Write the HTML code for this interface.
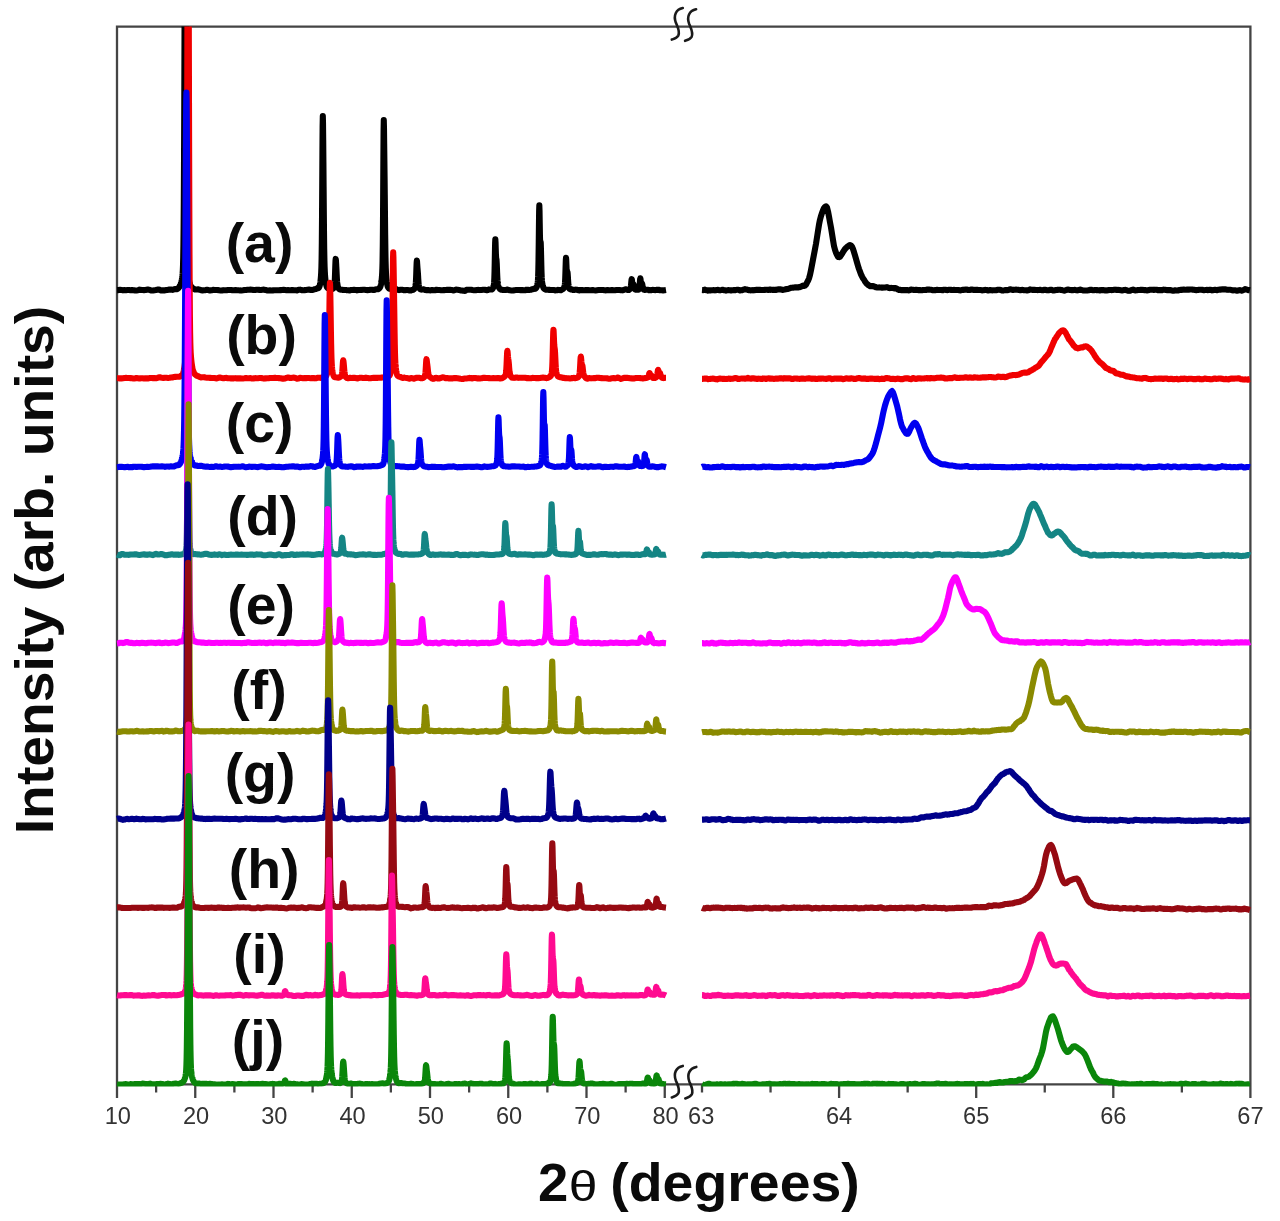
<!DOCTYPE html>
<html lang="en"><head><meta charset="utf-8"><title>XRD patterns</title>
<style>html,body{margin:0;padding:0;background:#fff}svg{display:block}</style></head>
<body>
<svg width="1280" height="1221" viewBox="0 0 1280 1221">
<defs><clipPath id="cp"><rect x="116" y="26.6" width="1136" height="1059.8"/></clipPath></defs>
<rect width="1280" height="1221" fill="#ffffff"/>
<g stroke="#444444" stroke-width="2.3" fill="none" stroke-linecap="butt">
<path d="M117,1098 V26.6 H1250.4 V1098"/>
<path d="M117,1084.4 H1250.4"/>
<path d="M156.12,1084 V1092.5"/>
<path d="M195.25,1084 V1098"/>
<path d="M234.38,1084 V1092.5"/>
<path d="M273.50,1084 V1098"/>
<path d="M312.62,1084 V1092.5"/>
<path d="M351.75,1084 V1098"/>
<path d="M390.88,1084 V1092.5"/>
<path d="M430.00,1084 V1098"/>
<path d="M469.12,1084 V1092.5"/>
<path d="M508.25,1084 V1098"/>
<path d="M547.38,1084 V1092.5"/>
<path d="M586.50,1084 V1098"/>
<path d="M625.62,1084 V1092.5"/>
<path d="M664.75,1084 V1098"/>
<path d="M702.00,1084 V1092.5"/>
<path d="M770.55,1084 V1092.5"/>
<path d="M839.10,1084 V1098"/>
<path d="M907.65,1084 V1092.5"/>
<path d="M976.20,1084 V1098"/>
<path d="M1044.75,1084 V1092.5"/>
<path d="M1113.30,1084 V1098"/>
<path d="M1181.85,1084 V1092.5"/>
</g>
<g clip-path="url(#cp)" fill="none" stroke-linejoin="round" stroke-linecap="butt">
<path d="M117.00,290.12 L118.50,290.08 L120.00,289.89 L121.50,290.10 L123.00,290.33 L124.50,290.13 L126.00,290.18 L127.50,290.01 L129.00,289.98 L130.50,290.18 L132.00,289.98 L133.50,290.22 L135.00,290.39 L136.50,290.43 L138.00,290.24 L139.50,289.66 L141.00,289.88 L142.50,290.00 L144.00,290.13 L145.50,290.03 L147.00,289.62 L148.50,289.63 L150.00,290.05 L151.50,290.51 L153.00,290.47 L154.50,290.22 L156.00,290.03 L157.50,289.57 L159.00,289.55 L160.50,290.34 L162.00,290.34 L163.50,290.26 L165.00,290.33 L166.50,290.00 L168.00,289.85 L169.50,289.57 L171.00,289.58 L172.50,289.83 L174.00,289.32 L175.50,289.06 L176.41,289.14 L176.61,289.14 L176.81,289.13 L177.00,289.12 L177.01,289.11 L177.21,289.02 L177.41,288.92 L177.61,288.81 L177.81,288.69 L178.01,288.56 L178.21,288.34 L178.41,288.12 L178.50,288.01 L178.61,287.87 L178.81,287.61 L179.01,287.32 L179.21,287.08 L179.41,286.81 L179.61,286.50 L179.81,286.16 L180.00,285.79 L180.01,285.78 L180.21,285.39 L180.41,284.94 L180.61,284.45 L180.81,283.89 L181.01,283.26 L181.21,282.55 L181.41,281.75 L181.50,281.37 L181.61,280.87 L181.81,279.87 L182.01,278.74 L182.21,277.48 L182.41,275.89 L182.61,273.70 L182.81,270.48 L183.00,265.81 L183.01,265.50 L183.21,257.58 L183.41,245.31 L183.61,226.88 L183.81,200.44 L184.01,164.59 L184.21,119.04 L184.41,65.15 L184.50,39.05 L184.61,6.47 L184.81,-51.31 L185.01,-100.90 L185.21,-134.70 L185.41,-146.75 L185.61,-134.89 L185.81,-101.49 L186.00,-55.10 L186.01,-52.39 L186.21,5.02 L186.41,63.46 L186.61,117.27 L186.81,162.90 L187.01,198.93 L187.21,225.58 L187.41,244.26 L187.50,250.54 L187.61,256.77 L187.81,264.89 L188.01,270.11 L188.21,273.50 L188.41,275.82 L188.61,277.53 L188.81,278.89 L189.00,279.98 L189.01,280.03 L189.21,281.04 L189.41,281.94 L189.61,282.74 L189.81,283.47 L190.01,284.12 L190.21,284.74 L190.41,285.28 L190.50,285.51 L190.61,285.77 L190.81,286.21 L191.01,286.60 L191.21,286.87 L191.41,287.11 L191.61,287.31 L191.81,287.48 L192.00,287.61 L192.01,287.62 L192.21,287.80 L192.41,287.96 L192.61,288.10 L192.81,288.23 L193.01,288.34 L193.21,288.48 L193.41,288.60 L193.50,288.65 L193.61,288.71 L193.81,288.82 L194.01,288.92 L194.21,289.05 L194.41,289.18 L194.61,289.30 L194.81,289.42 L195.00,289.52 L195.01,289.52 L195.21,289.51 L195.41,289.50 L195.61,289.48 L195.81,289.46 L196.01,289.44 L196.21,289.43 L196.41,289.43 L196.50,289.42 L198.00,289.33 L199.50,289.67 L201.00,290.21 L202.50,290.37 L204.00,290.22 L205.50,290.10 L207.00,289.86 L208.50,290.07 L210.00,290.53 L211.50,290.28 L213.00,289.79 L214.50,289.99 L216.00,289.98 L217.50,289.93 L219.00,290.32 L220.50,290.46 L222.00,290.35 L223.50,290.17 L225.00,290.30 L226.50,290.32 L228.00,290.06 L229.50,290.04 L231.00,289.97 L232.50,290.26 L234.00,290.23 L235.50,290.09 L237.00,290.26 L238.50,290.32 L240.00,290.42 L241.50,290.43 L243.00,290.26 L244.50,289.98 L246.00,290.05 L247.50,289.83 L249.00,289.70 L250.50,289.65 L252.00,289.69 L253.50,289.99 L255.00,290.04 L256.50,289.83 L258.00,289.70 L259.50,289.87 L261.00,289.94 L262.50,289.80 L264.00,289.63 L265.50,289.90 L267.00,290.42 L268.50,290.54 L270.00,290.31 L271.50,290.43 L273.00,290.36 L274.50,290.30 L276.00,290.28 L277.50,290.23 L279.00,290.30 L280.50,290.13 L282.00,289.94 L283.50,289.81 L285.00,290.03 L286.50,290.22 L288.00,290.12 L289.50,290.23 L291.00,290.16 L292.50,290.02 L294.00,290.21 L295.50,290.28 L297.00,290.36 L298.50,289.79 L300.00,289.67 L301.50,290.12 L303.00,290.23 L304.50,290.12 L306.00,289.91 L307.50,289.74 L309.00,289.60 L310.50,289.88 L312.00,290.03 L313.50,289.53 L313.81,289.50 L314.01,289.47 L314.21,289.39 L314.41,289.32 L314.61,289.24 L314.81,289.15 L315.00,289.07 L315.01,289.07 L315.21,289.05 L315.41,289.02 L315.61,288.99 L315.81,288.96 L316.01,288.92 L316.21,288.83 L316.41,288.73 L316.50,288.68 L316.61,288.63 L316.81,288.52 L317.01,288.41 L317.21,288.41 L317.41,288.39 L317.61,288.37 L317.81,288.33 L318.00,288.28 L318.01,288.27 L318.21,288.18 L318.41,288.06 L318.61,287.90 L318.81,287.69 L319.01,287.42 L319.21,287.06 L319.41,286.61 L319.50,286.37 L319.61,286.04 L319.81,285.32 L320.01,284.42 L320.21,283.25 L320.41,281.84 L320.61,280.16 L320.81,278.13 L321.00,275.76 L321.01,275.62 L321.21,272.23 L321.41,267.02 L321.61,258.18 L321.81,243.15 L322.01,219.75 L322.21,188.32 L322.41,153.84 L322.50,139.85 L322.61,126.27 L322.81,115.95 L323.01,123.29 L323.21,140.53 L323.41,162.41 L323.61,187.21 L323.81,211.91 L324.00,232.12 L324.01,233.07 L324.21,249.10 L324.41,260.08 L324.61,267.16 L324.81,271.75 L325.01,274.95 L325.21,277.41 L325.41,279.44 L325.50,280.24 L325.61,281.14 L325.81,282.59 L326.01,283.80 L326.21,284.80 L326.41,285.63 L326.61,286.30 L326.71,286.59 L326.81,286.85 L326.91,287.08 L327.00,287.27 L327.01,287.29 L327.11,287.45 L327.21,287.59 L327.31,287.71 L327.41,287.82 L327.51,287.92 L327.61,288.00 L327.71,288.07 L327.81,288.14 L327.91,288.20 L328.01,288.25 L328.11,288.31 L328.21,288.36 L328.31,288.41 L328.41,288.46 L328.50,288.50 L328.51,288.50 L328.61,288.54 L328.71,288.57 L328.81,288.61 L328.91,288.64 L329.01,288.66 L329.11,288.69 L329.21,288.71 L329.31,288.73 L329.41,288.75 L329.51,288.76 L329.61,288.78 L329.71,288.79 L329.81,288.81 L329.91,288.82 L330.00,288.83 L330.01,288.83 L330.11,288.85 L330.21,288.87 L330.31,288.89 L330.41,288.91 L330.51,288.93 L330.61,288.94 L330.71,288.96 L330.81,288.97 L330.91,288.98 L331.01,288.99 L331.11,289.01 L331.21,289.03 L331.31,289.05 L331.41,289.07 L331.50,289.08 L331.51,289.08 L331.61,289.09 L331.71,289.10 L331.81,289.10 L331.91,289.11 L332.01,289.10 L332.11,289.08 L332.21,289.05 L332.31,289.02 L332.41,288.98 L332.51,288.94 L332.61,288.88 L332.71,288.83 L332.81,288.76 L332.91,288.68 L333.00,288.61 L333.01,288.60 L333.11,288.54 L333.21,288.46 L333.31,288.37 L333.41,288.27 L333.51,288.15 L333.61,288.02 L333.71,287.88 L333.81,287.71 L333.91,287.51 L334.11,286.93 L334.31,285.98 L334.50,284.47 L334.51,284.37 L334.71,281.64 L334.91,277.40 L335.11,271.74 L335.31,265.57 L335.51,260.69 L335.71,258.93 L335.91,260.31 L336.00,261.55 L336.11,263.29 L336.31,266.89 L336.51,270.98 L336.71,275.20 L336.91,278.96 L337.11,281.93 L337.31,284.05 L337.50,285.38 L337.51,285.44 L337.71,286.34 L337.91,286.95 L338.11,287.44 L338.31,287.84 L338.51,288.19 L338.71,288.48 L338.91,288.74 L339.00,288.84 L339.11,288.94 L339.31,289.10 L339.51,289.24 L339.71,289.35 L339.91,289.44 L340.11,289.51 L340.31,289.56 L340.50,289.60 L340.51,289.60 L340.71,289.64 L340.91,289.67 L341.11,289.70 L341.31,289.72 L341.51,289.74 L341.71,289.76 L341.91,289.78 L342.00,289.79 L342.11,289.81 L342.31,289.84 L342.51,289.87 L342.71,289.90 L342.91,289.94 L343.11,289.95 L343.31,289.94 L343.50,289.94 L343.51,289.93 L343.71,289.93 L343.91,289.92 L344.11,289.93 L344.31,289.94 L344.51,289.96 L344.71,289.97 L344.91,289.99 L345.00,289.99 L345.11,290.00 L345.31,290.01 L345.51,290.03 L345.71,290.04 L345.91,290.05 L346.11,290.07 L346.31,290.11 L346.50,290.14 L346.51,290.14 L346.71,290.17 L348.00,290.27 L349.50,290.40 L351.00,290.08 L352.50,289.96 L354.00,289.76 L355.50,289.94 L357.00,290.38 L358.50,290.08 L360.00,289.96 L361.50,289.91 L363.00,289.75 L364.50,289.81 L366.00,289.99 L367.50,290.10 L369.00,290.01 L370.50,289.71 L372.00,289.74 L373.50,290.06 L374.78,289.71 L374.98,289.61 L375.00,289.60 L375.18,289.55 L375.38,289.49 L375.58,289.44 L375.78,289.38 L375.98,289.32 L376.18,289.30 L376.38,289.28 L376.50,289.27 L376.58,289.26 L376.78,289.24 L376.98,289.22 L377.18,289.22 L377.38,289.23 L377.58,289.23 L377.78,289.23 L377.98,289.22 L378.00,289.22 L378.18,289.12 L378.38,289.01 L378.58,288.89 L378.78,288.75 L378.98,288.60 L379.18,288.42 L379.38,288.22 L379.50,288.08 L379.58,287.99 L379.78,287.71 L379.98,287.37 L380.18,286.99 L380.38,286.51 L380.58,285.93 L380.78,285.21 L380.98,284.33 L381.00,284.23 L381.18,283.30 L381.38,282.04 L381.58,280.52 L381.78,278.65 L381.98,276.32 L382.18,273.10 L382.38,268.19 L382.50,263.75 L382.58,259.86 L382.78,245.58 L382.98,223.05 L383.18,192.41 L383.38,158.27 L383.58,130.50 L383.78,119.98 L383.98,127.69 L384.00,129.11 L384.18,143.82 L384.38,160.44 L384.58,176.81 L384.78,195.54 L384.98,215.99 L385.18,234.99 L385.38,250.22 L385.50,257.21 L385.58,261.01 L385.78,268.06 L385.98,272.62 L386.18,275.76 L386.38,278.15 L386.58,280.08 L386.78,281.69 L386.98,283.04 L387.00,283.16 L387.18,284.19 L387.38,285.14 L387.58,285.92 L387.78,286.55 L387.98,287.06 L388.18,287.47 L388.38,287.79 L388.50,287.96 L388.58,288.06 L388.78,288.28 L388.98,288.46 L389.18,288.57 L389.38,288.66 L389.58,288.74 L389.78,288.80 L389.98,288.85 L390.00,288.86 L390.18,288.83 L390.38,288.79 L390.58,288.75 L390.78,288.70 L390.98,288.65 L391.18,288.73 L391.38,288.82 L391.50,288.88 L391.58,288.91 L391.78,289.00 L391.98,289.08 L392.18,289.12 L392.38,289.14 L392.58,289.17 L392.78,289.19 L392.98,289.21 L393.00,289.21 L393.18,289.24 L393.38,289.27 L393.58,289.30 L393.78,289.33 L393.98,289.35 L394.18,289.29 L394.38,289.22 L394.50,289.18 L394.58,289.15 L394.78,289.08 L396.00,289.13 L397.50,289.80 L399.00,290.10 L400.50,289.73 L402.00,289.72 L403.50,290.10 L405.00,290.28 L406.50,290.01 L407.87,289.93 L408.00,289.93 L408.07,289.96 L408.27,290.04 L408.47,290.13 L408.67,290.22 L408.87,290.30 L409.07,290.36 L409.27,290.37 L409.47,290.38 L409.50,290.38 L409.67,290.39 L409.87,290.40 L410.07,290.41 L410.27,290.42 L410.47,290.43 L410.67,290.45 L410.87,290.46 L411.00,290.46 L411.07,290.43 L411.27,290.34 L411.47,290.25 L411.67,290.16 L411.87,290.06 L412.07,289.99 L412.27,289.98 L412.47,289.96 L412.50,289.96 L412.67,289.94 L412.87,289.91 L413.07,289.85 L413.27,289.73 L413.47,289.59 L413.67,289.44 L413.87,289.26 L414.00,289.13 L414.07,289.07 L414.27,288.86 L414.47,288.61 L414.67,288.31 L414.87,287.96 L415.07,287.53 L415.27,286.98 L415.47,286.14 L415.50,285.97 L415.67,284.72 L415.87,282.26 L416.07,278.38 L416.27,273.08 L416.47,267.16 L416.67,262.34 L416.87,260.60 L417.00,261.34 L417.07,262.17 L417.27,265.21 L417.47,268.03 L417.67,270.28 L417.87,272.70 L418.07,275.76 L418.27,279.06 L418.47,282.02 L418.50,282.41 L418.67,284.29 L418.87,285.84 L419.07,286.84 L419.27,287.52 L419.47,288.01 L419.67,288.40 L419.87,288.72 L420.00,288.91 L420.07,288.98 L420.27,289.16 L420.47,289.30 L420.67,289.41 L420.87,289.49 L421.07,289.54 L421.27,289.57 L421.47,289.59 L421.50,289.59 L421.67,289.59 L421.87,289.59 L422.07,289.57 L422.27,289.53 L422.47,289.48 L422.67,289.44 L422.87,289.39 L423.00,289.36 L423.07,289.36 L423.27,289.38 L423.47,289.39 L423.67,289.41 L423.87,289.42 L424.07,289.46 L424.27,289.56 L424.47,289.66 L424.50,289.68 L424.67,289.76 L424.87,289.86 L425.07,289.94 L425.27,289.98 L425.47,290.02 L425.67,290.05 L425.87,290.09 L426.00,290.11 L426.07,290.12 L426.27,290.13 L426.47,290.15 L426.67,290.16 L426.87,290.18 L427.07,290.17 L427.27,290.11 L427.47,290.05 L427.50,290.04 L427.67,289.99 L427.87,289.93 L429.00,290.31 L430.50,290.36 L432.00,289.94 L433.50,290.23 L435.00,290.12 L436.50,289.87 L438.00,290.04 L439.50,290.02 L441.00,290.20 L442.50,290.31 L444.00,290.11 L445.50,289.95 L447.00,289.88 L448.50,289.90 L450.00,289.76 L451.50,289.93 L453.00,290.41 L454.50,290.15 L456.00,289.66 L457.50,289.71 L459.00,289.95 L460.50,290.44 L462.00,290.43 L463.50,290.76 L465.00,290.87 L466.50,289.91 L468.00,289.78 L469.50,289.79 L471.00,289.76 L472.50,290.04 L474.00,290.28 L475.50,290.29 L477.00,289.98 L478.50,289.91 L480.00,290.08 L481.50,289.91 L483.00,289.72 L484.50,289.71 L486.00,290.06 L486.33,290.13 L486.53,290.17 L486.73,290.22 L486.93,290.26 L487.13,290.24 L487.33,290.19 L487.50,290.14 L487.53,290.14 L487.73,290.08 L487.93,290.03 L488.13,289.94 L488.33,289.82 L488.53,289.70 L488.73,289.58 L488.93,289.46 L489.00,289.42 L489.13,289.43 L489.33,289.45 L489.53,289.47 L489.73,289.48 L489.93,289.50 L490.13,289.51 L490.33,289.52 L490.50,289.52 L490.53,289.52 L490.73,289.52 L490.93,289.51 L491.13,289.51 L491.33,289.51 L491.53,289.50 L491.73,289.47 L491.93,289.42 L492.00,289.39 L492.13,289.29 L492.33,289.10 L492.53,288.86 L492.73,288.58 L492.93,288.23 L493.13,287.80 L493.33,287.28 L493.50,286.74 L493.53,286.63 L493.73,285.75 L493.93,284.42 L494.13,282.15 L494.33,278.18 L494.53,271.75 L494.73,262.65 L494.93,252.09 L495.00,248.54 L495.13,242.99 L495.33,239.21 L495.53,242.13 L495.73,248.59 L495.93,254.51 L496.13,257.76 L496.33,258.83 L496.50,259.68 L496.53,259.95 L496.73,263.08 L496.93,267.98 L497.13,273.25 L497.33,277.72 L497.53,280.93 L497.73,283.01 L497.93,284.33 L498.00,284.68 L498.13,285.26 L498.33,285.98 L498.53,286.55 L498.73,287.03 L498.93,287.44 L499.13,287.82 L499.33,288.16 L499.50,288.41 L499.53,288.46 L499.73,288.71 L499.93,288.94 L500.13,289.12 L500.33,289.26 L500.53,289.39 L500.73,289.51 L500.93,289.62 L501.00,289.66 L501.13,289.68 L501.33,289.72 L501.53,289.74 L501.73,289.77 L501.93,289.79 L502.13,289.82 L502.33,289.85 L502.50,289.87 L502.53,289.88 L502.73,289.91 L502.93,289.93 L503.13,289.96 L503.33,289.98 L503.53,290.01 L503.73,290.03 L503.93,290.06 L504.00,290.06 L504.13,290.05 L504.33,290.04 L504.53,290.02 L504.73,290.01 L504.93,289.99 L505.13,289.98 L505.33,289.97 L505.50,289.96 L505.53,289.96 L505.73,289.96 L505.93,289.95 L506.13,289.90 L506.33,289.82 L507.00,289.58 L508.50,289.93 L510.00,290.31 L511.50,290.50 L513.00,290.50 L514.50,290.18 L516.00,290.06 L517.50,289.94 L519.00,290.06 L520.50,290.11 L522.00,290.00 L523.50,290.31 L525.00,290.27 L526.50,289.72 L528.00,289.84 L529.50,289.93 L530.33,289.83 L530.53,289.80 L530.73,289.78 L530.93,289.76 L531.00,289.75 L531.13,289.69 L531.33,289.59 L531.53,289.50 L531.73,289.41 L531.93,289.31 L532.13,289.26 L532.33,289.24 L532.50,289.22 L532.53,289.22 L532.73,289.19 L532.93,289.16 L533.13,289.09 L533.33,289.00 L533.53,288.91 L533.73,288.81 L533.93,288.71 L534.00,288.67 L534.13,288.71 L534.33,288.76 L534.53,288.80 L534.73,288.84 L534.93,288.86 L535.13,288.81 L535.33,288.71 L535.50,288.60 L535.53,288.58 L535.73,288.43 L535.93,288.24 L536.13,288.02 L536.33,287.74 L536.53,287.39 L536.73,286.96 L536.93,286.42 L537.00,286.21 L537.13,285.74 L537.33,284.89 L537.53,283.82 L537.73,282.37 L537.93,280.15 L538.13,276.38 L538.33,269.78 L538.50,260.94 L538.53,259.03 L538.73,243.80 L538.93,226.14 L539.13,211.11 L539.33,205.30 L539.53,211.12 L539.73,223.35 L539.93,234.82 L540.00,237.74 L540.13,241.25 L540.33,242.42 L540.53,241.42 L540.73,242.66 L540.93,248.31 L541.13,256.82 L541.33,265.46 L541.50,271.56 L541.53,272.48 L541.73,277.38 L541.93,280.53 L542.13,282.52 L542.33,283.87 L542.53,284.89 L542.73,285.69 L542.93,286.35 L543.00,286.55 L543.13,286.94 L543.33,287.44 L543.53,287.87 L543.73,288.22 L543.93,288.51 L544.13,288.72 L544.33,288.88 L544.50,289.00 L544.53,289.02 L544.73,289.13 L544.93,289.22 L545.13,289.32 L545.33,289.43 L545.53,289.52 L545.73,289.61 L545.93,289.69 L546.00,289.72 L546.13,289.73 L546.33,289.75 L546.53,289.77 L546.73,289.78 L546.93,289.79 L547.13,289.80 L547.33,289.80 L547.50,289.80 L547.53,289.80 L547.73,289.79 L547.93,289.79 L548.13,289.80 L548.33,289.82 L548.53,289.83 L548.73,289.85 L548.93,289.86 L549.00,289.87 L549.13,289.87 L549.33,289.88 L549.53,289.89 L549.73,289.89 L549.93,289.90 L550.13,289.93 L550.33,289.97 L550.50,290.01 L552.00,289.99 L553.50,289.93 L555.00,290.39 L556.50,290.31 L557.02,290.27 L557.22,290.19 L557.42,290.10 L557.62,290.02 L557.82,289.93 L558.00,289.86 L558.02,289.86 L558.22,289.91 L558.42,289.96 L558.62,290.00 L558.82,290.05 L559.02,290.09 L559.22,290.08 L559.42,290.07 L559.50,290.06 L559.62,290.06 L559.82,290.04 L560.02,290.04 L560.22,290.07 L560.42,290.11 L560.62,290.14 L560.82,290.17 L561.00,290.19 L561.02,290.18 L561.22,290.05 L561.42,289.91 L561.62,289.77 L561.82,289.62 L562.02,289.48 L562.22,289.40 L562.42,289.31 L562.50,289.27 L562.62,289.21 L562.82,289.09 L563.02,288.95 L563.22,288.76 L563.42,288.53 L563.62,288.27 L563.82,287.96 L564.00,287.63 L564.02,287.60 L564.22,287.30 L564.42,286.86 L564.62,286.14 L564.82,284.84 L565.02,282.48 L565.22,278.46 L565.42,272.72 L565.50,270.06 L565.62,265.97 L565.82,260.12 L566.02,257.70 L566.22,259.86 L566.42,264.72 L566.62,269.51 L566.82,272.41 L567.00,273.07 L567.02,273.05 L567.22,272.33 L567.42,271.85 L567.62,273.00 L567.82,275.79 L568.02,279.18 L568.22,282.30 L568.42,284.66 L568.50,285.38 L568.62,286.25 L568.82,287.28 L569.02,287.97 L569.22,288.34 L569.42,288.62 L569.62,288.83 L569.82,288.98 L570.00,289.09 L570.02,289.10 L570.22,289.22 L570.42,289.31 L570.62,289.38 L570.82,289.43 L571.02,289.46 L571.22,289.46 L571.42,289.45 L571.50,289.44 L571.62,289.43 L571.82,289.41 L572.02,289.40 L572.22,289.51 L572.42,289.62 L572.62,289.73 L572.82,289.84 L573.00,289.93 L573.02,289.93 L573.22,289.94 L573.42,289.95 L573.62,289.96 L573.82,289.97 L574.02,289.98 L574.22,289.93 L574.42,289.88 L574.50,289.87 L574.62,289.84 L574.82,289.79 L575.02,289.75 L575.22,289.72 L575.42,289.70 L575.62,289.67 L575.82,289.65 L576.00,289.62 L576.02,289.63 L576.22,289.67 L576.42,289.71 L576.62,289.75 L576.82,289.78 L577.02,289.83 L577.50,290.02 L579.00,290.41 L580.50,290.09 L582.00,289.97 L583.50,290.20 L585.00,290.15 L586.50,289.99 L588.00,290.13 L589.50,290.29 L591.00,290.23 L592.50,290.06 L594.00,290.32 L595.50,290.44 L597.00,290.22 L598.50,290.03 L600.00,289.95 L601.50,290.06 L603.00,290.05 L604.50,290.29 L606.00,290.38 L607.50,290.00 L609.00,290.24 L610.50,290.28 L612.00,289.98 L613.50,290.20 L615.00,290.19 L616.50,289.97 L618.00,290.05 L619.50,289.98 L621.00,290.20 L622.50,290.33 L622.72,290.29 L622.92,290.25 L623.12,290.17 L623.32,290.07 L623.52,289.97 L623.72,289.87 L623.92,289.77 L624.00,289.72 L624.12,289.70 L624.32,289.65 L624.52,289.60 L624.72,289.55 L624.92,289.50 L625.12,289.45 L625.32,289.42 L625.50,289.39 L625.52,289.38 L625.72,289.35 L625.92,289.31 L626.12,289.36 L626.32,289.47 L626.52,289.57 L626.72,289.67 L626.92,289.77 L627.00,289.81 L627.12,289.83 L627.32,289.85 L627.52,289.88 L627.72,289.90 L627.92,289.92 L628.12,289.93 L628.32,289.93 L628.50,289.93 L628.52,289.93 L628.72,289.93 L628.92,289.91 L629.12,289.82 L629.32,289.66 L629.52,289.49 L629.72,289.31 L629.92,289.09 L630.00,288.99 L630.12,288.87 L630.32,288.58 L630.52,288.10 L630.72,287.27 L630.92,285.92 L631.12,284.02 L631.32,281.80 L631.50,280.04 L631.52,279.89 L631.72,279.13 L631.92,279.91 L632.12,281.65 L632.32,283.45 L632.52,284.70 L632.72,285.16 L632.92,284.94 L633.00,284.73 L633.12,284.42 L633.32,284.07 L633.52,284.29 L633.72,285.16 L633.92,286.33 L634.12,287.40 L634.32,288.20 L634.50,288.68 L634.52,288.72 L634.72,289.05 L634.92,289.24 L635.12,289.39 L635.32,289.51 L635.52,289.61 L635.72,289.69 L635.92,289.75 L636.00,289.77 L636.12,289.77 L636.32,289.75 L636.52,289.72 L636.72,289.68 L636.92,289.63 L637.12,289.64 L637.32,289.69 L637.50,289.73 L637.52,289.73 L637.72,289.76 L637.92,289.77 L638.12,289.76 L638.32,289.73 L638.52,289.66 L638.72,289.54 L638.92,289.32 L639.00,289.17 L639.12,288.81 L639.32,287.87 L639.52,286.31 L639.72,284.10 L639.92,281.50 L640.12,279.23 L640.32,278.30 L640.50,278.99 L640.52,279.15 L640.72,281.11 L640.92,283.18 L641.12,284.62 L641.32,285.17 L641.52,284.92 L641.72,284.22 L641.92,283.59 L642.00,283.49 L642.12,283.61 L642.32,284.43 L642.52,285.69 L642.72,286.96 L642.92,287.98 L643.12,288.68 L643.32,289.11 L643.50,289.35 L643.52,289.37 L643.72,289.55 L643.92,289.69 L644.12,289.77 L644.32,289.82 L644.52,289.86 L644.72,289.88 L644.92,289.89 L645.00,289.89 L645.12,289.87 L645.32,289.84 L645.52,289.81 L645.72,289.77 L645.92,289.73 L646.12,289.72 L646.32,289.73 L646.50,289.73 L646.52,289.73 L646.72,289.74 L646.92,289.74 L647.12,289.74 L647.32,289.74 L647.52,289.74 L647.72,289.74 L647.92,289.74 L648.00,289.73 L648.12,289.79 L648.32,289.88 L648.52,289.96 L648.72,290.05 L648.92,290.14 L649.12,290.18 L649.32,290.17 L649.50,290.17 L649.52,290.17 L649.72,290.17 L649.92,290.17 L650.12,290.17 L650.32,290.18 L650.52,290.19 L650.72,290.19 L650.92,290.20 L651.00,290.20 L651.12,290.17 L651.32,290.12 L652.50,289.90 L654.00,290.01 L655.50,290.14 L657.00,289.79 L658.50,289.80 L660.00,290.23 L661.50,290.25 L663.00,290.35 L664.50,290.16 L666.00,289.92" stroke="#000000" stroke-width="6.1"/>
<path d="M702.00,290.04 L703.00,290.11 L704.00,290.04 L705.00,289.63 L706.00,290.15 L707.00,290.25 L708.00,290.63 L709.00,290.33 L710.00,290.40 L711.00,290.35 L712.00,290.19 L713.00,290.16 L714.00,290.08 L715.00,290.34 L716.00,290.10 L717.00,290.00 L718.00,289.89 L719.00,290.22 L720.00,290.33 L721.00,290.11 L722.00,289.88 L723.00,289.77 L724.00,290.19 L725.00,290.36 L726.00,290.64 L727.00,290.38 L728.00,290.14 L729.00,290.13 L730.00,290.34 L731.00,290.53 L732.00,290.33 L733.00,290.23 L734.00,290.08 L735.00,290.20 L736.00,289.91 L737.00,289.81 L738.00,289.78 L739.00,289.94 L740.00,290.40 L741.00,290.26 L742.00,290.21 L743.00,289.71 L744.00,289.45 L745.00,289.16 L746.00,289.41 L747.00,289.52 L748.00,289.98 L749.00,290.13 L750.00,290.27 L751.00,290.35 L752.00,290.16 L753.00,290.38 L754.00,290.07 L755.00,290.18 L756.00,289.84 L757.00,289.97 L758.00,289.74 L759.00,289.86 L760.00,289.85 L761.00,289.95 L762.00,289.95 L763.00,289.96 L764.00,290.05 L765.00,289.83 L766.00,289.80 L767.00,289.77 L768.00,289.86 L769.00,289.83 L770.00,289.49 L771.00,289.84 L772.00,289.73 L773.00,289.92 L774.00,289.87 L775.00,289.88 L776.00,289.97 L777.00,289.60 L778.00,289.52 L779.00,289.19 L780.00,289.31 L781.00,289.56 L782.00,289.81 L783.00,289.97 L784.00,289.63 L785.00,289.43 L786.00,289.10 L787.00,289.08 L788.00,288.91 L789.00,288.58 L790.00,288.23 L791.00,287.87 L792.00,287.69 L793.00,287.66 L794.00,287.47 L795.00,287.41 L796.00,287.37 L797.00,287.40 L798.00,287.40 L799.00,286.94 L800.00,287.13 L801.00,286.51 L802.00,286.25 L803.00,285.55 L804.00,285.91 L805.00,285.55 L806.00,284.56 L807.00,282.58 L808.00,280.81 L809.00,278.37 L810.00,274.87 L811.00,270.11 L812.00,264.85 L813.00,259.57 L814.00,254.34 L815.00,249.15 L816.00,243.80 L817.00,237.39 L818.00,230.97 L819.00,224.68 L820.00,219.68 L821.00,215.92 L822.00,213.07 L823.00,210.20 L824.00,208.05 L825.00,206.73 L826.00,206.33 L827.00,207.49 L828.00,211.41 L829.00,216.65 L830.00,222.28 L831.00,227.53 L832.00,233.72 L833.00,239.98 L834.00,245.95 L835.00,249.87 L836.00,252.76 L837.00,254.97 L838.00,256.90 L839.00,257.12 L840.00,256.70 L841.00,255.27 L842.00,253.77 L843.00,251.95 L844.00,250.51 L845.00,249.00 L846.00,248.05 L847.00,246.93 L848.00,246.21 L849.00,245.55 L850.00,245.07 L851.00,245.48 L852.00,246.68 L853.00,249.05 L854.00,252.04 L855.00,255.41 L856.00,258.77 L857.00,262.38 L858.00,265.76 L859.00,268.98 L860.00,271.67 L861.00,274.33 L862.00,276.43 L863.00,278.39 L864.00,279.61 L865.00,281.43 L866.00,282.85 L867.00,283.96 L868.00,284.75 L869.00,285.52 L870.00,286.13 L871.00,286.26 L872.00,286.06 L873.00,285.95 L874.00,286.46 L875.00,286.70 L876.00,287.33 L877.00,287.45 L878.00,287.56 L879.00,287.38 L880.00,287.43 L881.00,287.62 L882.00,287.79 L883.00,287.43 L884.00,287.58 L885.00,287.42 L886.00,287.34 L887.00,287.12 L888.00,287.35 L889.00,288.08 L890.00,288.15 L891.00,287.90 L892.00,287.95 L893.00,288.09 L894.00,288.33 L895.00,288.01 L896.00,288.20 L897.00,288.96 L898.00,289.55 L899.00,289.97 L900.00,289.79 L901.00,290.08 L902.00,290.08 L903.00,290.26 L904.00,290.05 L905.00,290.18 L906.00,289.94 L907.00,290.00 L908.00,290.22 L909.00,290.36 L910.00,290.10 L911.00,289.63 L912.00,289.67 L913.00,289.78 L914.00,289.97 L915.00,289.94 L916.00,289.75 L917.00,289.89 L918.00,289.93 L919.00,290.15 L920.00,290.06 L921.00,290.18 L922.00,290.20 L923.00,290.02 L924.00,290.06 L925.00,289.98 L926.00,290.00 L927.00,289.56 L928.00,289.63 L929.00,289.58 L930.00,289.75 L931.00,289.82 L932.00,289.99 L933.00,290.24 L934.00,290.22 L935.00,290.15 L936.00,289.93 L937.00,289.80 L938.00,289.97 L939.00,290.03 L940.00,290.04 L941.00,290.07 L942.00,290.09 L943.00,290.08 L944.00,289.70 L945.00,289.75 L946.00,289.86 L947.00,290.12 L948.00,289.98 L949.00,289.80 L950.00,289.76 L951.00,289.87 L952.00,289.98 L953.00,289.99 L954.00,289.88 L955.00,289.96 L956.00,290.02 L957.00,289.97 L958.00,290.04 L959.00,290.13 L960.00,290.38 L961.00,290.24 L962.00,290.08 L963.00,289.76 L964.00,289.90 L965.00,289.59 L966.00,289.71 L967.00,289.54 L968.00,290.02 L969.00,290.08 L970.00,289.98 L971.00,289.61 L972.00,289.50 L973.00,289.67 L974.00,289.91 L975.00,289.99 L976.00,289.87 L977.00,289.82 L978.00,290.02 L979.00,289.95 L980.00,289.99 L981.00,290.09 L982.00,290.36 L983.00,290.28 L984.00,290.12 L985.00,289.91 L986.00,289.99 L987.00,290.13 L988.00,290.56 L989.00,290.28 L990.00,290.14 L991.00,290.15 L992.00,290.34 L993.00,290.27 L994.00,290.20 L995.00,290.21 L996.00,290.24 L997.00,289.98 L998.00,289.75 L999.00,289.74 L1000.00,289.71 L1001.00,290.18 L1002.00,290.46 L1003.00,290.60 L1004.00,290.39 L1005.00,290.12 L1006.00,290.05 L1007.00,290.27 L1008.00,289.97 L1009.00,289.74 L1010.00,289.25 L1011.00,289.58 L1012.00,289.76 L1013.00,289.99 L1014.00,289.78 L1015.00,289.69 L1016.00,289.64 L1017.00,289.71 L1018.00,289.72 L1019.00,290.09 L1020.00,290.20 L1021.00,290.14 L1022.00,289.83 L1023.00,289.97 L1024.00,290.17 L1025.00,290.31 L1026.00,290.24 L1027.00,290.42 L1028.00,290.18 L1029.00,289.94 L1030.00,289.40 L1031.00,289.68 L1032.00,289.74 L1033.00,289.91 L1034.00,289.71 L1035.00,289.88 L1036.00,289.97 L1037.00,290.00 L1038.00,290.09 L1039.00,289.95 L1040.00,289.83 L1041.00,290.05 L1042.00,290.16 L1043.00,290.27 L1044.00,289.74 L1045.00,289.77 L1046.00,289.99 L1047.00,290.23 L1048.00,290.34 L1049.00,290.16 L1050.00,289.80 L1051.00,289.76 L1052.00,290.05 L1053.00,290.46 L1054.00,290.39 L1055.00,290.28 L1056.00,290.04 L1057.00,290.06 L1058.00,289.73 L1059.00,289.74 L1060.00,289.77 L1061.00,289.94 L1062.00,290.12 L1063.00,290.40 L1064.00,290.64 L1065.00,290.47 L1066.00,290.05 L1067.00,289.73 L1068.00,289.62 L1069.00,289.74 L1070.00,289.92 L1071.00,290.10 L1072.00,290.13 L1073.00,290.09 L1074.00,290.04 L1075.00,289.88 L1076.00,290.14 L1077.00,290.33 L1078.00,290.30 L1079.00,289.88 L1080.00,289.61 L1081.00,289.76 L1082.00,290.11 L1083.00,290.37 L1084.00,290.54 L1085.00,290.51 L1086.00,290.53 L1087.00,290.47 L1088.00,290.37 L1089.00,290.17 L1090.00,289.77 L1091.00,289.68 L1092.00,289.99 L1093.00,290.18 L1094.00,290.10 L1095.00,289.98 L1096.00,290.08 L1097.00,290.10 L1098.00,290.19 L1099.00,290.28 L1100.00,290.48 L1101.00,290.13 L1102.00,290.11 L1103.00,290.05 L1104.00,290.27 L1105.00,290.37 L1106.00,290.49 L1107.00,290.40 L1108.00,290.32 L1109.00,289.95 L1110.00,290.03 L1111.00,290.03 L1112.00,290.15 L1113.00,289.92 L1114.00,289.80 L1115.00,289.67 L1116.00,289.85 L1117.00,289.91 L1118.00,289.95 L1119.00,289.90 L1120.00,290.03 L1121.00,290.35 L1122.00,290.51 L1123.00,290.31 L1124.00,290.08 L1125.00,289.86 L1126.00,289.98 L1127.00,290.41 L1128.00,290.70 L1129.00,290.86 L1130.00,290.70 L1131.00,290.21 L1132.00,289.93 L1133.00,289.64 L1134.00,290.10 L1135.00,290.41 L1136.00,290.37 L1137.00,290.17 L1138.00,289.99 L1139.00,290.02 L1140.00,289.91 L1141.00,289.71 L1142.00,289.93 L1143.00,289.89 L1144.00,290.18 L1145.00,290.05 L1146.00,290.32 L1147.00,290.39 L1148.00,290.26 L1149.00,290.01 L1150.00,289.83 L1151.00,289.77 L1152.00,289.78 L1153.00,289.70 L1154.00,289.89 L1155.00,289.81 L1156.00,289.76 L1157.00,289.83 L1158.00,290.25 L1159.00,289.99 L1160.00,290.11 L1161.00,290.04 L1162.00,290.18 L1163.00,289.73 L1164.00,289.66 L1165.00,289.76 L1166.00,290.02 L1167.00,290.09 L1168.00,290.10 L1169.00,290.10 L1170.00,290.04 L1171.00,290.25 L1172.00,290.50 L1173.00,290.70 L1174.00,290.60 L1175.00,290.27 L1176.00,290.38 L1177.00,290.45 L1178.00,290.55 L1179.00,289.99 L1180.00,290.02 L1181.00,289.82 L1182.00,289.93 L1183.00,289.59 L1184.00,289.63 L1185.00,289.71 L1186.00,289.69 L1187.00,289.62 L1188.00,289.60 L1189.00,289.64 L1190.00,289.58 L1191.00,289.46 L1192.00,289.44 L1193.00,289.74 L1194.00,289.71 L1195.00,290.06 L1196.00,290.11 L1197.00,290.08 L1198.00,289.96 L1199.00,289.74 L1200.00,289.75 L1201.00,289.69 L1202.00,289.72 L1203.00,290.02 L1204.00,290.24 L1205.00,290.10 L1206.00,289.92 L1207.00,289.84 L1208.00,290.21 L1209.00,289.88 L1210.00,290.00 L1211.00,289.79 L1212.00,290.43 L1213.00,290.15 L1214.00,290.04 L1215.00,289.81 L1216.00,290.06 L1217.00,290.20 L1218.00,289.81 L1219.00,289.74 L1220.00,289.47 L1221.00,289.69 L1222.00,289.40 L1223.00,289.36 L1224.00,289.31 L1225.00,289.34 L1226.00,289.54 L1227.00,289.73 L1228.00,289.84 L1229.00,289.70 L1230.00,289.68 L1231.00,289.89 L1232.00,290.28 L1233.00,290.33 L1234.00,290.28 L1235.00,290.27 L1236.00,290.46 L1237.00,290.64 L1238.00,290.44 L1239.00,290.18 L1240.00,290.14 L1241.00,290.45 L1242.00,290.74 L1243.00,290.12 L1244.00,289.83 L1245.00,289.06 L1246.00,289.56 L1247.00,289.60 L1248.00,290.14 L1249.00,290.00 L1250.00,290.20" stroke="#000000" stroke-width="6.1"/>
<path d="M117.00,378.08 L118.50,378.17 L120.00,378.37 L121.50,378.39 L123.00,378.22 L124.50,377.97 L126.00,377.92 L127.50,377.96 L129.00,378.00 L130.50,378.08 L132.00,378.30 L133.50,378.55 L135.00,378.46 L136.50,377.98 L138.00,378.21 L139.50,378.50 L141.00,378.18 L142.50,378.22 L144.00,378.46 L145.50,378.21 L147.00,378.34 L148.50,378.39 L150.00,378.01 L151.50,378.04 L153.00,378.12 L154.50,378.05 L156.00,378.27 L157.50,377.84 L159.00,377.22 L160.50,377.39 L162.00,377.67 L163.50,377.90 L165.00,377.78 L166.50,377.79 L168.00,377.94 L169.50,377.78 L171.00,377.45 L172.50,377.38 L174.00,377.10 L175.50,376.85 L177.00,376.78 L178.50,376.74 L179.11,376.43 L179.31,376.47 L179.51,376.51 L179.71,376.54 L179.91,376.57 L180.00,376.58 L180.11,376.50 L180.31,376.36 L180.51,376.20 L180.71,376.03 L180.91,375.85 L181.11,375.71 L181.31,375.59 L181.50,375.47 L181.51,375.46 L181.71,375.30 L181.91,375.11 L182.11,374.83 L182.31,374.48 L182.51,374.07 L182.71,373.62 L182.91,373.11 L183.00,372.86 L183.11,372.60 L183.31,372.06 L183.51,371.44 L183.71,370.72 L183.91,369.89 L184.11,368.94 L184.31,367.83 L184.50,366.65 L184.51,366.58 L184.71,365.15 L184.91,363.53 L185.11,361.57 L185.31,359.17 L185.51,356.12 L185.71,351.95 L185.91,345.74 L186.00,341.91 L186.11,336.04 L186.31,320.64 L186.51,296.65 L186.71,261.05 L186.91,211.55 L187.11,147.89 L187.31,73.05 L187.50,-1.94 L187.51,-5.82 L187.71,-77.55 L187.91,-128.51 L188.11,-147.07 L188.31,-129.03 L188.51,-79.29 L188.71,-9.01 L188.91,68.80 L189.00,103.19 L189.11,143.06 L189.31,206.57 L189.51,256.24 L189.71,292.21 L189.91,316.64 L190.11,332.42 L190.31,342.35 L190.50,348.39 L190.51,348.65 L190.71,352.83 L190.91,355.82 L191.11,358.19 L191.31,360.22 L191.51,361.98 L191.71,363.54 L191.91,364.94 L192.00,365.53 L192.11,366.16 L192.31,367.22 L192.51,368.17 L192.71,369.02 L192.91,369.77 L193.11,370.46 L193.31,371.09 L193.50,371.63 L193.51,371.65 L193.71,372.16 L193.91,372.61 L194.11,373.02 L194.31,373.38 L194.51,373.70 L194.71,374.00 L194.91,374.27 L195.00,374.38 L195.11,374.48 L195.31,374.65 L195.51,374.80 L195.71,374.93 L195.91,375.05 L196.11,375.19 L196.31,375.36 L196.50,375.51 L196.51,375.51 L196.71,375.66 L196.91,375.80 L197.11,375.89 L197.31,375.95 L197.51,376.00 L197.71,376.05 L197.91,376.09 L198.00,376.11 L198.11,376.16 L198.31,376.26 L198.51,376.35 L198.71,376.45 L198.91,376.53 L199.11,376.63 L199.50,376.85 L201.00,377.41 L202.50,377.32 L204.00,377.17 L205.50,377.49 L207.00,377.75 L208.50,377.77 L210.00,377.83 L211.50,378.03 L213.00,377.98 L214.50,378.00 L216.00,378.36 L217.50,378.16 L219.00,377.67 L220.50,377.64 L222.00,377.99 L223.50,378.29 L225.00,377.96 L226.50,377.89 L228.00,378.19 L229.50,378.23 L231.00,378.35 L232.50,378.37 L234.00,378.34 L235.50,378.17 L237.00,378.36 L238.50,378.40 L240.00,378.24 L241.50,378.53 L243.00,378.51 L244.50,378.30 L246.00,378.05 L247.50,378.23 L249.00,378.26 L250.50,378.12 L252.00,378.52 L253.50,378.38 L255.00,378.17 L256.50,378.24 L258.00,378.18 L259.50,378.08 L261.00,377.95 L262.50,378.31 L264.00,378.59 L265.50,378.35 L267.00,378.20 L268.50,378.19 L270.00,377.97 L271.50,377.94 L273.00,377.94 L274.50,377.92 L276.00,377.92 L277.50,378.04 L279.00,378.11 L280.50,378.23 L282.00,378.58 L283.50,378.59 L285.00,378.48 L286.50,377.87 L288.00,377.49 L289.50,377.90 L291.00,377.96 L292.50,377.78 L294.00,377.63 L295.50,378.04 L297.00,378.66 L298.50,378.53 L300.00,377.88 L301.50,378.06 L303.00,378.21 L304.50,378.03 L306.00,378.14 L307.50,377.97 L309.00,378.08 L310.50,378.20 L312.00,378.08 L313.50,378.09 L315.00,378.35 L316.50,378.15 L318.00,377.70 L319.50,377.82 L320.93,377.83 L321.00,377.84 L321.13,377.78 L321.33,377.69 L321.53,377.59 L321.73,377.50 L321.93,377.40 L322.13,377.39 L322.33,377.42 L322.50,377.45 L322.53,377.46 L322.73,377.49 L322.93,377.52 L323.13,377.52 L323.33,377.50 L323.53,377.49 L323.73,377.47 L323.93,377.44 L324.00,377.43 L324.13,377.39 L324.33,377.31 L324.53,377.23 L324.73,377.14 L324.93,377.03 L325.13,376.92 L325.33,376.79 L325.50,376.67 L325.53,376.64 L325.73,376.47 L325.93,376.25 L326.13,375.96 L326.33,375.59 L326.53,375.16 L326.73,374.66 L326.93,374.07 L327.00,373.84 L327.13,373.50 L327.33,372.89 L327.53,372.14 L327.73,371.24 L327.93,370.12 L328.13,368.55 L328.33,366.21 L328.50,363.18 L328.53,362.49 L328.73,356.40 L328.93,346.88 L329.13,333.44 L329.33,316.94 L329.53,300.10 L329.73,287.42 L329.93,282.89 L330.00,283.35 L330.13,286.40 L330.33,294.92 L330.53,306.25 L330.73,319.23 L330.93,332.22 L331.13,343.66 L331.33,352.69 L331.50,358.37 L331.53,359.20 L331.73,363.62 L331.93,366.57 L332.13,368.63 L332.33,370.19 L332.53,371.46 L332.73,372.54 L332.93,373.48 L333.00,373.78 L333.13,374.28 L333.33,374.95 L333.53,375.54 L333.73,376.03 L333.93,376.46 L334.13,376.73 L334.23,376.82 L334.33,376.91 L334.43,376.98 L334.50,377.02 L334.53,377.04 L334.63,377.09 L334.73,377.13 L334.83,377.17 L334.93,377.20 L335.03,377.22 L335.13,377.25 L335.23,377.27 L335.33,377.28 L335.43,377.30 L335.53,377.31 L335.63,377.31 L335.73,377.32 L335.83,377.32 L335.93,377.32 L336.00,377.32 L336.03,377.32 L336.13,377.35 L336.23,377.38 L336.33,377.40 L336.43,377.43 L336.53,377.45 L336.63,377.47 L336.73,377.49 L336.83,377.51 L336.93,377.53 L337.03,377.55 L337.13,377.56 L337.23,377.57 L337.33,377.58 L337.43,377.59 L337.50,377.60 L337.53,377.60 L337.63,377.61 L337.73,377.62 L337.83,377.62 L337.93,377.63 L338.03,377.63 L338.13,377.63 L338.23,377.63 L338.33,377.63 L338.43,377.63 L338.53,377.63 L338.63,377.62 L338.73,377.62 L338.83,377.61 L338.93,377.60 L339.00,377.59 L339.03,377.58 L339.13,377.53 L339.23,377.47 L339.33,377.42 L339.43,377.36 L339.53,377.30 L339.63,377.23 L339.73,377.17 L339.83,377.10 L339.93,377.02 L340.03,376.96 L340.13,376.91 L340.23,376.86 L340.33,376.80 L340.43,376.74 L340.50,376.70 L340.53,376.68 L340.63,376.61 L340.73,376.53 L340.83,376.44 L340.93,376.35 L341.03,376.26 L341.23,376.09 L341.43,375.84 L341.63,375.46 L341.83,374.82 L342.00,373.92 L342.03,373.72 L342.23,371.98 L342.43,369.50 L342.63,366.45 L342.83,363.35 L343.03,361.06 L343.23,360.30 L343.43,361.04 L343.50,361.54 L343.63,362.66 L343.83,364.74 L344.03,367.11 L344.23,369.48 L344.43,371.62 L344.63,373.34 L344.83,374.61 L345.00,375.37 L345.03,375.48 L345.23,376.09 L345.43,376.50 L345.63,376.80 L345.83,377.05 L346.03,377.26 L346.23,377.46 L346.43,377.63 L346.50,377.69 L346.63,377.79 L346.83,377.93 L347.03,378.04 L347.23,378.09 L347.43,378.13 L347.63,378.17 L347.83,378.19 L348.00,378.20 L348.03,378.20 L348.23,378.18 L348.43,378.16 L348.63,378.14 L348.83,378.11 L349.03,378.08 L349.23,378.01 L349.43,377.94 L349.50,377.91 L349.63,377.87 L349.83,377.79 L350.03,377.74 L350.23,377.78 L350.43,377.82 L350.63,377.87 L350.83,377.91 L351.00,377.94 L351.03,377.94 L351.23,377.94 L351.43,377.94 L351.63,377.94 L351.83,377.94 L352.03,377.94 L352.23,377.93 L352.43,377.91 L352.50,377.91 L352.63,377.90 L352.83,377.89 L353.03,377.88 L353.23,377.83 L353.43,377.79 L353.63,377.75 L353.83,377.71 L354.00,377.68 L354.03,377.68 L354.23,377.70 L355.50,377.97 L357.00,378.37 L358.50,378.13 L360.00,377.79 L361.50,377.77 L363.00,377.95 L364.50,378.03 L366.00,377.64 L367.50,377.89 L369.00,378.24 L370.50,378.18 L372.00,377.95 L373.50,377.82 L375.00,377.89 L376.50,377.86 L378.00,377.84 L379.50,377.69 L381.00,377.60 L382.50,377.42 L384.00,377.23 L384.20,377.23 L384.40,377.22 L384.60,377.21 L384.80,377.19 L385.00,377.18 L385.20,377.20 L385.40,377.21 L385.50,377.21 L385.60,377.22 L385.80,377.23 L386.00,377.23 L386.20,377.14 L386.40,377.04 L386.60,376.95 L386.80,376.85 L387.00,376.74 L387.20,376.72 L387.40,376.69 L387.60,376.66 L387.80,376.62 L388.00,376.56 L388.20,376.51 L388.40,376.43 L388.50,376.38 L388.60,376.33 L388.80,376.21 L389.00,376.05 L389.20,375.89 L389.40,375.69 L389.60,375.41 L389.80,375.06 L390.00,374.62 L390.20,373.96 L390.40,373.17 L390.60,372.24 L390.80,371.14 L391.00,369.82 L391.20,368.17 L391.40,366.04 L391.50,364.67 L391.60,362.99 L391.80,358.17 L392.00,350.30 L392.20,337.96 L392.40,320.35 L392.60,298.49 L392.80,275.95 L393.00,258.71 L393.20,252.35 L393.40,256.89 L393.60,267.16 L393.80,278.87 L394.00,291.15 L394.20,304.96 L394.40,319.58 L394.50,326.65 L394.60,333.28 L394.80,344.71 L395.00,353.34 L395.20,359.24 L395.40,363.18 L395.60,365.86 L395.80,367.83 L396.00,369.38 L396.20,370.74 L396.40,371.91 L396.60,372.91 L396.80,373.77 L397.00,374.50 L397.20,374.95 L397.40,375.29 L397.50,375.44 L397.60,375.56 L397.80,375.76 L398.00,375.89 L398.20,376.09 L398.40,376.24 L398.60,376.37 L398.80,376.47 L399.00,376.55 L399.20,376.60 L399.40,376.64 L399.60,376.67 L399.80,376.69 L400.00,376.70 L400.20,376.82 L400.40,376.94 L400.50,377.00 L400.60,377.06 L400.80,377.17 L401.00,377.28 L401.20,377.37 L401.40,377.45 L401.60,377.54 L401.80,377.62 L402.00,377.70 L402.20,377.75 L402.40,377.80 L402.60,377.85 L402.80,377.89 L403.00,377.94 L403.20,377.87 L403.40,377.81 L403.50,377.77 L403.60,377.74 L403.80,377.67 L404.00,377.60 L404.20,377.64 L405.00,377.76 L406.50,377.91 L408.00,378.36 L409.50,378.62 L411.00,378.09 L412.50,378.33 L414.00,378.64 L415.50,378.07 L417.00,377.69 L417.49,377.73 L417.69,377.75 L417.89,377.77 L418.09,377.78 L418.29,377.78 L418.49,377.78 L418.50,377.78 L418.69,377.78 L418.89,377.78 L419.09,377.80 L419.29,377.84 L419.49,377.88 L419.69,377.92 L419.89,377.96 L420.00,377.99 L420.09,378.01 L420.29,378.05 L420.49,378.10 L420.69,378.14 L420.89,378.19 L421.09,378.21 L421.29,378.21 L421.49,378.21 L421.50,378.21 L421.69,378.21 L421.89,378.21 L422.09,378.19 L422.29,378.16 L422.49,378.13 L422.69,378.08 L422.89,378.03 L423.00,377.99 L423.09,377.94 L423.29,377.82 L423.49,377.68 L423.69,377.52 L423.89,377.34 L424.09,377.17 L424.29,377.02 L424.49,376.83 L424.50,376.82 L424.69,376.56 L424.89,376.16 L425.09,375.44 L425.29,374.22 L425.49,372.29 L425.69,369.55 L425.89,366.13 L426.00,364.16 L426.09,362.64 L426.29,360.01 L426.49,359.12 L426.69,359.97 L426.89,361.67 L427.09,363.35 L427.29,364.78 L427.49,366.30 L427.50,366.39 L427.69,368.11 L427.89,370.04 L428.09,371.86 L428.29,373.39 L428.49,374.51 L428.69,375.27 L428.89,375.77 L429.00,375.98 L429.09,376.12 L429.29,376.36 L429.49,376.56 L429.69,376.72 L429.89,376.86 L430.09,377.00 L430.29,377.17 L430.49,377.33 L430.50,377.33 L430.69,377.46 L430.89,377.59 L431.09,377.73 L431.29,377.90 L431.49,378.06 L431.69,378.22 L431.89,378.37 L432.00,378.45 L432.09,378.49 L432.29,378.58 L432.49,378.66 L432.69,378.74 L432.89,378.83 L433.09,378.85 L433.29,378.82 L433.49,378.78 L433.50,378.78 L433.69,378.75 L433.89,378.71 L434.09,378.63 L434.29,378.51 L434.49,378.38 L434.69,378.26 L434.89,378.13 L435.00,378.06 L435.09,378.02 L435.29,377.94 L435.49,377.85 L435.69,377.77 L435.89,377.68 L436.09,377.69 L436.29,377.80 L436.49,377.90 L436.50,377.91 L436.69,378.01 L436.89,378.12 L437.09,378.21 L437.29,378.29 L437.49,378.36 L438.00,378.55 L439.50,378.38 L441.00,377.82 L442.50,377.33 L444.00,377.53 L445.50,378.12 L447.00,378.09 L448.50,378.35 L450.00,378.40 L451.50,378.27 L453.00,378.36 L454.50,378.10 L456.00,378.03 L457.50,378.17 L459.00,378.44 L460.50,378.76 L462.00,378.93 L463.50,378.85 L465.00,378.43 L466.50,378.49 L468.00,378.33 L469.50,377.89 L471.00,378.13 L472.50,378.40 L474.00,378.02 L475.50,378.00 L477.00,378.38 L478.50,378.28 L480.00,378.47 L481.50,378.32 L483.00,377.83 L484.50,377.78 L486.00,377.96 L487.50,378.05 L489.00,378.14 L490.50,378.29 L492.00,378.25 L493.50,378.08 L495.00,378.18 L496.50,378.17 L498.00,378.01 L498.37,378.04 L498.57,378.05 L498.77,378.07 L498.97,378.08 L499.17,378.16 L499.37,378.25 L499.50,378.31 L499.57,378.35 L499.77,378.44 L499.97,378.53 L500.17,378.51 L500.37,378.47 L500.57,378.43 L500.77,378.39 L500.97,378.35 L501.00,378.34 L501.17,378.32 L501.37,378.29 L501.57,378.27 L501.77,378.24 L501.97,378.20 L502.17,378.11 L502.37,377.99 L502.50,377.92 L502.57,377.88 L502.77,377.75 L502.97,377.63 L503.17,377.53 L503.37,377.42 L503.57,377.31 L503.77,377.18 L503.97,377.03 L504.00,377.00 L504.17,376.89 L504.37,376.73 L504.57,376.55 L504.77,376.33 L504.97,376.08 L505.17,375.82 L505.37,375.48 L505.50,375.19 L505.57,375.00 L505.77,374.27 L505.97,373.08 L506.17,371.16 L506.37,368.30 L506.57,364.45 L506.77,359.90 L506.97,355.39 L507.00,354.78 L507.17,351.98 L507.37,350.77 L507.57,351.84 L507.77,354.18 L507.97,356.61 L508.17,358.45 L508.37,359.75 L508.50,360.55 L508.57,361.04 L508.77,362.82 L508.97,365.10 L509.17,367.64 L509.37,370.00 L509.57,371.94 L509.77,373.40 L509.97,374.45 L510.00,374.58 L510.17,375.13 L510.37,375.62 L510.57,375.98 L510.77,376.28 L510.97,376.53 L511.17,376.79 L511.37,377.03 L511.50,377.18 L511.57,377.25 L511.77,377.44 L511.97,377.61 L512.17,377.65 L512.37,377.66 L512.57,377.65 L512.77,377.64 L512.97,377.61 L513.00,377.61 L513.17,377.66 L513.37,377.71 L513.57,377.76 L513.77,377.81 L513.97,377.85 L514.17,377.84 L514.37,377.82 L514.50,377.80 L514.57,377.79 L514.77,377.76 L514.97,377.74 L515.17,377.70 L515.37,377.66 L515.57,377.62 L515.77,377.58 L515.97,377.54 L516.00,377.54 L516.17,377.54 L516.37,377.55 L516.57,377.55 L516.77,377.56 L516.97,377.57 L517.17,377.60 L517.37,377.64 L517.50,377.67 L517.57,377.69 L517.77,377.73 L517.97,377.77 L518.17,377.79 L518.37,377.80 L519.00,377.83 L520.50,377.73 L522.00,377.83 L523.50,377.71 L525.00,377.80 L526.50,378.09 L528.00,378.10 L529.50,378.25 L531.00,378.29 L532.50,377.91 L534.00,377.97 L535.50,378.08 L537.00,378.12 L538.50,378.12 L540.00,377.98 L541.50,377.71 L543.00,377.54 L544.45,377.72 L544.50,377.73 L544.65,377.75 L544.85,377.78 L545.05,377.82 L545.25,377.87 L545.45,377.93 L545.65,377.98 L545.85,378.03 L546.00,378.07 L546.05,378.07 L546.25,378.08 L546.45,378.08 L546.65,378.08 L546.85,378.08 L547.05,378.07 L547.25,378.00 L547.45,377.94 L547.50,377.93 L547.65,377.88 L547.85,377.81 L548.05,377.73 L548.25,377.64 L548.45,377.55 L548.65,377.45 L548.85,377.33 L549.00,377.24 L549.05,377.23 L549.25,377.15 L549.45,377.06 L549.65,376.95 L549.85,376.81 L550.05,376.65 L550.25,376.49 L550.45,376.29 L550.50,376.23 L550.65,376.04 L550.85,375.74 L551.05,375.35 L551.25,374.84 L551.45,374.19 L551.65,373.30 L551.85,371.97 L552.00,370.49 L552.05,369.86 L552.25,366.50 L552.45,361.47 L552.65,354.66 L552.85,346.51 L553.05,338.30 L553.25,332.01 L553.45,329.70 L553.50,329.84 L553.65,331.77 L553.85,336.45 L554.05,341.40 L554.25,345.11 L554.45,347.14 L554.65,348.23 L554.85,349.70 L555.00,351.65 L555.05,352.48 L555.25,356.43 L555.45,360.76 L555.65,364.77 L555.85,368.03 L556.05,370.42 L556.25,372.00 L556.45,373.08 L556.50,373.29 L556.65,373.82 L556.85,374.37 L557.05,374.83 L557.25,375.25 L557.45,375.61 L557.65,375.92 L557.85,376.19 L558.00,376.36 L558.05,376.40 L558.25,376.54 L558.45,376.64 L558.65,376.73 L558.85,376.78 L559.05,376.84 L559.25,376.94 L559.45,377.02 L559.50,377.04 L559.65,377.09 L559.85,377.16 L560.05,377.21 L560.25,377.24 L560.45,377.28 L560.65,377.30 L560.85,377.33 L561.00,377.35 L561.05,377.35 L561.25,377.39 L561.45,377.42 L561.65,377.45 L561.85,377.48 L562.05,377.53 L562.25,377.63 L562.45,377.73 L562.50,377.75 L562.65,377.83 L562.85,377.92 L563.05,377.99 L563.25,377.94 L563.45,377.89 L563.65,377.85 L563.85,377.80 L564.00,377.77 L564.05,377.79 L564.25,377.86 L564.45,377.94 L565.50,378.15 L567.00,378.32 L568.50,378.27 L570.00,378.51 L571.50,378.22 L571.84,378.07 L572.04,378.00 L572.24,378.03 L572.44,378.05 L572.64,378.08 L572.84,378.10 L573.00,378.12 L573.04,378.11 L573.24,378.05 L573.44,378.00 L573.64,377.94 L573.84,377.89 L574.04,377.86 L574.24,377.93 L574.44,378.00 L574.50,378.02 L574.64,378.06 L574.84,378.13 L575.04,378.18 L575.24,378.14 L575.44,378.10 L575.64,378.06 L575.84,378.02 L576.00,377.98 L576.04,377.97 L576.24,377.93 L576.44,377.89 L576.64,377.84 L576.84,377.79 L577.04,377.72 L577.24,377.66 L577.44,377.58 L577.50,377.56 L577.64,377.49 L577.84,377.38 L578.04,377.25 L578.24,377.09 L578.44,376.90 L578.64,376.66 L578.84,376.37 L579.00,376.06 L579.04,375.98 L579.24,375.41 L579.44,374.50 L579.64,373.04 L579.84,370.83 L580.04,367.80 L580.24,364.14 L580.44,360.42 L580.50,359.42 L580.64,357.56 L580.84,356.50 L581.04,357.48 L581.24,359.69 L581.44,362.07 L581.64,363.83 L581.84,364.70 L582.00,364.89 L582.04,364.91 L582.24,365.07 L582.44,365.76 L582.64,367.15 L582.84,368.97 L583.04,370.83 L583.24,372.43 L583.44,373.66 L583.50,373.96 L583.64,374.52 L583.84,375.10 L584.04,375.51 L584.24,375.89 L584.44,376.20 L584.64,376.47 L584.84,376.71 L585.00,376.88 L585.04,376.94 L585.24,377.23 L585.44,377.50 L585.64,377.75 L585.84,377.98 L586.04,378.18 L586.24,378.28 L586.44,378.37 L586.50,378.39 L586.64,378.45 L586.84,378.53 L587.04,378.59 L587.24,378.59 L587.44,378.59 L587.64,378.59 L587.84,378.59 L588.00,378.59 L588.04,378.57 L588.24,378.45 L588.44,378.34 L588.64,378.23 L588.84,378.11 L589.04,378.03 L589.24,378.06 L589.44,378.09 L589.50,378.10 L589.64,378.12 L589.84,378.15 L590.04,378.18 L590.24,378.21 L590.44,378.24 L590.64,378.28 L590.84,378.31 L591.00,378.33 L591.04,378.33 L591.24,378.30 L591.44,378.27 L591.64,378.23 L591.84,378.20 L592.50,378.19 L594.00,378.09 L595.50,378.18 L597.00,377.70 L598.50,377.68 L600.00,378.02 L601.50,378.14 L603.00,378.30 L604.50,378.31 L606.00,378.22 L607.50,378.37 L609.00,378.82 L610.50,378.72 L612.00,378.22 L613.50,378.11 L615.00,378.33 L616.50,377.97 L618.00,377.56 L619.50,378.21 L621.00,378.85 L622.50,378.37 L624.00,377.83 L625.50,377.90 L627.00,377.74 L628.50,377.93 L630.00,378.25 L631.50,378.38 L633.00,378.58 L634.50,378.37 L636.00,377.98 L637.50,378.03 L639.00,378.03 L640.50,378.11 L640.53,378.13 L640.73,378.20 L640.93,378.28 L641.13,378.31 L641.33,378.31 L641.53,378.31 L641.73,378.31 L641.93,378.31 L642.00,378.31 L642.13,378.33 L642.33,378.36 L642.53,378.38 L642.73,378.41 L642.93,378.43 L643.13,378.41 L643.33,378.37 L643.50,378.33 L643.53,378.32 L643.73,378.28 L643.93,378.23 L644.13,378.20 L644.33,378.18 L644.53,378.15 L644.73,378.13 L644.93,378.10 L645.00,378.09 L645.13,378.09 L645.33,378.08 L645.53,378.07 L645.73,378.05 L645.93,378.04 L646.13,378.00 L646.33,377.94 L646.50,377.89 L646.53,377.88 L646.73,377.81 L646.93,377.74 L647.13,377.69 L647.33,377.64 L647.53,377.58 L647.73,377.49 L647.93,377.37 L648.00,377.31 L648.13,377.13 L648.33,376.77 L648.53,376.24 L648.73,375.53 L648.93,374.69 L649.13,373.86 L649.33,373.24 L649.50,373.01 L649.53,373.01 L649.73,373.25 L649.93,373.80 L650.13,374.47 L650.33,375.04 L650.53,375.38 L650.73,375.50 L650.93,375.47 L651.00,375.45 L651.13,375.39 L651.33,375.41 L651.53,375.62 L651.73,375.97 L651.93,376.38 L652.13,376.80 L652.33,377.17 L652.50,377.43 L652.53,377.46 L652.73,377.68 L652.93,377.86 L653.13,377.94 L653.33,377.98 L653.53,378.00 L653.73,378.01 L653.93,378.02 L654.00,378.02 L654.13,378.03 L654.33,378.03 L654.53,378.03 L654.73,378.02 L654.93,378.00 L655.13,377.93 L655.33,377.82 L655.50,377.72 L655.53,377.70 L655.73,377.57 L655.93,377.42 L656.13,377.30 L656.33,377.17 L656.53,376.97 L656.73,376.64 L656.93,376.12 L657.00,375.88 L657.13,375.30 L657.33,374.16 L657.53,372.79 L657.73,371.39 L657.93,370.29 L658.13,369.86 L658.33,370.22 L658.50,370.96 L658.53,371.12 L658.73,372.15 L658.93,372.98 L659.13,373.43 L659.33,373.50 L659.53,373.30 L659.73,373.05 L659.93,372.99 L660.00,373.04 L660.13,373.33 L660.33,373.98 L660.53,374.75 L660.73,375.50 L660.93,376.12 L661.13,376.61 L661.33,376.96 L661.50,377.19 L661.53,377.23 L661.73,377.43 L661.93,377.61 L662.13,377.73 L662.33,377.83 L662.53,377.91 L662.73,377.98 L662.93,378.05 L663.00,378.07 L663.13,378.08 L663.33,378.08 L663.53,378.07 L663.73,378.06 L663.93,378.05 L664.13,378.01 L664.33,377.94 L664.50,377.89 L664.53,377.88 L664.73,377.81 L664.93,377.74 L665.13,377.71 L665.33,377.70 L665.53,377.70 L665.73,377.69 L665.93,377.68 L666.00,377.68" stroke="#f00000" stroke-width="6.1"/>
<path d="M702.00,378.85 L703.00,378.85 L704.00,378.70 L705.00,378.45 L706.00,378.44 L707.00,378.77 L708.00,379.15 L709.00,379.06 L710.00,378.93 L711.00,378.69 L712.00,378.79 L713.00,378.59 L714.00,378.69 L715.00,378.95 L716.00,379.17 L717.00,379.39 L718.00,378.94 L719.00,378.71 L720.00,378.46 L721.00,378.67 L722.00,378.75 L723.00,378.92 L724.00,378.74 L725.00,378.99 L726.00,378.99 L727.00,378.90 L728.00,378.77 L729.00,378.58 L730.00,378.92 L731.00,378.74 L732.00,378.83 L733.00,378.75 L734.00,378.39 L735.00,378.04 L736.00,377.97 L737.00,378.40 L738.00,378.86 L739.00,378.88 L740.00,378.70 L741.00,378.58 L742.00,378.43 L743.00,378.59 L744.00,378.46 L745.00,378.64 L746.00,378.44 L747.00,378.35 L748.00,377.93 L749.00,378.51 L750.00,378.53 L751.00,378.75 L752.00,378.21 L753.00,378.27 L754.00,378.34 L755.00,378.62 L756.00,378.76 L757.00,378.88 L758.00,378.69 L759.00,378.65 L760.00,378.79 L761.00,378.88 L762.00,378.94 L763.00,378.42 L764.00,378.50 L765.00,378.50 L766.00,379.03 L767.00,378.50 L768.00,378.47 L769.00,378.24 L770.00,378.70 L771.00,378.59 L772.00,378.64 L773.00,378.74 L774.00,378.85 L775.00,378.77 L776.00,378.62 L777.00,378.55 L778.00,378.60 L779.00,378.52 L780.00,378.26 L781.00,378.47 L782.00,378.30 L783.00,378.61 L784.00,378.17 L785.00,378.41 L786.00,378.27 L787.00,378.48 L788.00,378.39 L789.00,378.33 L790.00,378.39 L791.00,378.74 L792.00,379.01 L793.00,378.97 L794.00,378.59 L795.00,378.52 L796.00,378.57 L797.00,378.64 L798.00,378.79 L799.00,378.72 L800.00,378.88 L801.00,378.65 L802.00,378.58 L803.00,378.56 L804.00,378.70 L805.00,378.83 L806.00,378.63 L807.00,378.45 L808.00,378.39 L809.00,378.26 L810.00,378.54 L811.00,378.60 L812.00,378.90 L813.00,378.62 L814.00,378.70 L815.00,378.65 L816.00,379.07 L817.00,379.00 L818.00,378.81 L819.00,378.62 L820.00,378.47 L821.00,378.62 L822.00,378.47 L823.00,378.53 L824.00,378.66 L825.00,378.82 L826.00,378.91 L827.00,378.75 L828.00,378.41 L829.00,378.21 L830.00,378.38 L831.00,378.74 L832.00,379.16 L833.00,378.89 L834.00,378.76 L835.00,378.43 L836.00,378.58 L837.00,378.59 L838.00,378.59 L839.00,378.61 L840.00,378.48 L841.00,378.59 L842.00,378.80 L843.00,379.17 L844.00,379.02 L845.00,378.68 L846.00,378.37 L847.00,378.32 L848.00,378.66 L849.00,378.57 L850.00,378.72 L851.00,378.33 L852.00,378.41 L853.00,378.43 L854.00,378.89 L855.00,378.84 L856.00,378.87 L857.00,378.28 L858.00,378.20 L859.00,378.01 L860.00,378.26 L861.00,378.53 L862.00,378.76 L863.00,378.58 L864.00,378.60 L865.00,378.32 L866.00,378.87 L867.00,378.84 L868.00,379.04 L869.00,378.72 L870.00,378.66 L871.00,378.64 L872.00,378.55 L873.00,378.68 L874.00,378.72 L875.00,378.95 L876.00,378.82 L877.00,378.89 L878.00,378.65 L879.00,379.23 L880.00,379.01 L881.00,379.06 L882.00,378.64 L883.00,378.95 L884.00,378.90 L885.00,378.47 L886.00,378.05 L887.00,378.01 L888.00,378.16 L889.00,378.35 L890.00,378.68 L891.00,378.98 L892.00,378.91 L893.00,378.83 L894.00,378.80 L895.00,379.12 L896.00,379.01 L897.00,378.75 L898.00,378.64 L899.00,378.90 L900.00,378.94 L901.00,379.13 L902.00,379.15 L903.00,379.19 L904.00,378.62 L905.00,378.23 L906.00,378.21 L907.00,378.54 L908.00,378.36 L909.00,378.80 L910.00,379.09 L911.00,379.23 L912.00,378.52 L913.00,378.11 L914.00,378.28 L915.00,378.79 L916.00,378.92 L917.00,378.80 L918.00,378.25 L919.00,378.21 L920.00,378.36 L921.00,378.62 L922.00,378.57 L923.00,378.45 L924.00,378.44 L925.00,378.20 L926.00,378.20 L927.00,378.00 L928.00,378.39 L929.00,378.18 L930.00,378.47 L931.00,378.11 L932.00,378.30 L933.00,378.17 L934.00,378.36 L935.00,378.15 L936.00,377.90 L937.00,377.75 L938.00,377.81 L939.00,377.81 L940.00,377.73 L941.00,377.49 L942.00,377.74 L943.00,377.77 L944.00,378.03 L945.00,378.41 L946.00,378.48 L947.00,378.52 L948.00,378.19 L949.00,378.12 L950.00,377.95 L951.00,377.97 L952.00,378.14 L953.00,377.75 L954.00,377.57 L955.00,377.33 L956.00,377.69 L957.00,377.91 L958.00,377.86 L959.00,378.07 L960.00,377.77 L961.00,377.78 L962.00,377.74 L963.00,377.69 L964.00,377.72 L965.00,377.40 L966.00,377.36 L967.00,377.49 L968.00,377.75 L969.00,377.69 L970.00,377.36 L971.00,377.66 L972.00,377.73 L973.00,377.76 L974.00,377.41 L975.00,377.37 L976.00,377.43 L977.00,377.47 L978.00,377.74 L979.00,377.75 L980.00,377.80 L981.00,377.59 L982.00,377.56 L983.00,377.32 L984.00,377.26 L985.00,377.36 L986.00,377.38 L987.00,377.28 L988.00,377.19 L989.00,377.03 L990.00,377.03 L991.00,376.95 L992.00,377.17 L993.00,377.27 L994.00,377.46 L995.00,377.51 L996.00,377.42 L997.00,377.08 L998.00,376.66 L999.00,376.67 L1000.00,376.86 L1001.00,377.20 L1002.00,376.90 L1003.00,376.86 L1004.00,376.73 L1005.00,377.28 L1006.00,377.11 L1007.00,376.88 L1008.00,376.17 L1009.00,375.91 L1010.00,375.60 L1011.00,375.53 L1012.00,375.33 L1013.00,375.06 L1014.00,374.99 L1015.00,374.97 L1016.00,375.11 L1017.00,374.86 L1018.00,374.73 L1019.00,374.53 L1020.00,374.06 L1021.00,373.61 L1022.00,372.99 L1023.00,372.83 L1024.00,372.64 L1025.00,372.55 L1026.00,372.65 L1027.00,372.63 L1028.00,372.38 L1029.00,371.74 L1030.00,370.98 L1031.00,370.46 L1032.00,370.06 L1033.00,369.38 L1034.00,368.84 L1035.00,368.01 L1036.00,367.56 L1037.00,366.90 L1038.00,366.39 L1039.00,365.34 L1040.00,364.01 L1041.00,362.51 L1042.00,361.45 L1043.00,360.32 L1044.00,359.13 L1045.00,357.85 L1046.00,356.57 L1047.00,355.52 L1048.00,354.40 L1049.00,352.95 L1050.00,351.02 L1051.00,348.30 L1052.00,346.05 L1053.00,343.55 L1054.00,341.38 L1055.00,339.04 L1056.00,337.76 L1057.00,336.19 L1058.00,334.79 L1059.00,333.09 L1060.00,332.11 L1061.00,331.31 L1062.00,330.64 L1063.00,330.20 L1064.00,330.72 L1065.00,331.91 L1066.00,333.48 L1067.00,335.51 L1068.00,337.32 L1069.00,339.34 L1070.00,340.33 L1071.00,341.75 L1072.00,343.01 L1073.00,344.49 L1074.00,345.94 L1075.00,346.74 L1076.00,347.77 L1077.00,348.00 L1078.00,348.38 L1079.00,348.10 L1080.00,347.74 L1081.00,347.58 L1082.00,347.25 L1083.00,347.34 L1084.00,346.61 L1085.00,346.48 L1086.00,346.27 L1087.00,346.66 L1088.00,347.28 L1089.00,348.15 L1090.00,348.85 L1091.00,350.08 L1092.00,351.24 L1093.00,352.85 L1094.00,354.34 L1095.00,356.17 L1096.00,357.66 L1097.00,359.03 L1098.00,360.07 L1099.00,361.31 L1100.00,362.30 L1101.00,363.13 L1102.00,363.90 L1103.00,364.77 L1104.00,365.98 L1105.00,367.00 L1106.00,368.00 L1107.00,368.25 L1108.00,368.86 L1109.00,369.31 L1110.00,370.18 L1111.00,370.46 L1112.00,370.62 L1113.00,370.70 L1114.00,371.33 L1115.00,372.47 L1116.00,373.28 L1117.00,373.56 L1118.00,373.61 L1119.00,373.89 L1120.00,374.45 L1121.00,374.62 L1122.00,374.74 L1123.00,374.89 L1124.00,375.33 L1125.00,375.82 L1126.00,376.33 L1127.00,376.26 L1128.00,376.59 L1129.00,376.60 L1130.00,376.98 L1131.00,377.19 L1132.00,377.32 L1133.00,377.47 L1134.00,377.51 L1135.00,377.76 L1136.00,377.96 L1137.00,378.18 L1138.00,378.28 L1139.00,378.18 L1140.00,378.48 L1141.00,378.49 L1142.00,378.72 L1143.00,378.29 L1144.00,378.03 L1145.00,377.91 L1146.00,378.11 L1147.00,378.60 L1148.00,378.77 L1149.00,378.92 L1150.00,379.01 L1151.00,379.17 L1152.00,379.05 L1153.00,378.91 L1154.00,378.73 L1155.00,378.59 L1156.00,378.82 L1157.00,378.66 L1158.00,378.79 L1159.00,378.61 L1160.00,378.47 L1161.00,378.61 L1162.00,378.52 L1163.00,378.91 L1164.00,378.74 L1165.00,378.55 L1166.00,378.56 L1167.00,378.63 L1168.00,379.05 L1169.00,379.10 L1170.00,378.81 L1171.00,378.84 L1172.00,378.89 L1173.00,379.29 L1174.00,379.20 L1175.00,378.96 L1176.00,378.93 L1177.00,378.80 L1178.00,379.38 L1179.00,379.26 L1180.00,379.14 L1181.00,378.63 L1182.00,378.90 L1183.00,378.99 L1184.00,378.66 L1185.00,378.67 L1186.00,378.82 L1187.00,379.13 L1188.00,379.02 L1189.00,378.82 L1190.00,378.71 L1191.00,378.75 L1192.00,378.82 L1193.00,379.10 L1194.00,378.95 L1195.00,379.17 L1196.00,379.11 L1197.00,378.78 L1198.00,378.76 L1199.00,378.66 L1200.00,379.14 L1201.00,379.05 L1202.00,379.36 L1203.00,379.17 L1204.00,378.82 L1205.00,378.54 L1206.00,378.68 L1207.00,378.96 L1208.00,378.94 L1209.00,379.09 L1210.00,379.12 L1211.00,379.37 L1212.00,379.16 L1213.00,378.95 L1214.00,378.63 L1215.00,378.56 L1216.00,378.84 L1217.00,378.87 L1218.00,378.69 L1219.00,378.48 L1220.00,378.52 L1221.00,378.61 L1222.00,378.68 L1223.00,379.07 L1224.00,379.26 L1225.00,379.22 L1226.00,378.92 L1227.00,379.13 L1228.00,379.37 L1229.00,379.35 L1230.00,378.88 L1231.00,378.50 L1232.00,378.46 L1233.00,378.67 L1234.00,378.68 L1235.00,378.52 L1236.00,378.53 L1237.00,378.43 L1238.00,378.37 L1239.00,378.37 L1240.00,378.82 L1241.00,379.15 L1242.00,379.32 L1243.00,379.48 L1244.00,379.58 L1245.00,379.37 L1246.00,379.46 L1247.00,379.59 L1248.00,379.79 L1249.00,379.31 L1250.00,379.10" stroke="#f00000" stroke-width="6.1"/>
<path d="M117.00,467.23 L118.50,467.07 L120.00,466.76 L121.50,466.84 L123.00,467.07 L124.50,467.27 L126.00,466.93 L127.50,466.84 L129.00,467.20 L130.50,467.13 L132.00,467.20 L133.50,466.77 L135.00,466.73 L136.50,467.06 L138.00,466.80 L139.50,466.74 L141.00,466.75 L142.50,466.90 L144.00,467.12 L145.50,466.96 L147.00,466.84 L148.50,466.92 L150.00,466.74 L151.50,466.41 L153.00,466.20 L154.50,466.34 L156.00,466.37 L157.50,466.32 L159.00,466.51 L160.50,466.53 L162.00,466.27 L163.50,466.43 L165.00,466.87 L166.50,466.51 L168.00,466.45 L169.50,466.64 L171.00,466.27 L172.50,466.43 L174.00,466.38 L175.50,465.69 L177.00,465.22 L177.41,465.20 L177.61,465.19 L177.81,465.16 L178.01,465.13 L178.21,465.11 L178.41,465.08 L178.50,465.06 L178.61,465.03 L178.81,464.97 L179.01,464.89 L179.21,464.71 L179.41,464.50 L179.61,464.28 L179.81,464.03 L180.00,463.77 L180.01,463.75 L180.21,463.42 L180.41,463.05 L180.61,462.65 L180.81,462.21 L181.01,461.74 L181.21,461.21 L181.41,460.63 L181.50,460.35 L181.61,460.00 L181.81,459.33 L182.01,458.59 L182.21,457.82 L182.41,456.95 L182.61,455.96 L182.81,454.78 L183.00,453.39 L183.01,453.31 L183.21,451.43 L183.41,448.78 L183.61,444.94 L183.81,439.28 L184.01,431.03 L184.21,419.28 L184.41,402.97 L184.50,393.89 L184.61,381.20 L184.81,353.38 L185.01,319.52 L185.21,280.48 L185.41,238.03 L185.61,194.98 L185.81,154.99 L186.00,123.59 L186.01,122.18 L186.21,100.37 L186.41,92.60 L186.61,99.92 L186.81,121.25 L187.01,153.72 L187.21,193.47 L187.41,236.39 L187.50,255.75 L187.61,278.84 L187.81,317.99 L188.01,352.01 L188.21,380.04 L188.41,402.07 L188.61,418.64 L188.81,430.66 L189.00,438.75 L189.01,439.10 L189.21,444.94 L189.41,448.93 L189.61,451.70 L189.81,453.68 L190.01,455.16 L190.21,456.29 L190.41,457.23 L190.50,457.61 L190.61,458.04 L190.81,458.76 L191.01,459.41 L191.21,460.00 L191.41,460.53 L191.61,461.02 L191.81,461.46 L192.00,461.84 L192.01,461.86 L192.21,462.29 L192.41,462.67 L192.61,463.03 L192.81,463.35 L193.01,463.65 L193.21,463.96 L193.41,464.24 L193.50,464.36 L193.61,464.50 L193.81,464.74 L194.01,464.96 L194.21,465.09 L194.41,465.20 L194.61,465.30 L194.81,465.39 L195.00,465.46 L195.01,465.47 L195.21,465.51 L195.41,465.54 L195.61,465.56 L195.81,465.58 L196.01,465.59 L196.21,465.62 L196.41,465.64 L196.50,465.64 L196.61,465.65 L196.81,465.66 L197.01,465.67 L197.21,465.74 L197.41,465.81 L198.00,465.99 L199.50,465.89 L201.00,465.71 L202.50,466.11 L204.00,466.58 L205.50,466.70 L207.00,466.44 L208.50,466.76 L210.00,466.97 L211.50,466.76 L213.00,467.03 L214.50,466.72 L216.00,466.23 L217.50,466.68 L219.00,466.79 L220.50,466.62 L222.00,466.99 L223.50,466.80 L225.00,466.47 L226.50,466.51 L228.00,466.60 L229.50,466.89 L231.00,467.16 L232.50,467.06 L234.00,466.74 L235.50,466.77 L237.00,466.80 L238.50,466.67 L240.00,466.81 L241.50,466.58 L243.00,466.25 L244.50,466.80 L246.00,467.25 L247.50,467.05 L249.00,466.59 L250.50,466.70 L252.00,466.88 L253.50,466.76 L255.00,466.82 L256.50,466.99 L258.00,467.09 L259.50,466.68 L261.00,466.37 L262.50,466.57 L264.00,466.79 L265.50,467.02 L267.00,467.23 L268.50,467.03 L270.00,466.92 L271.50,466.81 L273.00,466.46 L274.50,466.68 L276.00,467.04 L277.50,466.98 L279.00,466.80 L280.50,466.92 L282.00,467.25 L283.50,467.28 L285.00,466.98 L286.50,466.70 L288.00,466.70 L289.50,466.53 L291.00,466.53 L292.50,466.30 L294.00,466.34 L295.50,466.82 L297.00,466.51 L298.50,466.83 L300.00,467.28 L301.50,466.80 L303.00,466.82 L304.50,466.86 L306.00,466.52 L307.50,466.64 L309.00,466.64 L310.50,466.15 L312.00,466.19 L313.50,466.81 L315.00,466.99 L315.81,466.64 L316.01,466.55 L316.21,466.50 L316.41,466.45 L316.50,466.42 L316.61,466.39 L316.81,466.34 L317.01,466.28 L317.21,466.22 L317.41,466.15 L317.61,466.08 L317.81,466.01 L318.00,465.94 L318.01,465.94 L318.21,465.90 L318.41,465.87 L318.61,465.83 L318.81,465.79 L319.01,465.74 L319.21,465.73 L319.41,465.71 L319.50,465.70 L319.61,465.68 L319.81,465.64 L320.01,465.58 L320.21,465.39 L320.41,465.18 L320.61,464.94 L320.81,464.66 L321.00,464.35 L321.01,464.33 L321.21,463.97 L321.41,463.53 L321.61,462.98 L321.81,462.31 L322.01,461.49 L322.21,460.43 L322.41,459.17 L322.50,458.53 L322.61,457.67 L322.81,455.87 L323.01,453.65 L323.21,450.73 L323.41,446.21 L323.61,438.52 L323.81,425.42 L324.00,406.22 L324.01,405.02 L324.21,377.67 L324.41,347.69 L324.61,323.77 L324.81,314.93 L325.01,321.47 L325.21,336.39 L325.41,355.25 L325.50,364.65 L325.61,376.63 L325.81,398.04 L326.01,416.49 L326.21,430.62 L326.41,440.34 L326.61,446.64 L326.81,450.72 L327.00,453.45 L327.01,453.57 L327.21,455.72 L327.41,457.47 L327.61,458.94 L327.81,460.19 L328.01,461.23 L328.21,462.16 L328.41,462.94 L328.50,463.24 L328.61,463.58 L328.81,464.11 L329.01,464.55 L329.21,464.85 L329.41,465.10 L329.61,465.29 L329.81,465.46 L330.00,465.59 L330.01,465.60 L330.21,465.75 L330.41,465.89 L330.61,466.01 L330.81,466.12 L331.01,466.23 L331.21,466.27 L331.41,466.31 L331.50,466.33 L331.61,466.35 L331.81,466.38 L332.01,466.40 L332.21,466.41 L332.41,466.41 L332.61,466.40 L332.81,466.39 L333.00,466.38 L333.01,466.38 L333.21,466.31 L333.41,466.25 L333.61,466.17 L333.81,466.08 L334.01,465.99 L334.21,465.95 L334.41,465.89 L334.50,465.86 L334.61,465.81 L334.81,465.70 L335.01,465.56 L335.21,465.33 L335.41,465.06 L335.61,464.73 L335.81,464.35 L336.00,463.90 L336.01,463.87 L336.21,463.23 L336.41,462.26 L336.61,460.62 L336.81,457.85 L337.01,453.55 L337.21,447.86 L337.41,441.64 L337.50,439.14 L337.61,436.73 L337.81,434.99 L338.01,436.41 L338.21,439.46 L338.41,443.15 L338.61,447.32 L338.81,451.65 L339.00,455.36 L339.01,455.54 L339.21,458.65 L339.41,460.86 L339.61,462.32 L339.81,463.29 L340.01,463.96 L340.21,464.43 L340.41,464.82 L340.50,464.97 L340.61,465.15 L340.81,465.42 L341.01,465.65 L341.21,465.84 L341.41,466.00 L341.61,466.13 L341.81,466.24 L342.00,466.32 L342.01,466.32 L342.21,466.37 L342.41,466.40 L342.61,466.43 L342.81,466.45 L343.01,466.46 L343.21,466.47 L343.41,466.47 L343.50,466.47 L343.61,466.46 L343.81,466.46 L344.01,466.45 L344.21,466.48 L344.41,466.50 L344.61,466.53 L344.81,466.55 L345.00,466.57 L345.01,466.57 L345.21,466.61 L345.41,466.64 L345.61,466.67 L345.81,466.71 L346.01,466.74 L346.21,466.75 L346.41,466.75 L346.50,466.75 L346.61,466.76 L346.81,466.76 L347.01,466.77 L347.21,466.78 L347.41,466.80 L347.61,466.82 L347.81,466.84 L348.00,466.85 L348.01,466.85 L348.21,466.75 L348.41,466.66 L348.61,466.56 L348.81,466.47 L349.50,466.43 L351.00,466.22 L352.50,466.57 L354.00,467.18 L355.50,466.96 L357.00,466.51 L358.50,466.64 L360.00,466.48 L361.50,466.82 L363.00,466.90 L364.50,466.40 L366.00,466.56 L367.50,466.42 L369.00,466.32 L370.50,466.52 L372.00,466.25 L373.50,465.98 L375.00,466.22 L376.50,466.28 L377.68,466.14 L377.88,466.11 L378.00,466.09 L378.08,466.08 L378.28,466.05 L378.48,466.02 L378.68,465.98 L378.88,465.95 L379.08,465.91 L379.28,465.88 L379.48,465.85 L379.50,465.85 L379.68,465.82 L379.88,465.78 L380.08,465.72 L380.28,465.65 L380.48,465.56 L380.68,465.48 L380.88,465.38 L381.00,465.33 L381.08,465.31 L381.28,465.25 L381.48,465.19 L381.68,465.11 L381.88,465.02 L382.08,464.94 L382.28,464.88 L382.48,464.80 L382.50,464.79 L382.68,464.67 L382.88,464.49 L383.08,464.19 L383.28,463.72 L383.48,463.14 L383.68,462.43 L383.88,461.56 L384.00,460.95 L384.08,460.51 L384.28,459.25 L384.48,457.72 L384.68,455.86 L384.88,453.54 L385.08,450.36 L385.28,445.47 L385.48,437.23 L385.50,436.13 L385.68,423.18 L385.88,401.04 L386.08,370.95 L386.28,337.54 L386.48,310.41 L386.68,300.21 L386.88,307.87 L387.00,317.07 L387.08,323.75 L387.28,339.92 L387.48,355.61 L387.68,373.58 L387.88,393.44 L388.08,412.11 L388.28,427.22 L388.48,438.00 L388.50,438.85 L388.68,445.08 L388.88,449.66 L389.08,452.83 L389.28,455.24 L389.48,457.20 L389.68,458.84 L389.88,460.22 L390.00,460.93 L390.08,461.33 L390.28,462.19 L390.48,462.88 L390.68,463.42 L390.88,463.85 L391.08,464.18 L391.28,464.45 L391.48,464.65 L391.50,464.67 L391.68,464.81 L391.88,464.93 L392.08,465.03 L392.28,465.14 L392.48,465.24 L392.68,465.32 L392.88,465.39 L393.00,465.43 L393.08,465.46 L393.28,465.53 L393.48,465.60 L393.68,465.66 L393.88,465.72 L394.08,465.77 L394.28,465.82 L394.48,465.87 L394.50,465.88 L394.68,465.92 L394.88,465.96 L395.08,466.01 L395.28,466.05 L395.48,466.09 L395.68,466.13 L395.88,466.17 L396.00,466.19 L396.08,466.19 L396.28,466.18 L396.48,466.18 L396.68,466.17 L396.88,466.16 L397.08,466.15 L397.28,466.17 L397.48,466.18 L397.50,466.18 L397.68,466.19 L399.00,466.28 L400.50,466.65 L402.00,466.54 L403.50,466.59 L405.00,466.86 L406.50,466.99 L408.00,467.12 L409.50,466.96 L410.46,466.86 L410.66,466.86 L410.86,466.86 L411.00,466.86 L411.06,466.86 L411.26,466.86 L411.46,466.85 L411.66,466.85 L411.86,466.84 L412.06,466.86 L412.26,466.91 L412.46,466.97 L412.50,466.98 L412.66,467.02 L412.86,467.07 L413.06,467.10 L413.26,467.04 L413.46,466.99 L413.66,466.93 L413.86,466.88 L414.00,466.84 L414.06,466.84 L414.26,466.86 L414.46,466.87 L414.66,466.88 L414.86,466.88 L415.06,466.86 L415.26,466.76 L415.46,466.66 L415.50,466.63 L415.66,466.55 L415.86,466.42 L416.06,466.30 L416.26,466.17 L416.46,466.02 L416.66,465.84 L416.86,465.64 L417.00,465.47 L417.06,465.38 L417.26,465.06 L417.46,464.69 L417.66,464.24 L417.86,463.67 L418.06,462.89 L418.26,461.68 L418.46,459.56 L418.50,458.99 L418.66,456.15 L418.86,451.40 L419.06,446.01 L419.26,441.48 L419.46,439.70 L419.66,440.97 L419.86,443.67 L420.00,445.51 L420.06,446.20 L420.26,448.17 L420.46,450.22 L420.66,452.89 L420.86,455.87 L421.06,458.58 L421.26,460.65 L421.46,462.05 L421.50,462.26 L421.66,462.93 L421.86,463.48 L422.06,463.90 L422.26,464.32 L422.46,464.67 L422.66,464.98 L422.86,465.25 L423.00,465.42 L423.06,465.48 L423.26,465.69 L423.46,465.87 L423.66,466.03 L423.86,466.17 L424.06,466.28 L424.26,466.35 L424.46,466.40 L424.50,466.41 L424.66,466.45 L424.86,466.50 L425.06,466.54 L425.26,466.58 L425.46,466.61 L425.66,466.64 L425.86,466.67 L426.00,466.70 L426.06,466.70 L426.26,466.71 L426.46,466.71 L426.66,466.72 L426.86,466.72 L427.06,466.75 L427.26,466.82 L427.46,466.89 L427.50,466.91 L427.66,466.96 L427.86,467.03 L428.06,467.09 L428.26,467.10 L428.46,467.11 L428.66,467.12 L428.86,467.13 L429.00,467.13 L429.06,467.12 L429.26,467.10 L429.46,467.07 L429.66,467.04 L429.86,467.01 L430.06,466.98 L430.26,466.95 L430.46,466.92 L430.50,466.91 L432.00,466.67 L433.50,466.87 L435.00,466.91 L436.50,466.95 L438.00,467.06 L439.50,466.94 L441.00,466.95 L442.50,467.22 L444.00,467.29 L445.50,467.02 L447.00,466.86 L448.50,466.50 L450.00,466.62 L451.50,466.76 L453.00,466.35 L454.50,466.52 L456.00,467.04 L457.50,467.36 L459.00,467.12 L460.50,467.02 L462.00,467.13 L463.50,466.89 L465.00,466.78 L466.50,466.84 L468.00,466.76 L469.50,466.81 L471.00,466.90 L472.50,466.72 L474.00,466.85 L475.50,466.79 L477.00,466.45 L478.50,466.67 L480.00,466.97 L481.50,467.28 L483.00,466.93 L484.50,466.41 L486.00,466.65 L487.50,466.88 L489.00,466.81 L489.43,466.72 L489.63,466.68 L489.83,466.64 L490.03,466.59 L490.23,466.57 L490.43,466.54 L490.50,466.53 L490.63,466.51 L490.83,466.48 L491.03,466.45 L491.23,466.41 L491.43,466.37 L491.63,466.32 L491.83,466.28 L492.00,466.24 L492.03,466.24 L492.23,466.23 L492.43,466.22 L492.63,466.22 L492.83,466.20 L493.03,466.19 L493.23,466.18 L493.43,466.16 L493.50,466.16 L493.63,466.14 L493.83,466.12 L494.03,466.09 L494.23,466.02 L494.43,465.94 L494.63,465.86 L494.83,465.75 L495.00,465.64 L495.03,465.63 L495.23,465.56 L495.43,465.45 L495.63,465.30 L495.83,465.10 L496.03,464.82 L496.23,464.37 L496.43,463.82 L496.50,463.60 L496.63,463.14 L496.83,462.24 L497.03,460.92 L497.23,458.79 L497.43,455.03 L497.63,448.86 L497.83,440.09 L498.00,431.43 L498.03,429.88 L498.23,421.01 L498.43,417.34 L498.63,420.20 L498.83,426.53 L499.03,432.33 L499.23,435.60 L499.43,436.66 L499.50,436.90 L499.63,437.70 L499.83,440.67 L500.03,445.46 L500.23,450.64 L500.43,455.07 L500.63,458.28 L500.83,460.37 L501.00,461.54 L501.03,461.71 L501.23,462.65 L501.43,463.35 L501.63,463.92 L501.83,464.39 L502.03,464.78 L502.23,465.11 L502.43,465.39 L502.50,465.48 L502.63,465.62 L502.83,465.81 L503.03,465.97 L503.23,466.05 L503.43,466.12 L503.63,466.17 L503.83,466.22 L504.00,466.24 L504.03,466.25 L504.23,466.26 L504.43,466.27 L504.63,466.27 L504.83,466.27 L505.03,466.28 L505.23,466.32 L505.43,466.36 L505.50,466.37 L505.63,466.40 L505.83,466.43 L506.03,466.46 L506.23,466.46 L506.43,466.46 L506.63,466.46 L506.83,466.46 L507.00,466.45 L507.03,466.46 L507.23,466.49 L507.43,466.52 L507.63,466.55 L507.83,466.58 L508.03,466.60 L508.23,466.63 L508.43,466.66 L508.50,466.67 L508.63,466.69 L508.83,466.72 L509.03,466.74 L509.23,466.71 L509.43,466.69 L510.00,466.63 L511.50,466.41 L513.00,466.37 L514.50,466.28 L516.00,466.47 L517.50,466.57 L519.00,466.55 L520.50,466.81 L522.00,466.67 L523.50,466.57 L525.00,467.15 L526.50,467.12 L528.00,466.80 L529.50,466.94 L531.00,466.83 L532.50,466.68 L534.00,466.69 L534.33,466.61 L534.53,466.57 L534.73,466.52 L534.93,466.47 L535.13,466.47 L535.33,466.49 L535.50,466.51 L535.53,466.52 L535.73,466.54 L535.93,466.56 L536.13,466.53 L536.33,466.47 L536.53,466.42 L536.73,466.36 L536.93,466.30 L537.00,466.28 L537.13,466.26 L537.33,466.22 L537.53,466.18 L537.73,466.14 L537.93,466.10 L538.13,466.05 L538.33,465.99 L538.50,465.94 L538.53,465.93 L538.73,465.87 L538.93,465.79 L539.13,465.72 L539.33,465.66 L539.53,465.57 L539.73,465.45 L539.93,465.31 L540.00,465.25 L540.13,465.09 L540.33,464.80 L540.53,464.45 L540.73,464.02 L540.93,463.50 L541.13,462.89 L541.33,462.14 L541.50,461.35 L541.53,461.19 L541.73,459.91 L541.93,457.96 L542.13,454.64 L542.33,448.83 L542.53,439.34 L542.73,425.91 L542.93,410.32 L543.00,405.11 L543.13,397.08 L543.33,392.01 L543.53,397.25 L543.73,408.18 L543.93,418.48 L544.13,424.32 L544.33,425.43 L544.50,424.58 L544.53,424.46 L544.73,425.28 L544.93,430.06 L545.13,437.46 L545.33,445.09 L545.53,451.36 L545.73,455.75 L545.93,458.57 L546.00,459.29 L546.13,460.37 L546.33,461.60 L546.53,462.52 L546.73,463.25 L546.93,463.85 L547.13,464.27 L547.33,464.55 L547.50,464.74 L547.53,464.76 L547.73,464.91 L547.93,465.00 L548.13,465.11 L548.33,465.22 L548.53,465.31 L548.73,465.37 L548.93,465.42 L549.00,465.44 L549.13,465.47 L549.33,465.50 L549.53,465.53 L549.73,465.55 L549.93,465.57 L550.13,465.63 L550.33,465.71 L550.50,465.78 L550.53,465.79 L550.73,465.87 L550.93,465.94 L551.13,466.01 L551.33,466.07 L551.53,466.13 L551.73,466.18 L551.93,466.24 L552.00,466.26 L552.13,466.30 L552.33,466.35 L552.53,466.40 L552.73,466.45 L552.93,466.50 L553.13,466.54 L553.33,466.58 L553.50,466.61 L553.53,466.62 L553.73,466.65 L553.93,466.69 L554.13,466.73 L554.33,466.78 L555.00,466.93 L556.50,466.81 L558.00,466.53 L559.50,466.62 L560.82,466.64 L561.00,466.65 L561.02,466.64 L561.22,466.52 L561.42,466.40 L561.62,466.28 L561.82,466.16 L562.02,466.05 L562.22,466.01 L562.42,465.97 L562.50,465.95 L562.62,465.93 L562.82,465.88 L563.02,465.85 L563.22,465.95 L563.42,466.04 L563.62,466.13 L563.82,466.22 L564.00,466.30 L564.02,466.31 L564.22,466.40 L564.42,466.48 L564.62,466.57 L564.82,466.65 L565.02,466.73 L565.22,466.71 L565.42,466.68 L565.50,466.67 L565.62,466.65 L565.82,466.62 L566.02,466.57 L566.22,466.44 L566.42,466.30 L566.62,466.15 L566.82,465.97 L567.00,465.79 L567.02,465.78 L567.22,465.68 L567.42,465.53 L567.62,465.34 L567.82,465.10 L568.02,464.78 L568.22,464.32 L568.42,463.60 L568.50,463.18 L568.62,462.34 L568.82,460.09 L569.02,456.38 L569.22,451.02 L569.42,444.73 L569.62,439.26 L569.82,437.01 L570.00,438.65 L570.02,439.01 L570.22,443.48 L570.42,447.89 L570.62,450.56 L570.82,451.09 L571.02,450.30 L571.22,449.70 L571.42,450.59 L571.50,451.43 L571.62,453.06 L571.82,456.16 L572.02,459.01 L572.22,461.15 L572.42,462.56 L572.62,463.44 L572.82,464.00 L573.00,464.35 L573.02,464.39 L573.22,464.77 L573.42,465.08 L573.62,465.35 L573.82,465.58 L574.02,465.78 L574.22,465.95 L574.42,466.10 L574.50,466.15 L574.62,466.23 L574.82,466.35 L575.02,466.46 L575.22,466.57 L575.42,466.68 L575.62,466.78 L575.82,466.87 L576.00,466.95 L576.02,466.95 L576.22,466.94 L576.42,466.93 L576.62,466.91 L576.82,466.89 L577.02,466.87 L577.22,466.80 L577.42,466.73 L577.50,466.70 L577.62,466.66 L577.82,466.59 L578.02,466.51 L578.22,466.44 L578.42,466.37 L578.62,466.30 L578.82,466.23 L579.00,466.16 L579.02,466.16 L579.22,466.20 L579.42,466.24 L579.62,466.28 L579.82,466.32 L580.02,466.36 L580.22,466.41 L580.42,466.47 L580.50,466.49 L580.62,466.52 L580.82,466.57 L582.00,466.99 L583.50,466.84 L585.00,466.27 L586.50,466.44 L588.00,467.09 L589.50,466.55 L591.00,466.08 L592.50,466.61 L594.00,466.82 L595.50,466.71 L597.00,466.56 L598.50,466.33 L600.00,466.37 L601.50,466.94 L603.00,467.15 L604.50,466.84 L606.00,466.85 L607.50,466.98 L609.00,466.95 L610.50,466.75 L612.00,466.80 L613.50,466.85 L615.00,466.41 L616.50,466.29 L618.00,466.65 L619.50,466.79 L621.00,466.76 L622.50,466.73 L624.00,466.61 L625.50,466.87 L627.00,467.09 L627.32,466.99 L627.52,466.92 L627.72,466.86 L627.92,466.80 L628.12,466.80 L628.32,466.85 L628.50,466.90 L628.52,466.90 L628.72,466.95 L628.92,467.00 L629.12,466.99 L629.32,466.95 L629.52,466.90 L629.72,466.85 L629.92,466.80 L630.00,466.78 L630.12,466.76 L630.32,466.73 L630.52,466.70 L630.72,466.67 L630.92,466.64 L631.12,466.60 L631.32,466.55 L631.50,466.51 L631.52,466.51 L631.72,466.46 L631.92,466.41 L632.12,466.38 L632.32,466.37 L632.52,466.36 L632.72,466.34 L632.92,466.32 L633.00,466.32 L633.12,466.31 L633.32,466.28 L633.52,466.25 L633.72,466.21 L633.92,466.16 L634.12,466.09 L634.32,465.98 L634.50,465.87 L634.52,465.86 L634.72,465.69 L634.92,465.43 L635.12,465.04 L635.32,464.34 L635.52,463.16 L635.72,461.45 L635.82,460.45 L635.92,459.43 L636.00,458.65 L636.02,458.46 L636.12,457.65 L636.22,457.11 L636.32,456.93 L636.42,457.12 L636.52,457.63 L636.62,458.38 L636.72,459.24 L636.82,460.11 L636.92,460.91 L637.02,461.58 L637.12,462.07 L637.22,462.38 L637.32,462.51 L637.42,462.48 L637.50,462.35 L637.52,462.31 L637.62,462.06 L637.72,461.77 L637.82,461.50 L637.92,461.31 L638.02,461.25 L638.12,461.33 L638.22,461.57 L638.32,461.93 L638.42,462.38 L638.52,462.86 L638.62,463.33 L638.72,463.77 L638.82,464.15 L638.92,464.47 L639.00,464.68 L639.02,464.74 L639.12,464.99 L639.22,465.19 L639.32,465.35 L639.42,465.48 L639.52,465.58 L639.62,465.67 L639.72,465.75 L639.82,465.82 L639.92,465.88 L640.02,465.93 L640.12,465.95 L640.22,465.96 L640.32,465.97 L640.42,465.98 L640.50,465.98 L640.52,465.99 L640.62,465.99 L640.72,465.98 L640.82,465.98 L640.92,465.97 L641.02,465.97 L641.12,466.00 L641.22,466.02 L641.32,466.04 L641.42,466.06 L641.52,466.08 L641.62,466.10 L641.72,466.11 L641.82,466.12 L641.92,466.13 L642.00,466.13 L642.02,466.13 L642.12,466.11 L642.22,466.09 L642.32,466.06 L642.42,466.03 L642.52,466.00 L642.62,465.96 L642.72,465.91 L642.82,465.86 L642.92,465.80 L643.02,465.74 L643.12,465.71 L643.22,465.66 L643.32,465.58 L643.42,465.46 L643.50,465.33 L643.52,465.29 L643.62,465.03 L643.72,464.67 L643.82,464.18 L643.92,463.52 L644.02,462.67 L644.12,461.59 L644.22,460.34 L644.32,458.99 L644.42,457.61 L644.52,456.31 L644.62,455.24 L644.72,454.52 L644.82,454.26 L644.92,454.50 L645.00,455.00 L645.02,455.16 L645.12,456.12 L645.22,457.23 L645.32,458.36 L645.42,459.40 L645.52,460.27 L645.62,460.93 L645.72,461.34 L645.82,461.52 L645.92,461.48 L646.02,461.27 L646.12,460.93 L646.22,460.53 L646.32,460.14 L646.42,459.84 L646.50,459.70 L646.52,459.69 L646.62,459.74 L646.72,460.01 L646.82,460.47 L646.92,461.05 L647.02,461.70 L647.12,462.38 L647.22,463.03 L647.32,463.62 L647.42,464.12 L647.62,464.88 L647.82,465.37 L648.00,465.65 L648.02,465.68 L648.22,465.95 L648.42,466.16 L648.62,466.34 L648.82,466.50 L649.02,466.63 L649.22,466.69 L649.42,466.73 L649.50,466.75 L649.62,466.77 L649.82,466.79 L650.02,466.81 L650.22,466.82 L650.42,466.81 L650.62,466.81 L650.82,466.80 L651.00,466.80 L651.02,466.79 L651.22,466.71 L651.42,466.63 L651.62,466.56 L651.82,466.48 L652.02,466.41 L652.22,466.40 L652.42,466.40 L652.50,466.40 L652.62,466.39 L652.82,466.39 L653.02,466.39 L653.22,466.41 L653.42,466.43 L653.62,466.45 L653.82,466.47 L654.00,466.48 L654.02,466.49 L654.22,466.58 L654.42,466.66 L654.62,466.74 L654.82,466.83 L655.02,466.90 L655.22,466.91 L655.42,466.93 L655.50,466.93 L655.62,466.94 L655.82,466.95 L657.00,467.17 L658.50,467.12 L660.00,466.66 L661.50,466.40 L663.00,466.50 L664.50,466.79 L666.00,467.19" stroke="#0000f0" stroke-width="6.1"/>
<path d="M702.00,467.09 L703.00,466.63 L704.00,466.89 L705.00,466.85 L706.00,467.27 L707.00,467.19 L708.00,467.08 L709.00,467.30 L710.00,467.51 L711.00,467.48 L712.00,467.53 L713.00,467.16 L714.00,467.23 L715.00,467.03 L716.00,466.93 L717.00,466.92 L718.00,466.74 L719.00,467.07 L720.00,466.88 L721.00,466.70 L722.00,466.36 L723.00,466.51 L724.00,466.84 L725.00,467.11 L726.00,466.98 L727.00,467.06 L728.00,466.92 L729.00,467.00 L730.00,467.03 L731.00,467.10 L732.00,466.83 L733.00,466.79 L734.00,466.81 L735.00,467.05 L736.00,467.15 L737.00,467.04 L738.00,467.21 L739.00,467.03 L740.00,467.55 L741.00,467.15 L742.00,467.16 L743.00,466.80 L744.00,467.26 L745.00,467.16 L746.00,467.01 L747.00,467.05 L748.00,467.05 L749.00,467.20 L750.00,466.97 L751.00,467.10 L752.00,466.83 L753.00,466.76 L754.00,466.68 L755.00,466.92 L756.00,467.18 L757.00,467.28 L758.00,467.35 L759.00,467.16 L760.00,467.29 L761.00,467.09 L762.00,467.09 L763.00,466.64 L764.00,466.57 L765.00,466.73 L766.00,466.96 L767.00,466.83 L768.00,466.68 L769.00,466.65 L770.00,466.77 L771.00,466.83 L772.00,466.82 L773.00,467.01 L774.00,467.11 L775.00,467.05 L776.00,467.22 L777.00,467.03 L778.00,467.09 L779.00,467.12 L780.00,467.22 L781.00,467.20 L782.00,466.97 L783.00,466.95 L784.00,466.78 L785.00,466.90 L786.00,466.87 L787.00,466.89 L788.00,466.63 L789.00,466.77 L790.00,466.78 L791.00,467.28 L792.00,466.97 L793.00,467.20 L794.00,466.44 L795.00,466.60 L796.00,466.49 L797.00,466.98 L798.00,467.02 L799.00,467.05 L800.00,467.32 L801.00,467.41 L802.00,467.34 L803.00,467.05 L804.00,466.46 L805.00,466.48 L806.00,466.63 L807.00,467.00 L808.00,467.12 L809.00,466.73 L810.00,466.95 L811.00,466.94 L812.00,467.13 L813.00,467.15 L814.00,467.40 L815.00,467.53 L816.00,467.09 L817.00,466.89 L818.00,466.81 L819.00,466.90 L820.00,466.57 L821.00,466.45 L822.00,466.55 L823.00,466.75 L824.00,466.62 L825.00,466.60 L826.00,466.56 L827.00,466.52 L828.00,466.43 L829.00,466.16 L830.00,465.82 L831.00,465.62 L832.00,465.73 L833.00,466.29 L834.00,465.82 L835.00,465.48 L836.00,464.79 L837.00,465.07 L838.00,464.90 L839.00,464.96 L840.00,464.97 L841.00,464.88 L842.00,464.74 L843.00,464.72 L844.00,464.88 L845.00,464.51 L846.00,464.46 L847.00,464.09 L848.00,464.27 L849.00,463.74 L850.00,463.64 L851.00,463.34 L852.00,463.36 L853.00,463.16 L854.00,462.91 L855.00,462.55 L856.00,462.52 L857.00,462.24 L858.00,462.30 L859.00,462.02 L860.00,462.29 L861.00,462.20 L862.00,462.15 L863.00,461.89 L864.00,461.32 L865.00,460.85 L866.00,460.11 L867.00,459.75 L868.00,459.26 L869.00,458.25 L870.00,457.00 L871.00,455.71 L872.00,454.31 L873.00,452.48 L874.00,449.85 L875.00,446.72 L876.00,443.19 L877.00,439.50 L878.00,435.61 L879.00,431.81 L880.00,427.99 L881.00,423.83 L882.00,418.92 L883.00,413.92 L884.00,409.40 L885.00,405.49 L886.00,402.24 L887.00,399.35 L888.00,396.80 L889.00,395.05 L890.00,393.37 L891.00,391.89 L892.00,391.10 L893.00,392.55 L894.00,395.33 L895.00,398.72 L896.00,402.09 L897.00,405.53 L898.00,409.87 L899.00,414.26 L900.00,419.19 L901.00,423.38 L902.00,426.59 L903.00,428.29 L904.00,430.28 L905.00,431.80 L906.00,433.31 L907.00,433.90 L908.00,433.66 L909.00,432.03 L910.00,429.55 L911.00,427.62 L912.00,425.97 L913.00,424.32 L914.00,423.08 L915.00,422.77 L916.00,423.60 L917.00,425.24 L918.00,427.26 L919.00,429.73 L920.00,432.63 L921.00,435.70 L922.00,438.80 L923.00,441.44 L924.00,444.38 L925.00,446.94 L926.00,449.21 L927.00,451.15 L928.00,452.77 L929.00,454.59 L930.00,456.22 L931.00,457.64 L932.00,458.77 L933.00,459.60 L934.00,460.31 L935.00,460.77 L936.00,461.22 L937.00,461.82 L938.00,462.38 L939.00,463.00 L940.00,463.46 L941.00,464.02 L942.00,464.27 L943.00,464.37 L944.00,464.38 L945.00,464.21 L946.00,464.71 L947.00,464.79 L948.00,465.17 L949.00,465.36 L950.00,465.45 L951.00,465.57 L952.00,465.41 L953.00,465.63 L954.00,465.87 L955.00,466.04 L956.00,466.34 L957.00,466.40 L958.00,466.56 L959.00,466.48 L960.00,466.65 L961.00,466.78 L962.00,466.61 L963.00,466.52 L964.00,466.41 L965.00,466.43 L966.00,466.02 L967.00,466.08 L968.00,466.32 L969.00,466.97 L970.00,466.95 L971.00,467.07 L972.00,466.91 L973.00,466.94 L974.00,466.81 L975.00,466.78 L976.00,466.89 L977.00,467.00 L978.00,467.16 L979.00,467.03 L980.00,467.02 L981.00,466.78 L982.00,466.92 L983.00,466.84 L984.00,467.06 L985.00,466.67 L986.00,466.85 L987.00,466.85 L988.00,467.00 L989.00,466.69 L990.00,466.61 L991.00,466.73 L992.00,466.90 L993.00,466.82 L994.00,466.95 L995.00,467.01 L996.00,467.06 L997.00,467.05 L998.00,467.06 L999.00,467.02 L1000.00,467.02 L1001.00,466.96 L1002.00,467.23 L1003.00,466.98 L1004.00,467.09 L1005.00,467.14 L1006.00,467.32 L1007.00,467.35 L1008.00,467.22 L1009.00,467.28 L1010.00,467.22 L1011.00,467.22 L1012.00,467.04 L1013.00,467.34 L1014.00,467.13 L1015.00,467.30 L1016.00,466.83 L1017.00,467.06 L1018.00,467.14 L1019.00,467.12 L1020.00,467.31 L1021.00,466.95 L1022.00,466.99 L1023.00,466.76 L1024.00,466.74 L1025.00,467.03 L1026.00,467.05 L1027.00,466.80 L1028.00,466.41 L1029.00,466.22 L1030.00,466.72 L1031.00,466.77 L1032.00,466.77 L1033.00,466.81 L1034.00,466.82 L1035.00,466.98 L1036.00,466.66 L1037.00,466.98 L1038.00,467.16 L1039.00,467.20 L1040.00,466.66 L1041.00,466.16 L1042.00,466.50 L1043.00,466.78 L1044.00,467.22 L1045.00,466.85 L1046.00,466.79 L1047.00,466.61 L1048.00,466.99 L1049.00,467.10 L1050.00,466.96 L1051.00,466.84 L1052.00,466.88 L1053.00,467.13 L1054.00,467.05 L1055.00,466.94 L1056.00,466.86 L1057.00,466.50 L1058.00,466.64 L1059.00,466.83 L1060.00,467.31 L1061.00,467.12 L1062.00,466.68 L1063.00,466.80 L1064.00,466.87 L1065.00,467.08 L1066.00,466.91 L1067.00,466.89 L1068.00,466.93 L1069.00,467.14 L1070.00,467.15 L1071.00,467.45 L1072.00,467.27 L1073.00,467.40 L1074.00,467.25 L1075.00,467.34 L1076.00,467.45 L1077.00,467.39 L1078.00,467.15 L1079.00,467.24 L1080.00,467.13 L1081.00,467.09 L1082.00,466.97 L1083.00,467.10 L1084.00,467.23 L1085.00,467.10 L1086.00,467.09 L1087.00,467.40 L1088.00,467.38 L1089.00,467.08 L1090.00,466.68 L1091.00,466.78 L1092.00,466.95 L1093.00,466.93 L1094.00,466.97 L1095.00,467.12 L1096.00,467.19 L1097.00,467.12 L1098.00,466.90 L1099.00,466.83 L1100.00,466.73 L1101.00,466.62 L1102.00,466.77 L1103.00,466.81 L1104.00,466.95 L1105.00,466.91 L1106.00,466.94 L1107.00,466.90 L1108.00,466.79 L1109.00,466.64 L1110.00,466.97 L1111.00,466.80 L1112.00,466.91 L1113.00,466.83 L1114.00,466.92 L1115.00,466.78 L1116.00,466.49 L1117.00,466.37 L1118.00,466.71 L1119.00,466.83 L1120.00,466.93 L1121.00,466.64 L1122.00,466.70 L1123.00,466.82 L1124.00,466.77 L1125.00,466.82 L1126.00,466.73 L1127.00,466.81 L1128.00,466.75 L1129.00,466.78 L1130.00,466.85 L1131.00,466.72 L1132.00,467.26 L1133.00,467.18 L1134.00,467.40 L1135.00,466.83 L1136.00,466.72 L1137.00,466.59 L1138.00,466.67 L1139.00,466.79 L1140.00,466.80 L1141.00,467.00 L1142.00,467.36 L1143.00,467.69 L1144.00,467.55 L1145.00,467.54 L1146.00,467.49 L1147.00,467.38 L1148.00,467.01 L1149.00,466.72 L1150.00,467.13 L1151.00,467.18 L1152.00,467.16 L1153.00,467.06 L1154.00,467.06 L1155.00,467.07 L1156.00,466.94 L1157.00,467.00 L1158.00,466.63 L1159.00,466.34 L1160.00,466.42 L1161.00,466.58 L1162.00,466.97 L1163.00,466.85 L1164.00,467.12 L1165.00,466.96 L1166.00,466.69 L1167.00,466.53 L1168.00,466.32 L1169.00,466.65 L1170.00,467.00 L1171.00,467.14 L1172.00,467.11 L1173.00,466.55 L1174.00,466.53 L1175.00,466.48 L1176.00,466.76 L1177.00,466.92 L1178.00,467.18 L1179.00,467.21 L1180.00,467.18 L1181.00,466.70 L1182.00,466.80 L1183.00,466.75 L1184.00,466.72 L1185.00,466.67 L1186.00,466.56 L1187.00,467.00 L1188.00,467.02 L1189.00,467.14 L1190.00,467.26 L1191.00,467.16 L1192.00,467.09 L1193.00,466.83 L1194.00,466.87 L1195.00,466.79 L1196.00,466.87 L1197.00,466.92 L1198.00,466.98 L1199.00,466.64 L1200.00,466.76 L1201.00,467.06 L1202.00,467.46 L1203.00,467.42 L1204.00,467.51 L1205.00,467.42 L1206.00,467.53 L1207.00,467.22 L1208.00,467.03 L1209.00,466.78 L1210.00,466.76 L1211.00,466.98 L1212.00,467.27 L1213.00,467.39 L1214.00,467.48 L1215.00,467.53 L1216.00,467.75 L1217.00,467.60 L1218.00,467.16 L1219.00,467.21 L1220.00,467.02 L1221.00,466.84 L1222.00,466.18 L1223.00,466.54 L1224.00,466.60 L1225.00,466.88 L1226.00,466.67 L1227.00,467.11 L1228.00,466.93 L1229.00,466.96 L1230.00,466.80 L1231.00,467.25 L1232.00,467.20 L1233.00,467.20 L1234.00,466.93 L1235.00,467.14 L1236.00,467.25 L1237.00,467.23 L1238.00,467.15 L1239.00,466.76 L1240.00,466.83 L1241.00,466.60 L1242.00,466.77 L1243.00,466.93 L1244.00,467.42 L1245.00,467.52 L1246.00,467.33 L1247.00,466.93 L1248.00,467.02 L1249.00,467.02 L1250.00,467.23" stroke="#0000f0" stroke-width="6.1"/>
<path d="M117.00,554.46 L118.50,555.13 L120.00,555.14 L121.50,554.12 L123.00,554.11 L124.50,554.76 L126.00,554.70 L127.50,554.75 L129.00,554.83 L130.50,554.49 L132.00,554.47 L133.50,554.53 L135.00,554.31 L136.50,554.35 L138.00,554.72 L139.50,554.93 L141.00,554.74 L142.50,554.53 L144.00,554.39 L145.50,554.61 L147.00,554.83 L148.50,554.48 L150.00,554.39 L151.50,554.71 L153.00,555.11 L154.50,554.39 L156.00,553.79 L157.50,554.38 L159.00,554.44 L160.50,554.11 L162.00,554.02 L163.50,554.56 L165.00,555.19 L166.50,555.15 L168.00,554.88 L169.50,554.79 L171.00,554.31 L172.50,554.39 L174.00,554.80 L175.50,554.59 L177.00,554.47 L178.50,554.64 L179.10,554.85 L179.30,554.81 L179.50,554.78 L179.70,554.75 L179.90,554.72 L180.00,554.70 L180.10,554.69 L180.30,554.68 L180.50,554.66 L180.70,554.64 L180.90,554.62 L181.10,554.59 L181.30,554.54 L181.50,554.49 L181.70,554.44 L181.90,554.38 L182.10,554.34 L182.30,554.30 L182.50,554.26 L182.70,554.21 L182.90,554.16 L183.00,554.14 L183.10,554.13 L183.30,554.11 L183.50,554.08 L183.70,554.03 L183.90,553.97 L184.10,553.87 L184.30,553.73 L184.50,553.56 L184.70,553.34 L184.90,553.07 L185.10,552.74 L185.30,552.36 L185.50,551.88 L185.70,551.29 L185.90,550.57 L186.00,550.14 L186.10,549.61 L186.30,548.23 L186.50,545.96 L186.70,541.49 L186.90,532.16 L187.10,514.02 L187.30,483.31 L187.50,439.84 L187.70,390.51 L187.90,349.75 L188.10,333.47 L188.30,347.88 L188.50,385.99 L188.70,433.50 L188.90,476.71 L189.00,494.16 L189.10,508.43 L189.30,528.08 L189.50,538.71 L189.70,544.00 L189.90,546.66 L190.10,548.20 L190.30,549.29 L190.50,550.14 L190.70,550.86 L190.90,551.45 L191.10,551.96 L191.30,552.40 L191.50,552.76 L191.70,553.06 L191.90,553.31 L192.00,553.42 L192.10,553.51 L192.30,553.66 L192.50,553.79 L192.70,553.89 L192.90,553.97 L193.10,554.03 L193.30,554.06 L193.50,554.08 L193.70,554.09 L193.90,554.10 L194.10,554.10 L194.30,554.08 L194.50,554.06 L194.70,554.04 L194.90,554.02 L195.00,554.01 L195.10,554.03 L195.30,554.06 L195.50,554.10 L195.70,554.13 L195.90,554.17 L196.10,554.19 L196.30,554.22 L196.50,554.24 L196.70,554.26 L196.90,554.28 L197.10,554.32 L197.30,554.37 L197.50,554.42 L197.70,554.47 L197.90,554.51 L198.00,554.54 L198.10,554.52 L198.30,554.49 L198.50,554.45 L198.70,554.41 L198.90,554.38 L199.10,554.38 L199.50,554.47 L201.00,554.73 L202.50,554.57 L204.00,554.07 L205.50,553.85 L207.00,553.88 L208.50,554.46 L210.00,554.79 L211.50,554.88 L213.00,554.70 L214.50,554.38 L216.00,554.66 L217.50,554.84 L219.00,554.28 L220.50,554.52 L222.00,555.09 L223.50,554.68 L225.00,554.66 L226.50,554.96 L228.00,555.07 L229.50,554.71 L231.00,554.65 L232.50,554.72 L234.00,554.77 L235.50,554.64 L237.00,554.43 L238.50,554.81 L240.00,554.69 L241.50,554.58 L243.00,554.73 L244.50,554.73 L246.00,554.83 L247.50,554.88 L249.00,554.73 L250.50,554.60 L252.00,554.61 L253.50,554.84 L255.00,554.79 L256.50,554.39 L258.00,554.44 L259.50,554.48 L261.00,554.55 L262.50,554.93 L264.00,555.18 L265.50,555.21 L267.00,555.08 L268.50,554.82 L270.00,554.59 L271.50,554.65 L273.00,554.97 L274.50,555.32 L276.00,555.27 L277.50,554.63 L279.00,554.25 L280.50,554.67 L282.00,555.35 L283.50,555.35 L285.00,555.13 L286.50,555.08 L288.00,554.93 L289.50,554.99 L291.00,554.40 L292.50,554.33 L294.00,555.04 L295.50,554.89 L297.00,554.58 L298.50,554.68 L300.00,554.50 L301.50,554.50 L303.00,554.39 L304.50,554.47 L306.00,554.43 L307.50,554.38 L309.00,554.57 L310.50,554.60 L312.00,554.92 L313.50,554.89 L315.00,554.77 L316.50,554.37 L318.00,554.15 L318.91,554.16 L319.11,554.16 L319.31,554.15 L319.50,554.15 L319.51,554.15 L319.71,554.15 L319.91,554.14 L320.11,554.16 L320.31,554.19 L320.51,554.23 L320.71,554.26 L320.91,554.29 L321.00,554.31 L321.11,554.32 L321.31,554.35 L321.51,554.37 L321.71,554.39 L321.91,554.40 L322.11,554.38 L322.31,554.32 L322.50,554.26 L322.51,554.26 L322.71,554.19 L322.91,554.12 L323.11,554.04 L323.31,553.96 L323.51,553.86 L323.71,553.75 L323.91,553.61 L324.00,553.54 L324.11,553.42 L324.31,553.17 L324.51,552.88 L324.71,552.53 L324.91,552.11 L325.11,551.64 L325.31,551.10 L325.50,550.48 L325.51,550.45 L325.71,549.66 L325.91,548.70 L326.11,547.48 L326.31,545.81 L326.51,543.24 L326.71,538.87 L326.91,531.44 L327.00,526.78 L327.11,519.91 L327.31,504.46 L327.51,487.54 L327.71,474.08 L327.91,469.15 L328.11,472.86 L328.31,481.25 L328.50,491.18 L328.51,491.74 L328.71,503.65 L328.91,515.67 L329.11,526.13 L329.31,534.15 L329.51,539.69 L329.71,543.27 L329.91,545.57 L330.00,546.35 L330.11,547.16 L330.31,548.36 L330.51,549.34 L330.71,550.17 L330.91,550.86 L331.11,551.44 L331.31,551.93 L331.50,552.31 L331.51,552.33 L331.71,552.65 L331.91,552.91 L332.11,553.13 L332.31,553.32 L332.51,553.48 L332.71,553.61 L332.91,553.72 L333.00,553.76 L333.11,553.77 L333.31,553.79 L333.51,553.80 L333.71,553.80 L333.91,553.80 L334.11,553.84 L334.31,553.92 L334.50,553.99 L334.51,553.99 L334.71,554.06 L334.91,554.13 L335.11,554.17 L335.31,554.18 L335.51,554.19 L335.71,554.19 L335.91,554.19 L336.00,554.20 L336.11,554.24 L336.31,554.32 L336.51,554.39 L336.71,554.47 L336.91,554.54 L337.11,554.53 L337.31,554.46 L337.50,554.39 L337.51,554.38 L337.71,554.30 L337.91,554.22 L338.11,554.15 L338.31,554.10 L338.51,554.05 L338.71,553.98 L338.91,553.90 L339.00,553.86 L339.11,553.80 L339.31,553.70 L339.51,553.57 L339.71,553.41 L339.91,553.23 L340.11,553.06 L340.31,552.88 L340.50,552.62 L340.51,552.61 L340.71,552.15 L340.91,551.34 L341.11,549.90 L341.31,547.63 L341.51,544.58 L341.71,541.26 L341.91,538.66 L342.00,538.01 L342.11,537.78 L342.31,538.61 L342.51,540.30 L342.71,542.31 L342.91,544.56 L343.11,546.88 L343.31,548.96 L343.50,550.54 L343.51,550.61 L343.71,551.78 L343.91,552.54 L344.11,552.99 L344.31,553.24 L344.51,553.41 L344.71,553.53 L344.91,553.62 L345.00,553.65 L345.11,553.69 L345.31,553.75 L345.51,553.78 L345.71,553.79 L345.91,553.79 L346.11,553.81 L346.31,553.84 L346.50,553.86 L346.51,553.86 L346.71,553.88 L346.91,553.89 L347.11,553.94 L347.31,554.04 L347.51,554.13 L347.71,554.22 L347.91,554.30 L348.00,554.34 L348.11,554.34 L348.31,554.33 L348.51,554.32 L348.71,554.31 L348.91,554.30 L349.11,554.30 L349.31,554.31 L349.50,554.32 L349.51,554.32 L349.71,554.33 L349.91,554.34 L350.11,554.34 L350.31,554.34 L350.51,554.33 L350.71,554.33 L350.91,554.32 L351.00,554.32 L351.11,554.34 L351.31,554.37 L351.51,554.40 L351.71,554.43 L351.91,554.46 L352.11,554.48 L352.31,554.48 L352.50,554.48 L352.51,554.48 L352.71,554.49 L352.91,554.49 L353.11,554.53 L354.00,554.85 L355.50,555.13 L357.00,554.98 L358.50,554.76 L360.00,554.54 L361.50,554.42 L363.00,554.31 L364.50,554.50 L366.00,554.73 L367.50,554.58 L369.00,554.38 L370.50,554.40 L372.00,554.70 L373.50,554.86 L375.00,554.91 L376.50,554.95 L378.00,554.74 L379.50,554.78 L381.00,554.71 L382.38,554.43 L382.50,554.40 L382.58,554.38 L382.78,554.33 L382.98,554.27 L383.18,554.22 L383.38,554.17 L383.58,554.12 L383.78,554.07 L383.98,554.02 L384.00,554.01 L384.18,553.96 L384.38,553.91 L384.58,553.86 L384.78,553.80 L384.98,553.74 L385.18,553.72 L385.38,553.70 L385.50,553.68 L385.58,553.67 L385.78,553.65 L385.98,553.61 L386.18,553.60 L386.38,553.59 L386.58,553.56 L386.78,553.53 L386.98,553.47 L387.00,553.47 L387.18,553.34 L387.38,553.17 L387.58,552.97 L387.78,552.72 L387.98,552.41 L388.18,552.01 L388.38,551.53 L388.50,551.19 L388.58,550.94 L388.78,550.21 L388.98,549.34 L389.18,548.24 L389.38,546.92 L389.58,545.28 L389.78,543.09 L389.98,539.77 L390.00,539.34 L390.18,534.29 L390.38,524.87 L390.58,510.00 L390.78,489.73 L390.98,467.20 L391.18,448.98 L391.38,442.27 L391.50,444.40 L391.58,447.64 L391.78,458.47 L391.98,469.29 L392.18,479.49 L392.38,491.16 L392.58,504.34 L392.78,516.98 L392.98,527.34 L393.00,528.21 L393.18,534.79 L393.38,539.71 L393.58,542.88 L393.78,545.06 L393.98,546.70 L394.18,547.92 L394.38,548.91 L394.50,549.41 L394.58,549.72 L394.78,550.37 L394.98,550.90 L395.18,551.40 L395.38,551.82 L395.58,552.16 L395.78,552.44 L395.98,552.66 L396.00,552.68 L396.18,552.84 L396.38,552.99 L396.58,553.11 L396.78,553.21 L396.98,553.30 L397.18,553.42 L397.38,553.54 L397.50,553.61 L397.58,553.65 L397.78,553.76 L397.98,553.86 L398.18,553.86 L398.38,553.85 L398.58,553.84 L398.78,553.82 L398.98,553.81 L399.00,553.80 L399.18,553.83 L399.38,553.85 L399.58,553.88 L399.78,553.90 L399.98,553.92 L400.18,553.95 L400.38,553.99 L400.50,554.01 L400.58,554.02 L400.78,554.05 L400.98,554.09 L401.18,554.20 L401.38,554.32 L401.58,554.45 L401.78,554.57 L401.98,554.69 L402.00,554.70 L402.18,554.68 L402.38,554.66 L403.50,554.60 L405.00,554.30 L406.50,554.31 L408.00,554.48 L409.50,554.71 L411.00,554.57 L412.50,554.60 L414.00,554.64 L415.50,554.52 L415.76,554.52 L415.96,554.52 L416.16,554.51 L416.36,554.51 L416.56,554.51 L416.76,554.50 L416.96,554.50 L417.00,554.50 L417.16,554.49 L417.36,554.49 L417.56,554.48 L417.76,554.47 L417.96,554.46 L418.16,554.43 L418.36,554.40 L418.50,554.38 L418.56,554.37 L418.76,554.34 L418.96,554.31 L419.16,554.29 L419.36,554.29 L419.56,554.28 L419.76,554.27 L419.96,554.26 L420.00,554.25 L420.16,554.21 L420.36,554.16 L420.56,554.11 L420.76,554.05 L420.96,553.99 L421.16,553.93 L421.36,553.86 L421.50,553.80 L421.56,553.77 L421.76,553.68 L421.96,553.56 L422.16,553.45 L422.36,553.32 L422.56,553.16 L422.76,552.96 L422.96,552.70 L423.00,552.64 L423.16,552.38 L423.36,551.86 L423.56,550.94 L423.76,549.31 L423.96,546.67 L424.16,542.96 L424.36,538.75 L424.50,536.15 L424.56,535.27 L424.76,533.95 L424.96,535.03 L425.16,537.10 L425.36,538.96 L425.56,540.32 L425.76,541.71 L425.96,543.59 L426.00,544.02 L426.16,545.82 L426.36,547.90 L426.56,549.54 L426.76,550.65 L426.96,551.35 L427.16,551.85 L427.36,552.22 L427.50,552.43 L427.56,552.51 L427.76,552.75 L427.96,552.95 L428.16,553.24 L428.36,553.54 L428.56,553.81 L428.76,554.06 L428.96,554.30 L429.00,554.35 L429.16,554.46 L429.36,554.59 L429.56,554.71 L429.76,554.83 L429.96,554.94 L430.16,554.96 L430.36,554.95 L430.50,554.95 L430.56,554.95 L430.76,554.94 L430.96,554.93 L431.16,554.89 L431.36,554.83 L431.56,554.78 L431.76,554.72 L431.96,554.66 L432.00,554.65 L432.16,554.61 L432.36,554.57 L432.56,554.52 L432.76,554.47 L432.96,554.42 L433.16,554.47 L433.36,554.53 L433.50,554.58 L433.56,554.60 L433.76,554.67 L433.96,554.73 L434.16,554.76 L434.36,554.79 L434.56,554.81 L434.76,554.83 L434.96,554.85 L435.00,554.85 L435.16,554.84 L435.36,554.83 L435.56,554.82 L435.76,554.80 L436.50,554.73 L438.00,554.77 L439.50,554.48 L441.00,554.39 L442.50,554.81 L444.00,554.61 L445.50,554.73 L447.00,554.70 L448.50,554.56 L450.00,554.83 L451.50,554.84 L453.00,554.93 L454.50,554.64 L456.00,553.95 L457.50,554.11 L459.00,554.95 L460.50,555.13 L462.00,554.90 L463.50,554.82 L465.00,554.84 L466.50,555.06 L468.00,555.18 L469.50,554.79 L471.00,554.41 L472.50,554.57 L474.00,554.67 L475.50,554.69 L477.00,555.01 L478.50,554.95 L480.00,554.43 L481.50,554.32 L483.00,554.27 L484.50,554.52 L486.00,554.83 L487.50,554.64 L489.00,554.89 L490.50,555.01 L492.00,555.06 L493.50,555.04 L495.00,554.71 L496.33,554.54 L496.50,554.54 L496.53,554.54 L496.73,554.55 L496.93,554.55 L497.13,554.55 L497.33,554.55 L497.53,554.55 L497.73,554.54 L497.93,554.54 L498.00,554.54 L498.13,554.54 L498.33,554.53 L498.53,554.53 L498.73,554.52 L498.93,554.51 L499.13,554.48 L499.33,554.43 L499.50,554.39 L499.53,554.39 L499.73,554.34 L499.93,554.29 L500.13,554.25 L500.33,554.22 L500.53,554.19 L500.73,554.16 L500.93,554.12 L501.00,554.11 L501.13,554.11 L501.33,554.12 L501.53,554.12 L501.73,554.11 L501.93,554.08 L502.13,554.01 L502.33,553.90 L502.50,553.79 L502.53,553.76 L502.73,553.60 L502.93,553.39 L503.13,553.11 L503.33,552.75 L503.53,552.32 L503.73,551.74 L503.93,550.88 L504.00,550.47 L504.13,549.47 L504.33,547.03 L504.53,543.05 L504.73,537.41 L504.93,530.85 L505.13,525.27 L505.33,523.04 L505.50,524.51 L505.53,525.02 L505.73,529.25 L505.93,533.14 L506.13,535.30 L506.33,535.95 L506.53,536.45 L506.73,538.16 L506.93,541.15 L507.00,542.33 L507.13,544.47 L507.33,547.35 L507.53,549.46 L507.73,550.84 L507.93,551.71 L508.13,552.28 L508.33,552.70 L508.50,552.97 L508.53,553.02 L508.73,553.28 L508.93,553.49 L509.13,553.64 L509.33,553.76 L509.53,553.84 L509.73,553.90 L509.93,553.94 L510.00,553.95 L510.13,553.99 L510.33,554.04 L510.53,554.08 L510.73,554.11 L510.93,554.13 L511.13,554.17 L511.33,554.22 L511.50,554.26 L511.53,554.26 L511.73,554.31 L511.93,554.35 L512.13,554.32 L512.33,554.27 L512.53,554.21 L512.73,554.16 L512.93,554.10 L513.00,554.08 L513.13,554.05 L513.33,554.01 L513.53,553.97 L513.73,553.92 L513.93,553.88 L514.13,553.86 L514.33,553.86 L514.50,553.86 L514.53,553.86 L514.73,553.86 L514.93,553.86 L515.13,553.94 L515.33,554.05 L515.53,554.16 L515.73,554.27 L515.93,554.38 L516.00,554.42 L516.13,554.44 L516.33,554.49 L517.50,554.64 L519.00,554.38 L520.50,554.28 L522.00,554.46 L523.50,554.49 L525.00,554.40 L526.50,554.55 L528.00,554.60 L529.50,554.62 L531.00,554.75 L532.50,555.16 L534.00,555.15 L535.50,554.60 L537.00,554.44 L538.50,554.69 L540.00,554.53 L541.50,554.62 L542.62,554.81 L542.82,554.84 L543.00,554.87 L543.02,554.86 L543.22,554.83 L543.42,554.79 L543.62,554.76 L543.82,554.72 L544.02,554.68 L544.22,554.65 L544.42,554.63 L544.50,554.62 L544.62,554.60 L544.82,554.57 L545.02,554.54 L545.22,554.53 L545.42,554.52 L545.62,554.50 L545.82,554.49 L546.00,554.47 L546.02,554.46 L546.22,554.39 L546.42,554.32 L546.62,554.24 L546.82,554.16 L547.02,554.08 L547.22,554.04 L547.42,553.99 L547.50,553.97 L547.62,553.94 L547.82,553.87 L548.02,553.79 L548.22,553.73 L548.42,553.63 L548.62,553.51 L548.82,553.34 L549.00,553.15 L549.02,553.12 L549.22,552.83 L549.42,552.46 L549.62,552.00 L549.82,551.40 L550.02,550.59 L550.22,549.34 L550.42,547.19 L550.50,545.92 L550.62,543.39 L550.82,537.14 L551.02,528.18 L551.22,517.56 L551.42,508.30 L551.62,504.40 L551.82,507.55 L552.00,514.05 L552.02,514.85 L552.22,522.07 L552.42,526.36 L552.62,527.27 L552.82,526.42 L553.02,526.40 L553.22,528.96 L553.42,533.68 L553.50,535.79 L553.62,538.88 L553.82,543.32 L554.02,546.52 L554.22,548.62 L554.42,549.96 L554.62,550.86 L554.82,551.52 L555.00,552.00 L555.02,552.04 L555.22,552.40 L555.42,552.69 L555.62,552.91 L555.82,553.08 L556.02,553.21 L556.22,553.35 L556.42,553.47 L556.50,553.51 L556.62,553.56 L556.82,553.64 L557.02,553.70 L557.22,553.73 L557.42,553.75 L557.62,553.77 L557.82,553.78 L558.00,553.79 L558.02,553.79 L558.22,553.83 L558.42,553.86 L558.62,553.89 L558.82,553.92 L559.02,553.95 L559.22,553.98 L559.42,554.00 L559.50,554.02 L559.62,554.03 L559.82,554.06 L560.02,554.09 L560.22,554.14 L560.42,554.19 L560.62,554.24 L560.82,554.29 L561.00,554.34 L561.02,554.34 L561.22,554.32 L561.42,554.31 L561.62,554.29 L561.82,554.28 L562.02,554.26 L562.22,554.25 L562.42,554.25 L562.50,554.24 L562.62,554.24 L564.00,554.20 L565.50,554.37 L567.00,554.42 L568.50,554.53 L569.42,554.73 L569.62,554.75 L569.82,554.76 L570.00,554.78 L570.02,554.78 L570.22,554.80 L570.42,554.82 L570.62,554.84 L570.82,554.86 L571.02,554.88 L571.22,554.87 L571.42,554.87 L571.50,554.86 L571.62,554.86 L571.82,554.85 L572.02,554.84 L572.22,554.79 L572.42,554.75 L572.62,554.70 L572.82,554.65 L573.00,554.60 L573.02,554.61 L573.22,554.62 L573.42,554.63 L573.62,554.65 L573.82,554.66 L574.02,554.66 L574.22,554.61 L574.42,554.56 L574.50,554.53 L574.62,554.50 L574.82,554.43 L575.02,554.36 L575.22,554.31 L575.42,554.24 L575.62,554.15 L575.82,554.03 L576.00,553.91 L576.02,553.89 L576.22,553.68 L576.42,553.43 L576.62,553.11 L576.82,552.69 L577.02,552.07 L577.22,551.00 L577.42,549.15 L577.50,548.09 L577.62,546.12 L577.82,541.82 L578.02,536.78 L578.22,532.50 L578.42,530.79 L578.62,532.49 L578.82,536.24 L579.00,539.64 L579.02,539.96 L579.22,542.23 L579.42,542.76 L579.62,542.14 L579.82,541.50 L580.02,541.96 L580.22,543.76 L580.42,546.21 L580.50,547.19 L580.62,548.55 L580.82,550.36 L581.02,551.57 L581.22,552.26 L581.42,552.66 L581.62,552.92 L581.82,553.10 L582.00,553.21 L582.02,553.22 L582.22,553.38 L582.42,553.49 L582.62,553.59 L582.82,553.65 L583.02,553.71 L583.22,553.80 L583.42,553.88 L583.50,553.91 L583.62,553.95 L583.82,554.01 L584.02,554.07 L584.22,554.14 L584.42,554.21 L584.62,554.27 L584.82,554.34 L585.00,554.39 L585.02,554.40 L585.22,554.45 L585.42,554.51 L585.62,554.56 L585.82,554.61 L586.02,554.66 L586.22,554.72 L586.42,554.78 L586.50,554.80 L586.62,554.83 L586.82,554.89 L587.02,554.94 L587.22,554.95 L587.42,554.96 L587.62,554.96 L587.82,554.97 L588.00,554.98 L588.02,554.97 L588.22,554.92 L588.42,554.86 L588.62,554.81 L588.82,554.76 L589.02,554.71 L589.22,554.72 L589.42,554.72 L589.50,554.72 L591.00,554.86 L592.50,554.58 L594.00,554.21 L595.50,554.52 L597.00,554.78 L598.50,554.74 L600.00,554.17 L601.50,554.05 L603.00,554.26 L604.50,554.02 L606.00,554.04 L607.50,554.50 L609.00,554.61 L610.50,554.58 L612.00,554.84 L613.50,554.75 L615.00,554.38 L616.50,554.73 L618.00,555.13 L619.50,554.90 L621.00,554.48 L622.50,554.63 L624.00,554.51 L625.50,554.56 L627.00,554.90 L628.50,554.55 L630.00,554.66 L631.50,554.91 L633.00,554.94 L634.50,554.88 L636.00,554.60 L637.50,554.52 L637.92,554.59 L638.12,554.65 L638.32,554.71 L638.52,554.78 L638.72,554.85 L638.92,554.92 L639.00,554.94 L639.12,554.95 L639.32,554.96 L639.52,554.97 L639.72,554.99 L639.92,555.00 L640.12,554.97 L640.32,554.91 L640.50,554.86 L640.52,554.85 L640.72,554.80 L640.92,554.74 L641.12,554.67 L641.32,554.60 L641.52,554.52 L641.72,554.45 L641.92,554.37 L642.00,554.34 L642.12,554.31 L642.32,554.27 L642.52,554.22 L642.72,554.17 L642.92,554.12 L643.12,554.13 L643.32,554.18 L643.50,554.22 L643.52,554.22 L643.72,554.26 L643.92,554.31 L644.12,554.32 L644.32,554.32 L644.52,554.31 L644.72,554.30 L644.92,554.27 L645.00,554.26 L645.12,554.23 L645.32,554.16 L645.52,554.04 L645.72,553.84 L645.92,553.46 L646.12,552.81 L646.32,551.87 L646.50,550.88 L646.52,550.77 L646.72,549.82 L646.92,549.41 L647.12,549.79 L647.27,550.42 L647.32,550.65 L647.47,551.35 L647.52,551.56 L647.67,552.09 L647.72,552.22 L647.87,552.47 L647.92,552.51 L648.00,552.52 L648.07,552.50 L648.12,552.47 L648.27,552.30 L648.32,552.24 L648.47,552.06 L648.52,552.02 L648.67,551.99 L648.72,552.02 L648.87,552.25 L648.92,552.36 L649.07,552.74 L649.12,552.87 L649.27,553.26 L649.32,553.38 L649.47,553.71 L649.50,553.77 L649.52,553.80 L649.67,554.03 L649.72,554.09 L649.87,554.24 L649.92,554.27 L650.07,554.36 L650.12,554.38 L650.27,554.44 L650.32,554.45 L650.47,554.49 L650.52,554.50 L650.67,554.53 L650.72,554.54 L650.87,554.56 L650.92,554.56 L651.00,554.57 L651.07,554.58 L651.12,554.59 L651.27,554.60 L651.32,554.60 L651.47,554.61 L651.52,554.62 L651.67,554.62 L651.72,554.63 L651.87,554.63 L651.92,554.63 L652.07,554.63 L652.12,554.63 L652.27,554.64 L652.32,554.64 L652.47,554.64 L652.50,554.64 L652.52,554.64 L652.67,554.63 L652.72,554.63 L652.87,554.63 L652.92,554.63 L653.07,554.61 L653.12,554.61 L653.27,554.58 L653.32,554.57 L653.47,554.55 L653.52,554.54 L653.67,554.51 L653.72,554.49 L653.87,554.46 L653.92,554.45 L654.00,554.42 L654.07,554.43 L654.12,554.43 L654.27,554.42 L654.32,554.42 L654.47,554.41 L654.52,554.40 L654.67,554.36 L654.72,554.35 L654.87,554.27 L654.92,554.23 L655.07,554.05 L655.12,553.95 L655.27,553.58 L655.32,553.43 L655.47,552.83 L655.50,552.69 L655.52,552.59 L655.67,551.76 L655.72,551.45 L655.87,550.50 L655.92,550.19 L656.07,549.42 L656.12,549.24 L656.27,549.01 L656.32,549.05 L656.47,549.47 L656.52,549.69 L656.67,550.47 L656.72,550.75 L656.87,551.53 L656.92,551.76 L657.00,552.08 L657.07,552.27 L657.12,552.38 L657.27,552.53 L657.32,552.53 L657.47,552.40 L657.52,552.33 L657.67,552.03 L657.72,551.92 L657.87,551.62 L657.92,551.54 L658.07,551.48 L658.27,551.80 L658.47,552.40 L658.50,552.50 L658.67,553.07 L658.87,553.64 L659.07,554.05 L659.27,554.27 L659.47,554.40 L659.67,554.47 L659.87,554.52 L660.00,554.55 L660.07,554.57 L660.27,554.62 L660.47,554.67 L660.67,554.71 L660.87,554.75 L661.07,554.77 L661.27,554.76 L661.47,554.74 L661.50,554.74 L661.67,554.73 L661.87,554.71 L662.07,554.70 L662.27,554.69 L662.47,554.68 L662.67,554.67 L662.87,554.67 L663.00,554.66 L663.07,554.67 L663.27,554.68 L663.47,554.70 L663.67,554.71 L663.87,554.73 L664.07,554.74 L664.27,554.76 L664.47,554.78 L664.50,554.79 L664.67,554.81 L664.87,554.83 L665.07,554.82 L665.27,554.78 L665.47,554.74 L665.67,554.69 L665.87,554.65 L666.00,554.62" stroke="#148584" stroke-width="6.1"/>
<path d="M702.00,554.91 L703.00,555.43 L704.00,555.18 L705.00,555.04 L706.00,554.73 L707.00,554.84 L708.00,554.60 L709.00,554.61 L710.00,554.58 L711.00,554.80 L712.00,555.12 L713.00,555.09 L714.00,555.08 L715.00,555.00 L716.00,555.01 L717.00,555.27 L718.00,555.17 L719.00,555.16 L720.00,554.86 L721.00,554.81 L722.00,554.87 L723.00,555.00 L724.00,554.89 L725.00,555.01 L726.00,554.89 L727.00,554.91 L728.00,554.78 L729.00,554.69 L730.00,554.72 L731.00,554.71 L732.00,554.68 L733.00,554.45 L734.00,554.68 L735.00,554.86 L736.00,555.12 L737.00,554.83 L738.00,555.12 L739.00,555.11 L740.00,554.93 L741.00,554.75 L742.00,554.63 L743.00,554.98 L744.00,554.88 L745.00,555.24 L746.00,555.25 L747.00,555.21 L748.00,555.23 L749.00,555.59 L750.00,555.57 L751.00,555.51 L752.00,555.14 L753.00,555.30 L754.00,554.93 L755.00,554.72 L756.00,554.87 L757.00,555.09 L758.00,555.16 L759.00,555.22 L760.00,555.39 L761.00,555.60 L762.00,555.16 L763.00,554.96 L764.00,555.08 L765.00,554.91 L766.00,554.66 L767.00,554.30 L768.00,554.78 L769.00,555.07 L770.00,555.27 L771.00,555.14 L772.00,555.12 L773.00,555.24 L774.00,555.79 L775.00,555.84 L776.00,555.86 L777.00,555.22 L778.00,555.40 L779.00,555.20 L780.00,555.30 L781.00,554.98 L782.00,554.84 L783.00,554.72 L784.00,554.64 L785.00,554.56 L786.00,554.94 L787.00,555.17 L788.00,555.53 L789.00,555.32 L790.00,555.02 L791.00,554.87 L792.00,554.64 L793.00,554.74 L794.00,554.72 L795.00,554.89 L796.00,555.03 L797.00,555.07 L798.00,555.00 L799.00,554.99 L800.00,555.17 L801.00,555.56 L802.00,555.74 L803.00,555.50 L804.00,555.21 L805.00,555.19 L806.00,555.39 L807.00,555.52 L808.00,555.56 L809.00,555.47 L810.00,555.23 L811.00,554.78 L812.00,554.89 L813.00,555.03 L814.00,555.14 L815.00,554.97 L816.00,554.81 L817.00,554.87 L818.00,555.15 L819.00,555.16 L820.00,555.62 L821.00,555.31 L822.00,555.26 L823.00,554.89 L824.00,555.30 L825.00,555.39 L826.00,555.45 L827.00,554.70 L828.00,554.81 L829.00,554.51 L830.00,554.86 L831.00,554.98 L832.00,555.16 L833.00,555.29 L834.00,555.04 L835.00,555.03 L836.00,554.95 L837.00,555.17 L838.00,555.24 L839.00,555.19 L840.00,554.86 L841.00,554.57 L842.00,554.59 L843.00,554.72 L844.00,555.03 L845.00,555.18 L846.00,555.34 L847.00,555.16 L848.00,555.03 L849.00,554.94 L850.00,555.04 L851.00,554.64 L852.00,554.47 L853.00,554.49 L854.00,554.97 L855.00,555.05 L856.00,554.84 L857.00,554.94 L858.00,554.98 L859.00,555.13 L860.00,555.00 L861.00,555.12 L862.00,555.18 L863.00,555.00 L864.00,554.79 L865.00,554.93 L866.00,555.01 L867.00,555.18 L868.00,554.74 L869.00,554.68 L870.00,554.54 L871.00,554.77 L872.00,554.54 L873.00,554.53 L874.00,554.86 L875.00,555.22 L876.00,555.20 L877.00,554.83 L878.00,554.57 L879.00,554.69 L880.00,554.68 L881.00,554.83 L882.00,554.94 L883.00,555.22 L884.00,555.38 L885.00,554.97 L886.00,554.72 L887.00,554.82 L888.00,554.89 L889.00,555.18 L890.00,554.99 L891.00,555.33 L892.00,555.06 L893.00,554.88 L894.00,554.56 L895.00,554.86 L896.00,555.00 L897.00,554.97 L898.00,554.86 L899.00,554.67 L900.00,554.84 L901.00,554.76 L902.00,555.06 L903.00,555.15 L904.00,555.08 L905.00,554.64 L906.00,554.61 L907.00,554.61 L908.00,554.98 L909.00,555.02 L910.00,555.15 L911.00,555.22 L912.00,555.38 L913.00,555.61 L914.00,555.62 L915.00,555.32 L916.00,554.76 L917.00,554.81 L918.00,554.58 L919.00,555.06 L920.00,555.12 L921.00,555.32 L922.00,555.16 L923.00,554.86 L924.00,554.77 L925.00,554.78 L926.00,554.76 L927.00,554.98 L928.00,554.83 L929.00,555.25 L930.00,555.26 L931.00,555.54 L932.00,555.42 L933.00,555.25 L934.00,554.80 L935.00,554.32 L936.00,554.45 L937.00,554.19 L938.00,554.40 L939.00,554.00 L940.00,554.35 L941.00,554.60 L942.00,554.85 L943.00,554.86 L944.00,554.67 L945.00,554.85 L946.00,554.70 L947.00,554.80 L948.00,554.74 L949.00,554.81 L950.00,554.63 L951.00,554.84 L952.00,555.13 L953.00,555.35 L954.00,555.02 L955.00,554.85 L956.00,554.57 L957.00,554.42 L958.00,554.40 L959.00,554.51 L960.00,554.59 L961.00,554.47 L962.00,554.63 L963.00,554.75 L964.00,554.70 L965.00,554.97 L966.00,554.76 L967.00,555.05 L968.00,554.56 L969.00,554.95 L970.00,554.92 L971.00,555.25 L972.00,555.13 L973.00,555.00 L974.00,555.07 L975.00,555.07 L976.00,555.16 L977.00,554.90 L978.00,554.79 L979.00,554.88 L980.00,555.18 L981.00,555.53 L982.00,555.53 L983.00,555.36 L984.00,555.24 L985.00,555.09 L986.00,555.21 L987.00,555.10 L988.00,554.85 L989.00,554.64 L990.00,554.36 L991.00,554.60 L992.00,554.50 L993.00,554.48 L994.00,554.35 L995.00,554.32 L996.00,554.02 L997.00,553.53 L998.00,553.16 L999.00,553.22 L1000.00,553.74 L1001.00,553.81 L1002.00,553.83 L1003.00,553.38 L1004.00,552.79 L1005.00,552.36 L1006.00,552.17 L1007.00,552.33 L1008.00,552.23 L1009.00,551.88 L1010.00,551.39 L1011.00,550.63 L1012.00,549.72 L1013.00,548.55 L1014.00,547.91 L1015.00,546.67 L1016.00,545.87 L1017.00,544.58 L1018.00,543.20 L1019.00,541.45 L1020.00,539.72 L1021.00,537.69 L1022.00,534.93 L1023.00,531.64 L1024.00,528.67 L1025.00,525.50 L1026.00,522.15 L1027.00,518.28 L1028.00,514.25 L1029.00,511.04 L1030.00,508.41 L1031.00,506.67 L1032.00,505.03 L1033.00,504.05 L1034.00,503.83 L1035.00,504.48 L1036.00,506.29 L1037.00,507.98 L1038.00,509.86 L1039.00,511.67 L1040.00,514.18 L1041.00,516.39 L1042.00,519.02 L1043.00,521.35 L1044.00,523.87 L1045.00,525.85 L1046.00,528.48 L1047.00,530.50 L1048.00,532.61 L1049.00,533.65 L1050.00,534.90 L1051.00,535.50 L1052.00,535.38 L1053.00,534.79 L1054.00,533.85 L1055.00,533.14 L1056.00,532.43 L1057.00,531.70 L1058.00,531.56 L1059.00,531.67 L1060.00,532.53 L1061.00,533.49 L1062.00,534.73 L1063.00,535.65 L1064.00,536.87 L1065.00,538.19 L1066.00,539.75 L1067.00,541.04 L1068.00,542.37 L1069.00,543.57 L1070.00,544.94 L1071.00,545.96 L1072.00,546.87 L1073.00,547.80 L1074.00,548.96 L1075.00,549.83 L1076.00,550.40 L1077.00,550.58 L1078.00,550.98 L1079.00,551.51 L1080.00,552.41 L1081.00,553.28 L1082.00,553.73 L1083.00,553.72 L1084.00,553.78 L1085.00,553.67 L1086.00,553.97 L1087.00,553.91 L1088.00,554.33 L1089.00,554.73 L1090.00,555.39 L1091.00,555.51 L1092.00,555.39 L1093.00,554.79 L1094.00,554.66 L1095.00,554.85 L1096.00,555.31 L1097.00,555.56 L1098.00,555.39 L1099.00,555.48 L1100.00,555.31 L1101.00,555.22 L1102.00,555.41 L1103.00,555.32 L1104.00,555.43 L1105.00,554.93 L1106.00,555.31 L1107.00,555.21 L1108.00,555.22 L1109.00,554.93 L1110.00,555.11 L1111.00,555.01 L1112.00,554.83 L1113.00,554.69 L1114.00,554.80 L1115.00,555.13 L1116.00,555.10 L1117.00,555.07 L1118.00,555.04 L1119.00,555.17 L1120.00,555.44 L1121.00,555.41 L1122.00,555.05 L1123.00,554.88 L1124.00,554.88 L1125.00,555.16 L1126.00,555.26 L1127.00,555.22 L1128.00,555.42 L1129.00,555.30 L1130.00,555.57 L1131.00,555.22 L1132.00,554.89 L1133.00,554.51 L1134.00,555.16 L1135.00,555.50 L1136.00,555.65 L1137.00,555.23 L1138.00,555.21 L1139.00,555.28 L1140.00,555.26 L1141.00,555.67 L1142.00,555.82 L1143.00,555.85 L1144.00,555.64 L1145.00,555.55 L1146.00,555.33 L1147.00,555.41 L1148.00,555.21 L1149.00,555.52 L1150.00,555.36 L1151.00,555.62 L1152.00,555.72 L1153.00,555.80 L1154.00,555.58 L1155.00,555.30 L1156.00,555.30 L1157.00,555.32 L1158.00,555.31 L1159.00,555.20 L1160.00,555.21 L1161.00,555.37 L1162.00,555.31 L1163.00,555.39 L1164.00,555.19 L1165.00,554.99 L1166.00,555.10 L1167.00,555.38 L1168.00,555.59 L1169.00,555.59 L1170.00,555.48 L1171.00,555.38 L1172.00,555.44 L1173.00,555.07 L1174.00,555.26 L1175.00,555.18 L1176.00,555.33 L1177.00,555.60 L1178.00,555.39 L1179.00,555.78 L1180.00,555.49 L1181.00,555.70 L1182.00,555.49 L1183.00,555.91 L1184.00,555.87 L1185.00,556.04 L1186.00,555.78 L1187.00,555.75 L1188.00,555.54 L1189.00,555.50 L1190.00,555.63 L1191.00,555.82 L1192.00,555.84 L1193.00,555.67 L1194.00,555.64 L1195.00,555.39 L1196.00,555.41 L1197.00,554.97 L1198.00,555.02 L1199.00,555.00 L1200.00,555.10 L1201.00,555.03 L1202.00,555.21 L1203.00,555.52 L1204.00,555.89 L1205.00,555.93 L1206.00,555.95 L1207.00,555.91 L1208.00,555.77 L1209.00,555.87 L1210.00,555.50 L1211.00,555.43 L1212.00,555.39 L1213.00,555.77 L1214.00,555.81 L1215.00,555.59 L1216.00,555.59 L1217.00,555.56 L1218.00,555.43 L1219.00,555.48 L1220.00,555.45 L1221.00,555.66 L1222.00,555.21 L1223.00,554.86 L1224.00,554.90 L1225.00,555.43 L1226.00,555.48 L1227.00,555.32 L1228.00,555.14 L1229.00,555.54 L1230.00,555.64 L1231.00,555.54 L1232.00,555.36 L1233.00,555.52 L1234.00,555.68 L1235.00,555.90 L1236.00,555.35 L1237.00,555.47 L1238.00,555.40 L1239.00,555.86 L1240.00,555.90 L1241.00,556.12 L1242.00,556.02 L1243.00,555.88 L1244.00,555.77 L1245.00,555.69 L1246.00,555.53 L1247.00,555.15 L1248.00,554.99 L1249.00,555.00 L1250.00,555.52" stroke="#148584" stroke-width="6.1"/>
<path d="M117.00,643.49 L118.50,643.29 L120.00,642.70 L121.50,642.75 L123.00,643.08 L124.50,642.77 L126.00,642.07 L127.50,642.14 L129.00,642.82 L130.50,642.88 L132.00,642.85 L133.50,643.25 L135.00,643.27 L136.50,642.88 L138.00,642.98 L139.50,643.15 L141.00,642.89 L142.50,642.85 L144.00,642.94 L145.50,643.19 L147.00,643.16 L148.50,642.75 L150.00,642.68 L151.50,642.67 L153.00,642.82 L154.50,643.02 L156.00,643.13 L157.50,642.71 L159.00,642.50 L160.50,643.01 L162.00,643.16 L163.50,643.06 L165.00,642.59 L166.50,642.83 L168.00,643.11 L169.50,643.02 L171.00,642.84 L172.50,642.47 L174.00,642.57 L175.50,642.89 L177.00,642.94 L178.50,642.21 L179.11,641.93 L179.31,641.85 L179.51,641.76 L179.71,641.66 L179.91,641.57 L180.00,641.52 L180.11,641.53 L180.31,641.54 L180.51,641.55 L180.71,641.55 L180.91,641.55 L181.11,641.55 L181.31,641.57 L181.50,641.57 L181.51,641.57 L181.71,641.56 L181.91,641.53 L182.11,641.43 L182.31,641.26 L182.51,641.07 L182.71,640.85 L182.91,640.60 L183.00,640.47 L183.11,640.28 L183.31,639.90 L183.51,639.47 L183.71,638.98 L183.91,638.42 L184.11,637.73 L184.31,636.92 L184.50,636.06 L184.51,636.01 L184.71,634.99 L184.91,633.84 L185.11,632.65 L185.31,631.36 L185.51,629.76 L185.71,627.63 L185.91,624.53 L186.00,622.61 L186.11,619.56 L186.31,611.36 L186.51,597.93 L186.71,576.82 L186.91,545.73 L187.11,503.69 L187.31,452.07 L187.50,398.43 L187.51,395.61 L187.71,342.80 L187.91,304.61 L188.11,290.70 L188.31,304.57 L188.51,342.07 L188.71,393.98 L188.91,449.84 L189.00,473.90 L189.11,501.26 L189.31,543.39 L189.51,574.74 L189.71,596.25 L189.91,610.10 L190.11,618.62 L190.31,623.82 L190.50,626.98 L190.51,627.12 L190.71,629.38 L190.91,631.07 L191.11,632.46 L191.31,633.66 L191.51,634.70 L191.71,635.61 L191.91,636.40 L192.00,636.73 L192.11,637.16 L192.31,637.87 L192.51,638.50 L192.71,639.06 L192.91,639.56 L193.11,639.97 L193.31,640.29 L193.50,640.55 L193.51,640.56 L193.71,640.81 L193.91,641.02 L194.11,641.16 L194.31,641.26 L194.51,641.33 L194.71,641.39 L194.91,641.44 L195.00,641.46 L195.11,641.49 L195.31,641.54 L195.51,641.58 L195.71,641.61 L195.91,641.64 L196.11,641.72 L196.31,641.83 L196.50,641.93 L196.51,641.93 L196.71,642.03 L196.91,642.13 L197.11,642.20 L197.31,642.23 L197.51,642.26 L197.71,642.29 L197.91,642.32 L198.00,642.33 L198.11,642.33 L198.31,642.32 L198.51,642.31 L198.71,642.30 L198.91,642.28 L199.11,642.28 L199.50,642.32 L201.00,642.64 L202.50,642.63 L204.00,642.64 L205.50,643.01 L207.00,642.99 L208.50,642.60 L210.00,642.73 L211.50,643.01 L213.00,642.92 L214.50,643.03 L216.00,642.79 L217.50,642.79 L219.00,642.95 L220.50,642.89 L222.00,642.94 L223.50,642.82 L225.00,642.75 L226.50,642.94 L228.00,642.83 L229.50,642.73 L231.00,643.05 L232.50,642.88 L234.00,642.83 L235.50,643.05 L237.00,643.00 L238.50,642.93 L240.00,643.03 L241.50,643.26 L243.00,642.95 L244.50,642.88 L246.00,643.06 L247.50,642.36 L249.00,642.35 L250.50,642.84 L252.00,643.00 L253.50,643.00 L255.00,642.88 L256.50,643.00 L258.00,642.68 L259.50,642.50 L261.00,642.85 L262.50,642.68 L264.00,642.65 L265.50,643.09 L267.00,643.20 L268.50,642.80 L270.00,642.46 L271.50,642.82 L273.00,643.08 L274.50,642.63 L276.00,642.52 L277.50,642.71 L279.00,642.59 L280.50,642.83 L282.00,642.87 L283.50,642.89 L285.00,643.22 L286.50,642.80 L288.00,642.52 L289.50,642.74 L291.00,642.65 L292.50,642.52 L294.00,642.69 L295.50,642.98 L297.00,643.11 L298.50,643.12 L300.00,642.89 L301.50,642.79 L303.00,642.92 L304.50,643.01 L306.00,643.06 L307.50,642.99 L309.00,642.83 L310.50,642.73 L312.00,642.96 L313.50,643.10 L315.00,642.77 L316.50,643.01 L318.00,642.82 L318.63,642.59 L318.83,642.51 L319.03,642.43 L319.23,642.39 L319.43,642.34 L319.50,642.32 L319.63,642.29 L319.83,642.23 L320.03,642.19 L320.23,642.19 L320.43,642.19 L320.63,642.19 L320.83,642.18 L321.00,642.18 L321.03,642.17 L321.23,642.08 L321.43,642.00 L321.63,641.91 L321.83,641.81 L322.03,641.70 L322.23,641.58 L322.43,641.45 L322.50,641.40 L322.63,641.30 L322.83,641.13 L323.03,640.95 L323.23,640.76 L323.43,640.53 L323.63,640.25 L323.83,639.91 L324.00,639.57 L324.03,639.50 L324.23,638.99 L324.43,638.39 L324.63,637.66 L324.83,636.80 L325.03,635.78 L325.23,634.59 L325.43,633.18 L325.50,632.62 L325.63,631.46 L325.83,629.21 L326.03,625.95 L326.23,620.76 L326.43,612.24 L326.63,598.93 L326.83,580.13 L327.00,560.63 L327.03,557.00 L327.23,533.39 L327.43,515.57 L327.63,509.17 L327.83,514.12 L328.03,526.23 L328.23,542.43 L328.43,560.92 L328.50,567.52 L328.63,579.36 L328.83,595.41 L329.03,607.96 L329.23,616.96 L329.43,623.05 L329.63,627.09 L329.83,629.87 L330.00,631.67 L330.03,631.94 L330.23,633.59 L330.43,634.99 L330.63,636.18 L330.83,637.21 L331.03,638.08 L331.13,638.44 L331.23,638.77 L331.33,639.07 L331.43,639.34 L331.50,639.51 L331.53,639.59 L331.63,639.81 L331.73,640.01 L331.83,640.18 L331.93,640.35 L332.03,640.49 L332.13,640.63 L332.23,640.76 L332.33,640.87 L332.43,640.97 L332.53,641.06 L332.63,641.14 L332.73,641.21 L332.83,641.28 L332.93,641.34 L333.00,641.37 L333.03,641.39 L333.13,641.44 L333.23,641.49 L333.33,641.54 L333.43,641.58 L333.53,641.62 L333.63,641.66 L333.73,641.69 L333.83,641.72 L333.93,641.75 L334.03,641.79 L334.13,641.85 L334.23,641.91 L334.33,641.97 L334.43,642.02 L334.50,642.06 L334.53,642.08 L334.63,642.13 L334.73,642.18 L334.83,642.24 L334.93,642.28 L335.03,642.31 L335.13,642.26 L335.23,642.22 L335.33,642.17 L335.43,642.12 L335.53,642.07 L335.63,642.02 L335.73,641.96 L335.83,641.90 L335.93,641.84 L336.00,641.80 L336.03,641.79 L336.13,641.74 L336.23,641.69 L336.33,641.63 L336.43,641.58 L336.53,641.51 L336.63,641.45 L336.73,641.38 L336.83,641.30 L336.93,641.22 L337.03,641.13 L337.13,641.03 L337.23,640.91 L337.33,640.79 L337.43,640.67 L337.50,640.57 L337.53,640.53 L337.63,640.39 L337.73,640.24 L337.83,640.08 L337.93,639.91 L338.03,639.75 L338.13,639.65 L338.23,639.52 L338.33,639.36 L338.43,639.16 L338.53,638.89 L338.63,638.54 L338.73,638.07 L338.93,636.66 L339.00,635.97 L339.13,634.39 L339.33,631.14 L339.53,627.12 L339.73,623.05 L339.93,620.02 L340.13,618.99 L340.33,619.91 L340.50,621.67 L340.53,622.04 L340.73,624.79 L340.93,627.93 L341.13,631.13 L341.33,633.98 L341.53,636.27 L341.73,637.94 L341.93,639.09 L342.00,639.39 L342.13,639.83 L342.33,640.32 L342.53,640.67 L342.73,640.94 L342.93,641.16 L343.13,641.39 L343.33,641.61 L343.50,641.77 L343.53,641.80 L343.73,641.97 L343.93,642.11 L344.13,642.26 L344.33,642.41 L344.53,642.54 L344.73,642.66 L344.93,642.77 L345.00,642.81 L345.13,642.79 L345.33,642.76 L345.53,642.72 L345.73,642.68 L345.93,642.64 L346.13,642.67 L346.33,642.74 L346.50,642.80 L346.53,642.81 L346.73,642.88 L346.93,642.95 L347.13,642.96 L347.33,642.93 L347.53,642.91 L347.73,642.89 L347.93,642.87 L348.00,642.86 L348.13,642.91 L348.33,642.98 L348.53,643.05 L348.73,643.12 L348.93,643.19 L349.13,643.18 L349.33,643.13 L349.50,643.08 L349.53,643.08 L349.73,643.03 L349.93,642.98 L350.13,642.94 L350.33,642.91 L350.53,642.88 L350.73,642.85 L350.93,642.81 L351.00,642.80 L351.13,642.82 L352.50,642.95 L354.00,643.10 L355.50,642.88 L357.00,642.67 L358.50,642.80 L360.00,642.85 L361.50,642.91 L363.00,642.96 L364.50,642.72 L366.00,642.74 L367.50,643.17 L369.00,643.17 L370.50,642.78 L372.00,642.92 L373.50,643.03 L375.00,642.81 L376.50,642.55 L378.00,642.29 L379.50,642.44 L379.86,642.52 L380.06,642.56 L380.26,642.56 L380.46,642.56 L380.66,642.56 L380.86,642.56 L381.00,642.56 L381.06,642.54 L381.26,642.46 L381.46,642.37 L381.66,642.28 L381.86,642.19 L382.06,642.11 L382.26,642.06 L382.46,642.01 L382.50,642.00 L382.66,641.95 L382.86,641.89 L383.06,641.82 L383.26,641.74 L383.46,641.65 L383.66,641.54 L383.86,641.42 L384.00,641.33 L384.06,641.31 L384.26,641.23 L384.46,641.12 L384.66,640.98 L384.86,640.78 L385.06,640.49 L385.26,640.06 L385.46,639.53 L385.50,639.42 L385.66,638.90 L385.86,638.14 L386.06,637.22 L386.26,636.11 L386.46,634.81 L386.66,633.25 L386.86,631.36 L387.00,629.72 L387.06,628.90 L387.26,625.37 L387.46,619.74 L387.66,610.50 L387.86,595.99 L388.06,575.40 L388.26,549.99 L388.46,524.05 L388.50,519.39 L388.66,504.54 L388.86,497.75 L389.06,503.35 L389.26,515.40 L389.46,529.18 L389.66,543.87 L389.86,560.18 L390.00,572.10 L390.06,577.12 L390.26,592.66 L390.46,605.39 L390.66,614.85 L390.86,621.36 L391.06,625.71 L391.26,628.72 L391.46,630.96 L391.50,631.34 L391.66,632.74 L391.86,634.23 L392.06,635.52 L392.26,636.65 L392.46,637.61 L392.66,638.43 L392.86,639.13 L393.00,639.54 L393.06,639.70 L393.26,640.17 L393.46,640.57 L393.66,640.90 L393.86,641.17 L394.06,641.40 L394.26,641.57 L394.46,641.72 L394.50,641.74 L394.66,641.84 L394.86,641.95 L395.06,642.04 L395.26,642.12 L395.46,642.19 L395.66,642.25 L395.86,642.31 L396.00,642.35 L396.06,642.33 L396.26,642.28 L396.46,642.22 L396.66,642.16 L396.86,642.10 L397.06,642.06 L397.26,642.09 L397.46,642.11 L397.50,642.12 L397.66,642.13 L397.86,642.15 L398.06,642.16 L398.26,642.16 L398.46,642.15 L398.66,642.15 L398.86,642.14 L399.00,642.14 L399.06,642.17 L399.26,642.27 L399.46,642.37 L399.66,642.47 L399.86,642.58 L400.50,642.79 L402.00,642.95 L403.50,643.05 L405.00,643.05 L406.50,642.87 L408.00,642.85 L409.50,642.89 L411.00,642.91 L412.50,642.85 L413.09,642.87 L413.29,642.75 L413.49,642.63 L413.69,642.51 L413.89,642.39 L414.00,642.32 L414.09,642.33 L414.29,642.33 L414.49,642.33 L414.69,642.34 L414.89,642.34 L415.09,642.31 L415.29,642.24 L415.49,642.17 L415.50,642.16 L415.69,642.09 L415.89,642.02 L416.09,642.03 L416.29,642.13 L416.49,642.23 L416.69,642.34 L416.89,642.43 L417.00,642.49 L417.09,642.47 L417.29,642.42 L417.49,642.37 L417.69,642.32 L417.89,642.26 L418.09,642.22 L418.29,642.22 L418.49,642.20 L418.50,642.20 L418.69,642.17 L418.89,642.12 L419.09,642.01 L419.29,641.83 L419.49,641.63 L419.69,641.40 L419.89,641.12 L420.00,640.95 L420.09,640.80 L420.29,640.39 L420.49,639.82 L420.69,638.91 L420.89,637.43 L421.09,635.11 L421.29,631.80 L421.49,627.67 L421.50,627.45 L421.69,623.41 L421.89,620.15 L422.09,618.99 L422.29,619.91 L422.49,621.90 L422.69,623.98 L422.89,625.90 L423.00,626.99 L423.09,627.99 L423.29,630.46 L423.49,633.03 L423.69,635.37 L423.89,637.26 L424.09,638.64 L424.29,639.58 L424.49,640.22 L424.50,640.25 L424.69,640.68 L424.89,641.04 L425.09,641.36 L425.29,641.67 L425.49,641.94 L425.69,642.18 L425.89,642.40 L426.00,642.51 L426.09,642.59 L426.29,642.74 L426.49,642.87 L426.69,642.99 L426.89,643.09 L427.09,643.15 L427.29,643.15 L427.49,643.15 L427.50,643.15 L427.69,643.14 L427.89,643.12 L428.09,643.09 L428.29,643.03 L428.49,642.97 L428.69,642.91 L428.89,642.85 L429.00,642.82 L429.09,642.81 L429.29,642.79 L429.49,642.76 L429.69,642.74 L429.89,642.72 L430.09,642.73 L430.29,642.80 L430.49,642.86 L430.50,642.87 L430.69,642.93 L430.89,642.99 L431.09,643.03 L431.29,643.03 L431.49,643.04 L431.69,643.05 L431.89,643.05 L432.00,643.06 L432.09,643.07 L432.29,643.10 L432.49,643.14 L432.69,643.17 L432.89,643.20 L433.09,643.19 L433.50,643.09 L435.00,642.68 L436.50,642.65 L438.00,643.36 L439.50,643.41 L441.00,642.91 L442.50,642.24 L444.00,642.33 L445.50,642.58 L447.00,642.79 L448.50,643.12 L450.00,642.75 L451.50,642.62 L453.00,642.53 L454.50,643.10 L456.00,643.61 L457.50,642.79 L459.00,642.51 L460.50,642.90 L462.00,643.10 L463.50,643.02 L465.00,642.97 L466.50,642.61 L468.00,642.66 L469.50,643.41 L471.00,643.01 L472.50,642.77 L474.00,642.90 L475.50,642.81 L477.00,643.47 L478.50,643.32 L480.00,642.95 L481.50,642.84 L483.00,642.72 L484.50,642.93 L486.00,642.76 L487.50,642.77 L489.00,643.24 L490.50,643.01 L492.00,642.70 L492.67,642.66 L492.87,642.65 L493.07,642.63 L493.27,642.62 L493.47,642.60 L493.50,642.60 L493.67,642.58 L493.87,642.57 L494.07,642.54 L494.27,642.51 L494.47,642.47 L494.67,642.43 L494.87,642.39 L495.00,642.36 L495.07,642.36 L495.27,642.34 L495.47,642.32 L495.67,642.29 L495.87,642.27 L496.07,642.23 L496.27,642.19 L496.47,642.14 L496.50,642.14 L496.67,642.09 L496.87,642.03 L497.07,641.97 L497.27,641.91 L497.47,641.83 L497.67,641.74 L497.87,641.64 L498.00,641.56 L498.07,641.51 L498.27,641.35 L498.47,641.16 L498.67,640.94 L498.87,640.67 L499.07,640.37 L499.27,640.02 L499.47,639.59 L499.50,639.52 L499.67,639.05 L499.87,638.31 L500.07,637.18 L500.27,635.38 L500.47,632.57 L500.67,628.41 L500.87,622.82 L501.00,618.60 L501.07,616.25 L501.27,609.78 L501.47,604.94 L501.67,603.24 L501.87,604.82 L502.07,608.22 L502.27,611.75 L502.47,614.53 L502.50,614.87 L502.67,616.62 L502.87,618.76 L503.07,621.61 L503.27,625.11 L503.47,628.75 L503.67,632.04 L503.87,634.71 L504.00,636.07 L504.07,636.65 L504.27,637.93 L504.47,638.80 L504.67,639.41 L504.87,639.86 L505.07,640.24 L505.27,640.60 L505.47,640.92 L505.50,640.96 L505.67,641.19 L505.87,641.43 L506.07,641.62 L506.27,641.78 L506.47,641.91 L506.67,642.01 L506.87,642.10 L507.00,642.15 L507.07,642.18 L507.27,642.28 L507.47,642.37 L507.67,642.45 L507.87,642.52 L508.07,642.56 L508.27,642.57 L508.47,642.58 L508.50,642.58 L508.67,642.59 L508.87,642.59 L509.07,642.59 L509.27,642.61 L509.47,642.63 L509.67,642.65 L509.87,642.67 L510.00,642.68 L510.07,642.69 L510.27,642.74 L510.47,642.79 L510.67,642.83 L510.87,642.87 L511.07,642.90 L511.27,642.88 L511.47,642.85 L511.50,642.85 L511.67,642.83 L511.87,642.81 L512.07,642.79 L512.27,642.78 L512.47,642.77 L512.67,642.75 L513.00,642.73 L514.50,642.67 L516.00,642.94 L517.50,643.20 L519.00,643.41 L520.50,643.09 L522.00,642.76 L523.50,642.98 L525.00,642.90 L526.50,642.62 L528.00,642.69 L529.50,642.41 L531.00,642.59 L532.50,643.15 L534.00,643.17 L535.50,643.00 L537.00,642.66 L538.25,642.11 L538.45,642.03 L538.50,642.01 L538.65,641.96 L538.85,641.88 L539.05,641.82 L539.25,641.84 L539.45,641.87 L539.65,641.89 L539.85,641.90 L540.00,641.92 L540.05,641.94 L540.25,642.01 L540.45,642.08 L540.65,642.15 L540.85,642.22 L541.05,642.27 L541.25,642.30 L541.45,642.33 L541.50,642.34 L541.65,642.36 L541.85,642.37 L542.05,642.36 L542.25,642.26 L542.45,642.15 L542.65,642.03 L542.85,641.90 L543.00,641.78 L543.05,641.75 L543.25,641.60 L543.45,641.43 L543.65,641.22 L543.85,640.97 L544.05,640.67 L544.25,640.33 L544.45,639.91 L544.50,639.80 L544.65,639.43 L544.85,638.85 L545.05,638.16 L545.25,637.30 L545.45,636.13 L545.65,634.36 L545.85,631.54 L546.00,628.38 L546.05,627.06 L546.25,620.31 L546.45,611.14 L546.65,600.19 L546.85,589.16 L547.05,580.73 L547.25,577.61 L547.45,580.35 L547.50,581.71 L547.65,586.58 L547.85,593.15 L548.05,598.02 L548.25,600.73 L548.45,602.34 L548.65,604.58 L548.85,608.56 L549.00,612.53 L549.05,613.96 L549.25,619.78 L549.45,625.05 L549.65,629.29 L549.85,632.41 L550.05,634.59 L550.25,636.16 L550.45,637.31 L550.50,637.56 L550.65,638.22 L550.85,638.98 L551.05,639.63 L551.25,640.20 L551.45,640.70 L551.65,641.14 L551.85,641.53 L552.00,641.78 L552.05,641.84 L552.25,642.03 L552.45,642.18 L552.65,642.31 L552.85,642.41 L553.05,642.49 L553.25,642.53 L553.45,642.57 L553.50,642.57 L553.65,642.59 L553.85,642.60 L554.05,642.60 L554.25,642.58 L554.45,642.56 L554.65,642.53 L554.85,642.50 L555.00,642.47 L555.05,642.48 L555.25,642.52 L555.45,642.55 L555.65,642.58 L555.85,642.61 L556.05,642.63 L556.25,642.65 L556.45,642.66 L556.50,642.67 L556.65,642.68 L556.85,642.69 L557.05,642.71 L557.25,642.75 L557.45,642.79 L557.65,642.84 L557.85,642.88 L558.00,642.91 L558.05,642.90 L558.25,642.87 L559.50,642.86 L561.00,642.84 L562.50,642.92 L564.00,642.84 L564.44,642.90 L564.64,642.93 L564.84,642.96 L565.04,642.96 L565.24,642.86 L565.44,642.76 L565.50,642.73 L565.64,642.66 L565.84,642.55 L566.04,642.48 L566.24,642.54 L566.44,642.60 L566.64,642.66 L566.84,642.72 L567.00,642.77 L567.04,642.75 L567.24,642.66 L567.44,642.56 L567.64,642.46 L567.84,642.36 L568.04,642.29 L568.24,642.30 L568.44,642.32 L568.50,642.32 L568.64,642.33 L568.84,642.33 L569.04,642.31 L569.24,642.18 L569.44,642.04 L569.64,641.89 L569.84,641.72 L570.00,641.58 L570.04,641.59 L570.24,641.62 L570.44,641.63 L570.64,641.62 L570.84,641.58 L571.04,641.49 L571.24,641.29 L571.44,641.02 L571.50,640.92 L571.64,640.64 L571.84,640.03 L572.04,639.04 L572.24,637.45 L572.44,635.02 L572.64,631.66 L572.84,627.61 L573.00,624.28 L573.04,623.46 L573.24,620.15 L573.44,618.86 L573.64,619.88 L573.84,622.32 L574.04,624.97 L574.24,626.97 L574.44,627.99 L574.50,628.14 L574.64,628.33 L574.84,628.65 L575.04,629.61 L575.24,631.38 L575.44,633.55 L575.64,635.72 L575.84,637.57 L576.00,638.75 L576.04,639.00 L576.24,640.02 L576.44,640.73 L576.64,641.23 L576.84,641.61 L577.04,641.91 L577.24,642.08 L577.44,642.23 L577.50,642.27 L577.64,642.34 L577.84,642.43 L578.04,642.51 L578.24,642.59 L578.44,642.65 L578.64,642.69 L578.84,642.73 L579.00,642.75 L579.04,642.75 L579.24,642.74 L579.44,642.72 L579.64,642.70 L579.84,642.67 L580.04,642.65 L580.24,642.67 L580.44,642.69 L580.50,642.70 L580.64,642.71 L580.84,642.72 L581.04,642.73 L581.24,642.69 L581.44,642.65 L581.64,642.61 L581.84,642.57 L582.00,642.54 L582.04,642.55 L582.24,642.60 L582.44,642.66 L582.64,642.71 L582.84,642.76 L583.04,642.81 L583.24,642.86 L583.44,642.91 L583.50,642.93 L583.64,642.96 L583.84,643.01 L584.04,643.05 L584.24,643.06 L584.44,643.06 L585.00,643.06 L586.50,642.68 L588.00,642.49 L589.50,642.95 L591.00,643.27 L592.50,642.95 L594.00,642.71 L595.50,643.08 L597.00,643.08 L598.50,642.88 L600.00,643.02 L601.50,643.57 L603.00,643.42 L604.50,642.96 L606.00,643.27 L607.50,643.31 L609.00,642.87 L610.50,642.58 L612.00,642.77 L613.50,643.00 L615.00,642.79 L616.50,642.47 L618.00,642.67 L619.50,642.97 L621.00,643.07 L622.50,643.04 L624.00,642.74 L625.50,643.03 L627.00,643.23 L628.50,643.02 L630.00,642.89 L631.50,642.55 L631.93,642.60 L632.13,642.60 L632.33,642.60 L632.53,642.60 L632.73,642.60 L632.93,642.59 L633.00,642.59 L633.13,642.62 L633.33,642.67 L633.53,642.71 L633.73,642.76 L633.93,642.81 L634.13,642.81 L634.33,642.80 L634.50,642.78 L634.53,642.78 L634.73,642.76 L634.93,642.74 L635.13,642.76 L635.33,642.79 L635.53,642.82 L635.73,642.84 L635.93,642.87 L636.00,642.88 L636.13,642.88 L636.33,642.88 L636.53,642.88 L636.73,642.87 L636.93,642.87 L637.13,642.88 L637.33,642.90 L637.50,642.91 L637.53,642.92 L637.73,642.93 L637.93,642.94 L638.13,642.92 L638.33,642.89 L638.53,642.85 L638.73,642.80 L638.93,642.74 L639.00,642.71 L639.13,642.64 L639.33,642.50 L639.53,642.27 L639.73,641.91 L639.93,641.38 L640.13,640.63 L640.33,639.72 L640.50,638.92 L640.53,638.78 L640.73,638.05 L640.93,637.75 L641.13,637.94 L641.33,638.46 L641.53,639.07 L641.73,639.53 L641.93,639.75 L642.00,639.76 L642.13,639.77 L642.33,639.69 L642.53,639.60 L642.73,639.68 L642.93,639.95 L643.13,640.35 L643.33,640.78 L643.50,641.11 L643.53,641.16 L643.73,641.46 L643.93,641.67 L644.13,641.87 L644.33,642.05 L644.53,642.19 L644.73,642.32 L644.93,642.43 L645.00,642.47 L645.13,642.48 L645.33,642.48 L645.53,642.48 L645.73,642.47 L645.93,642.45 L646.13,642.47 L646.33,642.49 L646.50,642.50 L646.53,642.50 L646.73,642.51 L646.93,642.50 L647.13,642.44 L647.33,642.35 L647.53,642.23 L647.73,642.07 L647.93,641.83 L648.00,641.71 L648.13,641.46 L648.33,640.89 L648.53,640.00 L648.73,638.77 L648.93,637.28 L649.13,635.72 L649.33,634.49 L649.50,634.03 L649.53,634.01 L649.73,634.44 L649.93,635.47 L650.13,636.67 L650.33,637.65 L650.53,638.20 L650.73,638.31 L650.93,638.15 L651.00,638.07 L651.13,637.96 L651.33,638.02 L651.53,638.44 L651.73,639.14 L651.93,639.94 L652.13,640.72 L652.33,641.36 L652.50,641.79 L652.53,641.85 L652.73,642.21 L652.93,642.47 L653.13,642.64 L653.33,642.78 L653.53,642.89 L653.73,642.99 L653.93,643.07 L654.00,643.10 L654.13,643.10 L654.33,643.10 L654.53,643.10 L654.73,643.08 L654.93,643.06 L655.13,643.05 L655.33,643.04 L655.50,643.03 L655.53,643.03 L655.73,643.01 L655.93,642.99 L656.13,643.01 L656.33,643.04 L656.53,643.07 L656.73,643.10 L656.93,643.13 L657.00,643.14 L657.13,643.16 L657.33,643.19 L657.53,643.22 L657.73,643.25 L657.93,643.28 L658.13,643.30 L658.33,643.31 L658.50,643.33 L658.53,643.33 L658.73,643.34 L658.93,643.35 L659.13,643.34 L659.33,643.32 L659.53,643.29 L659.73,643.26 L659.93,643.24 L660.00,643.23 L660.13,643.20 L660.33,643.16 L660.53,643.12 L661.50,642.99 L663.00,642.87 L664.50,643.14 L666.00,643.28" stroke="#ff00ff" stroke-width="6.1"/>
<path d="M702.00,643.16 L703.00,643.17 L704.00,643.43 L705.00,643.44 L706.00,643.24 L707.00,643.10 L708.00,643.33 L709.00,643.47 L710.00,643.43 L711.00,642.86 L712.00,642.91 L713.00,642.72 L714.00,643.41 L715.00,643.37 L716.00,643.69 L717.00,643.31 L718.00,643.23 L719.00,642.85 L720.00,642.69 L721.00,642.64 L722.00,642.90 L723.00,642.85 L724.00,642.95 L725.00,642.96 L726.00,643.24 L727.00,643.31 L728.00,643.19 L729.00,643.23 L730.00,642.84 L731.00,643.03 L732.00,643.00 L733.00,643.22 L734.00,642.93 L735.00,642.85 L736.00,643.05 L737.00,642.91 L738.00,642.73 L739.00,642.41 L740.00,642.74 L741.00,642.80 L742.00,643.03 L743.00,642.70 L744.00,642.84 L745.00,642.74 L746.00,642.81 L747.00,643.00 L748.00,643.09 L749.00,643.06 L750.00,643.26 L751.00,643.10 L752.00,643.06 L753.00,642.41 L754.00,642.82 L755.00,643.04 L756.00,643.36 L757.00,643.28 L758.00,643.27 L759.00,643.33 L760.00,643.42 L761.00,643.45 L762.00,643.46 L763.00,643.23 L764.00,643.21 L765.00,643.31 L766.00,643.37 L767.00,643.39 L768.00,642.86 L769.00,642.62 L770.00,642.47 L771.00,642.77 L772.00,642.97 L773.00,643.11 L774.00,643.08 L775.00,643.08 L776.00,643.11 L777.00,643.28 L778.00,642.94 L779.00,643.05 L780.00,643.22 L781.00,643.69 L782.00,643.45 L783.00,642.99 L784.00,642.80 L785.00,643.09 L786.00,643.27 L787.00,642.96 L788.00,642.21 L789.00,642.20 L790.00,642.91 L791.00,643.18 L792.00,643.04 L793.00,642.66 L794.00,642.97 L795.00,643.21 L796.00,642.95 L797.00,642.91 L798.00,642.66 L799.00,643.05 L800.00,643.10 L801.00,643.38 L802.00,643.05 L803.00,642.81 L804.00,642.51 L805.00,642.63 L806.00,642.69 L807.00,642.61 L808.00,642.59 L809.00,642.44 L810.00,642.80 L811.00,642.81 L812.00,642.87 L813.00,642.74 L814.00,642.56 L815.00,642.82 L816.00,642.73 L817.00,643.27 L818.00,643.30 L819.00,643.23 L820.00,643.10 L821.00,643.03 L822.00,643.26 L823.00,642.62 L824.00,642.53 L825.00,642.35 L826.00,643.05 L827.00,642.95 L828.00,643.08 L829.00,642.84 L830.00,642.79 L831.00,642.64 L832.00,642.76 L833.00,642.95 L834.00,643.01 L835.00,642.91 L836.00,642.96 L837.00,643.04 L838.00,643.04 L839.00,642.78 L840.00,642.70 L841.00,642.73 L842.00,643.23 L843.00,643.10 L844.00,643.34 L845.00,642.98 L846.00,643.40 L847.00,642.82 L848.00,642.86 L849.00,642.22 L850.00,642.32 L851.00,642.29 L852.00,642.75 L853.00,642.86 L854.00,642.97 L855.00,642.76 L856.00,643.14 L857.00,643.01 L858.00,643.46 L859.00,643.49 L860.00,643.44 L861.00,643.20 L862.00,642.84 L863.00,643.22 L864.00,643.19 L865.00,643.56 L866.00,643.29 L867.00,643.19 L868.00,642.77 L869.00,642.82 L870.00,642.94 L871.00,643.07 L872.00,643.10 L873.00,643.16 L874.00,643.13 L875.00,642.98 L876.00,642.70 L877.00,642.62 L878.00,642.67 L879.00,642.99 L880.00,643.23 L881.00,643.17 L882.00,643.09 L883.00,642.78 L884.00,643.00 L885.00,642.61 L886.00,642.88 L887.00,642.67 L888.00,642.92 L889.00,642.69 L890.00,642.49 L891.00,642.41 L892.00,642.36 L893.00,642.58 L894.00,642.59 L895.00,642.71 L896.00,642.60 L897.00,642.23 L898.00,642.08 L899.00,641.72 L900.00,641.70 L901.00,641.51 L902.00,641.48 L903.00,641.46 L904.00,641.53 L905.00,641.49 L906.00,641.33 L907.00,640.89 L908.00,641.38 L909.00,641.39 L910.00,641.53 L911.00,641.01 L912.00,641.19 L913.00,641.01 L914.00,640.76 L915.00,640.42 L916.00,640.27 L917.00,640.06 L918.00,639.67 L919.00,639.64 L920.00,639.63 L921.00,639.84 L922.00,639.22 L923.00,638.54 L924.00,637.69 L925.00,636.60 L926.00,635.85 L927.00,634.59 L928.00,633.80 L929.00,632.90 L930.00,632.23 L931.00,631.39 L932.00,630.50 L933.00,629.84 L934.00,629.21 L935.00,628.20 L936.00,626.80 L937.00,625.51 L938.00,624.34 L939.00,623.07 L940.00,621.71 L941.00,620.16 L942.00,618.10 L943.00,615.94 L944.00,613.14 L945.00,609.91 L946.00,605.92 L947.00,602.07 L948.00,598.00 L949.00,593.27 L950.00,588.27 L951.00,584.84 L952.00,582.45 L953.00,580.38 L954.00,578.52 L955.00,577.36 L956.00,577.40 L957.00,579.34 L958.00,582.14 L959.00,584.96 L960.00,587.46 L961.00,590.36 L962.00,593.04 L963.00,595.36 L964.00,597.74 L965.00,600.24 L966.00,602.88 L967.00,604.77 L968.00,605.82 L969.00,606.96 L970.00,607.83 L971.00,608.55 L972.00,609.01 L973.00,609.36 L974.00,609.48 L975.00,609.22 L976.00,608.78 L977.00,608.92 L978.00,608.95 L979.00,609.10 L980.00,609.09 L981.00,609.50 L982.00,610.32 L983.00,610.97 L984.00,611.59 L985.00,612.31 L986.00,613.59 L987.00,615.27 L988.00,617.31 L989.00,619.52 L990.00,621.85 L991.00,624.10 L992.00,626.60 L993.00,629.33 L994.00,631.61 L995.00,633.49 L996.00,634.65 L997.00,635.96 L998.00,636.96 L999.00,637.90 L1000.00,638.65 L1001.00,639.48 L1002.00,640.03 L1003.00,640.24 L1004.00,640.22 L1005.00,640.44 L1006.00,640.55 L1007.00,640.62 L1008.00,640.75 L1009.00,641.18 L1010.00,641.36 L1011.00,641.16 L1012.00,641.19 L1013.00,641.38 L1014.00,641.69 L1015.00,641.60 L1016.00,641.21 L1017.00,641.35 L1018.00,641.57 L1019.00,642.26 L1020.00,642.46 L1021.00,642.38 L1022.00,642.25 L1023.00,642.27 L1024.00,642.52 L1025.00,642.63 L1026.00,642.76 L1027.00,642.36 L1028.00,642.35 L1029.00,642.26 L1030.00,642.41 L1031.00,642.41 L1032.00,642.29 L1033.00,642.24 L1034.00,642.00 L1035.00,642.17 L1036.00,642.46 L1037.00,642.84 L1038.00,642.88 L1039.00,642.86 L1040.00,642.52 L1041.00,642.37 L1042.00,642.24 L1043.00,642.74 L1044.00,642.63 L1045.00,642.47 L1046.00,641.99 L1047.00,642.29 L1048.00,642.39 L1049.00,642.67 L1050.00,642.43 L1051.00,642.70 L1052.00,642.33 L1053.00,642.34 L1054.00,642.27 L1055.00,642.48 L1056.00,642.41 L1057.00,642.54 L1058.00,642.36 L1059.00,642.36 L1060.00,642.32 L1061.00,642.81 L1062.00,642.95 L1063.00,642.57 L1064.00,642.09 L1065.00,641.95 L1066.00,642.14 L1067.00,642.56 L1068.00,642.84 L1069.00,643.01 L1070.00,642.72 L1071.00,642.69 L1072.00,642.66 L1073.00,642.88 L1074.00,642.76 L1075.00,642.57 L1076.00,642.61 L1077.00,642.86 L1078.00,642.89 L1079.00,642.77 L1080.00,642.70 L1081.00,642.98 L1082.00,643.20 L1083.00,643.03 L1084.00,642.99 L1085.00,642.52 L1086.00,642.16 L1087.00,641.89 L1088.00,642.14 L1089.00,642.25 L1090.00,642.29 L1091.00,642.27 L1092.00,642.50 L1093.00,642.57 L1094.00,642.72 L1095.00,642.68 L1096.00,642.57 L1097.00,642.47 L1098.00,642.69 L1099.00,642.69 L1100.00,642.82 L1101.00,642.77 L1102.00,642.78 L1103.00,642.55 L1104.00,642.31 L1105.00,642.48 L1106.00,642.50 L1107.00,642.94 L1108.00,642.42 L1109.00,642.21 L1110.00,641.81 L1111.00,642.31 L1112.00,642.45 L1113.00,642.41 L1114.00,642.40 L1115.00,642.39 L1116.00,642.54 L1117.00,642.61 L1118.00,642.84 L1119.00,642.55 L1120.00,642.29 L1121.00,642.21 L1122.00,642.43 L1123.00,642.42 L1124.00,642.45 L1125.00,642.49 L1126.00,642.68 L1127.00,642.73 L1128.00,642.66 L1129.00,642.75 L1130.00,642.64 L1131.00,642.74 L1132.00,642.74 L1133.00,642.45 L1134.00,642.15 L1135.00,641.80 L1136.00,642.20 L1137.00,642.48 L1138.00,642.57 L1139.00,642.27 L1140.00,641.98 L1141.00,642.12 L1142.00,642.28 L1143.00,642.61 L1144.00,642.70 L1145.00,642.75 L1146.00,642.91 L1147.00,642.70 L1148.00,642.89 L1149.00,642.74 L1150.00,642.72 L1151.00,642.51 L1152.00,642.79 L1153.00,642.68 L1154.00,642.55 L1155.00,642.14 L1156.00,642.37 L1157.00,642.47 L1158.00,642.83 L1159.00,642.77 L1160.00,642.87 L1161.00,642.49 L1162.00,642.35 L1163.00,642.22 L1164.00,642.26 L1165.00,642.54 L1166.00,642.78 L1167.00,642.74 L1168.00,642.81 L1169.00,642.44 L1170.00,642.79 L1171.00,642.38 L1172.00,642.46 L1173.00,642.22 L1174.00,642.40 L1175.00,642.30 L1176.00,642.37 L1177.00,642.27 L1178.00,642.60 L1179.00,642.26 L1180.00,642.58 L1181.00,642.56 L1182.00,642.87 L1183.00,642.87 L1184.00,642.71 L1185.00,642.62 L1186.00,642.63 L1187.00,642.50 L1188.00,642.47 L1189.00,642.25 L1190.00,642.38 L1191.00,642.38 L1192.00,642.03 L1193.00,642.06 L1194.00,642.14 L1195.00,642.72 L1196.00,642.85 L1197.00,642.71 L1198.00,642.47 L1199.00,642.20 L1200.00,642.24 L1201.00,642.18 L1202.00,642.50 L1203.00,642.62 L1204.00,642.81 L1205.00,642.58 L1206.00,642.49 L1207.00,642.48 L1208.00,642.41 L1209.00,642.52 L1210.00,642.58 L1211.00,642.61 L1212.00,642.53 L1213.00,642.26 L1214.00,642.61 L1215.00,642.68 L1216.00,642.99 L1217.00,642.69 L1218.00,642.49 L1219.00,642.30 L1220.00,642.55 L1221.00,642.95 L1222.00,643.09 L1223.00,642.87 L1224.00,642.68 L1225.00,642.73 L1226.00,642.57 L1227.00,642.65 L1228.00,642.35 L1229.00,642.55 L1230.00,642.53 L1231.00,642.70 L1232.00,642.68 L1233.00,642.77 L1234.00,642.66 L1235.00,642.59 L1236.00,642.24 L1237.00,642.33 L1238.00,642.51 L1239.00,642.64 L1240.00,642.31 L1241.00,642.26 L1242.00,642.38 L1243.00,642.54 L1244.00,642.44 L1245.00,642.34 L1246.00,642.35 L1247.00,642.43 L1248.00,642.44 L1249.00,642.38 L1250.00,641.91" stroke="#ff00ff" stroke-width="6.1"/>
<path d="M117.00,731.46 L118.50,731.86 L120.00,731.85 L121.50,731.46 L123.00,731.21 L124.50,731.19 L126.00,731.27 L127.50,731.56 L129.00,731.56 L130.50,731.28 L132.00,731.18 L133.50,731.48 L135.00,731.29 L136.50,730.85 L138.00,731.10 L139.50,731.54 L141.00,731.43 L142.50,731.20 L144.00,731.59 L145.50,731.44 L147.00,731.27 L148.50,731.36 L150.00,731.01 L151.50,731.02 L153.00,731.38 L154.50,731.34 L156.00,731.00 L157.50,731.06 L159.00,731.33 L160.50,730.94 L162.00,730.86 L163.50,731.60 L165.00,731.30 L166.50,730.70 L168.00,731.03 L169.50,731.45 L171.00,731.37 L172.50,731.39 L174.00,731.29 L175.50,730.64 L177.00,730.83 L178.50,731.28 L179.60,731.28 L179.80,731.24 L180.00,731.19 L180.20,731.17 L180.40,731.15 L180.60,731.12 L180.80,731.09 L181.00,731.07 L181.20,731.04 L181.40,731.02 L181.50,731.01 L181.60,731.00 L181.80,730.97 L182.00,730.94 L182.20,730.90 L182.40,730.85 L182.60,730.80 L182.80,730.75 L183.00,730.69 L183.20,730.64 L183.40,730.57 L183.60,730.49 L183.80,730.41 L184.00,730.30 L184.20,730.14 L184.40,729.95 L184.50,729.85 L184.60,729.73 L184.80,729.47 L185.00,729.14 L185.20,728.76 L185.40,728.29 L185.60,727.72 L185.80,727.04 L186.00,726.22 L186.20,725.28 L186.40,724.14 L186.60,722.73 L186.80,720.77 L187.00,717.50 L187.20,710.97 L187.40,697.27 L187.50,685.94 L187.60,670.55 L187.80,625.24 L188.00,561.11 L188.20,488.41 L188.40,428.32 L188.60,404.37 L188.80,425.73 L189.00,482.04 L189.20,552.19 L189.40,616.05 L189.60,662.96 L189.80,692.04 L190.00,707.79 L190.20,715.64 L190.40,719.60 L190.50,720.87 L190.60,721.89 L190.80,723.48 L191.00,724.73 L191.20,725.69 L191.40,726.49 L191.60,727.13 L191.80,727.65 L192.00,728.06 L192.20,728.50 L192.40,728.86 L192.60,729.16 L192.80,729.41 L193.00,729.62 L193.20,729.87 L193.40,730.10 L193.50,730.20 L193.60,730.30 L193.80,730.49 L194.00,730.67 L194.20,730.79 L194.40,730.90 L194.60,731.00 L194.80,731.10 L195.00,731.20 L195.20,731.14 L195.40,731.08 L195.60,731.01 L195.80,730.95 L196.00,730.88 L196.20,730.85 L196.40,730.82 L196.50,730.81 L196.60,730.79 L196.80,730.76 L197.00,730.73 L197.20,730.72 L197.40,730.72 L197.60,730.71 L197.80,730.71 L198.00,730.70 L198.20,730.80 L198.40,730.91 L198.60,731.01 L198.80,731.11 L199.00,731.21 L199.20,731.20 L199.40,731.19 L199.50,731.19 L199.60,731.18 L201.00,731.41 L202.50,731.30 L204.00,731.33 L205.50,731.40 L207.00,731.26 L208.50,731.19 L210.00,731.29 L211.50,731.16 L213.00,731.17 L214.50,731.39 L216.00,731.14 L217.50,731.12 L219.00,731.43 L220.50,731.33 L222.00,730.94 L223.50,730.95 L225.00,731.25 L226.50,731.43 L228.00,731.59 L229.50,731.35 L231.00,730.75 L232.50,730.98 L234.00,731.50 L235.50,731.33 L237.00,731.13 L238.50,731.32 L240.00,731.59 L241.50,731.25 L243.00,731.04 L244.50,731.35 L246.00,731.23 L247.50,731.24 L249.00,731.20 L250.50,731.09 L252.00,731.38 L253.50,731.41 L255.00,731.25 L256.50,731.42 L258.00,731.25 L259.50,730.78 L261.00,730.90 L262.50,731.08 L264.00,731.10 L265.50,731.34 L267.00,731.59 L268.50,731.32 L270.00,731.06 L271.50,731.53 L273.00,731.89 L274.50,731.37 L276.00,730.93 L277.50,731.17 L279.00,731.61 L280.50,731.53 L282.00,731.27 L283.50,731.23 L285.00,731.43 L286.50,731.76 L288.00,731.43 L289.50,731.09 L291.00,731.41 L292.50,731.57 L294.00,731.51 L295.50,731.22 L297.00,730.87 L298.50,731.23 L300.00,731.58 L301.50,731.14 L303.00,730.65 L304.50,730.92 L306.00,731.40 L307.50,731.49 L309.00,731.41 L310.50,731.03 L312.00,730.64 L313.50,730.74 L315.00,730.89 L316.50,731.19 L318.00,731.33 L319.50,730.96 L319.86,730.78 L320.06,730.68 L320.26,730.58 L320.46,730.48 L320.66,730.37 L320.86,730.27 L321.00,730.19 L321.06,730.17 L321.26,730.11 L321.46,730.05 L321.66,729.99 L321.86,729.92 L322.06,729.88 L322.26,729.90 L322.46,729.91 L322.50,729.91 L322.66,729.92 L322.86,729.93 L323.06,729.93 L323.26,729.93 L323.46,729.91 L323.66,729.90 L323.86,729.87 L324.00,729.84 L324.06,729.84 L324.26,729.83 L324.46,729.79 L324.66,729.73 L324.86,729.64 L325.06,729.50 L325.26,729.32 L325.46,729.08 L325.50,729.02 L325.66,728.75 L325.86,728.32 L326.06,727.75 L326.26,726.99 L326.46,726.07 L326.66,724.96 L326.86,723.61 L327.00,722.47 L327.06,721.87 L327.26,719.40 L327.46,715.65 L327.66,709.35 L327.86,698.72 L328.06,682.26 L328.26,660.27 L328.46,636.21 L328.50,631.72 L328.66,617.06 L328.86,610.02 L329.06,615.25 L329.26,627.13 L329.46,641.95 L329.66,658.76 L329.86,675.78 L330.00,686.50 L330.06,690.64 L330.26,702.07 L330.46,709.99 L330.66,715.13 L330.86,718.44 L331.06,720.74 L331.26,722.51 L331.46,723.97 L331.50,724.23 L331.66,725.19 L331.86,726.23 L332.06,727.07 L332.26,727.69 L332.46,728.18 L332.66,728.57 L332.86,728.86 L333.00,729.03 L333.06,729.13 L333.26,729.42 L333.41,729.61 L333.46,729.67 L333.61,729.83 L333.66,729.88 L333.81,730.02 L333.86,730.07 L334.01,730.18 L334.06,730.19 L334.21,730.21 L334.26,730.21 L334.41,730.22 L334.46,730.22 L334.50,730.22 L334.61,730.21 L334.66,730.21 L334.81,730.20 L334.86,730.20 L335.01,730.20 L335.06,730.23 L335.21,730.34 L335.26,730.38 L335.41,730.49 L335.46,730.52 L335.61,730.63 L335.66,730.66 L335.81,730.77 L335.86,730.80 L336.00,730.89 L336.01,730.89 L336.06,730.88 L336.21,730.86 L336.26,730.85 L336.41,730.83 L336.46,730.82 L336.61,730.79 L336.66,730.78 L336.81,730.75 L336.86,730.74 L337.01,730.71 L337.06,730.71 L337.21,730.71 L337.26,730.72 L337.41,730.72 L337.46,730.72 L337.50,730.72 L337.61,730.72 L337.66,730.72 L337.81,730.71 L337.86,730.71 L338.01,730.70 L338.06,730.68 L338.21,730.62 L338.26,730.60 L338.41,730.54 L338.46,730.52 L338.61,730.45 L338.66,730.43 L338.81,730.35 L338.86,730.32 L339.00,730.24 L339.01,730.24 L339.06,730.23 L339.21,730.19 L339.26,730.17 L339.41,730.12 L339.46,730.09 L339.61,730.02 L339.66,729.99 L339.81,729.90 L339.86,729.87 L340.01,729.75 L340.21,729.58 L340.41,729.36 L340.50,729.25 L340.61,729.08 L340.81,728.69 L341.01,728.06 L341.21,727.04 L341.41,725.22 L341.61,722.32 L341.81,718.40 L342.00,714.32 L342.01,714.11 L342.21,710.69 L342.41,709.52 L342.61,710.59 L342.81,712.78 L343.01,715.38 L343.21,718.24 L343.41,721.25 L343.50,722.54 L343.61,724.00 L343.81,726.18 L344.01,727.73 L344.21,728.61 L344.41,729.14 L344.61,729.45 L344.81,729.65 L345.00,729.78 L345.01,729.79 L345.21,729.96 L345.41,730.11 L345.61,730.22 L345.81,730.31 L346.01,730.37 L346.21,730.48 L346.41,730.58 L346.50,730.61 L346.61,730.66 L346.81,730.72 L347.01,730.78 L347.21,730.80 L347.41,730.81 L347.61,730.82 L347.81,730.82 L348.00,730.82 L348.01,730.82 L348.21,730.83 L348.41,730.84 L348.61,730.85 L348.81,730.86 L349.01,730.87 L349.21,730.90 L349.41,730.93 L349.50,730.95 L349.61,730.96 L349.81,730.99 L350.01,731.03 L350.21,731.07 L350.41,731.12 L350.61,731.17 L350.81,731.21 L351.00,731.26 L351.01,731.25 L351.21,731.20 L351.41,731.16 L351.61,731.11 L351.81,731.06 L352.01,731.01 L352.21,731.00 L352.41,730.98 L352.50,730.98 L352.61,730.97 L352.81,730.95 L353.01,730.94 L353.21,731.02 L353.41,731.09 L354.00,731.30 L355.50,731.49 L357.00,731.38 L358.50,731.44 L360.00,731.13 L361.50,731.09 L363.00,731.39 L364.50,731.27 L366.00,731.08 L367.50,730.93 L369.00,731.00 L370.50,730.91 L372.00,730.83 L373.50,731.46 L375.00,731.40 L376.50,731.15 L378.00,731.00 L379.50,730.95 L381.00,731.12 L382.50,731.12 L383.38,731.06 L383.58,730.94 L383.78,730.82 L383.98,730.69 L384.00,730.68 L384.18,730.69 L384.38,730.70 L384.58,730.70 L384.78,730.70 L384.98,730.71 L385.18,730.63 L385.38,730.55 L385.50,730.50 L385.58,730.46 L385.78,730.38 L385.98,730.28 L386.18,730.30 L386.38,730.33 L386.58,730.35 L386.78,730.37 L386.98,730.38 L387.00,730.38 L387.18,730.25 L387.38,730.09 L387.58,729.91 L387.78,729.72 L387.98,729.51 L388.18,729.30 L388.38,729.07 L388.50,728.90 L388.58,728.78 L388.78,728.44 L388.98,728.02 L389.18,727.55 L389.38,726.97 L389.58,726.24 L389.78,725.35 L389.98,724.26 L390.00,724.14 L390.18,722.96 L390.38,721.37 L390.58,719.38 L390.78,716.66 L390.98,712.47 L391.18,705.34 L391.38,693.08 L391.50,682.37 L391.58,673.69 L391.78,647.26 L391.98,617.90 L392.18,594.08 L392.38,585.28 L392.58,592.25 L392.78,606.32 L392.98,620.31 L393.00,621.62 L393.18,633.48 L393.38,648.56 L393.58,665.66 L393.78,682.12 L393.98,695.65 L394.18,705.35 L394.38,711.71 L394.50,714.37 L394.58,715.80 L394.78,718.56 L394.98,720.62 L395.18,722.30 L395.38,723.70 L395.58,724.87 L395.78,725.83 L395.98,726.62 L396.00,726.69 L396.18,727.26 L396.38,727.77 L396.58,728.18 L396.78,728.50 L396.98,728.75 L397.18,729.08 L397.38,729.38 L397.50,729.55 L397.58,729.65 L397.78,729.90 L397.98,730.13 L398.18,730.28 L398.38,730.42 L398.58,730.55 L398.78,730.67 L398.98,730.78 L399.00,730.79 L399.18,730.83 L399.38,730.86 L399.58,730.89 L399.78,730.91 L399.98,730.93 L400.18,730.86 L400.38,730.78 L400.50,730.73 L400.58,730.69 L400.78,730.61 L400.98,730.52 L401.18,730.52 L401.38,730.52 L401.58,730.52 L401.78,730.52 L401.98,730.52 L402.00,730.52 L402.18,730.58 L402.38,730.65 L402.58,730.71 L402.78,730.78 L402.98,730.84 L403.18,730.95 L403.38,731.06 L403.50,731.12 L405.00,731.13 L406.50,731.27 L408.00,731.62 L409.50,731.36 L411.00,730.99 L412.50,730.95 L414.00,731.03 L415.50,731.13 L416.26,731.31 L416.46,731.30 L416.66,731.29 L416.86,731.28 L417.00,731.27 L417.06,731.26 L417.26,731.23 L417.46,731.20 L417.66,731.17 L417.86,731.13 L418.06,731.10 L418.26,731.08 L418.46,731.05 L418.50,731.05 L418.66,731.03 L418.86,731.00 L419.06,730.97 L419.26,730.93 L419.46,730.88 L419.66,730.84 L419.86,730.79 L420.00,730.76 L420.06,730.76 L420.26,730.77 L420.46,730.78 L420.66,730.78 L420.86,730.78 L421.06,730.78 L421.26,730.80 L421.46,730.80 L421.50,730.80 L421.66,730.80 L421.86,730.78 L422.06,730.73 L422.26,730.62 L422.46,730.48 L422.66,730.32 L422.86,730.13 L423.00,729.97 L423.06,729.90 L423.26,729.64 L423.46,729.31 L423.66,728.86 L423.86,728.18 L424.06,727.04 L424.26,725.07 L424.46,721.90 L424.50,721.11 L424.66,717.52 L424.86,712.57 L425.06,708.48 L425.26,706.96 L425.46,708.27 L425.66,710.88 L425.86,713.28 L426.00,714.59 L426.06,715.07 L426.26,716.82 L426.46,719.15 L426.66,721.85 L426.86,724.37 L427.06,726.38 L427.26,727.80 L427.46,728.74 L427.50,728.88 L427.66,729.35 L427.86,729.80 L428.06,730.12 L428.26,730.32 L428.46,730.47 L428.66,730.59 L428.86,730.68 L429.00,730.72 L429.06,730.75 L429.26,730.83 L429.46,730.88 L429.66,730.93 L429.86,730.96 L430.06,730.96 L430.26,730.89 L430.46,730.82 L430.50,730.81 L430.66,730.75 L430.86,730.67 L431.06,730.63 L431.26,730.66 L431.46,730.70 L431.66,730.73 L431.86,730.76 L432.00,730.79 L432.06,730.79 L432.26,730.82 L432.46,730.84 L432.66,730.87 L432.86,730.89 L433.06,730.92 L433.26,730.97 L433.46,731.03 L433.50,731.04 L433.66,731.08 L433.86,731.13 L434.06,731.15 L434.26,731.12 L434.46,731.08 L434.66,731.05 L434.86,731.01 L435.00,730.98 L435.06,730.99 L435.26,731.03 L435.46,731.06 L435.66,731.10 L435.86,731.13 L436.06,731.14 L436.26,731.09 L436.50,731.02 L438.00,730.95 L439.50,730.53 L441.00,731.05 L442.50,731.46 L444.00,731.07 L445.50,730.81 L447.00,730.97 L448.50,731.18 L450.00,731.05 L451.50,730.91 L453.00,731.16 L454.50,731.37 L456.00,731.28 L457.50,730.91 L459.00,730.88 L460.50,730.97 L462.00,730.75 L463.50,731.25 L465.00,731.53 L466.50,731.46 L468.00,731.64 L469.50,731.72 L471.00,731.68 L472.50,731.31 L474.00,731.12 L475.50,731.66 L477.00,732.08 L478.50,731.87 L480.00,731.48 L481.50,731.30 L483.00,731.53 L484.50,731.22 L486.00,730.84 L487.50,731.15 L489.00,731.60 L490.50,731.64 L492.00,731.55 L493.50,731.34 L495.00,731.17 L496.50,731.61 L496.83,731.72 L497.03,731.77 L497.23,731.73 L497.43,731.69 L497.63,731.65 L497.83,731.61 L498.00,731.58 L498.03,731.57 L498.23,731.48 L498.43,731.40 L498.63,731.32 L498.83,731.23 L499.03,731.15 L499.23,731.05 L499.43,730.96 L499.50,730.93 L499.63,730.87 L499.83,730.77 L500.03,730.68 L500.23,730.62 L500.43,730.55 L500.63,730.49 L500.83,730.42 L501.00,730.35 L501.03,730.35 L501.23,730.28 L501.43,730.21 L501.63,730.13 L501.83,730.04 L502.03,729.95 L502.23,729.89 L502.43,729.81 L502.50,729.78 L502.63,729.71 L502.83,729.58 L503.03,729.41 L503.23,729.18 L503.43,728.90 L503.63,728.55 L503.83,728.12 L504.00,727.67 L504.03,727.59 L504.23,726.89 L504.43,725.82 L504.63,723.97 L504.83,720.73 L505.03,715.43 L505.23,707.95 L505.43,699.26 L505.50,696.34 L505.63,691.81 L505.83,688.84 L506.03,691.48 L506.23,697.14 L506.43,702.34 L506.63,705.25 L506.83,706.13 L507.00,706.62 L507.03,706.79 L507.23,709.01 L507.43,712.95 L507.63,717.40 L507.83,721.32 L508.03,724.21 L508.23,726.12 L508.43,727.34 L508.50,727.66 L508.63,728.16 L508.83,728.76 L509.03,729.23 L509.23,729.56 L509.43,729.82 L509.63,730.03 L509.83,730.18 L510.00,730.29 L510.03,730.31 L510.23,730.44 L510.43,730.55 L510.63,730.64 L510.83,730.71 L511.03,730.76 L511.23,730.79 L511.43,730.82 L511.50,730.82 L511.63,730.84 L511.83,730.85 L512.03,730.86 L512.23,730.87 L512.43,730.88 L512.63,730.89 L512.83,730.90 L513.00,730.90 L513.03,730.91 L513.23,730.94 L513.43,730.97 L513.63,731.00 L513.83,731.03 L514.03,731.05 L514.23,731.04 L514.43,731.02 L514.50,731.01 L514.63,731.00 L514.83,730.98 L515.03,730.96 L515.23,730.96 L515.43,730.96 L515.63,730.96 L515.83,730.95 L516.00,730.95 L516.03,730.95 L516.23,730.92 L516.43,730.90 L516.63,730.87 L516.83,730.84 L517.50,731.00 L519.00,731.37 L520.50,731.31 L522.00,731.04 L523.50,730.99 L525.00,730.80 L526.50,730.92 L528.00,731.30 L529.50,731.36 L531.00,731.22 L532.50,731.42 L534.00,731.57 L535.50,731.49 L537.00,731.33 L538.50,731.04 L540.00,730.92 L541.50,731.07 L543.00,731.27 L543.22,731.22 L543.42,731.18 L543.62,731.13 L543.82,731.09 L544.02,731.04 L544.22,731.01 L544.42,730.98 L544.50,730.97 L544.62,730.95 L544.82,730.92 L545.02,730.89 L545.22,730.84 L545.42,730.80 L545.62,730.76 L545.82,730.71 L546.00,730.67 L546.02,730.67 L546.22,730.64 L546.42,730.61 L546.62,730.58 L546.82,730.55 L547.02,730.52 L547.22,730.48 L547.42,730.44 L547.50,730.42 L547.62,730.39 L547.82,730.33 L548.02,730.26 L548.22,730.11 L548.42,729.94 L548.62,729.76 L548.82,729.54 L549.00,729.32 L549.02,729.30 L549.22,729.05 L549.42,728.75 L549.62,728.38 L549.82,727.93 L550.02,727.37 L550.22,726.69 L550.42,725.82 L550.50,725.40 L550.62,724.66 L550.82,722.89 L551.02,719.88 L551.22,714.66 L551.42,706.06 L551.62,693.73 L551.82,679.26 L552.00,667.70 L552.02,666.69 L552.22,661.50 L552.42,666.05 L552.62,676.31 L552.82,686.30 L553.02,692.21 L553.22,693.41 L553.42,692.15 L553.50,691.76 L553.62,692.03 L553.82,695.57 L554.02,702.12 L554.22,709.43 L554.42,715.69 L554.62,720.24 L554.82,723.21 L555.00,724.96 L555.02,725.11 L555.22,726.27 L555.42,727.10 L555.62,727.75 L555.82,728.26 L556.02,728.69 L556.22,729.15 L556.42,729.55 L556.50,729.69 L556.62,729.88 L556.82,730.16 L557.02,730.39 L557.22,730.44 L557.42,730.46 L557.62,730.46 L557.82,730.44 L558.00,730.42 L558.02,730.43 L558.22,730.49 L558.42,730.55 L558.62,730.60 L558.82,730.64 L559.02,730.67 L559.22,730.62 L559.42,730.56 L559.50,730.54 L559.62,730.50 L559.82,730.44 L560.02,730.38 L560.22,730.41 L560.42,730.44 L560.62,730.47 L560.82,730.49 L561.00,730.51 L561.02,730.52 L561.22,730.56 L561.42,730.60 L561.62,730.64 L561.82,730.68 L562.02,730.71 L562.22,730.73 L562.42,730.75 L562.50,730.75 L562.62,730.76 L562.82,730.78 L563.02,730.80 L563.22,730.84 L564.00,731.00 L565.50,731.15 L567.00,731.24 L568.50,731.24 L569.42,731.29 L569.62,731.28 L569.82,731.26 L570.00,731.25 L570.02,731.25 L570.22,731.23 L570.42,731.22 L570.62,731.20 L570.82,731.19 L571.02,731.17 L571.22,731.22 L571.42,731.26 L571.50,731.27 L571.62,731.30 L571.82,731.33 L572.02,731.36 L572.22,731.28 L572.42,731.21 L572.62,731.13 L572.82,731.05 L573.00,730.98 L573.02,730.98 L573.22,731.01 L573.42,731.03 L573.62,731.05 L573.82,731.07 L574.02,731.08 L574.22,730.99 L574.42,730.89 L574.50,730.85 L574.62,730.78 L574.82,730.66 L575.02,730.55 L575.22,730.53 L575.42,730.49 L575.62,730.42 L575.82,730.33 L576.00,730.20 L576.02,730.18 L576.22,729.88 L576.42,729.52 L576.62,729.07 L576.82,728.48 L577.02,727.62 L577.22,726.28 L577.42,723.86 L577.50,722.47 L577.62,719.83 L577.82,714.04 L578.02,707.23 L578.22,701.24 L578.42,698.79 L578.62,701.01 L578.82,706.04 L579.00,710.62 L579.02,711.06 L579.22,714.22 L579.42,715.01 L579.62,714.20 L579.82,713.36 L580.02,714.03 L580.22,716.43 L580.42,719.72 L580.50,721.04 L580.62,722.86 L580.82,725.28 L581.02,726.88 L581.22,727.89 L581.42,728.52 L581.62,728.93 L581.82,729.24 L582.00,729.45 L582.02,729.47 L582.22,729.70 L582.42,729.88 L582.62,730.02 L582.82,730.13 L583.02,730.23 L583.22,730.39 L583.42,730.54 L583.50,730.60 L583.62,730.68 L583.82,730.81 L584.02,730.93 L584.22,731.01 L584.42,731.09 L584.62,731.17 L584.82,731.24 L585.00,731.30 L585.02,731.30 L585.22,731.26 L585.42,731.22 L585.62,731.18 L585.82,731.13 L586.02,731.09 L586.22,731.11 L586.42,731.13 L586.50,731.13 L586.62,731.14 L586.82,731.16 L587.02,731.17 L587.22,731.15 L587.42,731.14 L587.62,731.12 L587.82,731.11 L588.00,731.09 L588.02,731.10 L588.22,731.18 L588.42,731.25 L588.62,731.33 L588.82,731.41 L589.02,731.47 L589.22,731.39 L589.42,731.31 L589.50,731.28 L591.00,731.07 L592.50,730.86 L594.00,730.68 L595.50,730.75 L597.00,730.84 L598.50,731.10 L600.00,731.35 L601.50,730.88 L603.00,731.02 L604.50,731.52 L606.00,731.46 L607.50,731.25 L609.00,731.34 L610.50,731.30 L612.00,731.23 L613.50,731.26 L615.00,731.26 L616.50,731.25 L618.00,731.44 L619.50,731.24 L621.00,730.86 L622.50,730.90 L624.00,731.01 L625.50,731.06 L627.00,731.27 L628.50,731.37 L630.00,731.01 L631.50,730.77 L633.00,731.03 L634.50,731.38 L636.00,731.24 L637.50,731.12 L638.22,731.06 L638.42,731.06 L638.62,731.06 L638.82,731.06 L639.00,731.07 L639.02,731.07 L639.22,731.09 L639.42,731.10 L639.62,731.12 L639.82,731.14 L640.02,731.15 L640.22,731.15 L640.42,731.15 L640.50,731.15 L640.62,731.14 L640.82,731.14 L641.02,731.14 L641.22,731.17 L641.42,731.19 L641.62,731.21 L641.82,731.24 L642.00,731.26 L642.02,731.26 L642.22,731.22 L642.42,731.18 L642.62,731.14 L642.82,731.10 L643.02,731.07 L643.22,731.09 L643.42,731.12 L643.50,731.12 L643.62,731.14 L643.82,731.16 L644.02,731.17 L644.22,731.12 L644.42,731.06 L644.62,731.00 L644.82,730.93 L645.00,730.86 L645.02,730.86 L645.22,730.82 L645.42,730.76 L645.62,730.67 L645.82,730.51 L646.02,730.21 L646.22,729.64 L646.42,728.68 L646.50,728.18 L646.62,727.30 L646.82,725.68 L647.02,724.27 L647.22,723.72 L647.27,723.76 L647.42,724.31 L647.47,724.59 L647.62,725.61 L647.67,725.97 L647.82,726.98 L647.87,727.28 L648.00,727.90 L648.02,727.96 L648.07,728.09 L648.22,728.28 L648.27,728.27 L648.42,728.08 L648.47,727.97 L648.62,727.57 L648.67,727.43 L648.82,727.07 L648.87,726.99 L649.02,726.94 L649.07,726.99 L649.22,727.35 L649.27,727.51 L649.42,728.08 L649.47,728.28 L649.50,728.40 L649.62,728.85 L649.67,729.03 L649.82,729.49 L649.87,729.61 L650.02,729.92 L650.07,730.01 L650.22,730.23 L650.27,730.29 L650.42,730.43 L650.47,730.46 L650.62,730.56 L650.67,730.59 L650.82,730.66 L650.87,730.68 L651.00,730.74 L651.02,730.74 L651.07,730.76 L651.22,730.81 L651.27,730.83 L651.42,730.87 L651.47,730.88 L651.62,730.92 L651.67,730.93 L651.82,730.96 L651.87,730.97 L652.02,730.98 L652.07,730.97 L652.22,730.94 L652.27,730.92 L652.42,730.88 L652.47,730.87 L652.50,730.86 L652.62,730.83 L652.67,730.81 L652.82,730.76 L652.87,730.75 L653.02,730.69 L653.07,730.68 L653.22,730.63 L653.27,730.61 L653.42,730.55 L653.47,730.53 L653.62,730.46 L653.67,730.44 L653.82,730.36 L653.87,730.33 L654.00,730.25 L654.02,730.25 L654.07,730.25 L654.22,730.22 L654.27,730.21 L654.42,730.16 L654.47,730.14 L654.62,730.06 L654.67,730.02 L654.82,729.87 L654.87,729.80 L655.02,729.49 L655.07,729.34 L655.22,728.73 L655.27,728.46 L655.42,727.43 L655.47,727.01 L655.50,726.73 L655.62,725.49 L655.67,724.91 L655.82,723.06 L655.87,722.44 L656.02,720.76 L656.07,720.31 L656.22,719.51 L656.27,719.46 L656.42,719.98 L656.47,720.34 L656.62,721.76 L656.67,722.30 L656.82,723.89 L656.87,724.37 L657.00,725.44 L657.02,725.57 L657.07,725.86 L657.22,726.40 L657.27,726.48 L657.42,726.41 L657.47,726.31 L657.62,725.84 L657.67,725.65 L657.82,725.08 L657.87,724.92 L658.02,724.66 L658.07,724.68 L658.22,725.04 L658.27,725.25 L658.47,726.38 L658.50,726.57 L658.67,727.63 L658.87,728.72 L659.07,729.49 L659.27,729.97 L659.47,730.27 L659.67,730.46 L659.87,730.60 L660.00,730.67 L660.07,730.71 L660.27,730.80 L660.47,730.87 L660.67,730.93 L660.87,730.98 L661.07,731.01 L661.27,731.02 L661.47,731.03 L661.50,731.03 L661.67,731.03 L661.87,731.03 L662.07,731.03 L662.27,731.03 L662.47,731.03 L662.67,731.03 L662.87,731.03 L663.00,731.03 L663.07,731.05 L663.27,731.11 L663.47,731.17 L663.67,731.23 L663.87,731.29 L664.07,731.35 L664.27,731.39 L664.47,731.43 L664.50,731.44 L664.67,731.47 L664.87,731.51 L665.07,731.54 L665.27,731.56 L665.47,731.58 L665.67,731.60 L665.87,731.62 L666.00,731.63" stroke="#8a8a00" stroke-width="6.1"/>
<path d="M702.00,732.30 L703.00,732.07 L704.00,731.95 L705.00,732.02 L706.00,732.02 L707.00,732.24 L708.00,732.31 L709.00,732.19 L710.00,731.89 L711.00,731.90 L712.00,732.24 L713.00,732.63 L714.00,732.63 L715.00,732.43 L716.00,732.50 L717.00,732.45 L718.00,732.67 L719.00,732.40 L720.00,732.12 L721.00,731.84 L722.00,731.56 L723.00,731.48 L724.00,731.48 L725.00,731.74 L726.00,731.76 L727.00,731.60 L728.00,731.60 L729.00,731.38 L730.00,731.61 L731.00,731.69 L732.00,731.77 L733.00,731.63 L734.00,731.51 L735.00,731.97 L736.00,732.14 L737.00,732.08 L738.00,731.91 L739.00,731.65 L740.00,731.48 L741.00,731.54 L742.00,731.95 L743.00,732.29 L744.00,732.20 L745.00,732.15 L746.00,731.77 L747.00,731.57 L748.00,731.44 L749.00,731.87 L750.00,732.08 L751.00,732.15 L752.00,731.81 L753.00,731.80 L754.00,731.86 L755.00,732.13 L756.00,732.09 L757.00,732.36 L758.00,732.08 L759.00,732.25 L760.00,731.71 L761.00,731.69 L762.00,731.67 L763.00,731.81 L764.00,731.89 L765.00,731.78 L766.00,732.26 L767.00,732.29 L768.00,732.23 L769.00,732.01 L770.00,732.02 L771.00,732.46 L772.00,732.06 L773.00,732.11 L774.00,731.89 L775.00,732.06 L776.00,732.01 L777.00,731.62 L778.00,731.64 L779.00,731.86 L780.00,732.04 L781.00,731.90 L782.00,731.98 L783.00,732.16 L784.00,732.41 L785.00,732.16 L786.00,731.88 L787.00,731.97 L788.00,732.02 L789.00,732.09 L790.00,731.88 L791.00,731.93 L792.00,732.12 L793.00,732.15 L794.00,732.02 L795.00,731.70 L796.00,731.66 L797.00,731.69 L798.00,731.92 L799.00,731.96 L800.00,731.91 L801.00,731.84 L802.00,731.94 L803.00,732.01 L804.00,732.00 L805.00,731.86 L806.00,731.82 L807.00,731.90 L808.00,732.04 L809.00,732.04 L810.00,731.96 L811.00,731.92 L812.00,732.09 L813.00,732.34 L814.00,732.06 L815.00,732.07 L816.00,731.77 L817.00,732.09 L818.00,732.10 L819.00,732.47 L820.00,732.29 L821.00,732.30 L822.00,731.62 L823.00,731.71 L824.00,731.19 L825.00,731.46 L826.00,731.27 L827.00,731.39 L828.00,731.50 L829.00,731.50 L830.00,731.55 L831.00,731.42 L832.00,731.51 L833.00,731.78 L834.00,731.83 L835.00,731.77 L836.00,731.41 L837.00,731.57 L838.00,731.76 L839.00,732.13 L840.00,731.93 L841.00,732.08 L842.00,732.06 L843.00,732.53 L844.00,732.28 L845.00,732.33 L846.00,732.22 L847.00,732.24 L848.00,732.10 L849.00,731.76 L850.00,731.75 L851.00,731.88 L852.00,732.00 L853.00,731.87 L854.00,732.13 L855.00,731.99 L856.00,732.34 L857.00,731.95 L858.00,732.17 L859.00,732.08 L860.00,732.20 L861.00,732.22 L862.00,732.40 L863.00,732.16 L864.00,731.82 L865.00,731.28 L866.00,731.06 L867.00,731.35 L868.00,731.33 L869.00,731.40 L870.00,731.35 L871.00,731.58 L872.00,731.85 L873.00,731.38 L874.00,731.22 L875.00,730.96 L876.00,731.38 L877.00,731.57 L878.00,731.88 L879.00,732.07 L880.00,732.63 L881.00,732.48 L882.00,732.40 L883.00,731.99 L884.00,732.05 L885.00,731.78 L886.00,731.77 L887.00,731.93 L888.00,732.17 L889.00,731.92 L890.00,731.42 L891.00,731.16 L892.00,731.46 L893.00,732.01 L894.00,732.01 L895.00,731.86 L896.00,731.87 L897.00,732.25 L898.00,732.05 L899.00,731.81 L900.00,731.59 L901.00,731.56 L902.00,731.86 L903.00,731.59 L904.00,731.83 L905.00,731.71 L906.00,732.07 L907.00,732.12 L908.00,731.59 L909.00,731.52 L910.00,731.45 L911.00,731.85 L912.00,731.63 L913.00,731.54 L914.00,731.36 L915.00,731.80 L916.00,731.73 L917.00,731.83 L918.00,731.58 L919.00,731.65 L920.00,731.94 L921.00,732.20 L922.00,732.29 L923.00,731.96 L924.00,731.65 L925.00,731.29 L926.00,731.35 L927.00,731.47 L928.00,731.74 L929.00,731.58 L930.00,731.71 L931.00,731.86 L932.00,732.03 L933.00,732.09 L934.00,732.01 L935.00,732.27 L936.00,731.99 L937.00,731.97 L938.00,731.58 L939.00,731.75 L940.00,731.64 L941.00,731.80 L942.00,731.67 L943.00,731.63 L944.00,731.91 L945.00,732.06 L946.00,732.14 L947.00,731.92 L948.00,731.80 L949.00,731.76 L950.00,731.92 L951.00,731.99 L952.00,732.16 L953.00,731.94 L954.00,731.91 L955.00,731.93 L956.00,731.89 L957.00,731.81 L958.00,731.70 L959.00,731.42 L960.00,731.35 L961.00,731.53 L962.00,732.01 L963.00,732.07 L964.00,731.74 L965.00,731.65 L966.00,731.49 L967.00,731.44 L968.00,731.05 L969.00,730.85 L970.00,731.31 L971.00,731.54 L972.00,731.40 L973.00,730.96 L974.00,730.67 L975.00,731.26 L976.00,731.28 L977.00,731.43 L978.00,731.39 L979.00,731.75 L980.00,731.74 L981.00,731.61 L982.00,731.17 L983.00,731.41 L984.00,731.41 L985.00,731.54 L986.00,731.20 L987.00,731.33 L988.00,731.19 L989.00,731.42 L990.00,731.30 L991.00,731.07 L992.00,730.76 L993.00,730.50 L994.00,730.42 L995.00,730.33 L996.00,730.24 L997.00,730.05 L998.00,729.92 L999.00,729.82 L1000.00,729.92 L1001.00,729.79 L1002.00,729.43 L1003.00,729.43 L1004.00,729.48 L1005.00,729.60 L1006.00,729.73 L1007.00,729.59 L1008.00,729.41 L1009.00,729.33 L1010.00,729.27 L1011.00,729.31 L1012.00,728.78 L1013.00,727.75 L1014.00,726.33 L1015.00,725.20 L1016.00,723.81 L1017.00,722.87 L1018.00,722.06 L1019.00,721.57 L1020.00,721.12 L1021.00,720.05 L1022.00,719.75 L1023.00,718.64 L1024.00,717.64 L1025.00,715.07 L1026.00,712.52 L1027.00,709.37 L1028.00,706.16 L1029.00,702.27 L1030.00,697.52 L1031.00,692.69 L1032.00,687.53 L1033.00,682.91 L1034.00,678.12 L1035.00,673.65 L1036.00,669.65 L1037.00,666.93 L1038.00,665.20 L1039.00,663.55 L1040.00,662.39 L1041.00,661.39 L1042.00,661.88 L1043.00,663.37 L1044.00,665.53 L1045.00,667.86 L1046.00,671.77 L1047.00,677.45 L1048.00,683.51 L1049.00,688.37 L1050.00,692.75 L1051.00,696.52 L1052.00,699.85 L1053.00,701.76 L1054.00,702.42 L1055.00,702.44 L1056.00,702.42 L1057.00,702.61 L1058.00,702.40 L1059.00,702.46 L1060.00,702.42 L1061.00,702.45 L1062.00,701.62 L1063.00,700.48 L1064.00,699.22 L1065.00,698.39 L1066.00,697.84 L1067.00,698.24 L1068.00,699.59 L1069.00,701.75 L1070.00,703.61 L1071.00,705.43 L1072.00,706.97 L1073.00,709.12 L1074.00,711.04 L1075.00,713.17 L1076.00,715.30 L1077.00,717.36 L1078.00,719.05 L1079.00,720.87 L1080.00,722.68 L1081.00,724.47 L1082.00,725.89 L1083.00,727.19 L1084.00,728.10 L1085.00,728.69 L1086.00,728.92 L1087.00,729.04 L1088.00,729.29 L1089.00,729.42 L1090.00,729.52 L1091.00,729.46 L1092.00,729.51 L1093.00,729.86 L1094.00,729.76 L1095.00,729.89 L1096.00,729.67 L1097.00,729.71 L1098.00,729.86 L1099.00,730.11 L1100.00,730.66 L1101.00,730.63 L1102.00,730.84 L1103.00,730.49 L1104.00,730.95 L1105.00,731.03 L1106.00,731.09 L1107.00,730.99 L1108.00,731.00 L1109.00,731.69 L1110.00,731.92 L1111.00,731.96 L1112.00,731.81 L1113.00,731.79 L1114.00,731.92 L1115.00,731.82 L1116.00,731.75 L1117.00,731.69 L1118.00,731.82 L1119.00,731.80 L1120.00,731.95 L1121.00,731.85 L1122.00,731.81 L1123.00,732.14 L1124.00,732.24 L1125.00,732.46 L1126.00,732.58 L1127.00,732.53 L1128.00,732.31 L1129.00,731.61 L1130.00,731.39 L1131.00,731.60 L1132.00,731.65 L1133.00,731.55 L1134.00,731.46 L1135.00,731.67 L1136.00,732.26 L1137.00,732.03 L1138.00,732.20 L1139.00,731.56 L1140.00,732.00 L1141.00,731.88 L1142.00,732.10 L1143.00,732.09 L1144.00,732.07 L1145.00,732.32 L1146.00,732.13 L1147.00,732.29 L1148.00,732.30 L1149.00,732.14 L1150.00,731.82 L1151.00,731.58 L1152.00,731.85 L1153.00,732.09 L1154.00,732.27 L1155.00,732.11 L1156.00,731.92 L1157.00,731.93 L1158.00,732.10 L1159.00,732.32 L1160.00,732.52 L1161.00,732.66 L1162.00,732.48 L1163.00,732.63 L1164.00,732.59 L1165.00,732.70 L1166.00,732.35 L1167.00,732.20 L1168.00,732.07 L1169.00,731.91 L1170.00,731.83 L1171.00,731.85 L1172.00,731.50 L1173.00,731.60 L1174.00,731.35 L1175.00,731.86 L1176.00,731.70 L1177.00,731.90 L1178.00,731.97 L1179.00,731.90 L1180.00,731.84 L1181.00,731.77 L1182.00,731.93 L1183.00,731.98 L1184.00,731.81 L1185.00,731.65 L1186.00,731.82 L1187.00,732.01 L1188.00,732.26 L1189.00,732.19 L1190.00,731.97 L1191.00,731.96 L1192.00,732.39 L1193.00,732.80 L1194.00,732.52 L1195.00,732.22 L1196.00,731.94 L1197.00,732.09 L1198.00,731.93 L1199.00,731.81 L1200.00,731.59 L1201.00,731.70 L1202.00,731.67 L1203.00,731.83 L1204.00,731.69 L1205.00,731.87 L1206.00,731.89 L1207.00,731.93 L1208.00,731.84 L1209.00,731.95 L1210.00,732.04 L1211.00,732.34 L1212.00,732.39 L1213.00,732.24 L1214.00,732.10 L1215.00,732.15 L1216.00,732.15 L1217.00,731.98 L1218.00,731.47 L1219.00,731.80 L1220.00,731.91 L1221.00,732.49 L1222.00,732.00 L1223.00,731.61 L1224.00,731.44 L1225.00,731.55 L1226.00,731.95 L1227.00,731.78 L1228.00,732.05 L1229.00,731.97 L1230.00,732.06 L1231.00,732.01 L1232.00,731.99 L1233.00,731.96 L1234.00,732.08 L1235.00,732.14 L1236.00,732.23 L1237.00,732.12 L1238.00,732.15 L1239.00,732.19 L1240.00,732.42 L1241.00,732.58 L1242.00,732.27 L1243.00,731.61 L1244.00,731.30 L1245.00,731.15 L1246.00,731.07 L1247.00,731.04 L1248.00,731.26 L1249.00,731.72 L1250.00,731.96" stroke="#8a8a00" stroke-width="6.1"/>
<path d="M117.00,818.99 L118.50,818.47 L120.00,818.66 L121.50,819.42 L123.00,819.84 L124.50,819.59 L126.00,818.99 L127.50,818.89 L129.00,819.17 L130.50,819.02 L132.00,818.73 L133.50,819.13 L135.00,819.13 L136.50,818.66 L138.00,818.90 L139.50,819.27 L141.00,819.24 L142.50,818.92 L144.00,818.98 L145.50,819.37 L147.00,819.27 L148.50,819.19 L150.00,819.21 L151.50,819.20 L153.00,819.19 L154.50,818.91 L156.00,818.98 L157.50,819.11 L159.00,819.04 L160.50,819.11 L162.00,819.55 L163.50,819.52 L165.00,819.14 L166.50,818.90 L168.00,818.78 L169.50,818.72 L171.00,818.48 L172.50,818.64 L174.00,818.61 L175.50,818.53 L177.00,818.52 L178.50,818.47 L178.61,818.45 L178.81,818.40 L179.01,818.35 L179.21,818.27 L179.41,818.19 L179.61,818.10 L179.81,818.01 L180.00,817.91 L180.01,817.91 L180.21,817.80 L180.41,817.68 L180.61,817.56 L180.81,817.42 L181.01,817.27 L181.21,817.13 L181.41,816.97 L181.50,816.89 L181.61,816.78 L181.81,816.58 L182.01,816.35 L182.21,816.18 L182.41,815.97 L182.61,815.73 L182.81,815.45 L183.00,815.14 L183.01,815.12 L183.21,814.68 L183.41,814.19 L183.61,813.64 L183.81,813.02 L184.01,812.32 L184.21,811.54 L184.41,810.64 L184.50,810.18 L184.61,809.56 L184.81,808.17 L185.01,806.22 L185.21,803.24 L185.41,798.51 L185.61,790.93 L185.81,779.00 L186.00,762.09 L186.01,761.02 L186.21,735.43 L186.41,701.44 L186.61,659.66 L186.81,612.66 L187.01,565.12 L187.21,523.47 L187.41,494.66 L187.50,487.48 L187.61,484.25 L187.81,494.27 L188.01,522.50 L188.21,563.46 L188.41,610.42 L188.61,657.05 L188.81,698.66 L189.00,731.17 L189.01,732.68 L189.21,758.45 L189.41,776.68 L189.61,788.87 L189.81,796.66 L190.01,801.54 L190.21,804.66 L190.41,806.73 L190.50,807.45 L190.61,808.21 L190.81,809.37 L191.01,810.34 L191.21,811.29 L191.41,812.15 L191.61,812.92 L191.81,813.64 L192.00,814.25 L192.01,814.28 L192.21,814.79 L192.41,815.24 L192.61,815.65 L192.81,816.01 L193.01,816.33 L193.21,816.60 L193.41,816.83 L193.50,816.93 L193.61,817.04 L193.81,817.23 L194.01,817.39 L194.21,817.44 L194.41,817.48 L194.61,817.51 L194.81,817.52 L195.00,817.52 L195.01,817.53 L195.21,817.65 L195.41,817.77 L195.61,817.88 L195.81,817.98 L196.01,818.08 L196.21,818.10 L196.41,818.11 L196.50,818.12 L196.61,818.12 L196.81,818.13 L197.01,818.14 L197.21,818.19 L197.41,818.23 L197.61,818.27 L197.81,818.31 L198.00,818.35 L198.01,818.35 L198.21,818.37 L198.41,818.38 L198.61,818.40 L199.50,818.49 L201.00,818.60 L202.50,818.65 L204.00,818.90 L205.50,819.08 L207.00,818.85 L208.50,818.70 L210.00,818.89 L211.50,818.96 L213.00,818.69 L214.50,818.55 L216.00,818.72 L217.50,818.73 L219.00,818.77 L220.50,818.75 L222.00,818.81 L223.50,819.07 L225.00,819.01 L226.50,818.84 L228.00,818.99 L229.50,819.12 L231.00,819.02 L232.50,819.05 L234.00,818.94 L235.50,818.70 L237.00,818.99 L238.50,819.35 L240.00,819.40 L241.50,819.11 L243.00,818.98 L244.50,818.77 L246.00,818.49 L247.50,818.99 L249.00,819.04 L250.50,818.69 L252.00,818.80 L253.50,818.96 L255.00,818.85 L256.50,819.07 L258.00,819.13 L259.50,818.94 L261.00,819.16 L262.50,819.14 L264.00,819.19 L265.50,819.05 L267.00,819.21 L268.50,819.30 L270.00,819.18 L271.50,819.11 L273.00,819.11 L274.50,819.09 L276.00,818.39 L277.50,818.20 L279.00,818.63 L280.50,819.07 L282.00,819.49 L283.50,819.66 L285.00,819.64 L286.50,819.45 L288.00,819.11 L289.50,819.19 L291.00,819.18 L292.50,818.86 L294.00,818.80 L295.50,818.82 L297.00,818.97 L298.50,819.21 L300.00,819.21 L301.50,819.18 L303.00,818.81 L304.50,818.81 L306.00,819.13 L307.50,819.09 L309.00,819.04 L310.50,818.97 L312.00,818.90 L313.50,818.82 L315.00,818.87 L316.50,818.76 L318.00,818.37 L319.13,818.18 L319.33,818.10 L319.50,818.03 L319.53,818.02 L319.73,817.94 L319.93,817.86 L320.13,817.83 L320.33,817.84 L320.53,817.84 L320.73,817.85 L320.93,817.85 L321.00,817.85 L321.13,817.85 L321.33,817.85 L321.53,817.85 L321.73,817.84 L321.93,817.83 L322.13,817.84 L322.33,817.86 L322.50,817.87 L322.53,817.87 L322.73,817.87 L322.93,817.86 L323.13,817.77 L323.33,817.62 L323.53,817.45 L323.73,817.25 L323.93,817.02 L324.00,816.93 L324.13,816.78 L324.33,816.50 L324.53,816.15 L324.73,815.73 L324.93,815.22 L325.13,814.56 L325.33,813.75 L325.50,812.96 L325.53,812.81 L325.73,811.71 L325.93,810.41 L326.13,808.89 L326.33,806.93 L326.53,804.07 L326.73,799.48 L326.93,791.95 L327.00,788.36 L327.13,780.10 L327.33,763.35 L327.53,742.76 L327.73,721.75 L327.93,705.89 L328.13,700.25 L328.33,704.74 L328.50,713.66 L328.53,715.56 L328.73,729.94 L328.93,746.37 L329.13,762.71 L329.33,776.94 L329.53,788.07 L329.73,796.06 L329.93,801.46 L330.00,802.88 L330.13,805.08 L330.33,807.60 L330.53,809.48 L330.73,811.01 L330.93,812.31 L331.13,813.37 L331.33,814.25 L331.50,814.89 L331.53,814.99 L331.73,815.61 L331.93,816.13 L332.13,816.57 L332.33,816.92 L332.38,817.00 L332.53,817.21 L332.58,817.27 L332.73,817.44 L332.78,817.49 L332.93,817.63 L332.98,817.67 L333.00,817.69 L333.13,817.76 L333.18,817.78 L333.33,817.84 L333.38,817.86 L333.53,817.90 L333.58,817.92 L333.73,817.95 L333.78,817.95 L333.93,817.97 L333.98,817.98 L334.13,818.03 L334.18,818.05 L334.33,818.10 L334.38,818.12 L334.50,818.15 L334.53,818.16 L334.58,818.18 L334.73,818.22 L334.78,818.23 L334.93,818.27 L334.98,818.28 L335.13,818.29 L335.18,818.30 L335.33,818.31 L335.38,818.31 L335.53,818.31 L335.58,818.32 L335.73,818.32 L335.78,818.32 L335.93,818.32 L335.98,818.32 L336.00,818.32 L336.13,818.31 L336.18,818.31 L336.33,818.29 L336.38,818.29 L336.53,818.28 L336.58,818.27 L336.73,818.25 L336.78,818.24 L336.93,818.22 L336.98,818.21 L337.13,818.18 L337.18,818.16 L337.33,818.12 L337.38,818.10 L337.50,818.06 L337.53,818.05 L337.58,818.03 L337.73,817.97 L337.78,817.95 L337.93,817.88 L337.98,817.85 L338.13,817.81 L338.18,817.80 L338.33,817.75 L338.38,817.73 L338.53,817.67 L338.58,817.64 L338.73,817.57 L338.78,817.54 L338.93,817.44 L338.98,817.40 L339.00,817.39 L339.13,817.27 L339.18,817.23 L339.38,817.01 L339.58,816.71 L339.78,816.27 L339.98,815.57 L340.18,814.43 L340.38,812.64 L340.50,811.19 L340.58,810.08 L340.78,806.93 L340.98,803.73 L341.18,801.32 L341.38,800.49 L341.58,801.21 L341.78,802.86 L341.98,804.99 L342.00,805.22 L342.18,807.41 L342.38,809.89 L342.58,812.12 L342.78,813.92 L342.98,815.24 L343.18,816.09 L343.38,816.63 L343.50,816.85 L343.58,816.98 L343.78,817.21 L343.98,817.39 L344.18,817.54 L344.38,817.66 L344.58,817.77 L344.78,817.84 L344.98,817.91 L345.00,817.91 L345.18,818.02 L345.38,818.13 L345.58,818.23 L345.78,818.31 L345.98,818.39 L346.18,818.42 L346.38,818.45 L346.50,818.46 L346.58,818.46 L346.78,818.48 L346.98,818.49 L347.18,818.64 L347.38,818.80 L347.58,818.97 L347.78,819.13 L347.98,819.29 L348.00,819.31 L348.18,819.30 L348.38,819.30 L348.58,819.30 L348.78,819.30 L348.98,819.29 L349.18,819.30 L349.38,819.31 L349.50,819.31 L349.58,819.31 L349.78,819.32 L349.98,819.33 L350.18,819.20 L350.38,819.06 L350.58,818.92 L350.78,818.77 L350.98,818.63 L351.00,818.62 L351.18,818.59 L351.38,818.57 L351.58,818.54 L351.78,818.52 L351.98,818.49 L352.18,818.52 L352.38,818.55 L352.50,818.57 L354.00,818.76 L355.50,818.96 L357.00,819.17 L358.50,819.11 L360.00,818.87 L361.50,818.48 L363.00,818.38 L364.50,818.80 L366.00,818.83 L367.50,818.78 L369.00,818.68 L370.50,818.40 L372.00,818.57 L373.50,818.44 L375.00,818.42 L376.50,818.77 L378.00,818.93 L379.50,818.93 L381.00,818.78 L381.11,818.77 L381.31,818.75 L381.51,818.72 L381.71,818.70 L381.91,818.67 L382.11,818.64 L382.31,818.60 L382.50,818.56 L382.51,818.56 L382.71,818.52 L382.91,818.48 L383.11,818.45 L383.31,818.43 L383.51,818.41 L383.71,818.39 L383.91,818.36 L384.00,818.35 L384.11,818.32 L384.31,818.26 L384.51,818.20 L384.71,818.13 L384.91,818.05 L385.11,817.94 L385.31,817.79 L385.50,817.63 L385.51,817.63 L385.71,817.44 L385.91,817.22 L386.11,816.95 L386.31,816.64 L386.51,816.27 L386.71,815.83 L386.91,815.30 L387.00,815.03 L387.11,814.72 L387.31,814.05 L387.51,813.26 L387.71,812.31 L387.91,811.17 L388.11,809.76 L388.31,807.89 L388.50,805.34 L388.51,805.18 L388.71,800.86 L388.91,793.76 L389.11,782.66 L389.31,766.90 L389.51,747.48 L389.71,727.65 L389.91,712.77 L390.00,709.14 L390.11,707.67 L390.31,712.05 L390.51,721.32 L390.71,731.87 L390.91,743.07 L391.11,755.52 L391.31,768.52 L391.50,779.95 L391.51,780.51 L391.71,790.37 L391.91,797.72 L392.11,802.78 L392.31,806.15 L392.51,808.47 L392.71,810.18 L392.91,811.54 L393.00,812.08 L393.11,812.67 L393.31,813.61 L393.51,814.42 L393.71,815.09 L393.91,815.66 L394.11,816.13 L394.31,816.52 L394.50,816.82 L394.51,816.84 L394.71,817.09 L394.91,817.30 L395.11,817.50 L395.31,817.70 L395.51,817.87 L395.71,818.02 L395.91,818.15 L396.00,818.21 L396.11,818.21 L396.31,818.21 L396.51,818.20 L396.71,818.18 L396.91,818.16 L397.11,818.16 L397.31,818.19 L397.50,818.20 L397.51,818.21 L397.71,818.22 L397.91,818.23 L398.11,818.21 L398.31,818.16 L398.51,818.11 L398.71,818.06 L398.91,818.01 L399.00,817.98 L399.11,818.03 L399.31,818.12 L399.51,818.21 L399.71,818.30 L399.91,818.39 L400.11,818.44 L400.31,818.46 L400.50,818.48 L400.51,818.48 L400.71,818.51 L400.91,818.53 L401.11,818.56 L402.00,818.73 L403.50,819.05 L405.00,819.24 L406.50,818.85 L408.00,818.51 L409.50,818.77 L411.00,818.83 L412.50,819.08 L414.00,819.27 L414.69,819.01 L414.89,818.93 L415.09,818.86 L415.29,818.81 L415.49,818.77 L415.50,818.76 L415.69,818.72 L415.89,818.67 L416.09,818.64 L416.29,818.65 L416.49,818.66 L416.69,818.67 L416.89,818.67 L417.00,818.68 L417.09,818.69 L417.29,818.72 L417.49,818.76 L417.69,818.79 L417.89,818.82 L418.09,818.84 L418.29,818.84 L418.49,818.84 L418.50,818.83 L418.69,818.83 L418.89,818.83 L419.09,818.80 L419.29,818.76 L419.49,818.71 L419.69,818.65 L419.89,818.59 L420.00,818.56 L420.09,818.54 L420.29,818.51 L420.49,818.47 L420.69,818.41 L420.89,818.34 L421.09,818.25 L421.29,818.13 L421.49,817.99 L421.50,817.98 L421.69,817.81 L421.89,817.58 L422.09,817.24 L422.29,816.71 L422.49,815.79 L422.69,814.33 L422.89,812.21 L423.00,810.80 L423.09,809.56 L423.29,806.80 L423.49,804.71 L423.69,803.98 L423.89,804.63 L424.09,805.95 L424.29,807.30 L424.49,808.54 L424.50,808.60 L424.69,809.86 L424.89,811.41 L425.09,813.03 L425.29,814.50 L425.49,815.68 L425.69,816.54 L425.89,817.11 L426.00,817.34 L426.09,817.45 L426.29,817.64 L426.49,817.76 L426.69,817.83 L426.89,817.88 L427.09,817.94 L427.29,818.00 L427.49,818.05 L427.50,818.05 L427.69,818.08 L427.89,818.10 L428.09,818.15 L428.29,818.23 L428.49,818.31 L428.69,818.38 L428.89,818.45 L429.00,818.48 L429.09,818.51 L429.29,818.57 L429.49,818.63 L429.69,818.69 L429.89,818.75 L430.09,818.81 L430.29,818.88 L430.49,818.94 L430.50,818.95 L430.69,819.01 L430.89,819.08 L431.09,819.10 L431.29,819.08 L431.49,819.06 L431.69,819.04 L431.89,819.02 L432.00,819.00 L432.09,818.99 L432.29,818.96 L432.49,818.92 L432.69,818.89 L432.89,818.86 L433.09,818.82 L433.29,818.79 L433.49,818.76 L433.50,818.76 L433.69,818.73 L433.89,818.69 L434.09,818.66 L434.29,818.63 L434.49,818.60 L434.69,818.57 L435.00,818.52 L436.50,818.54 L438.00,818.84 L439.50,818.82 L441.00,818.68 L442.50,819.10 L444.00,819.32 L445.50,818.85 L447.00,818.76 L448.50,818.98 L450.00,819.22 L451.50,818.95 L453.00,818.48 L454.50,818.88 L456.00,818.85 L457.50,818.86 L459.00,818.76 L460.50,818.69 L462.00,819.28 L463.50,819.24 L465.00,818.77 L466.50,818.99 L468.00,819.39 L469.50,818.92 L471.00,818.32 L472.50,818.85 L474.00,818.88 L475.50,818.59 L477.00,819.07 L478.50,819.08 L480.00,818.79 L481.50,818.40 L483.00,818.50 L484.50,819.03 L486.00,818.75 L487.50,818.45 L489.00,818.95 L490.50,818.91 L492.00,818.37 L493.50,818.39 L495.00,818.57 L495.29,818.69 L495.49,818.77 L495.69,818.85 L495.89,818.94 L496.09,818.98 L496.29,818.97 L496.49,818.96 L496.50,818.96 L496.69,818.95 L496.89,818.94 L497.09,818.90 L497.29,818.83 L497.49,818.76 L497.69,818.69 L497.89,818.62 L498.00,818.57 L498.09,818.55 L498.29,818.51 L498.49,818.45 L498.69,818.40 L498.89,818.34 L499.09,818.29 L499.29,818.25 L499.49,818.20 L499.50,818.20 L499.69,818.15 L499.89,818.08 L500.09,818.03 L500.29,817.99 L500.49,817.94 L500.69,817.87 L500.89,817.77 L501.00,817.72 L501.09,817.62 L501.29,817.39 L501.49,817.13 L501.69,816.84 L501.89,816.50 L502.09,816.13 L502.29,815.69 L502.49,815.05 L502.50,815.01 L502.69,814.06 L502.89,812.54 L503.09,810.28 L503.29,807.14 L503.49,803.21 L503.69,798.83 L503.89,794.71 L504.00,792.88 L504.09,791.76 L504.29,790.75 L504.49,791.65 L504.69,793.67 L504.89,795.93 L505.09,797.91 L505.29,799.59 L505.49,801.34 L505.50,801.44 L505.69,803.44 L505.89,805.84 L506.09,808.28 L506.29,810.52 L506.49,812.38 L506.69,813.82 L506.89,814.86 L507.00,815.30 L507.09,815.58 L507.29,816.07 L507.49,816.43 L507.69,816.70 L507.89,816.93 L508.09,817.12 L508.29,817.31 L508.49,817.46 L508.50,817.47 L508.69,817.59 L508.89,817.70 L509.09,817.79 L509.29,817.87 L509.49,817.93 L509.69,817.98 L509.89,818.02 L510.00,818.04 L510.09,818.07 L510.29,818.13 L510.49,818.18 L510.69,818.23 L510.89,818.28 L511.09,818.30 L511.29,818.30 L511.49,818.30 L511.50,818.30 L511.69,818.30 L511.89,818.29 L512.09,818.28 L512.29,818.27 L512.49,818.27 L512.69,818.26 L512.89,818.25 L513.00,818.24 L513.09,818.27 L513.29,818.33 L513.49,818.39 L513.69,818.45 L513.89,818.50 L514.09,818.58 L514.29,818.67 L514.49,818.77 L514.50,818.77 L514.69,818.86 L514.89,818.96 L515.09,819.05 L515.29,819.14 L516.00,819.47 L517.50,819.46 L519.00,819.47 L520.50,819.30 L522.00,818.90 L523.50,818.91 L525.00,819.00 L526.50,818.86 L528.00,818.72 L529.50,819.16 L531.00,819.01 L532.50,818.69 L534.00,818.85 L535.50,818.83 L537.00,818.98 L538.50,818.91 L540.00,819.16 L541.37,819.01 L541.50,818.99 L541.57,818.97 L541.77,818.94 L541.97,818.91 L542.17,818.79 L542.37,818.67 L542.57,818.54 L542.77,818.41 L542.97,818.28 L543.00,818.26 L543.17,818.25 L543.37,818.24 L543.57,818.22 L543.77,818.20 L543.97,818.18 L544.17,818.16 L544.37,818.15 L544.50,818.14 L544.57,818.13 L544.77,818.10 L544.97,818.08 L545.17,818.07 L545.37,818.06 L545.57,818.04 L545.77,818.00 L545.97,817.96 L546.00,817.95 L546.17,817.87 L546.37,817.75 L546.57,817.61 L546.77,817.44 L546.97,817.24 L547.17,816.97 L547.37,816.66 L547.50,816.43 L547.57,816.30 L547.77,815.88 L547.97,815.39 L548.17,814.80 L548.37,814.03 L548.57,812.94 L548.77,811.28 L548.97,808.75 L549.00,808.27 L549.17,804.95 L549.37,799.69 L549.57,793.05 L549.77,785.61 L549.97,778.53 L550.17,773.43 L550.37,771.67 L550.50,772.44 L550.57,773.35 L550.77,777.12 L550.97,781.25 L551.17,784.58 L551.37,786.87 L551.57,788.61 L551.77,790.68 L551.97,793.63 L552.00,794.15 L552.17,797.36 L552.37,801.30 L552.57,804.95 L552.77,808.00 L552.97,810.34 L553.17,812.04 L553.37,813.24 L553.50,813.83 L553.57,814.10 L553.77,814.75 L553.97,815.28 L554.17,815.72 L554.37,816.11 L554.57,816.44 L554.77,816.73 L554.97,816.98 L555.00,817.02 L555.17,817.19 L555.37,817.37 L555.57,817.52 L555.77,817.64 L555.97,817.75 L556.17,817.83 L556.37,817.89 L556.50,817.92 L556.57,817.93 L556.77,817.97 L556.97,818.00 L557.17,818.09 L557.37,818.19 L557.57,818.29 L557.77,818.38 L557.97,818.47 L558.00,818.48 L558.17,818.52 L558.37,818.57 L558.57,818.62 L558.77,818.67 L558.97,818.72 L559.17,818.76 L559.37,818.80 L559.50,818.83 L559.57,818.84 L559.77,818.88 L559.97,818.92 L560.17,818.91 L560.37,818.89 L560.57,818.86 L560.77,818.84 L560.97,818.82 L561.00,818.81 L561.17,818.78 L561.37,818.73 L562.50,818.65 L564.00,818.43 L565.50,818.58 L567.00,818.77 L567.95,818.88 L568.15,818.86 L568.35,818.83 L568.50,818.81 L568.55,818.80 L568.75,818.77 L568.95,818.74 L569.15,818.74 L569.35,818.75 L569.55,818.76 L569.75,818.77 L569.95,818.78 L570.00,818.79 L570.15,818.78 L570.35,818.77 L570.55,818.76 L570.75,818.74 L570.95,818.73 L571.15,818.75 L571.35,818.78 L571.50,818.80 L571.55,818.81 L571.75,818.83 L571.95,818.86 L572.15,818.84 L572.35,818.81 L572.55,818.78 L572.75,818.73 L572.95,818.69 L573.00,818.67 L573.15,818.66 L573.35,818.63 L573.55,818.60 L573.75,818.55 L573.95,818.48 L574.15,818.38 L574.35,818.26 L574.50,818.15 L574.55,818.10 L574.75,817.92 L574.95,817.66 L575.15,817.31 L575.35,816.77 L575.55,815.94 L575.75,814.67 L575.95,812.89 L576.00,812.36 L576.15,810.54 L576.35,807.85 L576.55,805.26 L576.75,803.31 L576.95,802.53 L577.15,803.07 L577.35,804.44 L577.50,805.62 L577.55,805.99 L577.75,807.25 L577.95,808.05 L578.15,808.48 L578.35,808.88 L578.55,809.57 L578.75,810.63 L578.95,811.92 L579.00,812.25 L579.15,813.32 L579.35,814.61 L579.55,815.66 L579.75,816.47 L579.95,817.07 L580.15,817.47 L580.35,817.74 L580.50,817.91 L580.55,817.96 L580.75,818.14 L580.95,818.29 L581.15,818.41 L581.35,818.51 L581.55,818.60 L581.75,818.67 L581.95,818.73 L582.00,818.74 L582.15,818.76 L582.35,818.77 L582.55,818.78 L582.75,818.77 L582.95,818.77 L583.15,818.80 L583.35,818.84 L583.50,818.88 L583.55,818.89 L583.75,818.92 L583.95,818.96 L584.15,818.98 L584.35,819.00 L584.55,819.01 L584.75,819.03 L584.95,819.04 L585.00,819.05 L585.15,819.03 L585.35,819.02 L585.55,819.00 L585.75,818.99 L585.95,818.97 L586.15,819.00 L586.35,819.05 L586.50,819.09 L586.55,819.10 L586.75,819.15 L586.95,819.19 L587.15,819.22 L587.35,819.25 L587.55,819.27 L587.75,819.29 L587.95,819.31 L588.00,819.32 L589.50,819.42 L591.00,819.47 L592.50,818.92 L594.00,818.64 L595.50,818.95 L597.00,818.62 L598.50,818.65 L600.00,818.94 L601.50,818.82 L603.00,818.98 L604.50,818.75 L606.00,818.54 L607.50,818.55 L609.00,818.84 L610.50,819.32 L612.00,819.42 L613.50,819.26 L615.00,818.79 L616.50,818.90 L618.00,819.23 L619.50,819.01 L621.00,818.77 L622.50,818.53 L624.00,818.62 L625.50,818.89 L627.00,818.93 L628.50,819.00 L630.00,819.03 L631.50,819.08 L633.00,819.06 L634.50,819.13 L636.00,819.24 L636.63,819.01 L636.83,818.94 L637.03,818.87 L637.23,818.84 L637.43,818.82 L637.50,818.81 L637.63,818.79 L637.83,818.77 L638.03,818.74 L638.23,818.73 L638.43,818.71 L638.63,818.70 L638.83,818.68 L639.00,818.67 L639.03,818.68 L639.23,818.79 L639.43,818.89 L639.63,818.99 L639.83,819.09 L640.03,819.18 L640.23,819.16 L640.43,819.15 L640.50,819.15 L640.63,819.14 L640.83,819.12 L641.03,819.10 L641.23,819.05 L641.43,819.00 L641.63,818.95 L641.83,818.90 L642.00,818.85 L642.03,818.83 L642.23,818.72 L642.43,818.61 L642.63,818.50 L642.83,818.38 L643.03,818.28 L643.23,818.27 L643.43,818.26 L643.50,818.25 L643.63,818.23 L643.83,818.19 L644.03,818.11 L644.23,817.98 L644.43,817.78 L644.63,817.46 L644.83,817.05 L645.00,816.65 L645.03,816.57 L645.23,816.12 L645.43,815.79 L645.63,815.70 L645.83,815.88 L646.03,816.25 L646.23,816.63 L646.43,816.95 L646.50,817.04 L646.63,817.16 L646.83,817.24 L647.03,817.23 L647.23,817.23 L647.43,817.29 L647.63,817.45 L647.83,817.70 L648.00,817.93 L648.03,817.96 L648.23,818.18 L648.43,818.35 L648.63,818.48 L648.83,818.55 L649.03,818.60 L649.23,818.63 L649.43,818.65 L649.50,818.65 L649.63,818.66 L649.83,818.65 L650.03,818.64 L650.23,818.60 L650.43,818.55 L650.63,818.50 L650.83,818.43 L651.00,818.37 L651.03,818.37 L651.23,818.33 L651.43,818.26 L651.63,818.16 L651.83,818.00 L652.03,817.74 L652.23,817.33 L652.43,816.75 L652.50,816.51 L652.63,815.99 L652.83,815.12 L653.03,814.27 L653.23,813.66 L653.43,813.47 L653.63,813.75 L653.83,814.36 L654.00,814.98 L654.03,815.07 L654.23,815.63 L654.43,815.98 L654.63,816.11 L654.83,816.07 L655.03,816.01 L655.23,816.05 L655.43,816.27 L655.50,816.38 L655.63,816.64 L655.83,817.09 L656.03,817.51 L656.23,817.81 L656.43,818.04 L656.63,818.18 L656.83,818.25 L657.00,818.28 L657.03,818.29 L657.23,818.34 L657.43,818.37 L657.63,818.39 L657.83,818.41 L658.03,818.42 L658.23,818.47 L658.43,818.51 L658.50,818.52 L658.63,818.55 L658.83,818.58 L659.03,818.62 L659.23,818.68 L659.43,818.74 L659.63,818.80 L659.83,818.85 L660.00,818.90 L660.03,818.91 L660.23,818.99 L660.43,819.07 L660.63,819.15 L660.83,819.23 L661.03,819.29 L661.23,819.27 L661.43,819.24 L661.50,819.23 L661.63,819.21 L661.83,819.18 L662.03,819.16 L662.23,819.17 L662.43,819.19 L662.63,819.20 L662.83,819.21 L663.00,819.22 L663.03,819.21 L663.23,819.16 L663.43,819.11 L663.63,819.06 L663.83,819.00 L664.03,818.95 L664.23,818.91 L664.43,818.87 L664.50,818.85 L666.00,818.46" stroke="#00008a" stroke-width="6.1"/>
<path d="M702.00,819.64 L703.00,819.61 L704.00,819.68 L705.00,819.41 L706.00,819.29 L707.00,819.37 L708.00,819.73 L709.00,820.05 L710.00,819.77 L711.00,819.52 L712.00,819.27 L713.00,819.25 L714.00,819.33 L715.00,819.41 L716.00,819.74 L717.00,819.48 L718.00,819.48 L719.00,819.11 L720.00,819.16 L721.00,819.54 L722.00,819.98 L723.00,820.25 L724.00,820.05 L725.00,819.90 L726.00,819.85 L727.00,819.29 L728.00,818.84 L729.00,818.93 L730.00,819.02 L731.00,819.60 L732.00,819.64 L733.00,820.10 L734.00,819.94 L735.00,819.93 L736.00,819.79 L737.00,820.02 L738.00,819.88 L739.00,819.83 L740.00,819.84 L741.00,819.91 L742.00,820.11 L743.00,820.01 L744.00,820.34 L745.00,820.29 L746.00,820.12 L747.00,819.56 L748.00,819.57 L749.00,819.82 L750.00,819.93 L751.00,819.78 L752.00,819.26 L753.00,819.18 L754.00,819.12 L755.00,819.39 L756.00,819.64 L757.00,819.54 L758.00,819.61 L759.00,819.77 L760.00,820.23 L761.00,820.04 L762.00,819.97 L763.00,819.76 L764.00,819.71 L765.00,819.36 L766.00,819.21 L767.00,819.33 L768.00,819.66 L769.00,819.61 L770.00,819.35 L771.00,819.44 L772.00,819.58 L773.00,820.25 L774.00,820.13 L775.00,820.06 L776.00,819.86 L777.00,819.96 L778.00,819.92 L779.00,819.73 L780.00,819.79 L781.00,819.82 L782.00,819.93 L783.00,819.77 L784.00,820.33 L785.00,820.47 L786.00,820.36 L787.00,819.82 L788.00,819.56 L789.00,819.64 L790.00,819.87 L791.00,819.85 L792.00,819.69 L793.00,819.90 L794.00,819.91 L795.00,819.94 L796.00,819.78 L797.00,819.86 L798.00,819.98 L799.00,820.14 L800.00,819.96 L801.00,820.00 L802.00,819.98 L803.00,820.07 L804.00,820.05 L805.00,820.00 L806.00,820.15 L807.00,820.14 L808.00,819.84 L809.00,819.61 L810.00,819.62 L811.00,819.77 L812.00,819.86 L813.00,819.78 L814.00,819.55 L815.00,819.70 L816.00,819.62 L817.00,820.14 L818.00,820.49 L819.00,820.79 L820.00,820.61 L821.00,820.07 L822.00,819.79 L823.00,819.65 L824.00,819.91 L825.00,820.08 L826.00,819.88 L827.00,819.85 L828.00,819.77 L829.00,820.16 L830.00,820.03 L831.00,819.99 L832.00,819.79 L833.00,819.90 L834.00,819.94 L835.00,820.22 L836.00,819.98 L837.00,820.30 L838.00,819.88 L839.00,819.83 L840.00,819.70 L841.00,820.15 L842.00,820.28 L843.00,820.31 L844.00,819.92 L845.00,819.81 L846.00,819.69 L847.00,820.18 L848.00,820.29 L849.00,820.03 L850.00,819.30 L851.00,819.33 L852.00,819.68 L853.00,820.01 L854.00,820.05 L855.00,819.83 L856.00,820.09 L857.00,820.14 L858.00,820.04 L859.00,819.74 L860.00,819.86 L861.00,820.07 L862.00,819.79 L863.00,819.54 L864.00,819.46 L865.00,819.40 L866.00,819.54 L867.00,819.84 L868.00,820.18 L869.00,819.96 L870.00,819.71 L871.00,819.72 L872.00,819.84 L873.00,819.96 L874.00,819.78 L875.00,819.74 L876.00,819.96 L877.00,820.19 L878.00,820.26 L879.00,820.01 L880.00,819.90 L881.00,819.66 L882.00,819.97 L883.00,820.10 L884.00,820.16 L885.00,819.94 L886.00,819.87 L887.00,819.88 L888.00,819.66 L889.00,819.51 L890.00,819.49 L891.00,819.72 L892.00,819.95 L893.00,820.07 L894.00,820.14 L895.00,820.23 L896.00,820.21 L897.00,819.77 L898.00,819.56 L899.00,819.82 L900.00,819.89 L901.00,820.29 L902.00,820.01 L903.00,819.90 L904.00,819.42 L905.00,819.62 L906.00,819.67 L907.00,819.74 L908.00,819.54 L909.00,819.46 L910.00,819.45 L911.00,819.46 L912.00,819.57 L913.00,819.00 L914.00,818.70 L915.00,818.57 L916.00,818.87 L917.00,818.99 L918.00,818.78 L919.00,818.51 L920.00,817.75 L921.00,817.38 L922.00,817.41 L923.00,817.41 L924.00,817.42 L925.00,816.83 L926.00,816.82 L927.00,816.52 L928.00,816.72 L929.00,816.62 L930.00,816.73 L931.00,816.27 L932.00,816.12 L933.00,816.07 L934.00,815.67 L935.00,815.48 L936.00,815.21 L937.00,815.73 L938.00,815.81 L939.00,815.81 L940.00,815.61 L941.00,815.53 L942.00,815.28 L943.00,815.09 L944.00,814.66 L945.00,814.53 L946.00,814.39 L947.00,814.70 L948.00,814.43 L949.00,814.38 L950.00,813.95 L951.00,814.00 L952.00,813.98 L953.00,813.87 L954.00,813.56 L955.00,813.24 L956.00,813.24 L957.00,813.26 L958.00,813.18 L959.00,812.61 L960.00,812.51 L961.00,812.12 L962.00,811.93 L963.00,811.62 L964.00,811.24 L965.00,811.24 L966.00,811.18 L967.00,811.04 L968.00,810.55 L969.00,810.15 L970.00,809.98 L971.00,809.87 L972.00,808.95 L973.00,808.24 L974.00,807.89 L975.00,807.51 L976.00,806.75 L977.00,805.27 L978.00,803.98 L979.00,802.45 L980.00,800.46 L981.00,799.11 L982.00,797.68 L983.00,796.99 L984.00,795.84 L985.00,794.59 L986.00,793.22 L987.00,792.04 L988.00,791.27 L989.00,790.19 L990.00,788.64 L991.00,787.25 L992.00,785.76 L993.00,784.92 L994.00,783.77 L995.00,783.01 L996.00,781.20 L997.00,779.83 L998.00,778.30 L999.00,777.44 L1000.00,776.20 L1001.00,775.34 L1002.00,774.39 L1003.00,774.22 L1004.00,773.51 L1005.00,773.01 L1006.00,772.09 L1007.00,771.83 L1008.00,771.66 L1009.00,771.48 L1010.00,771.03 L1011.00,771.47 L1012.00,772.33 L1013.00,773.82 L1014.00,774.77 L1015.00,775.89 L1016.00,776.54 L1017.00,777.56 L1018.00,778.32 L1019.00,779.51 L1020.00,780.30 L1021.00,781.32 L1022.00,782.02 L1023.00,782.93 L1024.00,783.67 L1025.00,784.50 L1026.00,785.58 L1027.00,786.75 L1028.00,788.34 L1029.00,789.65 L1030.00,791.34 L1031.00,792.84 L1032.00,794.26 L1033.00,795.20 L1034.00,796.17 L1035.00,797.45 L1036.00,798.67 L1037.00,799.92 L1038.00,800.70 L1039.00,801.70 L1040.00,802.63 L1041.00,803.71 L1042.00,804.64 L1043.00,805.40 L1044.00,806.23 L1045.00,806.97 L1046.00,807.88 L1047.00,808.44 L1048.00,809.68 L1049.00,810.26 L1050.00,810.89 L1051.00,810.81 L1052.00,811.28 L1053.00,812.13 L1054.00,812.94 L1055.00,813.87 L1056.00,814.32 L1057.00,814.75 L1058.00,814.98 L1059.00,815.35 L1060.00,815.83 L1061.00,815.99 L1062.00,816.34 L1063.00,816.34 L1064.00,816.81 L1065.00,817.06 L1066.00,817.58 L1067.00,817.65 L1068.00,817.87 L1069.00,818.11 L1070.00,818.14 L1071.00,818.46 L1072.00,818.55 L1073.00,819.03 L1074.00,819.21 L1075.00,819.12 L1076.00,818.95 L1077.00,818.62 L1078.00,818.89 L1079.00,818.95 L1080.00,819.03 L1081.00,819.36 L1082.00,819.54 L1083.00,819.80 L1084.00,819.73 L1085.00,820.05 L1086.00,819.80 L1087.00,819.75 L1088.00,819.67 L1089.00,820.13 L1090.00,819.99 L1091.00,819.83 L1092.00,819.71 L1093.00,819.85 L1094.00,819.90 L1095.00,819.79 L1096.00,819.78 L1097.00,819.80 L1098.00,819.96 L1099.00,819.89 L1100.00,819.78 L1101.00,819.67 L1102.00,819.75 L1103.00,820.09 L1104.00,820.11 L1105.00,819.81 L1106.00,820.00 L1107.00,820.27 L1108.00,820.71 L1109.00,820.44 L1110.00,820.26 L1111.00,820.46 L1112.00,820.19 L1113.00,820.31 L1114.00,820.16 L1115.00,820.75 L1116.00,820.62 L1117.00,820.75 L1118.00,820.44 L1119.00,820.30 L1120.00,819.88 L1121.00,820.01 L1122.00,819.99 L1123.00,820.13 L1124.00,820.21 L1125.00,820.26 L1126.00,820.40 L1127.00,820.45 L1128.00,820.87 L1129.00,820.91 L1130.00,820.48 L1131.00,820.53 L1132.00,820.49 L1133.00,820.62 L1134.00,820.15 L1135.00,819.72 L1136.00,819.78 L1137.00,819.89 L1138.00,819.97 L1139.00,820.06 L1140.00,820.18 L1141.00,820.36 L1142.00,820.15 L1143.00,820.21 L1144.00,820.40 L1145.00,820.32 L1146.00,820.39 L1147.00,820.28 L1148.00,820.26 L1149.00,820.10 L1150.00,820.14 L1151.00,820.50 L1152.00,820.63 L1153.00,820.27 L1154.00,819.88 L1155.00,819.90 L1156.00,820.32 L1157.00,820.37 L1158.00,820.16 L1159.00,820.38 L1160.00,820.15 L1161.00,820.44 L1162.00,820.36 L1163.00,820.65 L1164.00,820.41 L1165.00,820.30 L1166.00,820.41 L1167.00,820.53 L1168.00,820.67 L1169.00,820.55 L1170.00,820.49 L1171.00,820.37 L1172.00,820.41 L1173.00,820.40 L1174.00,820.57 L1175.00,820.31 L1176.00,820.37 L1177.00,820.05 L1178.00,820.20 L1179.00,820.11 L1180.00,820.27 L1181.00,820.59 L1182.00,820.50 L1183.00,820.55 L1184.00,820.66 L1185.00,820.81 L1186.00,820.83 L1187.00,820.67 L1188.00,820.75 L1189.00,820.48 L1190.00,820.61 L1191.00,820.58 L1192.00,821.03 L1193.00,820.97 L1194.00,820.75 L1195.00,820.65 L1196.00,820.74 L1197.00,821.06 L1198.00,820.82 L1199.00,820.54 L1200.00,820.59 L1201.00,820.51 L1202.00,820.72 L1203.00,820.53 L1204.00,820.55 L1205.00,820.35 L1206.00,820.24 L1207.00,820.43 L1208.00,820.39 L1209.00,820.46 L1210.00,820.34 L1211.00,820.51 L1212.00,820.69 L1213.00,820.49 L1214.00,820.50 L1215.00,820.22 L1216.00,820.43 L1217.00,820.34 L1218.00,820.71 L1219.00,820.99 L1220.00,820.97 L1221.00,820.68 L1222.00,820.67 L1223.00,820.79 L1224.00,821.14 L1225.00,820.79 L1226.00,820.89 L1227.00,820.51 L1228.00,820.15 L1229.00,820.09 L1230.00,820.02 L1231.00,820.61 L1232.00,820.44 L1233.00,820.79 L1234.00,820.46 L1235.00,820.25 L1236.00,820.29 L1237.00,820.69 L1238.00,820.96 L1239.00,820.45 L1240.00,820.42 L1241.00,820.80 L1242.00,821.00 L1243.00,820.80 L1244.00,820.26 L1245.00,820.40 L1246.00,820.45 L1247.00,820.33 L1248.00,820.14 L1249.00,820.31 L1250.00,820.37" stroke="#00008a" stroke-width="6.1"/>
<path d="M117.00,907.38 L118.50,907.29 L120.00,907.54 L121.50,907.86 L123.00,908.05 L124.50,907.96 L126.00,908.07 L127.50,908.02 L129.00,908.07 L130.50,907.95 L132.00,907.80 L133.50,907.73 L135.00,907.74 L136.50,907.76 L138.00,907.87 L139.50,907.81 L141.00,907.71 L142.50,907.87 L144.00,907.85 L145.50,907.73 L147.00,907.72 L148.50,907.84 L150.00,907.59 L151.50,907.41 L153.00,907.48 L154.50,907.87 L156.00,907.99 L157.50,907.52 L159.00,907.64 L160.50,907.66 L162.00,907.62 L163.50,907.85 L165.00,907.80 L166.50,907.76 L168.00,907.81 L169.50,907.85 L171.00,907.68 L172.50,907.65 L174.00,907.65 L175.50,907.74 L177.00,907.73 L178.50,907.06 L179.11,906.72 L179.31,906.71 L179.51,906.69 L179.71,906.67 L179.91,906.65 L180.00,906.64 L180.11,906.65 L180.31,906.65 L180.51,906.65 L180.71,906.65 L180.91,906.64 L181.11,906.58 L181.31,906.48 L181.50,906.37 L181.51,906.36 L181.71,906.24 L181.91,906.11 L182.11,905.95 L182.31,905.77 L182.51,905.57 L182.71,905.35 L182.91,905.10 L183.00,904.98 L183.11,904.87 L183.31,904.63 L183.51,904.35 L183.71,904.02 L183.91,903.63 L184.11,903.18 L184.31,902.66 L184.50,902.10 L184.51,902.07 L184.71,901.39 L184.91,900.61 L185.11,899.74 L185.31,898.74 L185.51,897.49 L185.71,895.76 L185.91,893.10 L186.00,891.40 L186.11,888.62 L186.31,880.88 L186.51,867.81 L186.71,846.86 L186.91,815.73 L187.11,773.41 L187.31,721.57 L187.50,668.21 L187.51,665.42 L187.71,613.55 L187.91,576.40 L188.11,562.85 L188.31,576.11 L188.51,612.49 L188.71,663.43 L188.91,718.86 L189.00,742.89 L189.11,770.28 L189.31,812.55 L189.51,843.94 L189.71,865.31 L189.91,878.82 L190.11,887.00 L190.31,891.90 L190.50,894.80 L190.51,894.92 L190.71,896.94 L190.91,898.45 L191.11,899.63 L191.31,900.60 L191.51,901.44 L191.71,902.19 L191.91,902.85 L192.00,903.12 L192.11,903.43 L192.31,903.94 L192.51,904.38 L192.71,904.77 L192.91,905.10 L193.11,905.40 L193.31,905.68 L193.50,905.91 L193.51,905.92 L193.71,906.13 L193.91,906.32 L194.11,906.49 L194.31,906.65 L194.51,906.80 L194.71,906.94 L194.91,907.06 L195.00,907.11 L195.11,907.15 L195.31,907.23 L195.51,907.29 L195.71,907.35 L195.91,907.41 L196.11,907.42 L196.31,907.40 L196.50,907.38 L196.51,907.38 L196.71,907.35 L196.91,907.32 L197.11,907.32 L197.31,907.33 L197.51,907.34 L197.71,907.35 L197.91,907.35 L198.00,907.36 L198.11,907.38 L198.31,907.43 L198.51,907.47 L198.71,907.51 L198.91,907.55 L199.11,907.63 L199.50,907.82 L201.00,907.96 L202.50,908.02 L204.00,908.04 L205.50,907.79 L207.00,907.73 L208.50,907.87 L210.00,907.71 L211.50,907.66 L213.00,907.69 L214.50,907.85 L216.00,908.04 L217.50,907.62 L219.00,907.41 L220.50,907.65 L222.00,907.84 L223.50,907.88 L225.00,908.06 L226.50,907.93 L228.00,907.80 L229.50,908.01 L231.00,907.92 L232.50,907.72 L234.00,907.82 L235.50,907.62 L237.00,907.39 L238.50,907.60 L240.00,907.62 L241.50,907.57 L243.00,907.42 L244.50,907.45 L246.00,907.68 L247.50,907.53 L249.00,907.51 L250.50,907.96 L252.00,908.27 L253.50,908.22 L255.00,908.27 L256.50,907.86 L258.00,907.41 L259.50,907.79 L261.00,908.22 L262.50,908.07 L264.00,907.75 L265.50,907.46 L267.00,907.34 L268.50,907.51 L270.00,907.46 L271.50,907.50 L273.00,907.67 L274.50,907.68 L276.00,907.44 L277.50,907.62 L279.00,907.95 L280.50,907.78 L282.00,907.90 L283.50,908.10 L285.00,908.33 L286.50,908.46 L288.00,908.14 L289.50,907.69 L291.00,907.57 L292.50,907.82 L294.00,907.65 L295.50,907.78 L297.00,908.11 L298.50,907.88 L300.00,907.66 L301.50,907.37 L303.00,907.58 L304.50,908.06 L306.00,908.18 L307.50,908.05 L309.00,907.32 L310.50,907.18 L312.00,907.44 L313.50,907.43 L315.00,907.74 L316.50,907.89 L318.00,907.69 L319.50,908.03 L319.86,908.04 L320.06,908.03 L320.26,907.98 L320.46,907.93 L320.66,907.88 L320.86,907.83 L321.00,907.79 L321.06,907.76 L321.26,907.65 L321.46,907.55 L321.66,907.44 L321.86,907.33 L322.06,907.22 L322.26,907.12 L322.46,907.01 L322.50,906.99 L322.66,906.90 L322.86,906.78 L323.06,906.69 L323.26,906.64 L323.46,906.60 L323.66,906.54 L323.86,906.47 L324.00,906.42 L324.06,906.38 L324.26,906.24 L324.46,906.09 L324.66,905.91 L324.86,905.69 L325.06,905.42 L325.26,905.10 L325.46,904.70 L325.50,904.61 L325.66,904.22 L325.86,903.62 L326.06,902.88 L326.26,901.96 L326.46,900.86 L326.66,899.55 L326.86,897.97 L327.00,896.66 L327.06,896.02 L327.26,893.40 L327.46,889.38 L327.66,882.56 L327.86,870.98 L328.06,853.03 L328.26,829.03 L328.46,802.76 L328.50,797.86 L328.66,781.87 L328.86,774.25 L329.06,780.06 L329.26,793.07 L329.46,809.30 L329.66,827.71 L329.86,846.35 L330.00,858.10 L330.06,862.64 L330.26,875.21 L330.46,883.94 L330.66,889.61 L330.86,893.28 L331.06,895.80 L331.26,897.61 L331.46,899.08 L331.50,899.34 L331.66,900.30 L331.86,901.31 L332.06,902.19 L332.26,903.01 L332.46,903.70 L332.66,904.27 L332.86,904.74 L333.00,905.02 L333.06,905.10 L333.26,905.32 L333.46,905.50 L333.66,905.63 L333.86,905.73 L334.06,905.85 L334.21,905.99 L334.26,906.04 L334.41,906.17 L334.46,906.21 L334.50,906.24 L334.61,906.33 L334.66,906.37 L334.81,906.49 L334.86,906.53 L335.01,906.63 L335.06,906.65 L335.21,906.71 L335.26,906.73 L335.41,906.78 L335.46,906.80 L335.61,906.85 L335.66,906.86 L335.81,906.91 L335.86,906.92 L336.00,906.96 L336.01,906.96 L336.06,906.97 L336.21,906.98 L336.26,906.98 L336.41,906.98 L336.46,906.99 L336.61,906.99 L336.66,906.99 L336.81,906.99 L336.86,906.99 L337.01,906.99 L337.06,906.98 L337.21,906.96 L337.26,906.96 L337.41,906.94 L337.46,906.93 L337.50,906.92 L337.61,906.90 L337.66,906.90 L337.81,906.87 L337.86,906.86 L338.01,906.83 L338.06,906.84 L338.21,906.85 L338.26,906.85 L338.41,906.85 L338.46,906.85 L338.61,906.86 L338.66,906.86 L338.81,906.85 L338.86,906.85 L339.00,906.85 L339.01,906.85 L339.06,906.86 L339.21,906.90 L339.26,906.91 L339.41,906.94 L339.46,906.94 L339.61,906.96 L339.66,906.97 L339.81,906.98 L339.86,906.98 L340.01,906.97 L340.21,906.90 L340.41,906.81 L340.50,906.76 L340.61,906.69 L340.81,906.53 L341.01,906.34 L341.21,906.05 L341.41,905.70 L341.61,905.22 L341.81,904.47 L342.00,903.29 L342.01,903.20 L342.21,901.02 L342.41,897.66 L342.61,893.17 L342.81,888.29 L343.01,884.44 L343.21,883.16 L343.41,884.33 L343.50,885.32 L343.61,886.72 L343.81,889.56 L344.01,892.75 L344.21,896.04 L344.41,899.05 L344.61,901.44 L344.81,903.15 L345.00,904.21 L345.01,904.26 L345.21,904.98 L345.41,905.47 L345.61,905.84 L345.81,906.13 L346.01,906.37 L346.21,906.55 L346.41,906.68 L346.50,906.74 L346.61,906.79 L346.81,906.88 L347.01,906.94 L347.21,907.09 L347.41,907.22 L347.61,907.34 L347.81,907.45 L348.00,907.55 L348.01,907.55 L348.21,907.54 L348.41,907.52 L348.61,907.50 L348.81,907.48 L349.01,907.46 L349.21,907.49 L349.41,907.52 L349.50,907.54 L349.61,907.55 L349.81,907.58 L350.01,907.61 L350.21,907.62 L350.41,907.62 L350.61,907.63 L350.81,907.63 L351.00,907.63 L351.01,907.64 L351.21,907.71 L351.41,907.78 L351.61,907.85 L351.81,907.91 L352.01,907.97 L352.21,907.89 L352.41,907.80 L352.50,907.76 L352.61,907.71 L352.81,907.62 L353.01,907.54 L353.21,907.48 L353.41,907.42 L353.61,907.37 L353.81,907.31 L354.00,907.26 L354.01,907.26 L354.21,907.25 L355.50,907.38 L357.00,907.49 L358.50,907.51 L360.00,907.67 L361.50,907.57 L363.00,907.33 L364.50,907.34 L366.00,907.71 L367.50,907.55 L369.00,907.25 L370.50,907.38 L372.00,907.51 L373.50,907.39 L375.00,907.45 L376.50,907.69 L378.00,907.82 L379.50,907.62 L381.00,907.42 L382.50,907.42 L383.38,907.26 L383.58,907.22 L383.78,907.18 L383.98,907.14 L384.00,907.14 L384.18,907.12 L384.38,907.10 L384.58,907.08 L384.78,907.06 L384.98,907.03 L385.18,907.01 L385.38,906.98 L385.50,906.96 L385.58,906.94 L385.78,906.91 L385.98,906.87 L386.18,906.85 L386.38,906.84 L386.58,906.82 L386.78,906.79 L386.98,906.76 L387.00,906.76 L387.18,906.73 L387.38,906.68 L387.58,906.62 L387.78,906.55 L387.98,906.45 L388.18,906.27 L388.38,906.04 L388.50,905.88 L388.58,905.76 L388.78,905.43 L388.98,905.03 L389.18,904.60 L389.38,904.08 L389.58,903.41 L389.78,902.59 L389.98,901.58 L390.00,901.46 L390.18,900.29 L390.38,898.73 L390.58,896.77 L390.78,894.14 L390.98,890.10 L391.18,883.26 L391.38,871.54 L391.50,861.31 L391.58,853.03 L391.78,827.83 L391.98,799.84 L392.18,777.12 L392.38,768.70 L392.58,775.28 L392.78,788.61 L392.98,801.87 L393.00,803.11 L393.18,814.36 L393.38,828.67 L393.58,844.90 L393.78,860.52 L393.98,873.36 L394.18,882.71 L394.38,888.91 L394.50,891.52 L394.58,892.94 L394.78,895.71 L394.98,897.81 L395.18,899.43 L395.38,900.77 L395.58,901.88 L395.78,902.80 L395.98,903.55 L396.00,903.62 L396.18,904.24 L396.38,904.81 L396.58,905.28 L396.78,905.67 L396.98,905.99 L397.18,906.15 L397.38,906.25 L397.50,906.30 L397.58,906.33 L397.78,906.38 L397.98,906.41 L398.18,906.51 L398.38,906.61 L398.58,906.69 L398.78,906.78 L398.98,906.85 L399.00,906.86 L399.18,906.84 L399.38,906.81 L399.58,906.78 L399.78,906.74 L399.98,906.71 L400.18,906.73 L400.38,906.76 L400.50,906.77 L400.58,906.78 L400.78,906.80 L400.98,906.83 L401.18,906.83 L401.38,906.83 L401.58,906.82 L401.78,906.82 L401.98,906.81 L402.00,906.81 L402.18,906.83 L402.38,906.85 L402.58,906.86 L402.78,906.88 L402.98,906.90 L403.18,906.94 L403.38,906.98 L403.50,907.01 L405.00,907.25 L406.50,907.06 L408.00,906.96 L409.50,907.78 L411.00,908.38 L412.50,907.93 L414.00,907.57 L415.50,907.53 L416.66,907.66 L416.86,907.71 L417.00,907.74 L417.06,907.74 L417.26,907.74 L417.46,907.73 L417.66,907.73 L417.86,907.73 L418.06,907.71 L418.26,907.68 L418.46,907.65 L418.50,907.65 L418.66,907.62 L418.86,907.59 L419.06,907.56 L419.26,907.52 L419.46,907.48 L419.66,907.44 L419.86,907.39 L420.00,907.36 L420.06,907.35 L420.26,907.31 L420.46,907.27 L420.66,907.22 L420.86,907.18 L421.06,907.15 L421.26,907.18 L421.46,907.21 L421.50,907.21 L421.66,907.22 L421.86,907.24 L422.06,907.24 L422.26,907.22 L422.46,907.18 L422.66,907.13 L422.86,907.06 L423.00,906.99 L423.06,906.98 L423.26,906.90 L423.46,906.79 L423.66,906.64 L423.86,906.43 L424.06,906.08 L424.26,905.47 L424.46,904.42 L424.50,904.13 L424.66,902.62 L424.86,899.75 L425.06,895.77 L425.26,891.24 L425.46,887.48 L425.66,886.00 L425.86,887.07 L426.00,888.61 L426.06,889.31 L426.26,891.37 L426.46,892.89 L426.66,894.43 L426.86,896.49 L427.06,898.88 L427.26,901.11 L427.46,902.87 L427.50,903.15 L427.66,904.08 L427.86,904.84 L428.06,905.34 L428.26,905.75 L428.46,906.07 L428.66,906.34 L428.86,906.56 L429.00,906.70 L429.06,906.77 L429.26,906.99 L429.46,907.18 L429.66,907.34 L429.86,907.49 L430.06,907.61 L430.26,907.65 L430.46,907.69 L430.50,907.70 L430.66,907.72 L430.86,907.74 L431.06,907.77 L431.26,907.80 L431.46,907.82 L431.66,907.85 L431.86,907.87 L432.00,907.89 L432.06,907.88 L432.26,907.87 L432.46,907.85 L432.66,907.83 L432.86,907.81 L433.06,907.80 L433.26,907.81 L433.46,907.81 L433.50,907.81 L433.66,907.81 L433.86,907.82 L434.06,907.83 L434.26,907.89 L434.46,907.94 L434.66,907.99 L434.86,908.04 L435.00,908.08 L435.06,908.06 L435.26,908.00 L435.46,907.93 L435.66,907.87 L435.86,907.81 L436.06,907.77 L436.26,907.81 L436.46,907.84 L436.50,907.85 L436.66,907.87 L438.00,907.66 L439.50,908.00 L441.00,907.98 L442.50,907.48 L444.00,907.19 L445.50,907.62 L447.00,907.93 L448.50,907.92 L450.00,907.82 L451.50,907.60 L453.00,907.39 L454.50,907.62 L456.00,907.72 L457.50,907.46 L459.00,907.69 L460.50,908.02 L462.00,908.26 L463.50,908.04 L465.00,907.95 L466.50,908.04 L468.00,907.74 L469.50,907.94 L471.00,908.15 L472.50,907.88 L474.00,907.68 L475.50,907.86 L477.00,908.45 L478.50,908.35 L480.00,908.08 L481.50,907.62 L483.00,907.21 L484.50,907.88 L486.00,908.14 L487.50,907.92 L489.00,907.45 L490.50,907.65 L492.00,907.77 L493.50,907.31 L495.00,907.51 L496.50,907.91 L497.28,907.97 L497.48,907.95 L497.68,907.93 L497.88,907.91 L498.00,907.89 L498.08,907.88 L498.28,907.86 L498.48,907.84 L498.68,907.82 L498.88,907.80 L499.08,907.76 L499.28,907.69 L499.48,907.62 L499.50,907.62 L499.68,907.55 L499.88,907.48 L500.08,907.44 L500.28,907.43 L500.48,907.42 L500.68,907.41 L500.88,907.40 L501.00,907.39 L501.08,907.38 L501.28,907.34 L501.48,907.30 L501.68,907.25 L501.88,907.20 L502.08,907.16 L502.28,907.15 L502.48,907.13 L502.50,907.12 L502.68,907.09 L502.88,907.03 L503.08,906.94 L503.28,906.78 L503.48,906.59 L503.68,906.36 L503.88,906.08 L504.00,905.88 L504.08,905.76 L504.28,905.40 L504.48,904.93 L504.68,904.28 L504.88,903.26 L505.08,901.48 L505.28,898.29 L505.48,893.11 L505.50,892.47 L505.68,885.78 L505.88,877.26 L506.08,869.98 L506.28,867.06 L506.48,869.59 L506.68,875.03 L506.88,880.04 L507.00,882.00 L507.08,882.79 L507.28,883.53 L507.48,884.06 L507.68,886.15 L507.88,889.91 L508.08,894.19 L508.28,897.96 L508.48,900.73 L508.50,900.96 L508.68,902.56 L508.88,903.71 L509.08,904.49 L509.28,905.07 L509.48,905.54 L509.68,905.92 L509.88,906.24 L510.00,906.40 L510.08,906.46 L510.28,906.56 L510.48,906.62 L510.68,906.65 L510.88,906.66 L511.08,906.67 L511.28,906.70 L511.48,906.72 L511.50,906.72 L511.68,906.73 L511.88,906.74 L512.08,906.74 L512.28,906.75 L512.48,906.75 L512.68,906.75 L512.88,906.75 L513.00,906.75 L513.08,906.78 L513.28,906.86 L513.48,906.94 L513.68,907.01 L513.88,907.09 L514.08,907.16 L514.28,907.21 L514.48,907.27 L514.50,907.27 L514.68,907.32 L514.88,907.37 L515.08,907.40 L515.28,907.40 L515.48,907.40 L515.68,907.40 L515.88,907.39 L516.00,907.39 L516.08,907.41 L516.28,907.45 L516.48,907.49 L516.68,907.52 L516.88,907.56 L517.08,907.61 L517.28,907.66 L517.50,907.72 L519.00,907.90 L520.50,907.92 L522.00,907.75 L523.50,907.35 L525.00,907.69 L526.50,907.59 L528.00,907.40 L529.50,907.89 L531.00,908.05 L532.50,908.14 L534.00,907.85 L535.50,907.60 L537.00,907.67 L538.50,907.68 L540.00,907.97 L541.50,907.99 L543.00,907.67 L543.32,907.57 L543.52,907.51 L543.72,907.45 L543.92,907.38 L544.12,907.39 L544.32,907.44 L544.50,907.48 L544.52,907.48 L544.72,907.53 L544.92,907.58 L545.12,907.59 L545.32,907.57 L545.52,907.56 L545.72,907.54 L545.92,907.52 L546.00,907.52 L546.12,907.53 L546.32,907.55 L546.52,907.56 L546.72,907.58 L546.92,907.59 L547.12,907.55 L547.32,907.48 L547.50,907.41 L547.52,907.40 L547.72,907.32 L547.92,907.23 L548.12,907.14 L548.32,907.05 L548.52,906.95 L548.72,906.83 L548.92,906.68 L549.00,906.61 L549.12,906.50 L549.32,906.27 L549.52,906.00 L549.72,905.66 L549.92,905.25 L550.12,904.74 L550.32,904.12 L550.50,903.42 L550.52,903.33 L550.72,902.27 L550.92,900.64 L551.12,897.86 L551.32,892.97 L551.52,884.95 L551.72,873.47 L551.92,860.00 L552.00,854.83 L552.12,848.26 L552.32,843.36 L552.52,847.48 L552.72,856.90 L552.92,866.06 L553.12,871.47 L553.32,872.55 L553.50,871.48 L553.52,871.35 L553.72,871.20 L553.92,874.45 L554.12,880.46 L554.32,887.11 L554.52,892.80 L554.72,896.89 L554.92,899.52 L555.00,900.27 L555.12,901.22 L555.32,902.39 L555.52,903.25 L555.72,903.94 L555.92,904.51 L556.12,905.00 L556.32,905.43 L556.50,905.75 L556.52,905.79 L556.72,906.09 L556.92,906.34 L557.12,906.56 L557.32,906.75 L557.52,906.92 L557.72,907.07 L557.92,907.21 L558.00,907.26 L558.12,907.26 L558.32,907.25 L558.52,907.23 L558.72,907.21 L558.92,907.18 L559.12,907.18 L559.32,907.19 L559.50,907.20 L559.52,907.20 L559.72,907.21 L559.92,907.21 L560.12,907.22 L560.32,907.23 L560.52,907.23 L560.72,907.23 L560.92,907.23 L561.00,907.23 L561.12,907.28 L561.32,907.35 L561.52,907.42 L561.72,907.49 L561.92,907.56 L562.12,907.58 L562.32,907.59 L562.50,907.59 L562.52,907.59 L562.72,907.59 L562.92,907.59 L563.12,907.61 L563.32,907.63 L564.00,907.71 L565.50,908.07 L567.00,908.38 L568.50,908.12 L570.00,907.87 L570.22,907.81 L570.42,907.75 L570.62,907.69 L570.82,907.63 L571.02,907.58 L571.22,907.63 L571.42,907.67 L571.50,907.69 L571.62,907.71 L571.82,907.75 L572.02,907.78 L572.22,907.70 L572.42,907.62 L572.62,907.54 L572.82,907.46 L573.00,907.39 L573.02,907.39 L573.22,907.40 L573.42,907.41 L573.62,907.43 L573.82,907.44 L574.02,907.44 L574.22,907.44 L574.42,907.44 L574.50,907.44 L574.62,907.44 L574.82,907.43 L575.02,907.42 L575.22,907.41 L575.42,907.39 L575.62,907.37 L575.82,907.33 L576.00,907.29 L576.02,907.29 L576.22,907.27 L576.42,907.24 L576.62,907.18 L576.82,907.09 L577.02,906.96 L577.22,906.73 L577.42,906.43 L577.50,906.29 L577.62,906.04 L577.82,905.44 L578.02,904.44 L578.22,902.70 L578.42,899.83 L578.62,895.72 L578.82,890.89 L579.00,887.04 L579.02,886.70 L579.22,884.97 L579.42,886.54 L579.62,890.08 L579.82,893.62 L580.02,895.81 L580.22,896.34 L580.42,895.74 L580.50,895.42 L580.62,895.11 L580.82,895.53 L581.02,897.27 L581.22,899.66 L581.42,901.95 L581.62,903.73 L581.82,904.93 L582.00,905.64 L582.02,905.69 L582.22,906.13 L582.42,906.43 L582.62,906.64 L582.82,906.80 L583.02,906.93 L583.22,907.08 L583.42,907.20 L583.50,907.24 L583.62,907.30 L583.82,907.38 L584.02,907.44 L584.22,907.47 L584.42,907.50 L584.62,907.51 L584.82,907.52 L585.00,907.53 L585.02,907.53 L585.22,907.57 L585.42,907.60 L585.62,907.64 L585.82,907.67 L586.02,907.69 L586.22,907.69 L586.42,907.69 L586.50,907.69 L586.62,907.68 L586.82,907.68 L587.02,907.68 L587.22,907.69 L587.42,907.70 L587.62,907.72 L587.82,907.73 L588.00,907.74 L588.02,907.74 L588.22,907.76 L588.42,907.77 L588.62,907.79 L588.82,907.80 L589.02,907.81 L589.22,907.81 L589.42,907.81 L589.50,907.81 L589.62,907.81 L589.82,907.81 L590.02,907.81 L590.22,907.82 L591.00,907.88 L592.50,907.96 L594.00,907.94 L595.50,907.64 L597.00,907.14 L598.50,907.46 L600.00,908.20 L601.50,907.77 L603.00,907.35 L604.50,908.03 L606.00,908.23 L607.50,907.87 L609.00,907.67 L610.50,907.62 L612.00,907.70 L613.50,907.86 L615.00,907.84 L616.50,907.73 L618.00,907.80 L619.50,907.55 L621.00,907.46 L622.50,907.66 L624.00,907.71 L625.50,907.75 L627.00,907.97 L628.50,908.11 L630.00,907.89 L631.50,907.66 L633.00,907.42 L634.50,907.58 L636.00,907.73 L637.50,907.49 L638.72,907.50 L638.92,907.48 L639.00,907.47 L639.12,907.51 L639.32,907.59 L639.52,907.66 L639.72,907.73 L639.92,907.80 L640.12,907.82 L640.32,907.82 L640.50,907.81 L640.52,907.81 L640.72,907.80 L640.92,907.79 L641.12,907.77 L641.32,907.75 L641.52,907.73 L641.72,907.71 L641.92,907.69 L642.00,907.68 L642.12,907.65 L642.32,907.59 L642.52,907.53 L642.72,907.47 L642.92,907.42 L643.12,907.37 L643.32,907.32 L643.50,907.28 L643.52,907.28 L643.72,907.23 L643.92,907.19 L644.12,907.21 L644.32,907.27 L644.52,907.32 L644.72,907.38 L644.92,907.43 L645.00,907.45 L645.12,907.45 L645.32,907.45 L645.52,907.44 L645.72,907.42 L645.92,907.39 L646.12,907.32 L646.32,907.19 L646.50,906.99 L646.52,906.96 L646.72,906.53 L646.92,905.81 L647.12,904.73 L647.32,903.45 L647.52,902.34 L647.62,901.99 L647.72,901.87 L647.82,901.96 L647.92,902.25 L648.00,902.59 L648.02,902.69 L648.12,903.21 L648.22,903.74 L648.32,904.22 L648.42,904.64 L648.52,904.95 L648.62,905.15 L648.72,905.25 L648.82,905.24 L648.92,905.15 L649.02,905.01 L649.12,904.83 L649.22,904.65 L649.32,904.51 L649.42,904.43 L649.50,904.44 L649.52,904.45 L649.62,904.57 L649.72,904.77 L649.82,905.04 L649.92,905.34 L650.02,905.65 L650.12,905.97 L650.22,906.27 L650.32,906.53 L650.42,906.75 L650.52,906.94 L650.62,907.09 L650.72,907.22 L650.82,907.32 L650.92,907.41 L651.00,907.48 L651.02,907.48 L651.12,907.50 L651.22,907.52 L651.32,907.53 L651.42,907.54 L651.52,907.54 L651.62,907.54 L651.72,907.54 L651.82,907.54 L651.92,907.54 L652.02,907.54 L652.12,907.56 L652.22,907.58 L652.32,907.61 L652.42,907.63 L652.50,907.64 L652.52,907.65 L652.62,907.66 L652.72,907.68 L652.82,907.70 L652.92,907.71 L653.02,907.71 L653.12,907.65 L653.22,907.60 L653.32,907.54 L653.42,907.48 L653.52,907.42 L653.62,907.35 L653.72,907.29 L653.82,907.22 L653.92,907.15 L654.00,907.10 L654.02,907.10 L654.12,907.09 L654.22,907.08 L654.32,907.07 L654.42,907.06 L654.52,907.04 L654.62,907.02 L654.72,906.99 L654.82,906.95 L654.92,906.91 L655.02,906.84 L655.12,906.73 L655.22,906.60 L655.32,906.42 L655.42,906.18 L655.50,905.95 L655.52,905.88 L655.62,905.47 L655.72,904.96 L655.82,904.32 L655.92,903.55 L656.02,902.68 L656.12,901.77 L656.22,900.85 L656.32,899.98 L656.42,899.27 L656.52,898.81 L656.62,898.68 L656.72,898.89 L656.82,899.41 L656.92,900.13 L657.00,900.80 L657.02,900.97 L657.12,901.80 L657.22,902.57 L657.32,903.23 L657.42,903.74 L657.52,904.08 L657.62,904.26 L657.72,904.29 L657.82,904.19 L657.92,903.99 L658.02,903.73 L658.12,903.45 L658.22,903.21 L658.32,903.06 L658.42,903.04 L658.50,903.14 L658.52,903.18 L658.62,903.46 L658.72,903.85 L658.82,904.30 L659.02,905.24 L659.22,905.96 L659.42,906.44 L659.62,906.73 L659.82,906.87 L660.00,906.92 L660.02,906.92 L660.22,906.93 L660.42,906.91 L660.62,906.88 L660.82,906.83 L661.02,906.78 L661.22,906.83 L661.42,906.86 L661.50,906.87 L661.62,906.89 L661.82,906.92 L662.02,906.95 L662.22,907.01 L662.42,907.07 L662.62,907.13 L662.82,907.19 L663.00,907.24 L663.02,907.24 L663.22,907.27 L663.42,907.31 L663.62,907.34 L663.82,907.37 L664.02,907.40 L664.22,907.44 L664.42,907.47 L664.50,907.48 L664.62,907.50 L664.82,907.53 L665.02,907.56 L665.22,907.59 L665.42,907.61 L665.62,907.63 L665.82,907.66 L666.00,907.68" stroke="#960a12" stroke-width="6.1"/>
<path d="M702.00,907.85 L703.00,908.28 L704.00,908.35 L705.00,908.33 L706.00,907.97 L707.00,907.80 L708.00,907.83 L709.00,908.06 L710.00,908.25 L711.00,908.06 L712.00,907.78 L713.00,907.67 L714.00,907.67 L715.00,907.81 L716.00,907.48 L717.00,907.62 L718.00,907.56 L719.00,907.79 L720.00,907.74 L721.00,907.89 L722.00,908.08 L723.00,908.30 L724.00,908.18 L725.00,907.99 L726.00,907.77 L727.00,907.70 L728.00,907.72 L729.00,907.80 L730.00,907.88 L731.00,907.94 L732.00,908.10 L733.00,908.03 L734.00,907.96 L735.00,907.91 L736.00,908.05 L737.00,907.96 L738.00,907.69 L739.00,907.76 L740.00,907.72 L741.00,907.97 L742.00,907.71 L743.00,908.15 L744.00,907.92 L745.00,908.37 L746.00,908.21 L747.00,908.59 L748.00,908.51 L749.00,908.47 L750.00,908.21 L751.00,908.40 L752.00,908.26 L753.00,908.34 L754.00,907.74 L755.00,907.81 L756.00,907.87 L757.00,907.97 L758.00,907.99 L759.00,907.86 L760.00,907.91 L761.00,907.99 L762.00,908.17 L763.00,908.11 L764.00,907.74 L765.00,907.68 L766.00,907.62 L767.00,907.82 L768.00,907.62 L769.00,907.95 L770.00,908.36 L771.00,908.40 L772.00,908.58 L773.00,908.27 L774.00,908.31 L775.00,908.14 L776.00,908.42 L777.00,908.43 L778.00,908.21 L779.00,908.20 L780.00,908.37 L781.00,907.98 L782.00,907.66 L783.00,907.40 L784.00,907.75 L785.00,907.79 L786.00,907.84 L787.00,907.87 L788.00,908.18 L789.00,907.99 L790.00,908.08 L791.00,907.85 L792.00,907.88 L793.00,907.67 L794.00,907.40 L795.00,907.76 L796.00,907.77 L797.00,908.03 L798.00,907.71 L799.00,907.68 L800.00,907.67 L801.00,907.99 L802.00,907.97 L803.00,907.74 L804.00,907.65 L805.00,907.71 L806.00,907.68 L807.00,907.47 L808.00,907.67 L809.00,907.44 L810.00,907.89 L811.00,908.09 L812.00,908.70 L813.00,908.39 L814.00,908.03 L815.00,907.92 L816.00,907.78 L817.00,908.22 L818.00,908.04 L819.00,908.41 L820.00,908.19 L821.00,908.22 L822.00,908.00 L823.00,907.74 L824.00,907.82 L825.00,907.95 L826.00,908.09 L827.00,908.02 L828.00,907.93 L829.00,908.12 L830.00,908.32 L831.00,908.39 L832.00,908.10 L833.00,907.88 L834.00,907.88 L835.00,907.92 L836.00,907.88 L837.00,908.02 L838.00,908.10 L839.00,908.25 L840.00,907.94 L841.00,907.96 L842.00,908.06 L843.00,908.19 L844.00,907.91 L845.00,907.71 L846.00,907.75 L847.00,908.02 L848.00,908.25 L849.00,908.12 L850.00,908.07 L851.00,908.06 L852.00,908.10 L853.00,908.24 L854.00,907.82 L855.00,907.67 L856.00,907.68 L857.00,908.09 L858.00,908.36 L859.00,908.36 L860.00,908.38 L861.00,908.08 L862.00,908.19 L863.00,908.18 L864.00,908.17 L865.00,907.71 L866.00,907.63 L867.00,907.71 L868.00,908.00 L869.00,907.89 L870.00,907.76 L871.00,907.54 L872.00,907.53 L873.00,907.76 L874.00,908.02 L875.00,907.98 L876.00,908.05 L877.00,907.89 L878.00,907.98 L879.00,907.54 L880.00,907.49 L881.00,907.28 L882.00,907.75 L883.00,908.01 L884.00,908.30 L885.00,908.53 L886.00,908.40 L887.00,908.46 L888.00,908.08 L889.00,908.09 L890.00,907.80 L891.00,907.80 L892.00,907.91 L893.00,908.07 L894.00,908.07 L895.00,907.88 L896.00,907.96 L897.00,908.23 L898.00,908.01 L899.00,907.93 L900.00,907.69 L901.00,907.89 L902.00,907.89 L903.00,908.00 L904.00,908.22 L905.00,907.95 L906.00,907.68 L907.00,907.51 L908.00,907.55 L909.00,907.81 L910.00,907.66 L911.00,907.87 L912.00,907.61 L913.00,907.60 L914.00,908.05 L915.00,908.18 L916.00,908.56 L917.00,908.12 L918.00,908.27 L919.00,907.91 L920.00,908.00 L921.00,907.81 L922.00,907.49 L923.00,906.99 L924.00,907.05 L925.00,907.61 L926.00,907.90 L927.00,907.75 L928.00,907.55 L929.00,907.94 L930.00,907.82 L931.00,908.01 L932.00,907.93 L933.00,908.01 L934.00,907.75 L935.00,907.51 L936.00,907.62 L937.00,907.92 L938.00,907.99 L939.00,908.02 L940.00,907.92 L941.00,908.10 L942.00,908.13 L943.00,907.94 L944.00,907.89 L945.00,908.23 L946.00,908.61 L947.00,908.60 L948.00,908.30 L949.00,908.18 L950.00,908.15 L951.00,908.28 L952.00,908.15 L953.00,908.22 L954.00,908.27 L955.00,908.07 L956.00,908.02 L957.00,907.73 L958.00,907.95 L959.00,907.81 L960.00,908.05 L961.00,907.95 L962.00,907.90 L963.00,907.73 L964.00,907.70 L965.00,907.50 L966.00,907.63 L967.00,907.57 L968.00,907.80 L969.00,907.66 L970.00,907.76 L971.00,907.74 L972.00,907.46 L973.00,907.31 L974.00,907.17 L975.00,907.19 L976.00,907.02 L977.00,906.97 L978.00,907.20 L979.00,907.31 L980.00,907.28 L981.00,907.04 L982.00,907.17 L983.00,906.98 L984.00,906.99 L985.00,907.14 L986.00,907.11 L987.00,906.88 L988.00,906.01 L989.00,905.61 L990.00,905.88 L991.00,906.05 L992.00,906.08 L993.00,905.58 L994.00,905.30 L995.00,905.35 L996.00,905.23 L997.00,905.40 L998.00,905.54 L999.00,905.62 L1000.00,905.43 L1001.00,905.08 L1002.00,905.11 L1003.00,904.77 L1004.00,904.48 L1005.00,904.04 L1006.00,903.93 L1007.00,904.02 L1008.00,903.90 L1009.00,903.79 L1010.00,903.64 L1011.00,903.52 L1012.00,903.56 L1013.00,903.28 L1014.00,903.01 L1015.00,902.56 L1016.00,902.40 L1017.00,902.10 L1018.00,902.17 L1019.00,901.85 L1020.00,901.70 L1021.00,901.05 L1022.00,900.85 L1023.00,900.31 L1024.00,899.97 L1025.00,899.00 L1026.00,898.57 L1027.00,897.87 L1028.00,897.42 L1029.00,896.62 L1030.00,895.72 L1031.00,894.54 L1032.00,893.44 L1033.00,892.29 L1034.00,891.18 L1035.00,890.12 L1036.00,888.85 L1037.00,887.20 L1038.00,885.01 L1039.00,882.74 L1040.00,880.21 L1041.00,877.32 L1042.00,874.18 L1043.00,870.68 L1044.00,865.87 L1045.00,859.94 L1046.00,854.94 L1047.00,851.34 L1048.00,849.12 L1049.00,846.68 L1050.00,845.43 L1051.00,844.82 L1052.00,846.35 L1053.00,848.89 L1054.00,851.90 L1055.00,854.78 L1056.00,858.70 L1057.00,862.76 L1058.00,866.88 L1059.00,870.40 L1060.00,873.74 L1061.00,876.42 L1062.00,878.99 L1063.00,881.11 L1064.00,882.78 L1065.00,883.38 L1066.00,883.15 L1067.00,882.43 L1068.00,881.75 L1069.00,880.83 L1070.00,880.51 L1071.00,880.12 L1072.00,879.71 L1073.00,879.30 L1074.00,878.98 L1075.00,878.89 L1076.00,878.67 L1077.00,878.63 L1078.00,879.55 L1079.00,881.25 L1080.00,883.35 L1081.00,885.19 L1082.00,887.41 L1083.00,889.60 L1084.00,892.23 L1085.00,894.64 L1086.00,896.73 L1087.00,898.83 L1088.00,900.59 L1089.00,901.73 L1090.00,902.55 L1091.00,902.95 L1092.00,903.81 L1093.00,904.42 L1094.00,904.95 L1095.00,905.33 L1096.00,905.33 L1097.00,905.60 L1098.00,906.08 L1099.00,906.27 L1100.00,906.25 L1101.00,906.13 L1102.00,906.41 L1103.00,906.63 L1104.00,906.77 L1105.00,907.16 L1106.00,907.21 L1107.00,907.28 L1108.00,907.55 L1109.00,907.90 L1110.00,907.98 L1111.00,907.60 L1112.00,907.52 L1113.00,907.79 L1114.00,908.04 L1115.00,907.92 L1116.00,907.72 L1117.00,907.72 L1118.00,908.01 L1119.00,908.31 L1120.00,908.65 L1121.00,908.58 L1122.00,908.43 L1123.00,908.00 L1124.00,907.97 L1125.00,908.08 L1126.00,908.31 L1127.00,908.45 L1128.00,908.53 L1129.00,908.52 L1130.00,908.33 L1131.00,908.34 L1132.00,908.46 L1133.00,908.57 L1134.00,909.08 L1135.00,908.63 L1136.00,908.52 L1137.00,907.90 L1138.00,908.22 L1139.00,908.32 L1140.00,908.46 L1141.00,908.74 L1142.00,908.99 L1143.00,908.99 L1144.00,909.07 L1145.00,908.75 L1146.00,908.69 L1147.00,908.45 L1148.00,908.65 L1149.00,908.67 L1150.00,908.63 L1151.00,908.58 L1152.00,908.42 L1153.00,908.28 L1154.00,908.34 L1155.00,908.60 L1156.00,908.87 L1157.00,909.04 L1158.00,908.59 L1159.00,908.36 L1160.00,908.06 L1161.00,908.45 L1162.00,908.61 L1163.00,908.73 L1164.00,908.90 L1165.00,908.82 L1166.00,908.92 L1167.00,908.85 L1168.00,909.00 L1169.00,908.94 L1170.00,909.08 L1171.00,909.12 L1172.00,909.33 L1173.00,909.15 L1174.00,909.08 L1175.00,908.80 L1176.00,908.46 L1177.00,908.25 L1178.00,908.12 L1179.00,908.43 L1180.00,908.38 L1181.00,908.56 L1182.00,908.41 L1183.00,908.65 L1184.00,908.71 L1185.00,909.09 L1186.00,909.23 L1187.00,909.52 L1188.00,909.32 L1189.00,908.89 L1190.00,908.80 L1191.00,909.10 L1192.00,909.33 L1193.00,909.40 L1194.00,909.07 L1195.00,909.15 L1196.00,908.91 L1197.00,908.84 L1198.00,908.75 L1199.00,908.49 L1200.00,908.62 L1201.00,908.72 L1202.00,909.11 L1203.00,909.08 L1204.00,909.13 L1205.00,909.38 L1206.00,909.55 L1207.00,909.46 L1208.00,909.14 L1209.00,908.99 L1210.00,909.22 L1211.00,909.10 L1212.00,909.27 L1213.00,909.13 L1214.00,908.79 L1215.00,908.69 L1216.00,908.54 L1217.00,908.82 L1218.00,908.74 L1219.00,908.88 L1220.00,909.43 L1221.00,909.44 L1222.00,909.25 L1223.00,908.84 L1224.00,908.91 L1225.00,908.90 L1226.00,908.88 L1227.00,908.54 L1228.00,908.50 L1229.00,908.47 L1230.00,908.85 L1231.00,908.90 L1232.00,908.83 L1233.00,908.70 L1234.00,908.68 L1235.00,908.73 L1236.00,908.60 L1237.00,909.04 L1238.00,909.05 L1239.00,909.42 L1240.00,909.17 L1241.00,909.53 L1242.00,909.15 L1243.00,909.16 L1244.00,908.48 L1245.00,908.85 L1246.00,908.92 L1247.00,909.25 L1248.00,909.37 L1249.00,909.73 L1250.00,910.04" stroke="#960a12" stroke-width="6.1"/>
<path d="M117.00,995.23 L118.50,995.52 L120.00,995.53 L121.50,995.18 L123.00,995.29 L124.50,995.14 L126.00,995.08 L127.50,995.25 L129.00,995.30 L130.50,995.05 L132.00,995.15 L133.50,995.58 L135.00,995.56 L136.50,995.55 L138.00,995.36 L139.50,995.24 L141.00,995.79 L142.50,995.85 L144.00,995.62 L145.50,995.73 L147.00,995.49 L148.50,995.31 L150.00,995.49 L151.50,995.27 L153.00,995.01 L154.50,995.14 L156.00,995.43 L157.50,995.65 L159.00,995.64 L160.50,995.26 L162.00,995.08 L163.50,994.95 L165.00,995.02 L166.50,995.49 L168.00,995.23 L169.50,994.99 L171.00,995.35 L172.50,995.26 L174.00,995.11 L175.50,995.21 L177.00,995.14 L178.50,995.03 L179.51,994.85 L179.71,994.78 L179.91,994.70 L180.00,994.67 L180.11,994.65 L180.31,994.60 L180.51,994.56 L180.71,994.51 L180.91,994.46 L181.11,994.38 L181.31,994.29 L181.50,994.19 L181.51,994.19 L181.71,994.08 L181.91,993.97 L182.11,993.91 L182.31,993.89 L182.51,993.86 L182.71,993.81 L182.91,993.75 L183.00,993.72 L183.11,993.65 L183.31,993.50 L183.51,993.33 L183.71,993.13 L183.91,992.90 L184.11,992.68 L184.31,992.47 L184.50,992.22 L184.51,992.21 L184.71,991.89 L184.91,991.51 L185.11,990.97 L185.31,990.27 L185.51,989.47 L185.71,988.56 L185.91,987.44 L186.00,986.83 L186.11,986.01 L186.31,983.92 L186.51,980.42 L186.71,974.38 L186.91,964.16 L187.11,947.69 L187.31,923.17 L187.50,891.74 L187.51,889.88 L187.71,849.13 L187.91,804.99 L188.11,764.25 L188.31,735.10 L188.51,724.48 L188.71,734.91 L188.91,763.52 L189.00,780.61 L189.11,803.56 L189.31,847.10 L189.51,887.52 L189.71,920.77 L189.91,945.47 L190.11,962.27 L190.31,972.89 L190.50,979.00 L190.51,979.25 L190.71,982.98 L190.91,985.23 L191.11,986.72 L191.31,987.80 L191.51,988.68 L191.71,989.41 L191.91,990.05 L192.00,990.32 L192.11,990.65 L192.31,991.19 L192.51,991.68 L192.71,992.10 L192.91,992.48 L193.11,992.78 L193.31,993.02 L193.50,993.21 L193.51,993.22 L193.71,993.39 L193.91,993.54 L194.11,993.70 L194.31,993.87 L194.51,994.02 L194.71,994.15 L194.91,994.28 L195.00,994.33 L195.11,994.37 L195.31,994.43 L195.51,994.49 L195.71,994.54 L195.91,994.59 L196.11,994.67 L196.31,994.77 L196.50,994.87 L196.51,994.87 L196.71,994.97 L196.91,995.06 L197.11,995.14 L197.31,995.21 L197.51,995.27 L197.71,995.34 L197.91,995.40 L198.00,995.43 L198.11,995.41 L198.31,995.37 L198.51,995.34 L198.71,995.30 L198.91,995.26 L199.11,995.24 L199.31,995.22 L199.50,995.21 L199.51,995.21 L201.00,995.19 L202.50,995.47 L204.00,995.59 L205.50,995.38 L207.00,995.20 L208.50,995.37 L210.00,995.40 L211.50,995.57 L213.00,995.89 L214.50,995.71 L216.00,995.22 L217.50,995.55 L219.00,995.69 L220.50,995.50 L222.00,995.54 L223.50,995.43 L225.00,995.38 L226.50,995.19 L228.00,995.24 L229.50,995.32 L231.00,995.11 L232.50,995.60 L234.00,995.55 L235.50,995.00 L237.00,995.08 L238.50,994.88 L240.00,994.81 L241.50,995.19 L243.00,995.66 L244.50,995.40 L246.00,994.97 L247.50,995.26 L249.00,995.40 L250.50,995.29 L252.00,995.24 L253.50,995.22 L255.00,995.56 L256.50,995.67 L258.00,995.61 L259.50,995.30 L261.00,994.79 L262.50,994.90 L264.00,995.48 L265.50,995.76 L267.00,995.41 L268.50,995.61 L270.00,995.81 L271.50,995.37 L273.00,995.32 L274.50,995.62 L276.00,995.58 L276.12,995.60 L276.32,995.62 L276.52,995.64 L276.72,995.66 L276.92,995.68 L277.12,995.65 L277.32,995.58 L277.50,995.52 L277.52,995.52 L277.72,995.45 L277.92,995.39 L278.12,995.38 L278.32,995.41 L278.52,995.45 L278.72,995.48 L278.92,995.52 L279.00,995.53 L279.12,995.53 L279.32,995.52 L279.52,995.52 L279.72,995.51 L279.92,995.51 L280.12,995.54 L280.32,995.61 L280.50,995.67 L280.52,995.67 L280.72,995.74 L280.92,995.80 L281.12,995.82 L281.32,995.81 L281.52,995.79 L281.72,995.77 L281.92,995.75 L282.00,995.74 L282.12,995.70 L282.32,995.62 L282.52,995.54 L282.72,995.45 L282.92,995.35 L283.12,995.26 L283.32,995.17 L283.50,995.06 L283.52,995.05 L283.72,994.89 L283.92,994.64 L284.12,994.26 L284.32,993.68 L284.52,992.91 L284.72,992.07 L284.92,991.39 L285.00,991.22 L285.12,991.13 L285.32,991.30 L285.52,991.75 L285.72,992.35 L285.92,993.00 L286.12,993.56 L286.32,993.98 L286.50,994.24 L286.52,994.27 L286.72,994.44 L286.92,994.53 L287.12,994.64 L287.32,994.76 L287.52,994.87 L287.72,994.98 L287.92,995.07 L288.00,995.11 L288.12,995.11 L288.32,995.12 L288.52,995.13 L288.72,995.13 L288.92,995.13 L289.12,995.14 L289.32,995.15 L289.50,995.17 L289.52,995.17 L289.72,995.19 L289.92,995.20 L290.12,995.21 L290.32,995.22 L290.52,995.23 L290.72,995.24 L290.92,995.25 L291.00,995.26 L291.12,995.29 L291.32,995.34 L291.52,995.39 L291.72,995.44 L291.92,995.50 L292.12,995.56 L292.32,995.64 L292.50,995.72 L292.52,995.72 L292.72,995.80 L292.92,995.88 L293.12,995.92 L293.32,995.93 L293.52,995.93 L293.72,995.94 L293.92,995.95 L294.00,995.95 L294.12,995.95 L294.32,995.96 L294.52,995.96 L294.72,995.96 L294.92,995.96 L295.12,995.95 L295.32,995.93 L295.50,995.91 L295.52,995.91 L295.72,995.89 L295.92,995.87 L296.12,995.81 L297.00,995.43 L298.50,995.45 L300.00,995.76 L301.50,995.84 L303.00,995.97 L304.50,995.56 L306.00,994.88 L307.50,995.13 L309.00,995.38 L310.50,995.09 L312.00,995.52 L313.50,995.41 L315.00,994.87 L316.50,995.14 L318.00,995.36 L319.50,995.22 L319.86,995.14 L320.06,995.10 L320.26,995.08 L320.46,995.05 L320.66,995.03 L320.86,995.01 L321.00,994.99 L321.06,994.98 L321.26,994.95 L321.46,994.92 L321.66,994.89 L321.86,994.86 L322.06,994.81 L322.26,994.74 L322.46,994.66 L322.50,994.64 L322.66,994.58 L322.86,994.50 L323.06,994.41 L323.26,994.34 L323.46,994.26 L323.66,994.17 L323.86,994.07 L324.00,993.99 L324.06,993.96 L324.26,993.84 L324.46,993.71 L324.66,993.54 L324.86,993.34 L325.06,993.09 L325.26,992.78 L325.46,992.40 L325.50,992.31 L325.66,991.92 L325.86,991.33 L326.06,990.60 L326.26,989.73 L326.46,988.66 L326.66,987.38 L326.86,985.84 L327.00,984.54 L327.06,983.92 L327.26,981.34 L327.46,977.32 L327.66,970.46 L327.86,958.76 L328.06,940.51 L328.26,915.99 L328.46,889.16 L328.50,884.15 L328.66,867.80 L328.86,859.96 L329.06,865.82 L329.26,879.11 L329.46,895.67 L329.66,914.46 L329.86,933.48 L330.00,945.47 L330.06,950.07 L330.26,962.80 L330.46,971.61 L330.66,977.30 L330.86,980.97 L331.06,983.51 L331.26,985.48 L331.46,987.10 L331.50,987.39 L331.66,988.47 L331.86,989.62 L332.06,990.58 L332.26,991.34 L332.46,991.96 L332.66,992.46 L332.86,992.86 L333.00,993.09 L333.06,993.18 L333.26,993.46 L333.41,993.64 L333.46,993.69 L333.61,993.83 L333.66,993.88 L333.81,994.00 L333.86,994.03 L334.01,994.13 L334.06,994.15 L334.21,994.22 L334.26,994.24 L334.41,994.30 L334.46,994.31 L334.50,994.33 L334.61,994.36 L334.66,994.38 L334.81,994.42 L334.86,994.43 L335.01,994.46 L335.06,994.48 L335.21,994.54 L335.26,994.55 L335.41,994.60 L335.46,994.62 L335.61,994.66 L335.66,994.68 L335.81,994.72 L335.86,994.73 L336.00,994.77 L336.01,994.77 L336.06,994.77 L336.21,994.78 L336.26,994.78 L336.41,994.79 L336.46,994.79 L336.61,994.79 L336.66,994.79 L336.81,994.79 L336.86,994.79 L337.01,994.79 L337.06,994.80 L337.21,994.82 L337.26,994.83 L337.41,994.85 L337.46,994.86 L337.50,994.86 L337.61,994.88 L337.66,994.88 L337.81,994.90 L337.86,994.91 L338.01,994.92 L338.06,994.91 L338.21,994.90 L338.26,994.89 L338.41,994.87 L338.46,994.86 L338.61,994.84 L338.66,994.83 L338.81,994.79 L338.86,994.78 L339.00,994.74 L339.01,994.73 L339.06,994.72 L339.21,994.68 L339.26,994.67 L339.41,994.61 L339.46,994.59 L339.61,994.52 L339.66,994.49 L339.81,994.40 L339.86,994.37 L340.01,994.26 L340.21,994.11 L340.41,993.91 L340.50,993.81 L340.61,993.66 L340.81,993.29 L341.01,992.69 L341.21,991.56 L341.41,989.66 L341.61,986.72 L341.81,982.80 L342.00,978.74 L342.01,978.53 L342.21,975.22 L342.41,974.06 L342.61,975.05 L342.81,977.12 L343.01,979.58 L343.21,982.27 L343.41,985.10 L343.50,986.32 L343.61,987.68 L343.81,989.72 L344.01,991.15 L344.21,992.15 L344.41,992.79 L344.61,993.23 L344.81,993.56 L345.00,993.81 L345.01,993.82 L345.21,994.01 L345.41,994.17 L345.61,994.30 L345.81,994.40 L346.01,994.48 L346.21,994.60 L346.41,994.70 L346.50,994.74 L346.61,994.78 L346.81,994.86 L347.01,994.92 L347.21,994.92 L347.41,994.92 L347.61,994.92 L347.81,994.91 L348.00,994.90 L348.01,994.90 L348.21,994.96 L348.41,995.02 L348.61,995.08 L348.81,995.14 L349.01,995.19 L349.21,995.18 L349.41,995.17 L349.50,995.16 L349.61,995.15 L349.81,995.14 L350.01,995.13 L350.21,995.22 L350.41,995.30 L350.61,995.38 L350.81,995.47 L351.00,995.55 L351.01,995.55 L351.21,995.51 L351.41,995.48 L351.61,995.44 L351.81,995.40 L352.01,995.37 L352.21,995.41 L352.41,995.45 L352.50,995.46 L352.61,995.48 L352.81,995.52 L353.01,995.56 L353.21,995.54 L353.41,995.52 L354.00,995.47 L355.50,995.43 L357.00,995.33 L358.50,995.48 L360.00,995.60 L361.50,995.27 L363.00,995.18 L364.50,995.21 L366.00,995.28 L367.50,995.30 L369.00,995.22 L370.50,995.44 L372.00,995.40 L373.50,995.06 L375.00,995.06 L376.50,995.21 L378.00,995.14 L379.50,995.05 L381.00,995.07 L382.50,994.94 L382.98,994.77 L383.18,994.72 L383.38,994.68 L383.58,994.63 L383.78,994.58 L383.98,994.53 L384.00,994.53 L384.18,994.49 L384.38,994.45 L384.58,994.41 L384.78,994.36 L384.98,994.31 L385.18,994.26 L385.38,994.19 L385.50,994.15 L385.58,994.13 L385.78,994.06 L385.98,993.99 L386.18,993.99 L386.38,994.00 L386.58,994.01 L386.78,994.00 L386.98,993.99 L387.00,993.99 L387.18,993.94 L387.38,993.88 L387.58,993.79 L387.78,993.69 L387.98,993.55 L388.18,993.45 L388.38,993.31 L388.50,993.19 L388.58,993.10 L388.78,992.82 L388.98,992.45 L389.18,991.83 L389.38,991.06 L389.58,990.13 L389.78,989.00 L389.98,987.64 L390.00,987.49 L390.18,985.95 L390.38,983.66 L390.58,980.17 L390.78,974.26 L390.98,964.15 L391.18,948.21 L391.38,926.50 L391.50,911.94 L391.58,902.38 L391.78,882.85 L391.98,875.62 L392.18,881.31 L392.38,892.82 L392.58,904.28 L392.78,915.08 L392.98,927.45 L393.00,928.81 L393.18,941.52 L393.38,955.04 L393.58,966.15 L393.78,974.18 L393.98,979.48 L394.18,982.84 L394.38,985.11 L394.50,986.17 L394.58,986.80 L394.78,988.16 L394.98,989.28 L395.18,990.22 L395.38,991.00 L395.58,991.63 L395.78,992.13 L395.98,992.53 L396.00,992.57 L396.18,992.85 L396.38,993.09 L396.58,993.28 L396.78,993.42 L396.98,993.53 L397.18,993.66 L397.38,993.77 L397.50,993.83 L397.58,993.86 L397.78,993.95 L397.98,994.02 L398.18,994.15 L398.38,994.28 L398.58,994.40 L398.78,994.52 L398.98,994.63 L399.00,994.64 L399.18,994.68 L399.38,994.71 L399.58,994.73 L399.78,994.76 L399.98,994.79 L400.18,994.83 L400.38,994.87 L400.50,994.89 L400.58,994.91 L400.78,994.95 L400.98,994.99 L401.18,995.00 L401.38,995.01 L401.58,995.01 L401.78,995.02 L401.98,995.03 L402.00,995.03 L402.18,995.03 L402.38,995.03 L402.58,995.03 L402.78,995.02 L402.98,995.02 L403.50,994.94 L405.00,994.73 L406.50,994.75 L408.00,995.09 L409.50,995.26 L411.00,994.93 L412.50,995.23 L414.00,995.21 L415.50,995.47 L416.26,995.57 L416.46,995.62 L416.66,995.67 L416.86,995.72 L417.00,995.75 L417.06,995.73 L417.26,995.67 L417.46,995.60 L417.66,995.53 L417.86,995.46 L418.06,995.40 L418.26,995.35 L418.46,995.30 L418.50,995.30 L418.66,995.26 L418.86,995.21 L419.06,995.18 L419.26,995.20 L419.46,995.23 L419.66,995.25 L419.86,995.27 L420.00,995.29 L420.06,995.28 L420.26,995.26 L420.46,995.23 L420.66,995.21 L420.86,995.18 L421.06,995.16 L421.26,995.14 L421.46,995.12 L421.50,995.12 L421.66,995.09 L421.86,995.06 L422.06,995.01 L422.26,994.95 L422.46,994.87 L422.66,994.78 L422.86,994.66 L423.00,994.56 L423.06,994.54 L423.26,994.43 L423.46,994.29 L423.66,994.05 L423.86,993.66 L424.06,992.89 L424.26,991.44 L424.46,989.14 L424.50,988.57 L424.66,985.97 L424.86,982.39 L425.06,979.42 L425.26,978.24 L425.46,979.09 L425.66,980.87 L425.86,982.50 L426.00,983.38 L426.06,983.71 L426.26,984.93 L426.46,986.57 L426.66,988.47 L426.86,990.24 L427.06,991.65 L427.26,992.65 L427.46,993.30 L427.50,993.40 L427.66,993.73 L427.86,994.03 L428.06,994.27 L428.26,994.48 L428.46,994.66 L428.66,994.82 L428.86,994.96 L429.00,995.04 L429.06,995.05 L429.26,995.10 L429.46,995.12 L429.66,995.14 L429.86,995.15 L430.06,995.16 L430.26,995.17 L430.46,995.18 L430.50,995.18 L430.66,995.19 L430.86,995.19 L431.06,995.19 L431.26,995.18 L431.46,995.17 L431.66,995.16 L431.86,995.15 L432.00,995.14 L432.06,995.14 L432.26,995.13 L432.46,995.12 L432.66,995.11 L432.86,995.09 L433.06,995.08 L433.26,995.07 L433.46,995.06 L433.50,995.06 L433.66,995.06 L433.86,995.05 L434.06,995.04 L434.26,995.05 L434.46,995.05 L434.66,995.05 L434.86,995.05 L435.00,995.06 L435.06,995.08 L435.26,995.15 L435.46,995.23 L435.66,995.31 L435.86,995.38 L436.06,995.44 L436.26,995.46 L436.50,995.49 L438.00,995.50 L439.50,995.16 L441.00,995.30 L442.50,995.25 L444.00,994.80 L445.50,994.82 L447.00,995.18 L448.50,995.35 L450.00,995.30 L451.50,995.10 L453.00,995.13 L454.50,995.17 L456.00,995.28 L457.50,995.48 L459.00,995.54 L460.50,995.34 L462.00,995.46 L463.50,995.53 L465.00,995.67 L466.50,995.38 L468.00,995.16 L469.50,995.84 L471.00,996.00 L472.50,995.59 L474.00,995.22 L475.50,995.20 L477.00,995.35 L478.50,995.09 L480.00,995.08 L481.50,995.31 L483.00,995.16 L484.50,995.29 L486.00,995.45 L487.50,995.09 L489.00,994.92 L490.50,995.27 L492.00,995.51 L493.50,995.55 L495.00,995.39 L496.50,995.24 L497.30,995.38 L497.50,995.39 L497.70,995.40 L497.90,995.42 L498.00,995.42 L498.10,995.43 L498.30,995.44 L498.50,995.45 L498.70,995.46 L498.90,995.47 L499.10,995.44 L499.30,995.37 L499.50,995.29 L499.70,995.21 L499.90,995.13 L500.10,995.07 L500.30,995.01 L500.50,994.96 L500.70,994.90 L500.90,994.84 L501.00,994.81 L501.10,994.79 L501.30,994.74 L501.50,994.69 L501.70,994.63 L501.90,994.57 L502.10,994.52 L502.30,994.48 L502.50,994.43 L502.70,994.36 L502.90,994.26 L503.10,994.12 L503.30,993.92 L503.50,993.68 L503.70,993.40 L503.90,993.07 L504.00,992.87 L504.10,992.67 L504.30,992.19 L504.50,991.57 L504.70,990.67 L504.90,989.25 L505.10,986.87 L505.30,983.05 L505.50,977.43 L505.70,970.24 L505.90,962.60 L506.10,956.55 L506.30,954.34 L506.50,956.43 L506.70,960.82 L506.90,965.10 L507.00,966.73 L507.10,967.92 L507.30,969.41 L507.50,970.80 L507.70,973.27 L507.90,976.87 L508.10,980.83 L508.30,984.41 L508.50,987.20 L508.70,989.17 L508.90,990.47 L509.10,991.33 L509.30,991.93 L509.50,992.39 L509.70,992.76 L509.90,993.06 L510.00,993.19 L510.10,993.33 L510.30,993.57 L510.50,993.78 L510.70,993.95 L510.90,994.09 L511.10,994.22 L511.30,994.35 L511.50,994.45 L511.70,994.55 L511.90,994.63 L512.10,994.71 L512.30,994.77 L512.50,994.83 L512.70,994.89 L512.90,994.94 L513.00,994.97 L513.10,994.99 L513.30,995.02 L513.50,995.06 L513.70,995.09 L513.90,995.12 L514.10,995.15 L514.30,995.18 L514.50,995.20 L514.70,995.23 L514.90,995.25 L515.10,995.26 L515.30,995.26 L515.50,995.26 L515.70,995.25 L515.90,995.25 L516.00,995.25 L516.10,995.26 L516.30,995.27 L516.50,995.28 L516.70,995.29 L516.90,995.30 L517.10,995.27 L517.30,995.20 L517.50,995.12 L519.00,995.18 L520.50,995.35 L522.00,995.51 L523.50,995.52 L525.00,995.17 L526.50,994.90 L528.00,995.09 L529.50,995.52 L531.00,995.84 L532.50,995.86 L534.00,995.29 L535.50,995.15 L537.00,995.63 L538.50,995.75 L540.00,995.62 L541.50,995.20 L542.93,995.04 L543.00,995.04 L543.13,995.03 L543.33,995.00 L543.53,994.97 L543.73,994.94 L543.93,994.91 L544.13,994.94 L544.33,995.01 L544.50,995.08 L544.53,995.09 L544.73,995.16 L544.93,995.22 L545.13,995.23 L545.33,995.20 L545.53,995.17 L545.73,995.13 L545.93,995.10 L546.00,995.08 L546.13,995.10 L546.33,995.12 L546.53,995.13 L546.73,995.14 L546.93,995.15 L547.13,995.08 L547.33,994.97 L547.50,994.87 L547.53,994.85 L547.73,994.72 L547.93,994.57 L548.13,994.39 L548.33,994.18 L548.53,993.93 L548.73,993.65 L548.93,993.32 L549.00,993.19 L549.13,992.94 L549.33,992.51 L549.53,992.01 L549.73,991.40 L549.93,990.67 L550.13,989.77 L550.33,988.52 L550.50,986.89 L550.53,986.52 L550.73,983.17 L550.93,977.71 L551.13,969.57 L551.33,959.00 L551.53,947.55 L551.73,938.23 L551.93,934.55 L552.00,934.94 L552.13,937.67 L552.33,944.87 L552.53,952.23 L552.73,957.14 L552.93,959.08 L553.13,959.37 L553.33,960.33 L553.50,962.94 L553.53,963.59 L553.73,968.81 L553.93,974.63 L554.13,979.84 L554.33,983.84 L554.53,986.63 L554.73,988.47 L554.93,989.70 L555.00,990.03 L555.13,990.61 L555.33,991.35 L555.53,991.96 L555.73,992.48 L555.93,992.92 L556.13,993.24 L556.33,993.49 L556.50,993.66 L556.53,993.68 L556.73,993.84 L556.93,993.96 L557.13,994.15 L557.33,994.39 L557.53,994.60 L557.73,994.80 L557.93,994.98 L558.00,995.05 L558.13,995.10 L558.33,995.18 L558.53,995.26 L558.73,995.33 L558.93,995.39 L559.13,995.43 L559.33,995.46 L559.50,995.48 L559.53,995.49 L559.73,995.51 L559.93,995.53 L560.13,995.47 L560.33,995.38 L560.53,995.27 L560.73,995.17 L560.93,995.07 L561.00,995.03 L561.13,995.01 L561.33,994.99 L561.53,994.95 L561.73,994.92 L561.93,994.89 L562.13,994.84 L562.33,994.78 L562.50,994.73 L562.53,994.72 L562.73,994.66 L562.93,994.60 L564.00,994.93 L565.50,995.00 L567.00,995.28 L568.50,995.38 L569.93,995.27 L570.00,995.27 L570.13,995.28 L570.33,995.30 L570.53,995.32 L570.73,995.34 L570.93,995.36 L571.13,995.35 L571.33,995.34 L571.50,995.33 L571.53,995.32 L571.73,995.31 L571.93,995.29 L572.13,995.30 L572.33,995.31 L572.53,995.32 L572.73,995.33 L572.93,995.34 L573.00,995.34 L573.13,995.34 L573.33,995.33 L573.53,995.32 L573.73,995.31 L573.93,995.30 L574.13,995.28 L574.33,995.25 L574.50,995.23 L574.53,995.22 L574.73,995.19 L574.93,995.16 L575.13,995.12 L575.33,995.07 L575.53,995.01 L575.73,994.95 L575.93,994.87 L576.00,994.84 L576.13,994.77 L576.33,994.65 L576.53,994.50 L576.73,994.34 L576.93,994.13 L577.13,993.92 L577.33,993.64 L577.50,993.24 L577.53,993.15 L577.73,992.30 L577.93,990.89 L578.13,988.73 L578.33,985.92 L578.53,982.88 L578.73,980.41 L578.93,979.48 L579.00,979.61 L579.13,980.36 L579.33,982.36 L579.53,984.43 L579.73,985.84 L579.93,986.35 L580.13,986.22 L580.33,986.06 L580.50,986.34 L580.53,986.45 L580.73,987.53 L580.93,988.98 L581.13,990.43 L581.33,991.64 L581.53,992.51 L581.73,993.08 L581.93,993.45 L582.00,993.55 L582.13,993.76 L582.33,994.03 L582.53,994.25 L582.73,994.45 L582.93,994.63 L583.13,994.76 L583.33,994.86 L583.50,994.94 L583.53,994.95 L583.73,995.03 L583.93,995.10 L584.13,995.17 L584.33,995.25 L584.53,995.32 L584.73,995.38 L584.93,995.45 L585.00,995.47 L585.13,995.51 L585.33,995.57 L585.53,995.63 L585.73,995.69 L585.93,995.74 L586.13,995.72 L586.33,995.65 L586.50,995.59 L586.53,995.58 L586.73,995.51 L586.93,995.44 L587.13,995.41 L587.33,995.40 L587.53,995.39 L587.73,995.38 L587.93,995.37 L588.00,995.37 L588.13,995.30 L588.33,995.20 L588.53,995.10 L588.73,995.00 L588.93,994.89 L589.13,994.92 L589.33,995.02 L589.50,995.10 L589.53,995.11 L589.73,995.21 L589.93,995.30 L591.00,995.28 L592.50,995.34 L594.00,995.08 L595.50,995.40 L597.00,995.41 L598.50,995.46 L600.00,995.61 L601.50,995.40 L603.00,995.47 L604.50,995.33 L606.00,995.33 L607.50,995.51 L609.00,995.80 L610.50,995.80 L612.00,995.47 L613.50,995.70 L615.00,995.72 L616.50,995.40 L618.00,995.22 L619.50,995.42 L621.00,995.79 L622.50,995.28 L624.00,995.17 L625.50,995.58 L627.00,995.27 L628.50,995.42 L630.00,995.46 L631.50,995.20 L633.00,995.40 L634.50,995.51 L636.00,995.33 L637.50,995.42 L638.72,995.35 L638.92,995.35 L639.00,995.35 L639.12,995.32 L639.32,995.28 L639.52,995.24 L639.72,995.20 L639.92,995.16 L640.12,995.13 L640.32,995.10 L640.50,995.07 L640.52,995.06 L640.72,995.03 L640.92,995.00 L641.12,994.99 L641.32,994.99 L641.52,995.00 L641.72,995.00 L641.92,995.00 L642.00,995.01 L642.12,995.05 L642.32,995.12 L642.52,995.20 L642.72,995.27 L642.92,995.34 L643.12,995.38 L643.32,995.39 L643.50,995.40 L643.52,995.40 L643.72,995.41 L643.92,995.41 L644.12,995.40 L644.32,995.37 L644.52,995.34 L644.72,995.31 L644.92,995.27 L645.00,995.26 L645.12,995.19 L645.32,995.08 L645.52,994.95 L645.72,994.82 L645.92,994.66 L646.12,994.54 L646.32,994.38 L646.50,994.12 L646.52,994.09 L646.72,993.59 L646.92,992.82 L647.12,991.81 L647.27,990.98 L647.32,990.71 L647.47,989.99 L647.52,989.80 L647.67,989.48 L647.72,989.47 L647.87,989.70 L647.92,989.86 L648.00,990.17 L648.07,990.47 L648.12,990.70 L648.27,991.41 L648.32,991.63 L648.47,992.19 L648.52,992.34 L648.67,992.64 L648.72,992.69 L648.87,992.72 L648.92,992.69 L649.07,992.52 L649.12,992.44 L649.27,992.21 L649.32,992.15 L649.47,992.06 L649.50,992.06 L649.52,992.07 L649.67,992.21 L649.72,992.30 L649.87,992.62 L649.92,992.74 L650.07,993.13 L650.12,993.26 L650.27,993.63 L650.32,993.73 L650.47,994.01 L650.52,994.08 L650.67,994.26 L650.72,994.31 L650.87,994.42 L650.92,994.45 L651.00,994.48 L651.07,994.49 L651.12,994.50 L651.27,994.50 L651.32,994.49 L651.47,994.48 L651.52,994.47 L651.67,994.45 L651.72,994.44 L651.87,994.40 L651.92,994.39 L652.07,994.41 L652.12,994.43 L652.27,994.50 L652.32,994.52 L652.47,994.58 L652.50,994.59 L652.52,994.60 L652.67,994.66 L652.72,994.68 L652.87,994.73 L652.92,994.75 L653.07,994.78 L653.12,994.78 L653.27,994.78 L653.32,994.78 L653.47,994.78 L653.52,994.78 L653.67,994.77 L653.72,994.77 L653.87,994.75 L653.92,994.74 L654.00,994.73 L654.07,994.74 L654.12,994.74 L654.27,994.75 L654.32,994.75 L654.47,994.74 L654.52,994.73 L654.67,994.67 L654.72,994.64 L654.87,994.50 L654.92,994.43 L655.07,994.08 L655.12,993.91 L655.27,993.27 L655.32,993.00 L655.47,992.07 L655.50,991.86 L655.52,991.72 L655.67,990.53 L655.72,990.11 L655.87,988.86 L655.92,988.46 L656.07,987.46 L656.12,987.22 L656.27,986.86 L656.32,986.87 L656.47,987.27 L656.52,987.51 L656.67,988.37 L656.72,988.69 L656.87,989.60 L656.92,989.88 L657.00,990.26 L657.07,990.56 L657.12,990.73 L657.27,991.05 L657.32,991.09 L657.47,991.05 L657.52,990.99 L657.67,990.72 L657.72,990.61 L657.87,990.34 L657.92,990.27 L658.07,990.23 L658.12,990.27 L658.27,990.58 L658.32,990.73 L658.47,991.28 L658.50,991.40 L658.52,991.48 L658.67,992.09 L658.72,992.29 L658.87,992.84 L659.07,993.42 L659.27,993.84 L659.47,994.13 L659.67,994.32 L659.87,994.47 L660.00,994.55 L660.07,994.57 L660.27,994.61 L660.47,994.64 L660.67,994.66 L660.87,994.67 L661.07,994.68 L661.27,994.69 L661.47,994.70 L661.50,994.70 L661.67,994.70 L661.87,994.70 L662.07,994.69 L662.27,994.68 L662.47,994.67 L662.67,994.66 L662.87,994.64 L663.00,994.63 L663.07,994.65 L663.27,994.69 L663.47,994.73 L663.67,994.77 L663.87,994.82 L664.07,994.86 L664.27,994.93 L664.47,994.99 L664.50,995.00 L664.67,995.05 L664.87,995.11 L665.07,995.18 L665.27,995.26 L665.47,995.34 L665.67,995.43 L665.87,995.51 L666.00,995.57" stroke="#ff0a90" stroke-width="6.1"/>
<path d="M702.00,995.13 L703.00,995.17 L704.00,995.46 L705.00,996.06 L706.00,995.97 L707.00,995.75 L708.00,995.55 L709.00,995.86 L710.00,996.07 L711.00,995.91 L712.00,995.52 L713.00,995.18 L714.00,995.21 L715.00,995.57 L716.00,995.34 L717.00,995.26 L718.00,994.79 L719.00,994.99 L720.00,995.26 L721.00,995.32 L722.00,995.55 L723.00,995.71 L724.00,995.91 L725.00,995.98 L726.00,995.68 L727.00,995.71 L728.00,995.48 L729.00,995.69 L730.00,995.68 L731.00,995.83 L732.00,995.80 L733.00,995.91 L734.00,995.65 L735.00,995.56 L736.00,995.28 L737.00,995.37 L738.00,995.32 L739.00,995.53 L740.00,995.59 L741.00,995.56 L742.00,995.67 L743.00,995.74 L744.00,995.45 L745.00,995.30 L746.00,995.16 L747.00,995.60 L748.00,995.66 L749.00,995.99 L750.00,995.83 L751.00,995.85 L752.00,995.56 L753.00,995.51 L754.00,995.12 L755.00,995.19 L756.00,995.53 L757.00,995.74 L758.00,995.87 L759.00,995.65 L760.00,995.82 L761.00,995.62 L762.00,995.70 L763.00,995.41 L764.00,995.55 L765.00,995.76 L766.00,996.09 L767.00,995.89 L768.00,995.30 L769.00,995.16 L770.00,995.06 L771.00,995.34 L772.00,995.47 L773.00,995.29 L774.00,995.27 L775.00,995.08 L776.00,995.56 L777.00,995.66 L778.00,995.96 L779.00,995.91 L780.00,995.96 L781.00,995.37 L782.00,995.30 L783.00,995.14 L784.00,995.45 L785.00,995.62 L786.00,995.47 L787.00,995.07 L788.00,995.20 L789.00,995.37 L790.00,995.71 L791.00,995.65 L792.00,995.80 L793.00,995.90 L794.00,995.72 L795.00,995.71 L796.00,995.54 L797.00,995.51 L798.00,995.72 L799.00,995.95 L800.00,995.99 L801.00,995.98 L802.00,995.93 L803.00,996.14 L804.00,995.88 L805.00,995.81 L806.00,995.61 L807.00,995.61 L808.00,995.42 L809.00,995.69 L810.00,995.72 L811.00,996.29 L812.00,995.85 L813.00,995.70 L814.00,995.16 L815.00,995.25 L816.00,995.41 L817.00,995.94 L818.00,995.90 L819.00,995.74 L820.00,995.57 L821.00,995.72 L822.00,995.67 L823.00,995.44 L824.00,995.25 L825.00,995.55 L826.00,995.53 L827.00,995.58 L828.00,995.57 L829.00,995.57 L830.00,995.79 L831.00,995.38 L832.00,995.37 L833.00,995.42 L834.00,995.74 L835.00,995.70 L836.00,995.29 L837.00,994.93 L838.00,995.13 L839.00,995.28 L840.00,995.59 L841.00,995.52 L842.00,996.00 L843.00,996.15 L844.00,995.92 L845.00,995.52 L846.00,995.12 L847.00,995.40 L848.00,995.31 L849.00,995.55 L850.00,995.46 L851.00,995.17 L852.00,995.23 L853.00,994.99 L854.00,995.17 L855.00,994.96 L856.00,995.28 L857.00,995.23 L858.00,995.32 L859.00,995.31 L860.00,995.81 L861.00,995.73 L862.00,995.76 L863.00,995.56 L864.00,995.64 L865.00,995.63 L866.00,995.68 L867.00,995.60 L868.00,995.11 L869.00,994.91 L870.00,995.06 L871.00,995.60 L872.00,995.73 L873.00,995.87 L874.00,995.80 L875.00,995.63 L876.00,995.26 L877.00,995.03 L878.00,995.28 L879.00,995.37 L880.00,995.44 L881.00,995.53 L882.00,995.41 L883.00,995.68 L884.00,995.28 L885.00,995.41 L886.00,995.18 L887.00,995.40 L888.00,995.43 L889.00,995.66 L890.00,995.50 L891.00,995.86 L892.00,995.65 L893.00,995.45 L894.00,994.99 L895.00,994.90 L896.00,995.24 L897.00,995.17 L898.00,995.52 L899.00,995.32 L900.00,995.46 L901.00,995.45 L902.00,995.25 L903.00,995.67 L904.00,995.36 L905.00,995.39 L906.00,995.29 L907.00,995.40 L908.00,995.42 L909.00,995.28 L910.00,995.58 L911.00,996.13 L912.00,996.13 L913.00,995.70 L914.00,995.35 L915.00,995.39 L916.00,995.62 L917.00,995.66 L918.00,995.77 L919.00,995.49 L920.00,995.80 L921.00,995.38 L922.00,995.51 L923.00,995.23 L924.00,995.54 L925.00,995.82 L926.00,995.58 L927.00,995.29 L928.00,994.98 L929.00,995.21 L930.00,995.23 L931.00,995.17 L932.00,995.44 L933.00,995.69 L934.00,995.88 L935.00,995.78 L936.00,995.63 L937.00,995.37 L938.00,994.91 L939.00,995.04 L940.00,995.29 L941.00,995.58 L942.00,995.31 L943.00,995.35 L944.00,995.40 L945.00,995.80 L946.00,995.99 L947.00,995.85 L948.00,995.92 L949.00,995.87 L950.00,996.22 L951.00,995.89 L952.00,995.91 L953.00,995.39 L954.00,995.61 L955.00,995.31 L956.00,995.63 L957.00,995.31 L958.00,995.42 L959.00,995.35 L960.00,995.23 L961.00,995.23 L962.00,995.36 L963.00,995.58 L964.00,995.72 L965.00,995.92 L966.00,995.90 L967.00,995.91 L968.00,995.54 L969.00,995.30 L970.00,995.17 L971.00,994.91 L972.00,995.07 L973.00,995.28 L974.00,995.33 L975.00,995.10 L976.00,994.61 L977.00,994.73 L978.00,994.96 L979.00,994.81 L980.00,994.50 L981.00,994.30 L982.00,994.22 L983.00,994.32 L984.00,993.89 L985.00,993.94 L986.00,993.61 L987.00,993.52 L988.00,992.80 L989.00,992.48 L990.00,992.25 L991.00,992.48 L992.00,992.35 L993.00,991.98 L994.00,991.35 L995.00,991.27 L996.00,991.05 L997.00,991.37 L998.00,991.07 L999.00,990.98 L1000.00,990.35 L1001.00,990.34 L1002.00,990.18 L1003.00,990.13 L1004.00,989.33 L1005.00,989.14 L1006.00,988.69 L1007.00,988.38 L1008.00,988.03 L1009.00,987.86 L1010.00,987.68 L1011.00,987.81 L1012.00,987.25 L1013.00,986.91 L1014.00,986.09 L1015.00,985.96 L1016.00,985.82 L1017.00,985.43 L1018.00,985.34 L1019.00,984.82 L1020.00,984.12 L1021.00,983.14 L1022.00,982.27 L1023.00,981.03 L1024.00,979.60 L1025.00,977.48 L1026.00,975.25 L1027.00,972.65 L1028.00,970.13 L1029.00,967.72 L1030.00,964.79 L1031.00,961.86 L1032.00,957.78 L1033.00,953.91 L1034.00,949.94 L1035.00,946.63 L1036.00,943.80 L1037.00,940.73 L1038.00,938.42 L1039.00,936.30 L1040.00,934.62 L1041.00,934.49 L1042.00,935.66 L1043.00,938.29 L1044.00,940.88 L1045.00,944.04 L1046.00,946.75 L1047.00,949.82 L1048.00,952.65 L1049.00,955.92 L1050.00,958.40 L1051.00,960.64 L1052.00,962.54 L1053.00,964.09 L1054.00,964.93 L1055.00,965.41 L1056.00,965.68 L1057.00,965.41 L1058.00,964.80 L1059.00,964.06 L1060.00,963.73 L1061.00,963.61 L1062.00,963.49 L1063.00,963.54 L1064.00,963.72 L1065.00,963.74 L1066.00,964.15 L1067.00,965.86 L1068.00,967.60 L1069.00,969.68 L1070.00,970.61 L1071.00,972.37 L1072.00,973.61 L1073.00,975.07 L1074.00,976.11 L1075.00,977.37 L1076.00,978.54 L1077.00,979.99 L1078.00,981.30 L1079.00,982.79 L1080.00,984.03 L1081.00,984.97 L1082.00,985.96 L1083.00,986.86 L1084.00,988.21 L1085.00,989.39 L1086.00,990.22 L1087.00,990.53 L1088.00,990.99 L1089.00,991.66 L1090.00,992.32 L1091.00,992.77 L1092.00,993.08 L1093.00,993.66 L1094.00,993.66 L1095.00,994.00 L1096.00,994.09 L1097.00,994.47 L1098.00,994.77 L1099.00,994.87 L1100.00,994.99 L1101.00,995.10 L1102.00,995.09 L1103.00,995.41 L1104.00,995.29 L1105.00,995.28 L1106.00,995.51 L1107.00,995.99 L1108.00,996.45 L1109.00,996.09 L1110.00,995.54 L1111.00,995.57 L1112.00,995.99 L1113.00,996.04 L1114.00,995.98 L1115.00,995.98 L1116.00,996.36 L1117.00,996.34 L1118.00,996.42 L1119.00,996.07 L1120.00,996.19 L1121.00,996.02 L1122.00,996.01 L1123.00,995.84 L1124.00,995.60 L1125.00,996.29 L1126.00,996.36 L1127.00,996.41 L1128.00,995.86 L1129.00,996.30 L1130.00,996.65 L1131.00,996.60 L1132.00,996.04 L1133.00,995.81 L1134.00,995.99 L1135.00,996.18 L1136.00,995.96 L1137.00,995.62 L1138.00,995.59 L1139.00,995.55 L1140.00,996.29 L1141.00,996.30 L1142.00,996.50 L1143.00,996.14 L1144.00,996.01 L1145.00,996.00 L1146.00,995.74 L1147.00,995.85 L1148.00,995.90 L1149.00,996.09 L1150.00,995.62 L1151.00,995.64 L1152.00,995.50 L1153.00,996.13 L1154.00,996.05 L1155.00,996.17 L1156.00,996.09 L1157.00,995.97 L1158.00,995.98 L1159.00,995.84 L1160.00,996.04 L1161.00,996.19 L1162.00,996.11 L1163.00,995.94 L1164.00,995.66 L1165.00,996.10 L1166.00,996.04 L1167.00,996.16 L1168.00,995.82 L1169.00,995.80 L1170.00,995.90 L1171.00,995.90 L1172.00,996.22 L1173.00,995.98 L1174.00,996.08 L1175.00,996.28 L1176.00,996.58 L1177.00,996.52 L1178.00,996.31 L1179.00,995.96 L1180.00,996.04 L1181.00,995.95 L1182.00,996.24 L1183.00,996.25 L1184.00,996.31 L1185.00,996.12 L1186.00,995.94 L1187.00,995.65 L1188.00,995.83 L1189.00,995.62 L1190.00,995.77 L1191.00,995.55 L1192.00,995.88 L1193.00,996.27 L1194.00,996.32 L1195.00,996.46 L1196.00,996.32 L1197.00,996.23 L1198.00,996.02 L1199.00,995.83 L1200.00,995.88 L1201.00,995.83 L1202.00,995.76 L1203.00,995.92 L1204.00,995.91 L1205.00,996.13 L1206.00,996.20 L1207.00,996.27 L1208.00,996.13 L1209.00,995.76 L1210.00,995.53 L1211.00,995.26 L1212.00,995.57 L1213.00,996.06 L1214.00,996.20 L1215.00,995.98 L1216.00,995.58 L1217.00,995.69 L1218.00,995.67 L1219.00,995.68 L1220.00,995.75 L1221.00,996.16 L1222.00,996.33 L1223.00,996.21 L1224.00,995.96 L1225.00,996.04 L1226.00,995.56 L1227.00,995.65 L1228.00,995.59 L1229.00,996.01 L1230.00,995.92 L1231.00,995.95 L1232.00,995.93 L1233.00,996.09 L1234.00,995.89 L1235.00,996.04 L1236.00,996.08 L1237.00,996.04 L1238.00,996.14 L1239.00,996.06 L1240.00,996.27 L1241.00,996.32 L1242.00,996.33 L1243.00,996.14 L1244.00,996.03 L1245.00,996.15 L1246.00,996.23 L1247.00,996.09 L1248.00,995.86 L1249.00,995.84 L1250.00,995.75" stroke="#ff0a90" stroke-width="6.1"/>
<path d="M117.00,1084.43 L118.50,1084.58 L120.00,1084.59 L121.50,1084.58 L123.00,1084.55 L124.50,1084.23 L126.00,1084.06 L127.50,1084.52 L129.00,1084.59 L130.50,1084.16 L132.00,1084.30 L133.50,1084.35 L135.00,1083.98 L136.50,1083.94 L138.00,1084.07 L139.50,1084.44 L141.00,1084.09 L142.50,1083.63 L144.00,1083.75 L145.50,1083.91 L147.00,1084.33 L148.50,1083.95 L150.00,1083.65 L151.50,1084.22 L153.00,1084.28 L154.50,1084.22 L156.00,1084.15 L157.50,1084.01 L159.00,1083.95 L160.50,1083.90 L162.00,1083.99 L163.50,1084.33 L165.00,1084.42 L166.50,1084.08 L168.00,1083.67 L169.50,1083.94 L171.00,1084.31 L172.50,1084.06 L174.00,1083.72 L175.50,1083.57 L177.00,1083.81 L178.50,1083.95 L179.61,1083.54 L179.81,1083.46 L180.00,1083.38 L180.01,1083.38 L180.21,1083.30 L180.41,1083.23 L180.61,1083.15 L180.81,1083.06 L181.01,1082.97 L181.21,1082.92 L181.41,1082.87 L181.50,1082.84 L181.61,1082.81 L181.81,1082.73 L182.01,1082.65 L182.21,1082.54 L182.41,1082.42 L182.61,1082.28 L182.81,1082.12 L183.00,1081.94 L183.01,1081.93 L183.21,1081.72 L183.41,1081.47 L183.61,1081.19 L183.81,1080.88 L184.01,1080.52 L184.21,1080.12 L184.41,1079.68 L184.50,1079.46 L184.61,1079.18 L184.81,1078.61 L185.01,1077.98 L185.21,1077.25 L185.41,1076.40 L185.61,1075.39 L185.81,1074.09 L186.00,1072.39 L186.01,1072.28 L186.21,1069.56 L186.41,1065.24 L186.61,1058.29 L186.81,1047.33 L187.01,1030.82 L187.21,1007.29 L187.41,976.05 L187.50,959.55 L187.61,937.63 L187.81,894.40 L188.01,850.65 L188.21,812.27 L188.41,785.69 L188.61,776.03 L188.81,785.16 L189.00,809.43 L189.01,811.05 L189.21,848.73 L189.41,891.96 L189.61,934.91 L189.81,973.27 L190.01,1004.65 L190.21,1028.47 L190.41,1045.35 L190.50,1051.03 L190.61,1056.65 L190.81,1063.90 L191.01,1068.46 L191.21,1071.36 L191.41,1073.30 L191.61,1074.69 L191.81,1075.78 L192.00,1076.65 L192.01,1076.69 L192.21,1077.50 L192.41,1078.23 L192.61,1078.88 L192.81,1079.47 L193.01,1080.00 L193.21,1080.45 L193.41,1080.85 L193.50,1081.02 L193.61,1081.21 L193.81,1081.53 L194.01,1081.81 L194.21,1082.09 L194.41,1082.35 L194.61,1082.57 L194.81,1082.78 L195.00,1082.95 L195.01,1082.96 L195.21,1083.08 L195.41,1083.18 L195.61,1083.27 L195.81,1083.35 L196.01,1083.42 L196.21,1083.46 L196.41,1083.51 L196.50,1083.52 L196.61,1083.54 L196.81,1083.57 L197.01,1083.59 L197.21,1083.60 L197.41,1083.61 L197.61,1083.61 L197.81,1083.61 L198.00,1083.61 L198.01,1083.61 L198.21,1083.62 L198.41,1083.61 L198.61,1083.61 L198.81,1083.61 L199.01,1083.61 L199.21,1083.62 L199.41,1083.64 L199.50,1083.64 L199.61,1083.65 L201.00,1084.01 L202.50,1083.86 L204.00,1083.70 L205.50,1083.84 L207.00,1083.90 L208.50,1084.12 L210.00,1083.88 L211.50,1084.03 L213.00,1084.48 L214.50,1084.33 L216.00,1084.50 L217.50,1084.66 L219.00,1084.57 L220.50,1084.49 L222.00,1084.32 L223.50,1084.43 L225.00,1084.51 L226.50,1084.26 L228.00,1083.89 L229.50,1084.13 L231.00,1084.24 L232.50,1084.08 L234.00,1084.24 L235.50,1084.54 L237.00,1084.42 L238.50,1084.05 L240.00,1084.11 L241.50,1084.11 L243.00,1084.23 L244.50,1084.25 L246.00,1084.38 L247.50,1084.41 L249.00,1083.85 L250.50,1083.94 L252.00,1084.12 L253.50,1084.13 L255.00,1084.35 L256.50,1084.07 L258.00,1083.95 L259.50,1084.24 L261.00,1084.13 L262.50,1083.81 L264.00,1083.94 L265.50,1084.02 L267.00,1084.24 L268.50,1084.46 L270.00,1084.37 L271.50,1083.97 L273.00,1083.91 L274.50,1084.09 L276.00,1084.23 L276.12,1084.25 L276.32,1084.28 L276.52,1084.32 L276.72,1084.35 L276.92,1084.39 L277.12,1084.38 L277.32,1084.35 L277.50,1084.32 L277.52,1084.32 L277.72,1084.29 L277.92,1084.26 L278.12,1084.20 L278.32,1084.12 L278.52,1084.04 L278.72,1083.95 L278.92,1083.87 L279.00,1083.84 L279.12,1083.84 L279.32,1083.85 L279.52,1083.85 L279.72,1083.85 L279.92,1083.86 L280.12,1083.89 L280.32,1083.94 L280.50,1083.98 L280.52,1083.99 L280.72,1084.04 L280.92,1084.08 L281.12,1084.10 L281.32,1084.10 L281.52,1084.09 L281.72,1084.08 L281.92,1084.07 L282.00,1084.06 L282.12,1084.04 L282.32,1083.99 L282.52,1083.94 L282.72,1083.88 L282.92,1083.81 L283.12,1083.75 L283.32,1083.68 L283.50,1083.60 L283.52,1083.59 L283.72,1083.46 L283.92,1083.24 L284.12,1082.95 L284.32,1082.50 L284.52,1081.88 L284.72,1081.18 L284.92,1080.64 L285.00,1080.53 L285.12,1080.46 L285.32,1080.67 L285.52,1081.13 L285.72,1081.75 L285.92,1082.40 L286.12,1083.02 L286.32,1083.52 L286.50,1083.85 L286.52,1083.89 L286.72,1084.15 L286.92,1084.34 L287.12,1084.42 L287.32,1084.42 L287.52,1084.42 L287.72,1084.41 L287.92,1084.39 L288.00,1084.38 L288.12,1084.35 L288.32,1084.29 L288.52,1084.22 L288.72,1084.16 L288.92,1084.09 L289.12,1084.02 L289.32,1083.95 L289.50,1083.88 L289.52,1083.88 L289.72,1083.81 L289.92,1083.73 L290.12,1083.74 L290.32,1083.79 L290.52,1083.85 L290.72,1083.90 L290.92,1083.96 L291.00,1083.98 L291.12,1084.00 L291.32,1084.02 L291.52,1084.04 L291.72,1084.06 L291.92,1084.08 L292.12,1084.07 L292.32,1084.04 L292.50,1084.02 L292.52,1084.01 L292.72,1083.98 L292.92,1083.95 L293.12,1083.93 L293.32,1083.90 L293.52,1083.88 L293.72,1083.85 L293.92,1083.83 L294.00,1083.82 L294.12,1083.84 L294.32,1083.88 L294.52,1083.92 L294.72,1083.95 L294.92,1083.99 L295.12,1084.05 L295.32,1084.12 L295.50,1084.19 L295.52,1084.20 L295.72,1084.27 L295.92,1084.35 L296.12,1084.36 L297.00,1084.26 L298.50,1084.64 L300.00,1084.82 L301.50,1084.16 L303.00,1084.27 L304.50,1084.53 L306.00,1084.46 L307.50,1084.58 L309.00,1084.49 L310.50,1083.95 L312.00,1083.64 L313.50,1083.88 L315.00,1083.69 L316.50,1083.74 L318.00,1083.92 L319.50,1083.83 L320.13,1083.74 L320.33,1083.74 L320.53,1083.75 L320.73,1083.76 L320.93,1083.76 L321.00,1083.76 L321.13,1083.74 L321.33,1083.70 L321.53,1083.67 L321.73,1083.63 L321.93,1083.58 L322.13,1083.53 L322.33,1083.47 L322.50,1083.42 L322.53,1083.41 L322.73,1083.34 L322.93,1083.27 L323.13,1083.20 L323.33,1083.13 L323.53,1083.05 L323.73,1082.96 L323.93,1082.86 L324.00,1082.82 L324.13,1082.72 L324.33,1082.56 L324.53,1082.36 L324.73,1082.14 L324.93,1081.87 L325.13,1081.60 L325.33,1081.29 L325.50,1080.97 L325.53,1080.91 L325.73,1080.44 L325.93,1079.86 L326.13,1079.11 L326.33,1078.19 L326.53,1077.11 L326.73,1075.83 L326.93,1074.33 L327.00,1073.74 L327.13,1072.57 L327.33,1070.28 L327.53,1066.93 L327.73,1061.56 L327.93,1052.71 L328.13,1038.83 L328.33,1019.19 L328.50,998.84 L328.53,995.05 L328.73,970.43 L328.93,951.86 L329.13,945.17 L329.33,950.28 L329.53,962.79 L329.73,979.45 L329.93,998.51 L330.00,1005.33 L330.13,1017.57 L330.33,1034.20 L330.53,1047.21 L330.73,1056.55 L330.93,1062.84 L331.13,1066.98 L331.33,1069.81 L331.50,1071.60 L331.53,1071.88 L331.73,1073.53 L331.93,1074.91 L332.13,1076.17 L332.33,1077.30 L332.53,1078.27 L332.73,1079.10 L332.93,1079.81 L333.00,1080.03 L333.13,1080.40 L333.33,1080.88 L333.53,1081.29 L333.73,1081.64 L333.93,1081.93 L334.13,1082.17 L334.23,1082.27 L334.33,1082.37 L334.43,1082.46 L334.50,1082.52 L334.53,1082.55 L334.63,1082.63 L334.73,1082.70 L334.83,1082.77 L334.93,1082.84 L335.03,1082.89 L335.13,1082.90 L335.23,1082.92 L335.33,1082.93 L335.43,1082.94 L335.53,1082.94 L335.63,1082.95 L335.73,1082.95 L335.83,1082.95 L335.93,1082.95 L336.00,1082.95 L336.03,1082.94 L336.13,1082.92 L336.23,1082.89 L336.33,1082.87 L336.43,1082.84 L336.53,1082.81 L336.63,1082.78 L336.73,1082.75 L336.83,1082.72 L336.93,1082.69 L337.03,1082.67 L337.13,1082.68 L337.23,1082.69 L337.33,1082.70 L337.43,1082.70 L337.50,1082.71 L337.53,1082.71 L337.63,1082.72 L337.73,1082.72 L337.83,1082.73 L337.93,1082.73 L338.03,1082.74 L338.13,1082.77 L338.23,1082.79 L338.33,1082.82 L338.43,1082.84 L338.53,1082.86 L338.63,1082.88 L338.73,1082.90 L338.83,1082.91 L338.93,1082.93 L339.00,1082.94 L339.03,1082.95 L339.13,1082.98 L339.23,1083.01 L339.33,1083.04 L339.43,1083.07 L339.53,1083.09 L339.63,1083.11 L339.73,1083.13 L339.83,1083.14 L339.93,1083.14 L340.03,1083.13 L340.13,1083.09 L340.23,1083.04 L340.43,1082.93 L340.50,1082.88 L340.63,1082.79 L340.83,1082.62 L341.03,1082.41 L341.23,1082.14 L341.43,1081.78 L341.63,1081.25 L341.83,1080.38 L342.00,1079.20 L342.03,1078.94 L342.23,1076.67 L342.43,1073.46 L342.63,1069.53 L342.83,1065.54 L343.03,1062.56 L343.23,1061.52 L343.43,1062.39 L343.50,1062.99 L343.63,1064.38 L343.83,1066.96 L344.03,1069.92 L344.23,1072.98 L344.43,1075.75 L344.63,1077.99 L344.83,1079.65 L345.00,1080.65 L345.03,1080.78 L345.23,1081.47 L345.43,1081.92 L345.63,1082.24 L345.83,1082.47 L346.03,1082.67 L346.23,1082.88 L346.43,1083.06 L346.50,1083.12 L346.63,1083.22 L346.83,1083.35 L347.03,1083.47 L347.23,1083.59 L347.43,1083.70 L347.63,1083.80 L347.83,1083.88 L348.00,1083.95 L348.03,1083.95 L348.23,1083.96 L348.43,1083.97 L348.63,1083.98 L348.83,1083.98 L349.03,1083.97 L349.23,1083.93 L349.43,1083.90 L349.50,1083.88 L349.63,1083.86 L349.83,1083.82 L350.03,1083.77 L350.23,1083.71 L350.43,1083.65 L350.63,1083.59 L350.83,1083.53 L351.00,1083.48 L351.03,1083.49 L351.23,1083.57 L351.43,1083.64 L351.63,1083.72 L351.83,1083.80 L352.03,1083.87 L352.23,1083.92 L352.43,1083.97 L352.50,1083.98 L352.63,1084.01 L352.83,1084.06 L353.03,1084.10 L353.23,1084.10 L353.43,1084.09 L353.63,1084.09 L353.83,1084.08 L354.00,1084.08 L354.03,1084.07 L354.23,1084.06 L355.50,1084.00 L357.00,1084.13 L358.50,1083.68 L360.00,1083.62 L361.50,1083.95 L363.00,1084.42 L364.50,1084.49 L366.00,1084.05 L367.50,1083.94 L369.00,1084.16 L370.50,1084.21 L372.00,1084.10 L373.50,1084.24 L375.00,1084.21 L376.50,1084.32 L378.00,1084.18 L379.50,1083.82 L381.00,1083.47 L382.50,1083.35 L383.40,1083.53 L383.60,1083.59 L383.80,1083.65 L384.00,1083.71 L384.20,1083.71 L384.40,1083.71 L384.60,1083.72 L384.80,1083.72 L385.00,1083.71 L385.20,1083.64 L385.40,1083.57 L385.50,1083.53 L385.60,1083.49 L385.80,1083.41 L386.00,1083.33 L386.20,1083.29 L386.40,1083.24 L386.60,1083.19 L386.80,1083.12 L387.00,1083.05 L387.20,1082.92 L387.40,1082.77 L387.60,1082.60 L387.80,1082.41 L388.00,1082.19 L388.20,1082.01 L388.40,1081.79 L388.50,1081.65 L388.60,1081.51 L388.80,1081.15 L389.00,1080.72 L389.20,1080.09 L389.40,1079.34 L389.60,1078.45 L389.80,1077.40 L390.00,1076.17 L390.20,1074.78 L390.40,1073.08 L390.60,1070.85 L390.80,1067.63 L391.00,1062.48 L391.20,1053.90 L391.40,1040.42 L391.50,1031.51 L391.60,1021.20 L391.80,997.35 L392.00,972.76 L392.20,954.03 L392.40,947.17 L392.60,952.15 L392.80,963.39 L393.00,976.23 L393.20,989.69 L393.40,1004.65 L393.60,1020.46 L393.80,1035.23 L394.00,1047.51 L394.20,1056.77 L394.40,1063.21 L394.50,1065.59 L394.60,1067.53 L394.80,1070.50 L395.00,1072.68 L395.20,1074.35 L395.40,1075.73 L395.60,1076.91 L395.80,1077.90 L396.00,1078.74 L396.20,1079.54 L396.40,1080.22 L396.60,1080.79 L396.80,1081.28 L397.00,1081.69 L397.20,1082.01 L397.40,1082.29 L397.50,1082.41 L397.60,1082.52 L397.80,1082.73 L398.00,1082.90 L398.20,1083.02 L398.40,1083.12 L398.60,1083.21 L398.80,1083.29 L399.00,1083.36 L399.20,1083.34 L399.40,1083.31 L399.60,1083.28 L399.80,1083.24 L400.00,1083.20 L400.20,1083.16 L400.40,1083.11 L400.50,1083.09 L400.60,1083.06 L400.80,1083.01 L401.00,1082.96 L401.20,1083.03 L401.40,1083.11 L401.60,1083.18 L401.80,1083.25 L402.00,1083.32 L402.20,1083.34 L402.40,1083.37 L402.60,1083.38 L402.80,1083.40 L403.00,1083.42 L403.20,1083.45 L403.40,1083.47 L403.50,1083.49 L405.00,1083.47 L406.50,1084.05 L408.00,1084.14 L409.50,1083.90 L411.00,1083.66 L412.50,1083.94 L414.00,1084.44 L415.50,1084.24 L417.00,1084.00 L417.09,1084.02 L417.29,1084.06 L417.49,1084.10 L417.69,1084.14 L417.89,1084.18 L418.09,1084.19 L418.29,1084.17 L418.49,1084.14 L418.50,1084.14 L418.69,1084.12 L418.89,1084.09 L419.09,1084.10 L419.29,1084.14 L419.49,1084.18 L419.69,1084.23 L419.89,1084.27 L420.00,1084.29 L420.09,1084.26 L420.29,1084.19 L420.49,1084.13 L420.69,1084.06 L420.89,1083.99 L421.09,1083.93 L421.29,1083.90 L421.49,1083.86 L421.50,1083.86 L421.69,1083.82 L421.89,1083.77 L422.09,1083.72 L422.29,1083.65 L422.49,1083.58 L422.69,1083.49 L422.89,1083.39 L423.00,1083.33 L423.09,1083.28 L423.29,1083.14 L423.49,1082.98 L423.69,1082.80 L423.89,1082.58 L424.09,1082.36 L424.29,1082.11 L424.49,1081.73 L424.50,1081.71 L424.69,1081.09 L424.89,1079.98 L425.09,1078.17 L425.29,1075.51 L425.49,1072.20 L425.69,1068.79 L425.89,1066.19 L426.00,1065.45 L426.09,1065.33 L426.29,1066.21 L426.49,1067.94 L426.69,1069.71 L426.89,1071.33 L427.09,1072.98 L427.29,1074.84 L427.49,1076.82 L427.50,1076.91 L427.69,1078.63 L427.89,1080.10 L428.09,1081.14 L428.29,1081.81 L428.49,1082.24 L428.69,1082.51 L428.89,1082.70 L429.00,1082.79 L429.09,1082.85 L429.29,1082.97 L429.49,1083.06 L429.69,1083.13 L429.89,1083.18 L430.09,1083.26 L430.29,1083.38 L430.49,1083.48 L430.50,1083.49 L430.69,1083.57 L430.89,1083.66 L431.09,1083.74 L431.29,1083.82 L431.49,1083.90 L431.69,1083.98 L431.89,1084.05 L432.00,1084.09 L432.09,1084.08 L432.29,1084.05 L432.49,1084.03 L432.69,1084.00 L432.89,1083.97 L433.09,1083.96 L433.29,1083.96 L433.49,1083.96 L433.50,1083.96 L433.69,1083.96 L433.89,1083.97 L434.09,1083.98 L434.29,1084.02 L434.49,1084.05 L434.69,1084.09 L434.89,1084.12 L435.00,1084.14 L435.09,1084.15 L435.29,1084.16 L435.49,1084.17 L435.69,1084.19 L435.89,1084.20 L436.09,1084.22 L436.29,1084.23 L436.49,1084.24 L436.50,1084.24 L436.69,1084.26 L436.89,1084.27 L437.09,1084.27 L438.00,1084.19 L439.50,1084.09 L441.00,1083.82 L442.50,1084.14 L444.00,1084.64 L445.50,1084.41 L447.00,1083.98 L448.50,1083.85 L450.00,1084.13 L451.50,1084.50 L453.00,1084.50 L454.50,1084.12 L456.00,1084.10 L457.50,1084.32 L459.00,1084.06 L460.50,1084.22 L462.00,1084.26 L463.50,1083.76 L465.00,1083.54 L466.50,1084.09 L468.00,1084.54 L469.50,1083.89 L471.00,1083.41 L472.50,1083.86 L474.00,1084.13 L475.50,1083.97 L477.00,1083.96 L478.50,1083.96 L480.00,1083.83 L481.50,1083.74 L483.00,1084.16 L484.50,1084.40 L486.00,1084.28 L487.50,1084.23 L489.00,1084.00 L490.50,1083.48 L492.00,1083.83 L493.50,1084.04 L495.00,1083.92 L496.50,1084.26 L497.65,1084.25 L497.85,1084.22 L498.00,1084.19 L498.05,1084.19 L498.25,1084.16 L498.45,1084.14 L498.65,1084.11 L498.85,1084.09 L499.05,1084.06 L499.25,1084.03 L499.45,1084.00 L499.50,1083.99 L499.65,1083.96 L499.85,1083.93 L500.05,1083.90 L500.25,1083.90 L500.45,1083.90 L500.65,1083.90 L500.85,1083.90 L501.00,1083.89 L501.05,1083.89 L501.25,1083.87 L501.45,1083.84 L501.65,1083.81 L501.85,1083.78 L502.05,1083.76 L502.25,1083.76 L502.45,1083.76 L502.50,1083.76 L502.65,1083.75 L502.85,1083.72 L503.05,1083.65 L503.25,1083.52 L503.45,1083.37 L503.65,1083.18 L503.85,1082.95 L504.00,1082.75 L504.05,1082.65 L504.25,1082.24 L504.45,1081.77 L504.65,1081.20 L504.85,1080.49 L505.05,1079.52 L505.25,1078.07 L505.45,1075.68 L505.50,1074.88 L505.65,1071.84 L505.85,1066.22 L506.05,1059.05 L506.25,1051.45 L506.45,1045.44 L506.65,1043.23 L506.85,1045.29 L507.00,1048.49 L507.05,1049.67 L507.25,1054.01 L507.45,1056.92 L507.65,1058.53 L507.85,1060.03 L508.05,1062.57 L508.25,1066.13 L508.45,1070.05 L508.50,1070.99 L508.65,1073.59 L508.85,1076.36 L509.05,1078.30 L509.25,1079.60 L509.45,1080.46 L509.65,1081.07 L509.85,1081.54 L510.00,1081.84 L510.05,1081.92 L510.25,1082.20 L510.45,1082.43 L510.65,1082.61 L510.85,1082.75 L511.05,1082.89 L511.25,1083.09 L511.45,1083.26 L511.50,1083.30 L511.65,1083.41 L511.85,1083.55 L512.05,1083.64 L512.25,1083.65 L512.45,1083.65 L512.65,1083.64 L512.85,1083.63 L513.00,1083.61 L513.05,1083.64 L513.25,1083.73 L513.45,1083.81 L513.65,1083.90 L513.85,1083.98 L514.05,1084.06 L514.25,1084.13 L514.45,1084.20 L514.50,1084.21 L514.65,1084.27 L514.85,1084.33 L515.05,1084.40 L515.25,1084.47 L515.45,1084.54 L515.65,1084.61 L515.85,1084.67 L516.00,1084.73 L516.05,1084.72 L516.25,1084.72 L516.45,1084.72 L516.65,1084.72 L516.85,1084.72 L517.05,1084.70 L517.25,1084.65 L517.45,1084.59 L517.50,1084.58 L517.65,1084.54 L519.00,1084.26 L520.50,1084.40 L522.00,1084.55 L523.50,1084.06 L525.00,1084.00 L526.50,1084.34 L528.00,1084.31 L529.50,1083.88 L531.00,1083.64 L532.50,1084.00 L534.00,1084.19 L535.50,1083.99 L537.00,1083.73 L538.50,1084.11 L540.00,1084.43 L541.50,1084.11 L543.00,1084.12 L543.73,1084.06 L543.93,1084.04 L544.13,1084.04 L544.33,1084.05 L544.50,1084.06 L544.53,1084.06 L544.73,1084.07 L544.93,1084.07 L545.13,1084.06 L545.33,1084.03 L545.53,1084.00 L545.73,1083.97 L545.93,1083.94 L546.00,1083.93 L546.13,1083.89 L546.33,1083.83 L546.53,1083.77 L546.73,1083.71 L546.93,1083.64 L547.13,1083.61 L547.33,1083.60 L547.50,1083.59 L547.53,1083.58 L547.73,1083.56 L547.93,1083.53 L548.13,1083.49 L548.33,1083.44 L548.53,1083.37 L548.73,1083.29 L548.93,1083.18 L549.00,1083.14 L549.13,1083.04 L549.33,1082.86 L549.53,1082.63 L549.73,1082.36 L549.93,1082.02 L550.13,1081.60 L550.33,1081.08 L550.50,1080.56 L550.53,1080.45 L550.73,1079.69 L550.93,1078.69 L551.13,1077.20 L551.33,1074.84 L551.53,1070.99 L551.73,1064.78 L551.93,1055.62 L552.00,1051.72 L552.13,1043.83 L552.33,1031.11 L552.53,1020.76 L552.73,1016.69 L552.93,1020.19 L553.13,1028.23 L553.33,1036.43 L553.50,1041.31 L553.53,1041.91 L553.73,1044.07 L553.93,1044.35 L554.13,1045.35 L554.33,1048.89 L554.53,1054.64 L554.73,1061.08 L554.93,1066.88 L555.00,1068.61 L555.13,1071.41 L555.33,1074.59 L555.53,1076.72 L555.73,1078.17 L555.93,1079.22 L556.13,1080.06 L556.33,1080.75 L556.50,1081.26 L556.53,1081.35 L556.73,1081.85 L556.93,1082.28 L557.13,1082.61 L557.33,1082.86 L557.53,1083.06 L557.73,1083.23 L557.93,1083.36 L558.00,1083.40 L558.13,1083.45 L558.33,1083.51 L558.53,1083.55 L558.73,1083.57 L558.93,1083.59 L559.13,1083.58 L559.33,1083.54 L559.50,1083.50 L559.53,1083.50 L559.73,1083.45 L559.93,1083.40 L560.13,1083.44 L560.33,1083.51 L560.53,1083.59 L560.73,1083.66 L560.93,1083.73 L561.00,1083.76 L561.13,1083.77 L561.33,1083.79 L561.53,1083.80 L561.73,1083.82 L561.93,1083.83 L562.13,1083.85 L562.33,1083.88 L562.50,1083.90 L562.53,1083.91 L562.73,1083.93 L562.93,1083.96 L563.13,1083.97 L563.33,1083.98 L563.53,1083.99 L563.73,1084.00 L564.00,1084.02 L565.50,1084.00 L567.00,1084.06 L568.50,1084.02 L570.00,1084.41 L570.53,1084.46 L570.73,1084.48 L570.93,1084.51 L571.13,1084.49 L571.33,1084.45 L571.50,1084.41 L571.53,1084.40 L571.73,1084.36 L571.93,1084.32 L572.13,1084.29 L572.33,1084.26 L572.53,1084.24 L572.73,1084.21 L572.93,1084.18 L573.00,1084.17 L573.13,1084.13 L573.33,1084.06 L573.53,1083.98 L573.73,1083.91 L573.93,1083.83 L574.13,1083.80 L574.33,1083.79 L574.50,1083.78 L574.53,1083.78 L574.73,1083.77 L574.93,1083.75 L575.13,1083.68 L575.33,1083.57 L575.53,1083.45 L575.73,1083.33 L575.93,1083.20 L576.00,1083.15 L576.13,1083.14 L576.33,1083.10 L576.53,1083.05 L576.73,1082.99 L576.93,1082.89 L577.13,1082.72 L577.33,1082.49 L577.50,1082.25 L577.53,1082.20 L577.73,1081.84 L577.93,1081.34 L578.13,1080.58 L578.33,1079.33 L578.53,1077.28 L578.73,1074.22 L578.93,1070.23 L579.00,1068.71 L579.13,1065.94 L579.33,1062.47 L579.53,1061.18 L579.73,1062.53 L579.93,1065.49 L580.13,1068.52 L580.33,1070.58 L580.50,1071.33 L580.53,1071.37 L580.73,1071.27 L580.93,1071.10 L581.13,1071.71 L581.33,1073.30 L581.53,1075.42 L581.73,1077.54 L581.93,1079.30 L582.00,1079.81 L582.13,1080.58 L582.33,1081.44 L582.53,1082.01 L582.73,1082.40 L582.93,1082.69 L583.13,1082.95 L583.33,1083.19 L583.50,1083.36 L583.53,1083.39 L583.73,1083.57 L583.93,1083.73 L584.13,1083.85 L584.33,1083.96 L584.53,1084.06 L584.73,1084.14 L584.93,1084.21 L585.00,1084.23 L585.13,1084.23 L585.33,1084.22 L585.53,1084.20 L585.73,1084.18 L585.93,1084.16 L586.13,1084.14 L586.33,1084.12 L586.50,1084.10 L586.53,1084.10 L586.73,1084.07 L586.93,1084.05 L587.13,1084.02 L587.33,1083.99 L587.53,1083.96 L587.73,1083.93 L587.93,1083.90 L588.00,1083.89 L588.13,1083.89 L588.33,1083.88 L588.53,1083.88 L588.73,1083.88 L588.93,1083.87 L589.13,1083.86 L589.33,1083.84 L589.50,1083.82 L589.53,1083.81 L589.73,1083.79 L589.93,1083.77 L590.13,1083.72 L590.33,1083.67 L590.53,1083.61 L591.00,1083.47 L592.50,1083.59 L594.00,1084.01 L595.50,1084.35 L597.00,1084.54 L598.50,1084.26 L600.00,1084.11 L601.50,1084.03 L603.00,1083.90 L604.50,1084.07 L606.00,1084.29 L607.50,1084.24 L609.00,1084.25 L610.50,1083.86 L612.00,1083.82 L613.50,1084.48 L615.00,1084.92 L616.50,1084.87 L618.00,1084.23 L619.50,1083.94 L621.00,1084.13 L622.50,1084.15 L624.00,1084.13 L625.50,1084.07 L627.00,1083.84 L628.50,1083.93 L630.00,1083.78 L631.50,1083.78 L633.00,1083.90 L634.50,1083.98 L636.00,1084.29 L637.50,1083.96 L638.73,1083.93 L638.93,1083.93 L639.00,1083.93 L639.13,1083.97 L639.33,1084.03 L639.53,1084.09 L639.73,1084.15 L639.93,1084.20 L640.13,1084.22 L640.33,1084.21 L640.50,1084.21 L640.53,1084.21 L640.73,1084.20 L640.93,1084.19 L641.13,1084.12 L641.33,1084.02 L641.53,1083.92 L641.73,1083.82 L641.93,1083.72 L642.00,1083.69 L642.13,1083.67 L642.33,1083.66 L642.53,1083.64 L642.73,1083.61 L642.93,1083.59 L643.13,1083.59 L643.33,1083.60 L643.50,1083.60 L643.53,1083.60 L643.73,1083.60 L643.93,1083.60 L644.13,1083.67 L644.33,1083.78 L644.53,1083.88 L644.73,1083.98 L644.93,1084.07 L645.00,1084.11 L645.13,1084.05 L645.33,1083.96 L645.53,1083.85 L645.73,1083.73 L645.93,1083.58 L646.13,1083.41 L646.33,1083.16 L646.50,1082.82 L646.53,1082.75 L646.73,1082.11 L646.93,1081.24 L647.13,1080.09 L647.33,1078.88 L647.53,1077.92 L647.63,1077.63 L647.73,1077.50 L647.83,1077.54 L647.93,1077.73 L648.00,1077.93 L648.03,1078.05 L648.13,1078.49 L648.23,1078.95 L648.33,1079.39 L648.43,1079.79 L648.53,1080.13 L648.63,1080.38 L648.73,1080.55 L648.83,1080.64 L648.93,1080.66 L649.03,1080.62 L649.13,1080.53 L649.23,1080.44 L649.33,1080.36 L649.43,1080.34 L649.50,1080.36 L649.53,1080.37 L649.63,1080.48 L649.73,1080.65 L649.83,1080.87 L649.93,1081.12 L650.03,1081.40 L650.13,1081.71 L650.23,1082.00 L650.33,1082.28 L650.43,1082.53 L650.53,1082.75 L650.63,1082.94 L650.73,1083.10 L650.83,1083.25 L650.93,1083.37 L651.00,1083.44 L651.03,1083.46 L651.13,1083.51 L651.23,1083.56 L651.33,1083.60 L651.43,1083.63 L651.53,1083.66 L651.63,1083.68 L651.73,1083.70 L651.83,1083.71 L651.93,1083.73 L652.03,1083.74 L652.13,1083.76 L652.23,1083.77 L652.33,1083.79 L652.43,1083.80 L652.50,1083.81 L652.53,1083.81 L652.63,1083.82 L652.73,1083.82 L652.83,1083.83 L652.93,1083.83 L653.03,1083.83 L653.13,1083.85 L653.23,1083.86 L653.33,1083.88 L653.43,1083.89 L653.53,1083.90 L653.63,1083.90 L653.73,1083.90 L653.83,1083.90 L653.93,1083.90 L654.00,1083.90 L654.03,1083.90 L654.13,1083.89 L654.23,1083.87 L654.33,1083.85 L654.43,1083.83 L654.53,1083.80 L654.63,1083.77 L654.73,1083.72 L654.83,1083.66 L654.93,1083.58 L655.03,1083.46 L655.13,1083.31 L655.23,1083.10 L655.33,1082.84 L655.43,1082.52 L655.50,1082.24 L655.53,1082.12 L655.63,1081.63 L655.73,1081.05 L655.83,1080.40 L655.93,1079.68 L656.03,1078.90 L656.13,1078.07 L656.23,1077.28 L656.33,1076.58 L656.43,1076.01 L656.53,1075.64 L656.63,1075.49 L656.73,1075.58 L656.83,1075.87 L656.93,1076.31 L657.00,1076.68 L657.03,1076.85 L657.13,1077.43 L657.23,1078.00 L657.33,1078.50 L657.43,1078.91 L657.53,1079.22 L657.63,1079.40 L657.73,1079.48 L657.83,1079.45 L657.93,1079.35 L658.03,1079.22 L658.13,1079.11 L658.23,1079.02 L658.33,1078.99 L658.43,1079.04 L658.50,1079.13 L658.53,1079.18 L658.63,1079.42 L658.73,1079.73 L658.83,1080.10 L659.03,1080.91 L659.23,1081.67 L659.43,1082.31 L659.63,1082.79 L659.83,1083.13 L660.00,1083.34 L660.03,1083.37 L660.23,1083.52 L660.43,1083.63 L660.63,1083.72 L660.83,1083.80 L661.03,1083.85 L661.23,1083.85 L661.43,1083.84 L661.50,1083.83 L661.63,1083.82 L661.83,1083.79 L662.03,1083.78 L662.23,1083.84 L662.43,1083.90 L662.63,1083.96 L662.83,1084.01 L663.00,1084.06 L663.03,1084.07 L663.23,1084.10 L663.43,1084.14 L663.63,1084.17 L663.83,1084.20 L664.03,1084.23 L664.23,1084.23 L664.43,1084.23 L664.50,1084.23 L664.63,1084.23 L664.83,1084.22 L665.03,1084.22 L665.23,1084.23 L665.43,1084.24 L665.63,1084.24 L665.83,1084.25 L666.00,1084.26" stroke="#0a860a" stroke-width="6.1"/>
<path d="M702.00,1084.31 L703.00,1084.74 L704.00,1085.11 L705.00,1084.89 L706.00,1084.62 L707.00,1084.15 L708.00,1083.88 L709.00,1083.85 L710.00,1084.06 L711.00,1084.41 L712.00,1084.53 L713.00,1084.58 L714.00,1084.53 L715.00,1084.44 L716.00,1084.57 L717.00,1084.29 L718.00,1084.57 L719.00,1084.46 L720.00,1084.42 L721.00,1084.14 L722.00,1084.33 L723.00,1084.45 L724.00,1084.49 L725.00,1084.20 L726.00,1084.53 L727.00,1084.48 L728.00,1084.40 L729.00,1084.23 L730.00,1084.27 L731.00,1084.39 L732.00,1084.23 L733.00,1083.92 L734.00,1083.90 L735.00,1083.73 L736.00,1083.81 L737.00,1083.83 L738.00,1084.27 L739.00,1084.55 L740.00,1084.25 L741.00,1084.24 L742.00,1083.76 L743.00,1084.08 L744.00,1083.94 L745.00,1084.41 L746.00,1084.41 L747.00,1084.56 L748.00,1084.32 L749.00,1084.27 L750.00,1084.24 L751.00,1084.26 L752.00,1084.19 L753.00,1084.06 L754.00,1083.89 L755.00,1083.94 L756.00,1083.77 L757.00,1084.25 L758.00,1084.50 L759.00,1084.77 L760.00,1084.89 L761.00,1084.72 L762.00,1084.55 L763.00,1084.25 L764.00,1084.27 L765.00,1084.28 L766.00,1084.29 L767.00,1084.04 L768.00,1083.93 L769.00,1083.91 L770.00,1083.91 L771.00,1084.25 L772.00,1084.27 L773.00,1084.37 L774.00,1084.37 L775.00,1084.34 L776.00,1084.71 L777.00,1084.49 L778.00,1084.37 L779.00,1084.17 L780.00,1084.04 L781.00,1084.29 L782.00,1084.28 L783.00,1083.92 L784.00,1083.75 L785.00,1083.72 L786.00,1084.05 L787.00,1084.00 L788.00,1083.91 L789.00,1083.79 L790.00,1083.88 L791.00,1083.93 L792.00,1084.13 L793.00,1084.03 L794.00,1084.04 L795.00,1084.33 L796.00,1084.47 L797.00,1084.42 L798.00,1084.18 L799.00,1084.03 L800.00,1084.22 L801.00,1084.34 L802.00,1084.34 L803.00,1084.40 L804.00,1084.47 L805.00,1084.42 L806.00,1084.29 L807.00,1084.19 L808.00,1084.39 L809.00,1084.42 L810.00,1084.34 L811.00,1084.19 L812.00,1083.90 L813.00,1084.00 L814.00,1084.07 L815.00,1083.97 L816.00,1083.93 L817.00,1084.00 L818.00,1084.31 L819.00,1084.26 L820.00,1084.31 L821.00,1084.20 L822.00,1084.00 L823.00,1084.13 L824.00,1083.99 L825.00,1084.27 L826.00,1084.32 L827.00,1084.47 L828.00,1084.62 L829.00,1084.30 L830.00,1084.34 L831.00,1083.86 L832.00,1084.00 L833.00,1083.94 L834.00,1084.35 L835.00,1084.10 L836.00,1084.22 L837.00,1084.13 L838.00,1084.48 L839.00,1084.59 L840.00,1084.38 L841.00,1084.32 L842.00,1084.17 L843.00,1084.24 L844.00,1084.02 L845.00,1084.19 L846.00,1084.05 L847.00,1084.04 L848.00,1083.71 L849.00,1083.97 L850.00,1084.00 L851.00,1083.99 L852.00,1083.94 L853.00,1083.95 L854.00,1084.08 L855.00,1084.14 L856.00,1084.36 L857.00,1084.41 L858.00,1084.40 L859.00,1084.31 L860.00,1084.28 L861.00,1084.23 L862.00,1084.03 L863.00,1083.96 L864.00,1083.88 L865.00,1084.00 L866.00,1083.73 L867.00,1083.77 L868.00,1083.77 L869.00,1084.31 L870.00,1084.62 L871.00,1084.34 L872.00,1084.07 L873.00,1083.82 L874.00,1083.78 L875.00,1083.77 L876.00,1083.81 L877.00,1084.05 L878.00,1083.87 L879.00,1083.96 L880.00,1083.86 L881.00,1084.16 L882.00,1083.77 L883.00,1083.90 L884.00,1084.04 L885.00,1084.46 L886.00,1084.61 L887.00,1084.55 L888.00,1084.26 L889.00,1083.90 L890.00,1084.04 L891.00,1083.98 L892.00,1084.06 L893.00,1083.95 L894.00,1084.17 L895.00,1084.52 L896.00,1084.33 L897.00,1084.49 L898.00,1084.74 L899.00,1084.72 L900.00,1084.54 L901.00,1083.99 L902.00,1084.07 L903.00,1084.00 L904.00,1084.21 L905.00,1084.38 L906.00,1084.49 L907.00,1084.51 L908.00,1084.21 L909.00,1084.24 L910.00,1084.02 L911.00,1084.35 L912.00,1084.34 L913.00,1084.12 L914.00,1083.95 L915.00,1083.68 L916.00,1083.94 L917.00,1084.10 L918.00,1084.64 L919.00,1084.76 L920.00,1084.68 L921.00,1084.44 L922.00,1084.33 L923.00,1083.95 L924.00,1084.00 L925.00,1084.07 L926.00,1084.38 L927.00,1084.29 L928.00,1084.33 L929.00,1084.35 L930.00,1084.46 L931.00,1084.38 L932.00,1084.55 L933.00,1084.33 L934.00,1084.28 L935.00,1083.93 L936.00,1083.85 L937.00,1083.51 L938.00,1083.48 L939.00,1083.57 L940.00,1084.11 L941.00,1084.17 L942.00,1084.16 L943.00,1083.98 L944.00,1084.11 L945.00,1083.86 L946.00,1083.80 L947.00,1084.14 L948.00,1084.60 L949.00,1084.59 L950.00,1084.28 L951.00,1084.28 L952.00,1084.36 L953.00,1084.42 L954.00,1084.29 L955.00,1084.19 L956.00,1084.11 L957.00,1083.90 L958.00,1084.02 L959.00,1084.06 L960.00,1084.16 L961.00,1084.25 L962.00,1084.23 L963.00,1084.32 L964.00,1084.18 L965.00,1084.01 L966.00,1084.03 L967.00,1084.12 L968.00,1084.41 L969.00,1084.10 L970.00,1084.12 L971.00,1083.92 L972.00,1084.13 L973.00,1083.89 L974.00,1084.29 L975.00,1084.47 L976.00,1084.68 L977.00,1084.40 L978.00,1084.04 L979.00,1084.01 L980.00,1083.97 L981.00,1084.21 L982.00,1083.99 L983.00,1083.88 L984.00,1084.11 L985.00,1084.43 L986.00,1084.50 L987.00,1084.27 L988.00,1084.46 L989.00,1084.41 L990.00,1084.14 L991.00,1083.38 L992.00,1083.22 L993.00,1083.22 L994.00,1083.09 L995.00,1082.90 L996.00,1082.79 L997.00,1082.94 L998.00,1082.56 L999.00,1082.28 L1000.00,1082.05 L1001.00,1082.50 L1002.00,1082.57 L1003.00,1082.49 L1004.00,1082.29 L1005.00,1081.93 L1006.00,1081.92 L1007.00,1081.78 L1008.00,1081.79 L1009.00,1081.58 L1010.00,1081.10 L1011.00,1080.98 L1012.00,1081.12 L1013.00,1081.31 L1014.00,1081.45 L1015.00,1081.08 L1016.00,1081.28 L1017.00,1080.70 L1018.00,1080.48 L1019.00,1079.56 L1020.00,1079.73 L1021.00,1079.74 L1022.00,1080.22 L1023.00,1079.83 L1024.00,1079.46 L1025.00,1078.27 L1026.00,1077.58 L1027.00,1077.12 L1028.00,1076.90 L1029.00,1076.61 L1030.00,1075.62 L1031.00,1074.92 L1032.00,1073.90 L1033.00,1072.65 L1034.00,1071.36 L1035.00,1069.96 L1036.00,1068.25 L1037.00,1065.78 L1038.00,1062.95 L1039.00,1060.14 L1040.00,1057.51 L1041.00,1055.02 L1042.00,1051.89 L1043.00,1048.13 L1044.00,1042.70 L1045.00,1037.20 L1046.00,1031.79 L1047.00,1027.84 L1048.00,1024.87 L1049.00,1021.97 L1050.00,1019.57 L1051.00,1017.31 L1052.00,1016.46 L1053.00,1016.37 L1054.00,1018.00 L1055.00,1020.38 L1056.00,1023.39 L1057.00,1026.37 L1058.00,1029.37 L1059.00,1033.00 L1060.00,1036.61 L1061.00,1040.18 L1062.00,1042.98 L1063.00,1045.51 L1064.00,1047.62 L1065.00,1049.50 L1066.00,1050.81 L1067.00,1051.93 L1068.00,1051.85 L1069.00,1051.28 L1070.00,1049.88 L1071.00,1048.81 L1072.00,1047.73 L1073.00,1046.61 L1074.00,1046.18 L1075.00,1046.29 L1076.00,1046.77 L1077.00,1047.36 L1078.00,1048.09 L1079.00,1048.93 L1080.00,1049.52 L1081.00,1050.33 L1082.00,1051.14 L1083.00,1052.22 L1084.00,1053.34 L1085.00,1054.72 L1086.00,1056.76 L1087.00,1059.10 L1088.00,1061.59 L1089.00,1064.26 L1090.00,1066.92 L1091.00,1069.25 L1092.00,1071.07 L1093.00,1072.68 L1094.00,1075.02 L1095.00,1076.64 L1096.00,1077.96 L1097.00,1078.58 L1098.00,1079.68 L1099.00,1080.19 L1100.00,1080.67 L1101.00,1080.69 L1102.00,1081.15 L1103.00,1081.33 L1104.00,1081.61 L1105.00,1081.47 L1106.00,1081.47 L1107.00,1081.61 L1108.00,1082.05 L1109.00,1082.16 L1110.00,1082.18 L1111.00,1081.85 L1112.00,1082.27 L1113.00,1082.21 L1114.00,1082.72 L1115.00,1082.89 L1116.00,1083.30 L1117.00,1083.39 L1118.00,1083.59 L1119.00,1084.08 L1120.00,1084.11 L1121.00,1084.07 L1122.00,1083.48 L1123.00,1083.67 L1124.00,1083.54 L1125.00,1083.88 L1126.00,1083.91 L1127.00,1083.98 L1128.00,1084.19 L1129.00,1084.37 L1130.00,1084.68 L1131.00,1084.55 L1132.00,1084.29 L1133.00,1084.21 L1134.00,1084.40 L1135.00,1084.39 L1136.00,1084.26 L1137.00,1084.06 L1138.00,1084.27 L1139.00,1084.19 L1140.00,1083.86 L1141.00,1083.83 L1142.00,1084.06 L1143.00,1084.47 L1144.00,1084.51 L1145.00,1084.35 L1146.00,1084.12 L1147.00,1084.04 L1148.00,1083.97 L1149.00,1083.97 L1150.00,1084.09 L1151.00,1084.15 L1152.00,1083.90 L1153.00,1083.81 L1154.00,1083.83 L1155.00,1084.21 L1156.00,1084.05 L1157.00,1084.12 L1158.00,1084.30 L1159.00,1084.48 L1160.00,1084.59 L1161.00,1084.38 L1162.00,1084.53 L1163.00,1084.78 L1164.00,1084.91 L1165.00,1084.73 L1166.00,1084.38 L1167.00,1084.57 L1168.00,1084.28 L1169.00,1084.38 L1170.00,1084.09 L1171.00,1084.30 L1172.00,1084.20 L1173.00,1084.39 L1174.00,1084.35 L1175.00,1084.36 L1176.00,1084.44 L1177.00,1084.51 L1178.00,1084.64 L1179.00,1084.42 L1180.00,1084.06 L1181.00,1083.83 L1182.00,1083.86 L1183.00,1084.16 L1184.00,1083.93 L1185.00,1083.72 L1186.00,1083.65 L1187.00,1083.90 L1188.00,1084.08 L1189.00,1084.34 L1190.00,1084.42 L1191.00,1084.51 L1192.00,1084.27 L1193.00,1083.94 L1194.00,1083.96 L1195.00,1083.95 L1196.00,1084.26 L1197.00,1084.50 L1198.00,1084.55 L1199.00,1084.82 L1200.00,1084.43 L1201.00,1084.33 L1202.00,1083.84 L1203.00,1083.96 L1204.00,1083.72 L1205.00,1083.92 L1206.00,1083.96 L1207.00,1084.42 L1208.00,1084.44 L1209.00,1084.49 L1210.00,1084.48 L1211.00,1084.44 L1212.00,1084.36 L1213.00,1084.17 L1214.00,1084.13 L1215.00,1084.32 L1216.00,1084.21 L1217.00,1084.42 L1218.00,1084.31 L1219.00,1084.25 L1220.00,1083.81 L1221.00,1083.59 L1222.00,1083.90 L1223.00,1084.10 L1224.00,1084.30 L1225.00,1084.21 L1226.00,1084.06 L1227.00,1084.02 L1228.00,1084.18 L1229.00,1084.35 L1230.00,1084.23 L1231.00,1083.89 L1232.00,1084.06 L1233.00,1084.36 L1234.00,1084.60 L1235.00,1084.25 L1236.00,1083.76 L1237.00,1083.73 L1238.00,1083.75 L1239.00,1083.88 L1240.00,1083.70 L1241.00,1083.92 L1242.00,1083.82 L1243.00,1084.17 L1244.00,1084.39 L1245.00,1084.82 L1246.00,1084.43 L1247.00,1084.38 L1248.00,1084.21 L1249.00,1084.56 L1250.00,1084.44" stroke="#0a860a" stroke-width="6.1"/>
</g>
<g stroke="#1a1a1a" stroke-width="2.6" fill="none" stroke-linecap="round">
<path d="M682.8,8.1 C675.8,9.6 673.3,15.6 675.8,22.6 C677.8,27.6 680.3,31.6 678.3,35.6 C676.8,38.1 674.8,38.6 671.8,39.6"/>
<path d="M696.1,9.3 C689.1,10.8 686.6,16.8 689.1,23.8 C691.1,28.8 693.6,32.8 691.6,36.8 C690.1,39.3 688.1,39.8 685.1,40.8"/>
<path d="M682.8,1065.9 C675.8,1067.4 673.3,1073.4 675.8,1080.4 C677.8,1085.4 680.3,1089.4 678.3,1093.4 C676.8,1095.9 674.8,1096.4 671.8,1097.4"/>
<path d="M696.3,1066.9 C689.3,1068.4 686.8,1074.4 689.3,1081.4 C691.3,1086.4 693.8,1090.4 691.8,1094.4 C690.3,1096.9 688.3,1097.4 685.3,1098.4"/>
</g>
<g font-family="Liberation Sans, sans-serif" font-size="23.6" fill="#333333" text-anchor="middle">
<text x="117.8" y="1124.3">10</text>
<text x="196.1" y="1124.3">20</text>
<text x="274.3" y="1124.3">30</text>
<text x="352.6" y="1124.3">40</text>
<text x="430.8" y="1124.3">50</text>
<text x="509.1" y="1124.3">60</text>
<text x="587.3" y="1124.3">70</text>
<text x="665.5" y="1124.3">80</text>
<text x="701.2" y="1124.3">63</text>
<text x="839.1" y="1124.3">64</text>
<text x="976.2" y="1124.3">65</text>
<text x="1113.3" y="1124.3">66</text>
<text x="1250.4" y="1124.3">67</text>
</g>
<g font-family="Liberation Sans, sans-serif" font-size="55.4" font-weight="bold" fill="#0a0a0a" text-anchor="middle">
<text x="259.5" y="261.6">(a)</text>
<text x="261.5" y="353.8">(b)</text>
<text x="259.7" y="441.5">(c)</text>
<text x="262.6" y="534.5">(d)</text>
<text x="261.1" y="623.7">(e)</text>
<text x="259.0" y="709.4">(f)</text>
<text x="260.0" y="791.9">(g)</text>
<text x="264.1" y="887.5">(h)</text>
<text x="259.5" y="972.9">(i)</text>
<text x="258.0" y="1059.0">(j)</text>
</g>
<g font-family="Liberation Sans, sans-serif" font-weight="bold" fill="#0a0a0a">
<text x="538" y="1201" font-size="54.5">2</text>
<text transform="translate(568.8,1201) scale(1.2,1)" font-size="43" font-weight="normal">θ</text>
<text x="610.3" y="1201" font-size="54.5" textLength="249.5" lengthAdjust="spacingAndGlyphs">(degrees)</text>
</g>
<text transform="translate(53.2,570) rotate(-90)" font-family="Liberation Sans, sans-serif" font-size="54.5" font-weight="bold" fill="#0a0a0a" text-anchor="middle" textLength="528.5" lengthAdjust="spacingAndGlyphs">Intensity (arb. units)</text>
</svg>
</body></html>
